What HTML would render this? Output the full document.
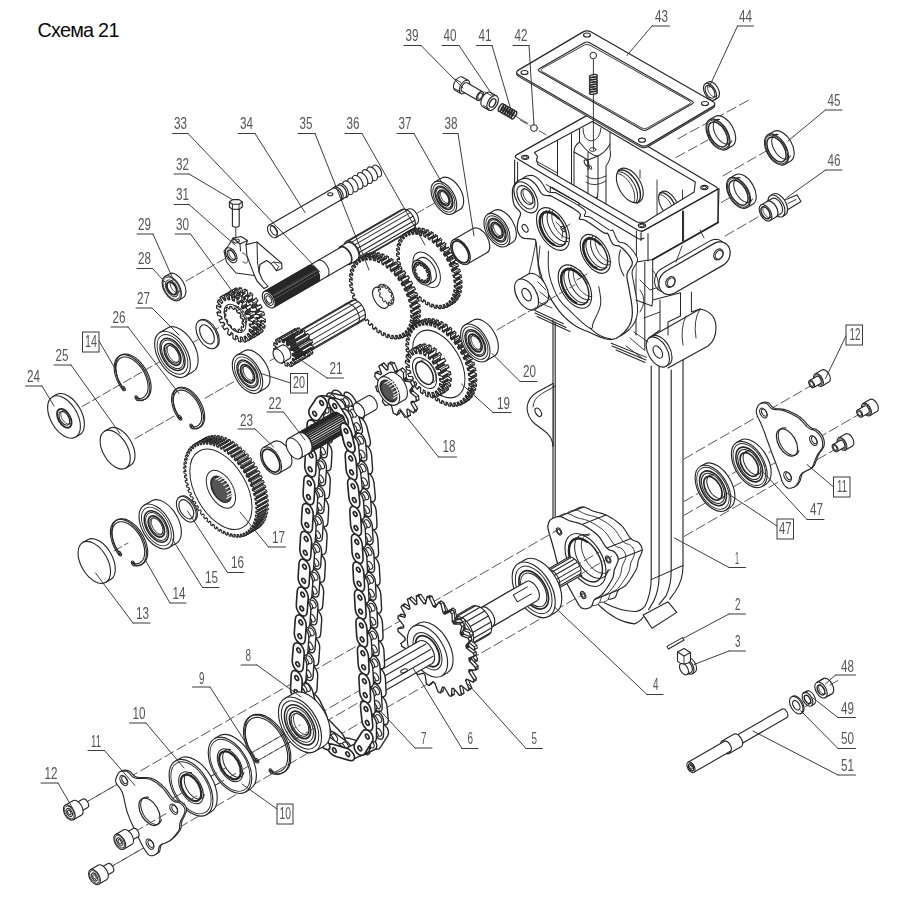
<!DOCTYPE html>
<html><head><meta charset="utf-8"><title>Схема 21</title>
<style>
html,body{margin:0;padding:0;background:#fff;}
body{width:904px;height:904px;overflow:hidden;position:relative;font-family:"Liberation Sans",sans-serif;}
h1{position:absolute;left:37.4px;top:18.6px;margin:0;font-weight:normal;font-size:19.8px;line-height:22px;color:#0a0a0a;letter-spacing:-0.72px;white-space:nowrap;}
svg{position:absolute;left:0;top:0;will-change:transform;}
.lb{font-family:"Liberation Sans",sans-serif;font-size:16.5px;fill:#555;}
</style></head><body>
<h1>Схема 21</h1>
<svg width="904" height="904" viewBox="0 0 904 904" fill="none" stroke-linecap="round">
<path d="M553 320 L553 520 M555.2 322 L555.2 516" fill="none" stroke="#262626" stroke-width="1.12" stroke-linejoin="round" />
<path d="M651.2 366 L651.2 579.6 Q651 594 645 606.2 Q640 612 634.3 611.5 Q620 611 604.2 602.7" fill="none" stroke="#262626" stroke-width="1.12" stroke-linejoin="round" />
<path d="M659.1 362 L659.1 576 Q659 590 653.8 600.9 L648.5 609.7" fill="none" stroke="#262626" stroke-width="1.12" stroke-linejoin="round" />
<path d="M671.2 370 L671.2 570.8 Q671.2 585 666.2 595.6 L659.1 604.4" fill="none" stroke="#262626" stroke-width="1.12" stroke-linejoin="round" />
<path d="M683 358 L683 565.5 Q683.2 580 675 592 L669.7 599.1" fill="none" stroke="#262626" stroke-width="1.12" stroke-linejoin="round" />
<line x1="651.2" y1="579.6" x2="683.0" y2="565.5" stroke="#262626" stroke-width="1.01" />
<path d="M644.8 262 L644.8 350 M636 262 L636 335" fill="none" stroke="#262626" stroke-width="1.01" stroke-linejoin="round" />
<path d="M598 604.4 Q616 622 634.3 623.9 Q640 622 643.2 617" fill="none" stroke="#262626" stroke-width="1.12" stroke-linejoin="round" />
<path d="M643.2 615.0 L668.0 601.8 L676.8 612.4 L652.0 628.3 Z" fill="#fff" stroke="#262626" stroke-width="1.12" stroke-linejoin="round" />
<line x1="643.2" y1="615.0" x2="648.0" y2="622.0" stroke="#262626" stroke-width="0.90" />
<path d="M553 383.5 L537 392.3 Q527.5 398 527 408.5 Q528 418 534.5 423.5 L544.5 431 Q552 436 553 446" fill="#fff" stroke="#262626" stroke-width="1.12" stroke-linejoin="round" />
<path d="M555.2 386 L542 393.5 Q533 399 533 407" fill="none" stroke="#262626" stroke-width="0.90" stroke-linejoin="round" />
<ellipse cx="538.3" cy="412.3" rx="4.60" ry="2.65" transform="rotate(60 538.3 412.3)" fill="none" stroke="#262626" stroke-width="1.12" />
<line x1="553.0" y1="383.5" x2="553.0" y2="446.0" stroke="#262626" stroke-width="1.12" />
<path d="M572.2 515.0 L572.5 514.0 L572.8 512.9 L573.2 511.9 L573.8 510.9 L574.8 510.0 L576.1 509.2 L577.7 508.3 L579.6 507.6 L581.6 507.1 L583.5 507.0 L585.4 507.4 L587.3 508.2 L589.3 509.2 L591.3 510.3 L593.5 511.2 L595.8 511.9 L598.2 512.5 L600.7 513.1 L603.3 513.9 L606.0 515.0 L608.9 516.5 L612.1 518.4 L615.2 520.4 L618.3 522.7 L621.0 525.0 L623.4 527.7 L625.5 530.7 L627.4 533.8 L629.2 536.6 L631.0 538.8 L632.7 540.1 L634.4 540.8 L635.9 541.2 L637.3 541.7 L638.5 542.5 L639.6 543.7 L640.6 545.1 L641.5 546.6 L642.0 548.3 L642.2 550.0 L642.0 551.8 L641.2 553.8 L640.3 555.9 L639.3 558.0 L638.5 560.0 L638.0 561.9 L637.8 563.8 L637.5 565.6 L637.0 567.7 L636.0 570.0 L634.4 572.8 L632.4 576.1 L630.2 579.5 L628.0 582.6 L626.0 585.0 L624.3 586.6 L622.6 587.6 L621.1 588.3 L619.7 589.0 L618.5 590.0 L617.6 591.4 L617.0 593.1 L616.4 594.8 L615.8 596.4 L614.8 597.5 L613.3 598.3 L611.5 598.9 L609.6 599.3 L607.7 599.2 L606.0 598.8 L604.6 597.7 L603.3 596.1 L602.1 594.2 L601.0 592.1 L599.8 590.0 L598.6 588.0 L597.4 586.0 L596.3 583.9 L595.0 581.5 L593.5 578.8 L591.7 575.5 L589.6 572.0 L587.4 568.1 L585.3 564.1 L583.5 560.0 L582.0 555.7 L580.7 551.0 L579.5 546.3 L578.4 541.7 L577.2 537.5 L576.1 533.5 L574.9 529.5 L573.8 525.9 L572.9 522.6 L572.2 520.0 L571.9 518.2 L571.8 517.1 L571.8 516.4 L572.0 515.8 Z" fill="#fff" stroke="#262626" stroke-width="1.12" stroke-linejoin="round" />
<path d="M564.6 518.0 L564.8 517.0 L565.1 515.9 L565.5 514.9 L566.1 513.9 L567.1 513.0 L568.4 512.2 L570.1 511.3 L571.9 510.6 L573.9 510.1 L575.8 510.0 L577.7 510.4 L579.6 511.2 L581.6 512.3 L583.6 513.4 L585.8 514.3 L588.1 515.0 L590.5 515.5 L593.0 516.1 L595.6 516.9 L598.3 518.0 L601.2 519.6 L604.4 521.4 L607.6 523.5 L610.6 525.7 L613.3 528.0 L615.7 530.7 L617.8 533.7 L619.7 536.8 L621.6 539.6 L623.3 541.8 L625.0 543.1 L626.7 543.8 L628.2 544.2 L629.6 544.7 L630.8 545.5 L631.9 546.8 L633.0 548.1 L633.8 549.7 L634.4 551.3 L634.6 553.0 L634.3 554.9 L633.6 556.9 L632.6 558.9 L631.6 561.0 L630.8 563.0 L630.4 565.0 L630.1 566.8 L629.8 568.7 L629.3 570.7 L628.3 573.0 L626.8 575.9 L624.7 579.2 L622.5 582.5 L620.3 585.6 L618.3 588.0 L616.6 589.6 L615.0 590.6 L613.4 591.3 L612.0 592.0 L610.8 593.0 L609.9 594.5 L609.3 596.2 L608.8 597.9 L608.1 599.4 L607.1 600.5 L605.6 601.4 L603.8 602.0 L601.9 602.3 L600.0 602.3 L598.3 601.8 L596.9 600.7 L595.6 599.1 L594.5 597.2 L593.3 595.1 L592.1 593.0 L590.9 591.1 L589.8 589.1 L588.6 587.0 L587.3 584.6 L585.8 581.8 L584.0 578.6 L581.9 575.0 L579.7 571.2 L577.6 567.1 L575.8 563.0 L574.3 558.7 L573.0 554.1 L571.8 549.4 L570.7 544.8 L569.6 540.5 L568.4 536.5 L567.2 532.6 L566.1 528.9 L565.2 525.7 L564.6 523.0 L564.2 521.2 L564.1 520.1 L564.2 519.4 L564.3 518.8 Z" fill="#fff" stroke="#262626" stroke-width="0.90" stroke-linejoin="round" />
<path d="M555.9 521.5 L556.2 520.4 L556.4 519.4 L556.9 518.3 L557.5 517.3 L558.4 516.5 L559.8 515.6 L561.4 514.8 L563.3 514.0 L565.2 513.6 L567.2 513.5 L569.1 513.9 L571.0 514.7 L572.9 515.7 L575.0 516.8 L577.2 517.7 L579.5 518.4 L581.9 518.9 L584.4 519.5 L587.0 520.3 L589.7 521.5 L592.6 523.0 L595.7 524.8 L598.9 526.9 L602.0 529.1 L604.7 531.5 L607.0 534.1 L609.2 537.2 L611.1 540.2 L612.9 543.0 L614.7 545.2 L616.4 546.5 L618.0 547.3 L619.6 547.7 L621.0 548.1 L622.2 549.0 L623.3 550.2 L624.3 551.6 L625.1 553.1 L625.7 554.7 L625.9 556.5 L625.6 558.3 L624.9 560.3 L624.0 562.3 L623.0 564.4 L622.2 566.5 L621.7 568.4 L621.4 570.2 L621.2 572.1 L620.6 574.1 L619.7 576.5 L618.1 579.3 L616.1 582.6 L613.9 585.9 L611.6 589.0 L609.7 591.5 L608.0 593.1 L606.3 594.1 L604.8 594.8 L603.4 595.5 L602.2 596.5 L601.3 597.9 L600.6 599.6 L600.1 601.3 L599.4 602.8 L598.4 604.0 L597.0 604.8 L595.2 605.4 L593.2 605.7 L591.3 605.7 L589.7 605.2 L588.3 604.1 L587.0 602.6 L585.8 600.6 L584.6 598.5 L583.4 596.5 L582.2 594.5 L581.1 592.5 L579.9 590.4 L578.7 588.0 L577.2 585.2 L575.4 582.0 L573.3 578.4 L571.1 574.6 L569.0 570.6 L567.2 566.5 L565.7 562.1 L564.3 557.5 L563.2 552.8 L562.0 548.2 L560.9 544.0 L559.8 539.9 L558.6 536.0 L557.5 532.3 L556.6 529.1 L555.9 526.5 L555.6 524.7 L555.4 523.6 L555.5 522.9 L555.7 522.3 Z" fill="#fff" stroke="#262626" stroke-width="0.90" stroke-linejoin="round" />
<line x1="559.5" y1="516.5" x2="583.5" y2="507.0" stroke="#262626" stroke-width="1.01" />
<line x1="618.2" y1="559.5" x2="642.2" y2="550.0" stroke="#262626" stroke-width="1.01" />
<line x1="594.5" y1="599.5" x2="618.5" y2="590.0" stroke="#262626" stroke-width="1.01" />
<line x1="607.0" y1="548.0" x2="631.0" y2="538.5" stroke="#262626" stroke-width="1.01" />
<line x1="582.0" y1="524.5" x2="606.0" y2="515.0" stroke="#262626" stroke-width="1.01" />
<path d="M548.2 524.5 L548.5 523.5 L548.8 522.4 L549.2 521.4 L549.8 520.4 L550.8 519.5 L552.1 518.7 L553.7 517.8 L555.6 517.1 L557.6 516.6 L559.5 516.5 L561.4 516.9 L563.3 517.7 L565.3 518.7 L567.3 519.8 L569.5 520.8 L571.8 521.4 L574.2 522.0 L576.7 522.6 L579.3 523.4 L582.0 524.5 L584.9 526.0 L588.1 527.9 L591.2 529.9 L594.3 532.2 L597.0 534.5 L599.4 537.2 L601.5 540.2 L603.4 543.3 L605.2 546.1 L607.0 548.2 L608.7 549.6 L610.4 550.3 L611.9 550.7 L613.3 551.2 L614.5 552.0 L615.6 553.2 L616.6 554.6 L617.5 556.1 L618.0 557.8 L618.2 559.5 L618.0 561.3 L617.2 563.3 L616.3 565.4 L615.3 567.5 L614.5 569.5 L614.0 571.4 L613.8 573.3 L613.5 575.1 L613.0 577.2 L612.0 579.5 L610.4 582.3 L608.4 585.6 L606.2 589.0 L604.0 592.1 L602.0 594.5 L600.3 596.1 L598.6 597.1 L597.1 597.8 L595.7 598.5 L594.5 599.5 L593.6 600.9 L593.0 602.6 L592.4 604.3 L591.8 605.9 L590.8 607.0 L589.3 607.8 L587.5 608.4 L585.6 608.8 L583.7 608.7 L582.0 608.2 L580.6 607.2 L579.3 605.6 L578.1 603.7 L577.0 601.6 L575.8 599.5 L574.6 597.5 L573.4 595.5 L572.3 593.4 L571.0 591.0 L569.5 588.2 L567.7 585.0 L565.6 581.5 L563.4 577.6 L561.3 573.6 L559.5 569.5 L558.0 565.2 L556.7 560.5 L555.5 555.8 L554.4 551.2 L553.2 547.0 L552.1 543.0 L550.9 539.0 L549.8 535.4 L548.9 532.1 L548.2 529.5 L547.9 527.7 L547.8 526.6 L547.8 525.9 L548.0 525.3 Z" fill="#fff" stroke="#262626" stroke-width="1.23" stroke-linejoin="round" />
<ellipse cx="585.5" cy="560.0" rx="29.00" ry="16.73" transform="rotate(60 585.5 560.0)" fill="none" stroke="#262626" stroke-width="1.12" />
<ellipse cx="585.5" cy="560.0" rx="24.00" ry="13.85" transform="rotate(60 585.5 560.0)" fill="none" stroke="#262626" stroke-width="1.46" />
<path d="M608.2 569.6 L607.4 572.5 L606.1 575.0 L604.3 576.8 L602.0 577.9 L599.4 578.4 L596.6 578.1 L593.6 577.2 L590.5 575.5 L587.5 573.2 L584.6 570.4 L581.9 567.1 L579.5 563.4 L577.5 559.6 L576.0 555.6 L575.0 551.6 L574.6 547.9 L574.7 544.4 L575.3 541.3 L576.5 538.7 L578.2 536.7 L580.3 535.3 L582.8 534.7 L585.6 534.7 L588.5 535.5" fill="none" stroke="#262626" stroke-width="1.01" stroke-linejoin="round" />
<path d="M610.3 569.1 L609.1 570.8 L607.6 572.1 L605.8 573.0 L603.7 573.3 L601.5 573.2 L599.1 572.5 L596.7 571.4 L594.3 569.8 L591.9 567.8 L589.7 565.4 L587.6 562.8 L585.8 559.9 L584.2 556.9 L582.9 553.7 L582.0 550.6 L581.5 547.6 L581.3 544.7 L581.5 542.0 L582.1 539.6 L583.1 537.6 L584.4 536.0 L586.1 534.9 L588.0 534.2 L590.1 534.1" fill="none" stroke="#262626" stroke-width="0.90" stroke-linejoin="round" />
<path d="M581.2 576.0 L579.3 574.1 L577.4 572.0 L575.7 569.8 L574.2 567.3 L572.8 564.8 L571.6 562.2 L570.6 559.6 L569.8 556.9 L569.3 554.4 L569.0 551.9 L569.0 549.5 L569.2 547.3 L569.7 545.3 L570.4 543.5 L571.4 541.9 L572.5 540.7 L573.9 539.7 L575.4 539.0 L577.1 538.7 L578.9 538.7 L580.9 539.0 L582.9 539.6 L584.9 540.6 L586.9 541.8" fill="none" stroke="#262626" stroke-width="2.24" stroke-linejoin="round" />
<ellipse cx="559.0" cy="531.5" rx="3.80" ry="2.19" transform="rotate(60 559.0 531.5)" fill="none" stroke="#262626" stroke-width="1.12" />
<ellipse cx="559.0" cy="531.5" rx="2.30" ry="1.33" transform="rotate(60 559.0 531.5)" fill="none" stroke="#262626" stroke-width="0.90" />
<ellipse cx="608.2" cy="559.5" rx="3.80" ry="2.19" transform="rotate(60 608.2 559.5)" fill="none" stroke="#262626" stroke-width="1.12" />
<ellipse cx="608.2" cy="559.5" rx="2.30" ry="1.33" transform="rotate(60 608.2 559.5)" fill="none" stroke="#262626" stroke-width="0.90" />
<ellipse cx="583.2" cy="595.0" rx="3.80" ry="2.19" transform="rotate(60 583.2 595.0)" fill="none" stroke="#262626" stroke-width="1.12" />
<ellipse cx="583.2" cy="595.0" rx="2.30" ry="1.33" transform="rotate(60 583.2 595.0)" fill="none" stroke="#262626" stroke-width="0.90" />
<path d="M641.0 232.0 L719.0 188.5 L718.0 222.5 L652.7 259.5 L636.0 262.0 L636.0 239.5 Z" fill="#fff" stroke="#262626" stroke-width="1.12" stroke-linejoin="round" />
<path d="M652.7 259.5 L718 222.5" fill="none" stroke="#262626" stroke-width="1.68" stroke-linejoin="round" />
<path d="M682.5 211 L682.5 241 M683.6 211 L683.6 240.5 M648 233.6 L648 261" fill="none" stroke="#262626" stroke-width="1.01" stroke-linejoin="round" />
<path d="M513.5 156.5 L641.0 232.0 L636.0 262.0 L632.0 330.0 L590.0 335.0 L540.0 300.0 L514.0 205.0 Z" fill="#fff" stroke="#fff" stroke-width="0.11" stroke-linejoin="round" />
<path d="M552 187.5 L638.0 238.5 Q641.0 240.0 644.0 238.0" fill="none" stroke="#262626" stroke-width="1.12" stroke-linejoin="round" />
<line x1="641.0" y1="233.0" x2="641.0" y2="240.5" stroke="#262626" stroke-width="1.12" />
<line x1="718.0" y1="189.5" x2="718.0" y2="222.5" stroke="#262626" stroke-width="1.12" />
<line x1="636.4" y1="231.0" x2="636.4" y2="262.0" stroke="#262626" stroke-width="1.01" />
<line x1="514.6" y1="160.0" x2="514.6" y2="185.0" stroke="#262626" stroke-width="1.12" />
<line x1="517.6" y1="162.0" x2="517.6" y2="183.0" stroke="#262626" stroke-width="1.01" />
<path d="M517.0 154.6 Q513.5 156.5 516.9 158.5 L637.6 230.0 Q641.0 232.0 644.5 230.1 L715.5 190.4 Q719.0 188.5 715.6 186.5 L594.9 115.0 Q591.5 113.0 588.0 114.9 Z" fill="#fff" stroke="#262626" stroke-width="1.23" stroke-linejoin="round" />
<path d="M534.4 152.4 L592.3 121.4 L695.3 182.0 L694.2 192.0 L651.0 218.5 L645.5 222.3 L637.0 222.1 L537.9 164.4 L536.5 160.0 L537.5 156.5 Z" fill="#fff" stroke="#262626" stroke-width="1.12" stroke-linejoin="round" />
<clipPath id="cpOpen"><path d="M534.4 152.4 L592.3 121.4 L695.3 182 L694.2 192 L651 218.5 L645.5 222.3 L637 222.1 L537.9 164.4 L536.5 160 L537.5 156.5 Z"/></clipPath>
<g clip-path="url(#cpOpen)">
<path d="M557.5 140 L557.5 215 M571.5 134 L571.5 215" fill="none" stroke="#262626" stroke-width="1.01" stroke-linejoin="round" />
<path d="M534.4 152.4 L534.4 160 L557.5 173" fill="none" stroke="#262626" stroke-width="0.90" stroke-linejoin="round" />
<ellipse cx="629.8" cy="185.5" rx="19.00" ry="10.96" transform="rotate(60 629.8 185.5)" fill="none" stroke="#262626" stroke-width="1.12" />
<path d="M618.4 170.3 L619.7 170.0 L621.1 169.9 L622.7 170.0 L624.3 170.4 L625.9 171.1 L627.6 172.0 L629.2 173.2 L630.8 174.6 L632.4 176.1 L633.9 177.9 L635.3 179.7 L636.5 181.7 L637.6 183.8 L638.5 185.9 L639.3 188.1 L639.9 190.2 L640.2 192.3 L640.4 194.3 L640.4 196.2 L640.2 197.9 L639.7 199.5 L639.1 200.9 L638.3 202.1 L637.3 203.1" fill="none" stroke="#262626" stroke-width="1.46" stroke-linejoin="round" />
<path d="M618.0 171.7 L619.2 171.7 L620.6 171.9 L621.9 172.3 L623.4 172.9 L624.8 173.7 L626.2 174.6 L627.6 175.7 L629.0 177.0 L630.3 178.4 L631.5 179.9 L632.7 181.6 L633.7 183.3 L634.7 185.0 L635.5 186.9 L636.2 188.7 L636.8 190.5 L637.2 192.3 L637.5 194.1 L637.6 195.8 L637.5 197.4 L637.3 199.0 L637.0 200.3 L636.5 201.6 L635.8 202.7" fill="none" stroke="#262626" stroke-width="1.01" stroke-linejoin="round" />
<path d="M617.6 173.7 L618.8 173.9 L620.0 174.3 L621.2 174.9 L622.4 175.5 L623.6 176.3 L624.8 177.2 L625.9 178.3 L627.0 179.4 L628.1 180.7 L629.1 182.0 L630.1 183.4 L631.0 184.8 L631.8 186.3 L632.5 187.8 L633.2 189.4 L633.7 190.9 L634.1 192.5 L634.4 194.0 L634.6 195.5 L634.7 196.9 L634.7 198.3 L634.6 199.6 L634.3 200.8 L634.0 201.9" fill="none" stroke="#262626" stroke-width="0.90" stroke-linejoin="round" />
<ellipse cx="668.5" cy="204.0" rx="14.00" ry="8.08" transform="rotate(60 668.5 204.0)" fill="none" stroke="#262626" stroke-width="1.12" />
<path d="M659.6 193.1 L660.6 192.8 L661.7 192.7 L662.8 192.8 L664.0 193.2 L665.2 193.7 L666.4 194.3 L667.6 195.2 L668.8 196.2 L670.0 197.3 L671.1 198.6 L672.1 200.0 L673.0 201.5 L673.8 203.0 L674.5 204.6 L675.1 206.1 L675.5 207.7 L675.8 209.2 L675.9 210.7 L675.9 212.1 L675.7 213.4 L675.4 214.6 L674.9 215.6 L674.3 216.5 L673.6 217.2" fill="none" stroke="#262626" stroke-width="1.34" stroke-linejoin="round" />
<path d="M658.7 194.7 L659.7 194.7 L660.6 194.8 L661.6 195.1 L662.7 195.5 L663.7 196.1 L664.7 196.8 L665.8 197.6 L666.8 198.5 L667.7 199.6 L668.6 200.7 L669.5 201.9 L670.2 203.1 L670.9 204.4 L671.5 205.7 L672.1 207.1 L672.5 208.4 L672.8 209.7 L673.0 211.0 L673.0 212.3 L673.0 213.5 L672.9 214.6 L672.6 215.6 L672.2 216.5 L671.8 217.3" fill="none" stroke="#262626" stroke-width="0.90" stroke-linejoin="round" />
<path d="M682.5 190 L682.5 224 M657 180 L657 220 M640 170 L640 178" fill="none" stroke="#262626" stroke-width="0.90" stroke-linejoin="round" />
<path d="M579.5 118 L579.5 142 Q574 146 574 152 L574 222 M610 120 L610 150 Q612 158 606 166 L606 230 M588 152 L588 196 Q589 200 586 206 L586 224 M598 156 L598 190 Q598 198 594 204 L594 232" fill="none" stroke="#262626" stroke-width="1.01" stroke-linejoin="round" />
<path d="M579.5 142 Q590 156 598 156 Q606 152 610 144 M574 152 L588 160 L598 156 M588 160 L588 170" fill="none" stroke="#262626" stroke-width="1.01" stroke-linejoin="round" />
<path d="M583 128 Q583 140 591 141 Q600 140 601 128" fill="none" stroke="#262626" stroke-width="0.90" stroke-linejoin="round" />
<ellipse cx="592.7" cy="149.5" rx="3.20" ry="1.85" transform="rotate(0 592.7 149.5)" fill="none" stroke="#262626" stroke-width="0.90" />
<ellipse cx="586.5" cy="163.0" rx="3.50" ry="1.75" transform="rotate(60 586.5 163.0)" fill="none" stroke="#262626" stroke-width="1.01" />
<ellipse cx="590.5" cy="167.5" rx="1.80" ry="1.04" transform="rotate(60 590.5 167.5)" fill="none" stroke="#262626" stroke-width="0.90" />
<path d="M586 176 Q594 182 606 176 M586 182 Q594 188 606 181 M586 196 Q592 200 598 197" fill="none" stroke="#262626" stroke-width="0.90" stroke-linejoin="round" />
</g>
<ellipse cx="525.2" cy="157.3" rx="3.60" ry="2.08" transform="rotate(0 525.2 157.3)" fill="none" stroke="#262626" stroke-width="1.12" />
<ellipse cx="525.2" cy="157.3" rx="2.20" ry="1.27" transform="rotate(0 525.2 157.3)" fill="none" stroke="#262626" stroke-width="0.90" />
<ellipse cx="642.0" cy="225.5" rx="3.60" ry="2.08" transform="rotate(0 642.0 225.5)" fill="none" stroke="#262626" stroke-width="1.12" />
<ellipse cx="642.0" cy="225.5" rx="2.20" ry="1.27" transform="rotate(0 642.0 225.5)" fill="none" stroke="#262626" stroke-width="0.90" />
<ellipse cx="704.4" cy="187.5" rx="3.60" ry="2.08" transform="rotate(0 704.4 187.5)" fill="none" stroke="#262626" stroke-width="1.12" />
<ellipse cx="704.4" cy="187.5" rx="2.20" ry="1.27" transform="rotate(0 704.4 187.5)" fill="none" stroke="#262626" stroke-width="0.90" />
<path d="M549.9 195.8 L550.4 187 L579 203 L578.6 221" fill="#fff" stroke="#262626" stroke-width="1.12" stroke-linejoin="round" />
<path d="M546 184.5 L578.6 203" fill="none" stroke="#262626" stroke-width="0.90" stroke-linejoin="round" />
<path d="M517.6 189.7 L517.7 187.4 L518.0 185.4 L518.6 183.6 L519.5 181.9 L520.7 180.3 L522.2 178.8 L523.9 177.5 L525.7 176.5 L527.5 175.8 L529.4 175.4 L531.4 175.3 L533.4 175.7 L535.4 176.7 L537.4 178.2 L539.4 180.0 L541.2 181.9 L542.8 184.2 L544.3 186.8 L545.8 189.3 L547.4 191.2 L549.3 192.2 L551.5 192.5 L553.5 192.6 L555.1 192.8 L555.4 192.7 L555.0 192.3 L555.1 192.3 L557.2 193.5 L562.7 196.5 L570.6 200.9 L578.4 205.4 L583.8 209.0 L585.7 211.5 L585.4 213.4 L584.5 214.8 L584.5 216.0 L585.4 216.5 L586.5 216.4 L588.1 216.5 L590.7 217.5 L594.8 220.1 L600.2 223.8 L605.4 227.4 L609.3 229.9 L611.2 230.6 L611.9 230.3 L612.2 229.9 L612.9 230.5 L614.0 232.6 L615.2 235.7 L616.6 238.8 L618.2 241.2 L620.1 242.3 L622.3 242.7 L624.6 243.2 L627.0 244.7 L629.9 247.5 L633.2 251.2 L636.0 255.2 L637.6 258.9 L637.2 262.1 L635.4 265.1 L633.4 268.0 L632.2 271.2 L632.1 274.4 L632.6 277.5 L633.4 281.1 L634.2 285.4 L635.2 291.1 L636.4 297.7 L637.3 304.4 L637.6 310.2 L637.1 314.9 L636.1 319.0 L634.5 322.6 L632.2 326.0 L629.1 329.5 L625.4 332.8 L621.1 335.5 L616.4 336.7 L611.0 336.0 L604.9 333.9 L598.8 331.2 L593.4 328.8 L588.9 327.0 L584.9 325.2 L581.2 323.2 L577.5 320.8 L573.7 317.8 L570.1 314.4 L566.5 310.7 L563.2 306.6 L560.1 302.2 L557.1 297.6 L554.3 292.6 L551.8 287.2 L549.4 281.3 L547.2 275.0 L545.3 268.6 L543.8 262.4 L542.8 256.0 L542.2 249.4 L541.8 243.5 L541.2 239.2 L540.6 237.0 L540.2 236.3 L539.4 236.3 L538.1 236.1 L535.8 235.8 L532.7 235.6 L529.7 235.4 L527.2 234.6 L525.5 233.1 L524.2 231.2 L523.2 229.0 L522.6 226.8 L522.4 224.5 L522.6 222.1 L523.0 219.7 L523.4 217.5 L524.1 215.5 L525.0 213.6 L525.7 211.7 L525.7 209.8 L524.6 208.0 L522.9 206.2 L520.9 204.3 L519.5 202.0 L518.6 199.1 L518.0 195.8 L517.7 192.6 Z" fill="#fff" stroke="#262626" stroke-width="1.01" stroke-linejoin="round" />
<path d="M512.4 192.7 L512.5 190.4 L512.8 188.4 L513.4 186.6 L514.3 184.9 L515.5 183.3 L517.0 181.8 L518.7 180.5 L520.5 179.5 L522.3 178.8 L524.3 178.4 L526.2 178.3 L528.2 178.7 L530.2 179.7 L532.2 181.2 L534.2 183.0 L536.0 184.9 L537.6 187.2 L539.1 189.8 L540.6 192.3 L542.2 194.2 L544.2 195.2 L546.3 195.5 L548.3 195.6 L549.9 195.8 L550.2 195.7 L549.8 195.3 L549.9 195.3 L552.0 196.5 L557.5 199.5 L565.4 203.9 L573.2 208.4 L578.6 212.0 L580.5 214.5 L580.2 216.4 L579.3 217.8 L579.3 219.0 L580.2 219.5 L581.3 219.4 L582.9 219.5 L585.5 220.5 L589.6 223.1 L595.0 226.8 L600.2 230.4 L604.1 232.9 L606.0 233.6 L606.7 233.3 L607.0 232.9 L607.7 233.5 L608.8 235.6 L610.0 238.7 L611.4 241.8 L613.0 244.2 L614.9 245.3 L617.1 245.7 L619.4 246.2 L621.8 247.7 L624.7 250.5 L628.0 254.2 L630.8 258.2 L632.4 261.9 L632.0 265.1 L630.2 268.1 L628.2 271.0 L627.0 274.2 L626.9 277.4 L627.4 280.5 L628.2 284.1 L629.0 288.4 L630.0 294.1 L631.2 300.7 L632.1 307.4 L632.4 313.2 L631.9 317.9 L630.9 322.0 L629.3 325.6 L627.0 329.0 L624.0 332.5 L620.2 335.8 L615.9 338.5 L611.2 339.7 L605.8 339.0 L599.7 336.9 L593.6 334.2 L588.2 331.8 L583.7 330.0 L579.7 328.2 L576.0 326.2 L572.3 323.8 L568.5 320.8 L564.9 317.4 L561.3 313.7 L558.0 309.6 L554.9 305.2 L551.9 300.6 L549.1 295.6 L546.6 290.2 L544.2 284.3 L542.0 278.0 L540.1 271.6 L538.6 265.4 L537.6 259.0 L537.0 252.4 L536.6 246.5 L536.0 242.2 L535.4 240.0 L535.0 239.3 L534.2 239.3 L532.9 239.1 L530.6 238.8 L527.5 238.6 L524.5 238.4 L522.0 237.6 L520.3 236.1 L519.0 234.2 L518.0 232.0 L517.4 229.8 L517.2 227.5 L517.4 225.1 L517.8 222.7 L518.2 220.5 L518.9 218.5 L519.8 216.6 L520.5 214.7 L520.5 212.8 L519.4 211.0 L517.7 209.2 L515.7 207.3 L514.3 205.0 L513.4 202.1 L512.8 198.8 L512.5 195.6 Z" fill="#fff" stroke="#262626" stroke-width="1.23" stroke-linejoin="round" />
<path d="M548.4 251.2 L548.4 253.7 L548.3 257.2 L548.2 261.3 L548.3 265.7 L548.6 270.1 L549.2 274.2 L550.1 278.1 L551.3 282.2 L552.8 286.2 L554.4 290.1 L556.1 293.9 L558.0 297.3 L560.0 300.4 L562.2 303.2 L564.6 305.8 L567.1 308.2 L569.7 310.7 L572.3 313.2 L575.2 316.0 L578.5 319.1 L581.8 322.1 L585.0 324.8 L587.8 326.9 L590.0 328.2 L591.4 328.5 L592.1 328.1 L592.4 327.1 L592.6 325.7 L592.9 323.9 L593.5 322.0 L594.6 319.7 L595.9 317.0 L597.4 313.9 L598.8 310.6 L599.9 307.4 L600.6 304.3 L600.8 301.1 L600.6 297.7 L600.1 294.3 L599.6 291.2 L599.1 288.5 L598.8 286.6" fill="none" stroke="#262626" stroke-width="1.01" stroke-linejoin="round" />
<path d="M611 339 Q600 338 590 328.2 M620.5 250 Q616 262 624 276" fill="none" stroke="#262626" stroke-width="1.01" stroke-linejoin="round" />
<ellipse cx="553.0" cy="229.0" rx="23.30" ry="13.44" transform="rotate(60 553.0 229.0)" fill="#fff" stroke="#262626" stroke-width="1.12" />
<ellipse cx="553.0" cy="229.0" rx="19.20" ry="11.08" transform="rotate(60 553.0 229.0)" fill="none" stroke="#262626" stroke-width="1.46" />
<path d="M554.1 244.8 L552.1 243.7 L550.2 242.2 L548.2 240.4 L546.4 238.4 L544.8 236.1 L543.3 233.7 L542.1 231.1 L541.1 228.5 L540.4 226.0 L540.0 223.5 L539.9 221.1 L540.1 218.9 L540.5 216.9 L541.3 215.3 L542.4 213.9 L543.7 212.9 L545.2 212.3 L546.9 212.0 L548.8 212.2 L550.7 212.7 L552.7 213.7 L554.7 214.9 L556.7 216.5 L558.6 218.4" fill="none" stroke="#262626" stroke-width="2.46" stroke-linejoin="round" />
<path d="M565.6 243.9 L564.3 244.5 L562.8 244.8 L561.2 244.8 L559.5 244.5 L557.8 243.9 L556.0 243.0 L554.2 241.8 L552.5 240.4 L550.8 238.8 L549.2 237.0 L547.7 235.0 L546.4 232.8 L545.2 230.6 L544.2 228.3 L543.5 226.1 L542.9 223.8 L542.5 221.6 L542.4 219.5 L542.5 217.5 L542.9 215.7 L543.5 214.1 L544.2 212.7 L545.2 211.5 L546.4 210.7" fill="none" stroke="#262626" stroke-width="1.01" stroke-linejoin="round" />
<path d="M567.8 241.4 L566.5 241.6 L565.1 241.6 L563.7 241.4 L562.2 240.9 L560.6 240.2 L559.1 239.3 L557.6 238.2 L556.1 236.9 L554.7 235.5 L553.3 233.8 L552.0 232.1 L550.9 230.3 L549.9 228.3 L549.0 226.4 L548.3 224.4 L547.7 222.4 L547.3 220.5 L547.1 218.6 L547.1 216.8 L547.3 215.2 L547.6 213.6 L548.2 212.3 L548.9 211.1 L549.7 210.1" fill="none" stroke="#262626" stroke-width="1.01" stroke-linejoin="round" />
<path d="M569.2 238.5 L568.0 238.3 L566.8 238.1 L565.6 237.6 L564.4 237.0 L563.1 236.3 L561.9 235.4 L560.7 234.3 L559.5 233.2 L558.4 232.0 L557.3 230.6 L556.3 229.2 L555.4 227.7 L554.5 226.1 L553.8 224.6 L553.2 223.0 L552.6 221.4 L552.2 219.8 L552.0 218.2 L551.8 216.7 L551.8 215.2 L551.9 213.9 L552.1 212.6 L552.5 211.4 L552.9 210.3" fill="none" stroke="#262626" stroke-width="0.90" stroke-linejoin="round" />
<ellipse cx="595.3" cy="253.9" rx="21.30" ry="12.29" transform="rotate(60 595.3 253.9)" fill="#fff" stroke="#262626" stroke-width="1.12" />
<ellipse cx="595.3" cy="253.9" rx="17.50" ry="10.10" transform="rotate(60 595.3 253.9)" fill="none" stroke="#262626" stroke-width="1.46" />
<path d="M596.3 268.2 L594.5 267.2 L592.7 265.9 L591.0 264.3 L589.3 262.4 L587.8 260.3 L586.5 258.1 L585.4 255.8 L584.5 253.5 L583.8 251.1 L583.5 248.9 L583.4 246.7 L583.5 244.7 L584.0 242.9 L584.7 241.4 L585.7 240.2 L586.8 239.3 L588.2 238.7 L589.8 238.5 L591.5 238.6 L593.2 239.1 L595.0 240.0 L596.9 241.1 L598.6 242.6 L600.3 244.3" fill="none" stroke="#262626" stroke-width="2.46" stroke-linejoin="round" />
<path d="M607.0 267.4 L605.8 267.9 L604.5 268.1 L603.0 268.1 L601.5 267.8 L599.9 267.3 L598.3 266.5 L596.7 265.4 L595.1 264.2 L593.6 262.7 L592.1 261.0 L590.8 259.2 L589.6 257.2 L588.5 255.2 L587.6 253.2 L586.9 251.1 L586.4 249.0 L586.0 247.0 L585.9 245.1 L586.0 243.2 L586.3 241.6 L586.9 240.1 L587.6 238.9 L588.5 237.8 L589.5 237.0" fill="none" stroke="#262626" stroke-width="1.01" stroke-linejoin="round" />
<path d="M609.4 264.8 L608.2 265.0 L607.0 265.1 L605.6 264.8 L604.3 264.4 L602.9 263.8 L601.5 263.0 L600.1 262.0 L598.7 260.8 L597.4 259.4 L596.2 258.0 L595.0 256.4 L594.0 254.7 L593.1 252.9 L592.3 251.2 L591.6 249.4 L591.1 247.5 L590.8 245.8 L590.6 244.1 L590.6 242.4 L590.7 240.9 L591.0 239.5 L591.5 238.3 L592.1 237.2 L592.9 236.3" fill="none" stroke="#262626" stroke-width="1.01" stroke-linejoin="round" />
<path d="M611.0 262.0 L610.0 261.9 L608.9 261.6 L607.8 261.2 L606.6 260.6 L605.5 260.0 L604.4 259.1 L603.3 258.2 L602.2 257.2 L601.2 256.0 L600.2 254.8 L599.3 253.5 L598.4 252.1 L597.7 250.7 L597.0 249.3 L596.4 247.8 L596.0 246.4 L595.6 244.9 L595.3 243.5 L595.2 242.1 L595.2 240.8 L595.3 239.5 L595.5 238.4 L595.8 237.3 L596.2 236.3" fill="none" stroke="#262626" stroke-width="0.90" stroke-linejoin="round" />
<ellipse cx="574.9" cy="286.6" rx="23.70" ry="13.67" transform="rotate(60 574.9 286.6)" fill="#fff" stroke="#262626" stroke-width="1.12" />
<ellipse cx="574.9" cy="286.6" rx="19.80" ry="11.42" transform="rotate(60 574.9 286.6)" fill="none" stroke="#262626" stroke-width="1.46" />
<path d="M576.1 302.9 L574.0 301.7 L572.0 300.2 L570.0 298.4 L568.1 296.3 L566.4 293.9 L564.9 291.4 L563.6 288.8 L562.6 286.1 L561.9 283.5 L561.4 280.9 L561.3 278.4 L561.5 276.2 L562.0 274.1 L562.9 272.4 L564.0 271.0 L565.3 270.0 L566.9 269.3 L568.6 269.1 L570.5 269.2 L572.5 269.8 L574.6 270.8 L576.7 272.1 L578.7 273.7 L580.6 275.7" fill="none" stroke="#262626" stroke-width="2.46" stroke-linejoin="round" />
<path d="M587.8 302.0 L586.4 302.6 L584.9 302.9 L583.3 302.9 L581.5 302.6 L579.7 302.0 L577.9 301.1 L576.1 299.9 L574.3 298.4 L572.5 296.7 L570.9 294.9 L569.4 292.8 L568.0 290.6 L566.8 288.3 L565.8 286.0 L565.0 283.6 L564.4 281.3 L564.0 279.0 L563.9 276.8 L564.0 274.8 L564.4 272.9 L565.0 271.2 L565.8 269.8 L566.8 268.6 L568.0 267.8" fill="none" stroke="#262626" stroke-width="1.01" stroke-linejoin="round" />
<path d="M589.9 299.5 L588.6 299.7 L587.2 299.7 L585.7 299.5 L584.1 299.0 L582.6 298.3 L581.0 297.4 L579.4 296.2 L577.9 294.9 L576.4 293.4 L575.0 291.7 L573.7 289.9 L572.5 288.0 L571.4 286.0 L570.5 284.0 L569.8 282.0 L569.2 279.9 L568.8 277.9 L568.6 276.0 L568.6 274.2 L568.8 272.4 L569.1 270.9 L569.7 269.5 L570.4 268.2 L571.3 267.2" fill="none" stroke="#262626" stroke-width="1.01" stroke-linejoin="round" />
<path d="M591.2 296.6 L590.0 296.4 L588.8 296.1 L587.5 295.7 L586.3 295.1 L585.0 294.3 L583.7 293.4 L582.5 292.3 L581.3 291.1 L580.1 289.8 L579.0 288.5 L577.9 287.0 L577.0 285.4 L576.1 283.8 L575.4 282.2 L574.7 280.6 L574.2 278.9 L573.8 277.3 L573.5 275.7 L573.3 274.1 L573.3 272.6 L573.4 271.2 L573.6 269.9 L574.0 268.6 L574.5 267.6" fill="none" stroke="#262626" stroke-width="0.90" stroke-linejoin="round" />
<path d="M556 222 L563 229 L570 224 M563 229 L562 238 M577 280 L587 274 M580 270 L588 284" fill="none" stroke="#262626" stroke-width="0.90" stroke-linejoin="round" />
<ellipse cx="563.0" cy="229.0" rx="3.00" ry="1.73" transform="rotate(60 563.0 229.0)" fill="none" stroke="#262626" stroke-width="0.90" />
<ellipse cx="525.9" cy="197.3" rx="17.00" ry="9.81" transform="rotate(60 525.9 197.3)" fill="none" stroke="#262626" stroke-width="1.12" />
<ellipse cx="525.9" cy="197.3" rx="12.80" ry="7.39" transform="rotate(60 525.9 197.3)" fill="none" stroke="#262626" stroke-width="1.12" />
<ellipse cx="527.0" cy="196.7" rx="8.50" ry="4.90" transform="rotate(60 527.0 196.7)" fill="none" stroke="#262626" stroke-width="1.12" />
<path d="M533.2 203.0 L532.7 203.2 L532.0 203.3 L531.3 203.3 L530.6 203.2 L529.8 202.9 L529.0 202.5 L528.2 202.0 L527.4 201.4 L526.7 200.7 L526.0 199.9 L525.3 199.0 L524.8 198.1 L524.2 197.1 L523.8 196.1 L523.4 195.0 L523.2 194.0 L523.0 193.1 L523.0 192.1 L523.0 191.3 L523.2 190.5 L523.4 189.7 L523.8 189.1 L524.2 188.6 L524.8 188.2" fill="none" stroke="#262626" stroke-width="0.90" stroke-linejoin="round" />
<ellipse cx="525.1" cy="228.3" rx="4.20" ry="2.42" transform="rotate(60 525.1 228.3)" fill="none" stroke="#262626" stroke-width="1.12" />
<path d="M535.0 310.5L563.4 323.8M535.0 313.0L566.0 327.5M537.0 316.5L570.0 331.5M611.2 343.3L646.6 357.4M612.0 346.0L646.0 360.0M616.0 350.0L645.0 362.5" fill="none" stroke="#262626" stroke-width="1.01" stroke-linejoin="round" />
<path d="M536 242 L532 262 L528 278 M540 246 L538 266 L541 280" fill="none" stroke="#262626" stroke-width="0.90" stroke-linejoin="round" />
<path d="M518.1 279.9 L528.5 273.9 A17.00 9.81 60 0 1 545.5 303.3 L535.1 309.3 Z" fill="#fff" stroke="#262626" stroke-width="1.12" stroke-linejoin="round" />
<ellipse cx="526.6" cy="294.6" rx="17.00" ry="9.81" transform="rotate(60 526.6 294.6)" fill="#fff" stroke="#262626" stroke-width="1.12" />
<ellipse cx="526.6" cy="294.6" rx="6.80" ry="3.92" transform="rotate(60 526.6 294.6)" fill="none" stroke="#262626" stroke-width="1.12" />
<path d="M538.0 282.0L546.0 290.0M540.0 292.0L550.0 300.0M538.0 302.0L552.0 308.0" fill="none" stroke="#262626" stroke-width="0.90" stroke-linejoin="round" />
<path d="M649 338 L700 309 Q716 312 716 328 Q716 340 708 346 L668 368" fill="#fff" stroke="#262626" stroke-width="1.12" stroke-linejoin="round" />
<path d="M700 309 Q693 320 696 338 M686 316 Q680 328 683 345" fill="none" stroke="#262626" stroke-width="0.90" stroke-linejoin="round" />
<path d="M649.5 337.7 L652.1 336.2 A16.50 9.52 60 0 1 668.6 364.8 L666.0 366.3 Z" fill="#fff" stroke="#262626" stroke-width="1.12" stroke-linejoin="round" />
<ellipse cx="657.8" cy="352.0" rx="16.50" ry="9.52" transform="rotate(60 657.8 352.0)" fill="#fff" stroke="#262626" stroke-width="1.12" />
<ellipse cx="657.8" cy="352.0" rx="6.80" ry="3.92" transform="rotate(60 657.8 352.0)" fill="none" stroke="#262626" stroke-width="1.12" />
<path d="M630.0 338.0L644.0 350.0M634.0 332.0L648.0 342.0M626.0 346.0L642.0 358.0" fill="none" stroke="#262626" stroke-width="0.90" stroke-linejoin="round" />
<path d="M652.7 259.5 L652.7 300 L680.5 292.8 L680.5 316 L668 322 L668 335 M691.4 292 L691.4 312 L700 309 M660 300 L660 330 L649 338 M636 300 L652 306 L652.7 300" fill="none" stroke="#262626" stroke-width="1.01" stroke-linejoin="round" />
<path d="M640 280 L650 290 L662 286 M640 290 Q648 300 640 312 M644 318 L660 312" fill="none" stroke="#262626" stroke-width="0.90" stroke-linejoin="round" />
<path d="M654.6 280.3 L654.9 278.1 L655.5 275.9 L656.5 273.9 L657.8 272.0 L659.3 270.4 L661.1 269.0 L709.1 241.4 L711.0 240.4 L713.0 239.7 L715.0 239.3 L717.0 239.4 L718.9 239.8 L720.7 240.6 L722.3 241.8 L723.6 243.2 L724.7 244.9 L725.4 246.9 L725.8 248.9 L725.8 251.1 L725.5 253.3 L724.9 255.4 L723.9 257.5 L722.6 259.4 L721.1 261.0 L719.3 262.4 L671.3 290.0 L669.4 291.0 L667.4 291.7 L665.4 292.1 L663.4 292.0 L661.5 291.6 L659.7 290.8 L658.1 289.6 L656.8 288.2 L655.7 286.4 L655.0 284.5 L654.6 282.4 Z" fill="#fff" stroke="#262626" stroke-width="1.01" stroke-linejoin="round" />
<path d="M658.9 282.8 L659.2 280.6 L659.8 278.4 L660.8 276.4 L662.1 274.5 L663.6 272.9 L665.4 271.5 L713.4 243.9 L715.3 242.9 L717.3 242.2 L719.3 241.8 L721.3 241.9 L723.2 242.3 L725.0 243.1 L726.6 244.3 L727.9 245.7 L729.0 247.4 L729.7 249.4 L730.1 251.4 L730.1 253.6 L729.8 255.8 L729.2 257.9 L728.2 260.0 L726.9 261.9 L725.4 263.5 L723.6 264.9 L675.6 292.5 L673.7 293.5 L671.7 294.2 L669.7 294.6 L667.7 294.5 L665.8 294.1 L664.0 293.3 L662.4 292.1 L661.1 290.7 L660.0 288.9 L659.3 287.0 L658.9 284.9 Z" fill="#fff" stroke="#262626" stroke-width="1.23" stroke-linejoin="round" />
<ellipse cx="670.5" cy="282.0" rx="5.80" ry="4.35" transform="rotate(-60 670.5 282.0)" fill="none" stroke="#262626" stroke-width="1.12" />
<ellipse cx="671.1" cy="282.3" rx="4.60" ry="3.45" transform="rotate(-60 671.1 282.3)" fill="none" stroke="#262626" stroke-width="1.01" />
<ellipse cx="718.5" cy="254.4" rx="5.80" ry="4.35" transform="rotate(-60 718.5 254.4)" fill="none" stroke="#262626" stroke-width="1.12" />
<ellipse cx="719.1" cy="254.7" rx="4.60" ry="3.45" transform="rotate(-60 719.1 254.7)" fill="none" stroke="#262626" stroke-width="1.01" />
<path d="M652 270 Q660 276 658 290 M676 262 L682 246 M700 230 L704 238" fill="none" stroke="#262626" stroke-width="0.90" stroke-linejoin="round" />
<line x1="82.0" y1="406.6" x2="165.0" y2="358.7" stroke="#444" stroke-width="0.90" stroke-dasharray="9 3"/>
<line x1="190.0" y1="344.2" x2="225.0" y2="324.0" stroke="#444" stroke-width="0.90" stroke-dasharray="9 3"/>
<line x1="416.0" y1="213.8" x2="435.0" y2="202.8" stroke="#444" stroke-width="0.90" stroke-dasharray="9 3"/>
<path d="M52.4 396.9 L56.4 394.6 A23.20 13.39 60 0 1 79.6 434.8 L75.6 437.1 Z" fill="#fff" stroke="#262626" stroke-width="1.12" stroke-linejoin="round" />
<ellipse cx="64.0" cy="417.0" rx="23.20" ry="13.39" transform="rotate(60 64.0 417.0)" fill="#fff" stroke="#262626" stroke-width="1.12" />
<ellipse cx="64.3" cy="418.3" rx="10.30" ry="5.94" transform="rotate(60 64.3 418.3)" fill="none" stroke="#262626" stroke-width="1.79" />
<ellipse cx="64.3" cy="418.3" rx="7.60" ry="4.39" transform="rotate(60 64.3 418.3)" fill="none" stroke="#262626" stroke-width="1.12" />
<path d="M70.6 423.3 L70.1 423.7 L69.5 424.0 L68.9 424.1 L68.2 424.1 L67.4 424.0 L66.7 423.7 L65.9 423.2 L65.1 422.6 L64.4 422.0 L63.7 421.2 L63.0 420.3 L62.4 419.4 L61.9 418.4 L61.5 417.4 L61.2 416.4 L60.9 415.4 L60.8 414.5 L60.8 413.6 L61.0 412.7 L61.2 412.0 L61.5 411.4 L62.0 410.9 L62.5 410.6 L63.1 410.3" fill="none" stroke="#262626" stroke-width="0.90" stroke-linejoin="round" />
<path d="M122.6 389.7 L120.6 387.0 L118.9 384.0 L117.4 381.0 L116.1 377.9 L115.2 374.8 L114.5 371.7 L114.2 368.7 L114.2 366.0 L114.6 363.4 L115.2 361.1 L116.2 359.1 L117.5 357.4 L119.0 356.2 L120.7 355.3 L122.7 354.8 L124.9 354.8 L127.1 355.1 L129.5 355.9 L131.9 357.1 L134.3 358.7 L136.7 360.6 L139.0 362.8 L141.1 365.3 L143.1 368.1 L144.9 371.0 L146.4 374.0 L147.7 377.1 L148.7 380.3 L149.4 383.3 L149.8 386.3 L149.8 389.1 L149.5 391.7 L148.9 394.0 L148.0 396.1 L146.7 397.8 L145.3 399.1 L143.5 400.1 L141.6 400.6 L139.5 400.7 L137.2 400.4" fill="none" stroke="#262626" stroke-width="1.12" stroke-linejoin="round" />
<path d="M123.9 389.0 L121.9 386.2 L120.2 383.3 L118.7 380.2 L117.4 377.1 L116.5 374.0 L115.8 370.9 L115.5 368.0 L115.5 365.2 L115.9 362.7 L116.5 360.3 L117.5 358.4 L118.8 356.7 L120.3 355.4 L122.0 354.5 L124.0 354.1 L126.2 354.0 L128.4 354.4 L130.8 355.2 L133.2 356.4 L135.6 357.9 L138.0 359.9 L140.3 362.1 L142.4 364.6 L144.4 367.3 L146.2 370.2 L147.7 373.3 L149.0 376.4 L150.0 379.5 L150.7 382.6 L151.1 385.5 L151.1 388.3 L150.8 391.0 L150.2 393.3 L149.3 395.3 L148.0 397.0 L146.6 398.4 L144.8 399.3 L142.9 399.9 L140.8 400.0 L138.5 399.7" fill="none" stroke="#262626" stroke-width="1.12" stroke-linejoin="round" />
<path d="M123.5 388.6 L121.7 386.1 L120.1 383.4 L118.7 380.7 L117.6 377.9 L116.8 375.0 L116.2 372.3 L115.9 369.6 L115.9 367.1 L116.2 364.8 L116.8 362.7 L117.7 360.9 L118.8 359.4 L120.2 358.2 L121.8 357.4 L123.6 357.0 L125.5 357.0 L127.6 357.3 L129.7 358.0 L131.9 359.1 L134.1 360.5 L136.2 362.2 L138.3 364.3 L140.3 366.5 L142.1 369.0 L143.7 371.6 L145.1 374.4 L146.2 377.2 L147.1 380.0 L147.7 382.8 L148.1 385.5 L148.1 388.0 L147.8 390.4 L147.3 392.5 L146.4 394.3 L145.3 395.9 L144.0 397.1 L142.4 398.0 L140.7 398.4 L138.8 398.5 L136.7 398.3" fill="none" stroke="#262626" stroke-width="1.12" stroke-linejoin="round" />
<ellipse cx="123.6" cy="388.5" rx="2.40" ry="1.38" transform="rotate(60 123.6 388.5)" fill="#fff" stroke="#262626" stroke-width="1.12" />
<ellipse cx="123.6" cy="388.5" rx="0.90" ry="0.52" transform="rotate(60 123.6 388.5)" fill="none" stroke="#262626" stroke-width="1.12" />
<ellipse cx="136.7" cy="398.0" rx="2.40" ry="1.38" transform="rotate(60 136.7 398.0)" fill="#fff" stroke="#262626" stroke-width="1.12" />
<ellipse cx="136.7" cy="398.0" rx="0.90" ry="0.52" transform="rotate(60 136.7 398.0)" fill="none" stroke="#262626" stroke-width="1.12" />
<path d="M159.8 332.4 L167.6 327.9 A25.30 14.60 60 0 1 192.9 371.8 L185.2 376.3 Z" fill="#fff" stroke="#262626" stroke-width="1.12" stroke-linejoin="round" />
<ellipse cx="172.5" cy="354.4" rx="25.30" ry="14.60" transform="rotate(60 172.5 354.4)" fill="#fff" stroke="#262626" stroke-width="1.12" />
<ellipse cx="172.5" cy="354.4" rx="21.76" ry="12.55" transform="rotate(60 172.5 354.4)" fill="none" stroke="#262626" stroke-width="0.90" />
<ellipse cx="172.5" cy="354.4" rx="17.71" ry="10.22" transform="rotate(60 172.5 354.4)" fill="none" stroke="#262626" stroke-width="1.46" />
<ellipse cx="172.5" cy="354.4" rx="15.69" ry="9.05" transform="rotate(60 172.5 354.4)" fill="none" stroke="#262626" stroke-width="0.90" />
<ellipse cx="172.5" cy="354.4" rx="11.89" ry="6.86" transform="rotate(60 172.5 354.4)" fill="none" stroke="#262626" stroke-width="1.68" />
<ellipse cx="172.5" cy="354.4" rx="9.61" ry="5.55" transform="rotate(60 172.5 354.4)" fill="none" stroke="#262626" stroke-width="1.01" />
<path d="M179.6 361.2 L178.9 361.7 L178.2 362.0 L177.4 362.2 L176.5 362.2 L175.6 362.0 L174.6 361.6 L173.6 361.1 L172.6 360.3 L171.7 359.5 L170.8 358.5 L169.9 357.4 L169.2 356.2 L168.5 355.0 L168.0 353.7 L167.6 352.4 L167.3 351.2 L167.2 350.0 L167.2 348.9 L167.4 347.8 L167.7 346.9 L168.1 346.1 L168.7 345.5 L169.3 345.0 L170.1 344.8" fill="none" stroke="#262626" stroke-width="0.90" stroke-linejoin="round" />
<ellipse cx="208.2" cy="333.7" rx="15.70" ry="9.06" transform="rotate(60 208.2 333.7)" fill="#fff" stroke="#262626" stroke-width="1.12" />
<ellipse cx="207.0" cy="334.4" rx="15.70" ry="9.06" transform="rotate(60 207.0 334.4)" fill="#fff" stroke="#262626" stroke-width="1.12" />
<ellipse cx="207.0" cy="334.4" rx="10.50" ry="6.06" transform="rotate(60 207.0 334.4)" fill="none" stroke="#262626" stroke-width="1.12" />
<line x1="186.0" y1="281.0" x2="226.0" y2="258.0" stroke="#444" stroke-width="0.90" stroke-dasharray="9 3"/>
<path d="M165.0 276.4 L169.7 273.7 A13.70 7.90 60 0 1 183.4 297.4 L178.7 300.2 Z" fill="#fff" stroke="#262626" stroke-width="1.12" stroke-linejoin="round" />
<ellipse cx="171.8" cy="288.3" rx="13.70" ry="7.90" transform="rotate(60 171.8 288.3)" fill="#fff" stroke="#262626" stroke-width="1.12" />
<ellipse cx="171.8" cy="288.3" rx="12.33" ry="7.11" transform="rotate(60 171.8 288.3)" fill="none" stroke="#262626" stroke-width="0.78" />
<ellipse cx="171.8" cy="288.3" rx="9.20" ry="5.31" transform="rotate(60 171.8 288.3)" fill="none" stroke="#262626" stroke-width="0.90" />
<ellipse cx="171.8" cy="288.3" rx="7.00" ry="4.04" transform="rotate(60 171.8 288.3)" fill="none" stroke="#262626" stroke-width="1.90" />
<path d="M179.9 290.6 L179.6 291.4 L179.2 292.0 L178.6 292.4 L178.0 292.7 L177.2 292.8 L176.4 292.6 L175.6 292.3 L174.7 291.8 L173.9 291.2 L173.0 290.3 L172.3 289.4 L171.6 288.4 L171.1 287.3 L170.7 286.2 L170.4 285.1 L170.2 284.0 L170.2 283.0 L170.4 282.1 L170.6 281.4 L171.1 280.8 L171.6 280.3 L172.3 280.1 L173.0 280.0 L173.9 280.1" fill="none" stroke="#262626" stroke-width="0.90" stroke-linejoin="round" />
<path d="M403.1 212.1 L408.3 209.1 A8.50 4.90 60 0 1 416.8 223.9 L411.6 226.9 Z" fill="#fff" stroke="#262626" stroke-width="1.12" stroke-linejoin="round" />
<ellipse cx="407.4" cy="219.5" rx="8.50" ry="4.90" transform="rotate(60 407.4 219.5)" fill="#fff" stroke="#262626" stroke-width="1.12" />
<path d="M346.2 241.5 L401.6 209.5 A11.50 6.64 60 0 1 413.1 229.5 L357.7 261.5 Z" fill="#fff" stroke="#262626" stroke-width="1.12" stroke-linejoin="round" />
<ellipse cx="351.9" cy="251.5" rx="11.50" ry="6.64" transform="rotate(60 351.9 251.5)" fill="#fff" stroke="#262626" stroke-width="1.12" />
<path d="M348.7 241.0L404.1 209.0M351.8 242.1L407.3 210.1M355.0 244.6L410.4 212.6M357.7 248.2L413.1 216.2M359.5 252.3L414.9 220.3M360.1 256.3L415.5 224.3M359.4 259.6L414.8 227.6" fill="none" stroke="#262626" stroke-width="1.01" stroke-linejoin="round" />
<path d="M340.0 246.8 L346.9 242.8 A10.00 5.77 60 0 1 356.9 260.2 L350.0 264.2 Z" fill="#fff" stroke="#262626" stroke-width="1.12" stroke-linejoin="round" />
<ellipse cx="345.0" cy="255.5" rx="10.00" ry="5.77" transform="rotate(60 345.0 255.5)" fill="#fff" stroke="#262626" stroke-width="1.12" />
<path d="M308.4 266.0 L340.4 247.5 A9.20 5.31 60 0 1 349.6 263.5 L317.6 282.0 Z" fill="#fff" stroke="#262626" stroke-width="1.12" stroke-linejoin="round" />
<ellipse cx="313.0" cy="274.0" rx="9.20" ry="5.31" transform="rotate(60 313.0 274.0)" fill="#fff" stroke="#262626" stroke-width="1.12" />
<path d="M317.9 260.5 L318.5 260.3 L319.2 260.1 L320.0 260.1 L320.8 260.3 L321.6 260.6 L322.5 261.0 L323.3 261.5 L324.2 262.2 L325.0 263.0 L325.7 263.9 L326.4 264.8 L327.1 265.8 L327.7 266.9 L328.1 268.0 L328.5 269.1 L328.8 270.2 L328.9 271.2 L329.0 272.3 L328.9 273.2 L328.8 274.1 L328.5 274.8 L328.1 275.5 L327.7 276.1 L327.1 276.5" fill="none" stroke="#262626" stroke-width="1.01" stroke-linejoin="round" />
<path d="M264.2 291.4 L308.3 265.9 A9.30 5.37 60 0 1 317.6 282.1 L273.4 307.6 Z" fill="#fff" stroke="#262626" stroke-width="1.12" stroke-linejoin="round" />
<ellipse cx="268.8" cy="299.5" rx="9.30" ry="5.37" transform="rotate(60 268.8 299.5)" fill="#fff" stroke="#262626" stroke-width="1.12" />
<path d="M265.5 291.0L309.6 265.5M266.5 291.1L310.6 265.6M267.5 291.3L311.7 265.8M268.6 291.8L312.7 266.3M269.6 292.5L313.8 267.0M270.7 293.3L314.9 267.8M271.7 294.4L315.9 268.9M272.6 295.5L316.8 270.0M273.4 296.8L317.6 271.3M274.1 298.2L318.3 272.7M274.7 299.6L318.9 274.1M275.1 300.9L319.3 275.4M275.3 302.3L319.5 276.8M275.4 303.6L319.5 278.1M275.2 304.7L319.4 279.2M274.9 305.8L319.1 280.3M274.5 306.6L318.6 281.1" fill="none" stroke="#262626" stroke-width="1.40" stroke-linejoin="round" />
<ellipse cx="268.8" cy="299.5" rx="6.50" ry="3.75" transform="rotate(60 268.8 299.5)" fill="none" stroke="#262626" stroke-width="1.01" />
<ellipse cx="268.8" cy="299.5" rx="4.00" ry="2.31" transform="rotate(60 268.8 299.5)" fill="none" stroke="#262626" stroke-width="1.01" />
<ellipse cx="377.0" cy="171.0" rx="6.50" ry="3.75" transform="rotate(60 377.0 171.0)" fill="#fff" stroke="#262626" stroke-width="1.12" />
<ellipse cx="372.2" cy="173.8" rx="7.60" ry="4.39" transform="rotate(60 372.2 173.8)" fill="#fff" stroke="#262626" stroke-width="1.12" />
<ellipse cx="367.3" cy="176.6" rx="7.60" ry="4.39" transform="rotate(60 367.3 176.6)" fill="#fff" stroke="#262626" stroke-width="1.12" />
<ellipse cx="362.5" cy="179.4" rx="7.60" ry="4.39" transform="rotate(60 362.5 179.4)" fill="#fff" stroke="#262626" stroke-width="1.12" />
<ellipse cx="357.6" cy="182.2" rx="7.60" ry="4.39" transform="rotate(60 357.6 182.2)" fill="#fff" stroke="#262626" stroke-width="1.12" />
<ellipse cx="352.8" cy="185.0" rx="7.60" ry="4.39" transform="rotate(60 352.8 185.0)" fill="#fff" stroke="#262626" stroke-width="1.12" />
<ellipse cx="347.9" cy="187.8" rx="7.60" ry="4.39" transform="rotate(60 347.9 187.8)" fill="#fff" stroke="#262626" stroke-width="1.12" />
<ellipse cx="343.1" cy="190.6" rx="7.60" ry="4.39" transform="rotate(60 343.1 190.6)" fill="#fff" stroke="#262626" stroke-width="1.12" />
<ellipse cx="338.2" cy="193.4" rx="7.60" ry="4.39" transform="rotate(60 338.2 193.4)" fill="#fff" stroke="#262626" stroke-width="1.12" />
<path d="M334.7 187.3 L338.2 185.3 A7.00 4.04 60 0 1 345.2 197.5 L341.7 199.5 Z" fill="#fff" stroke="#262626" stroke-width="1.12" stroke-linejoin="round" />
<ellipse cx="338.2" cy="193.4" rx="7.00" ry="4.04" transform="rotate(60 338.2 193.4)" fill="#fff" stroke="#262626" stroke-width="1.12" />
<path d="M268.9 225.3 L333.0 188.3 A7.00 4.04 60 0 1 340.0 200.5 L275.9 237.5 Z" fill="#fff" stroke="#262626" stroke-width="1.12" stroke-linejoin="round" />
<ellipse cx="272.4" cy="231.4" rx="7.00" ry="4.04" transform="rotate(60 272.4 231.4)" fill="#fff" stroke="#262626" stroke-width="1.12" />
<ellipse cx="273.9" cy="230.5" rx="5.00" ry="2.88" transform="rotate(60 273.9 230.5)" fill="none" stroke="#262626" stroke-width="0.90" />
<ellipse cx="330.3" cy="194.2" rx="2.60" ry="1.50" transform="rotate(0 330.3 194.2)" fill="none" stroke="#262626" stroke-width="1.01" />
<line x1="235.8" y1="226.0" x2="235.8" y2="239.0" stroke="#262626" stroke-width="0.90" />
<path d="M232.4 209 L232.4 225.6 A3.4 1.6 0 0 0 239.2 225.6 L239.2 209 Z" fill="#fff" stroke="#262626" stroke-width="1.12" stroke-linejoin="round" />
<path d="M229.4 202 L229.4 207 L232.5 209.3 L239 209.3 L242.3 207 L242.3 202 Z" fill="#fff" stroke="#262626" stroke-width="1.12" stroke-linejoin="round" />
<path d="M229.4 202 L232.5 199.6 L239 199.6 L242.3 202 L239 204.3 L232.5 204.3 Z" fill="#fff" stroke="#262626" stroke-width="1.12" stroke-linejoin="round" />
<line x1="232.5" y1="204.3" x2="232.5" y2="209.3" stroke="#262626" stroke-width="0.90" />
<line x1="239.0" y1="204.3" x2="239.0" y2="209.3" stroke="#262626" stroke-width="0.90" />
<path d="M246 244.6 L257 242 L281.6 263.2 L282 268.5 L276.5 270.8 L271 263.5 L266.5 260.5 L260 264.5 L259 272 L262.5 280 L268 286.5 L264 288.6 L257 281 L254.5 275.5 L236 273 L226.5 262 L224 251 L228.5 245.5 L233 238 L241 236.5 L247.5 240.5 Z" fill="#fff" stroke="#262626" stroke-width="1.12" stroke-linejoin="round" />
<path d="M246.0 244.6 L247.0 256.0 L254.5 275.5" fill="none" stroke="#262626" stroke-width="1.01" stroke-linejoin="round" />
<path d="M257.0 242.0 L257.5 262.0 L259.0 272.0" fill="none" stroke="#262626" stroke-width="1.01" stroke-linejoin="round" />
<path d="M233.0 238.0 L240.0 244.0 L247.5 240.5" fill="none" stroke="#262626" stroke-width="1.01" stroke-linejoin="round" />
<line x1="240.0" y1="244.0" x2="240.5" y2="251.0" stroke="#262626" stroke-width="1.01" />
<path d="M271.0 263.5 L273.5 262.0 L281.6 263.2" fill="none" stroke="#262626" stroke-width="0.90" stroke-linejoin="round" />
<path d="M276.5 270.8 L278.5 266.5 L273.5 262.0" fill="none" stroke="#262626" stroke-width="0.90" stroke-linejoin="round" />
<ellipse cx="236.0" cy="241.0" rx="3.30" ry="1.90" transform="rotate(0 236.0 241.0)" fill="none" stroke="#262626" stroke-width="1.01" />
<ellipse cx="231.2" cy="255.2" rx="8.20" ry="4.73" transform="rotate(60 231.2 255.2)" fill="#fff" stroke="#262626" stroke-width="1.12" />
<ellipse cx="231.2" cy="255.2" rx="5.60" ry="3.23" transform="rotate(60 231.2 255.2)" fill="none" stroke="#262626" stroke-width="1.34" />
<path d="M236.4 258.3 L236.1 258.8 L235.7 259.1 L235.2 259.3 L234.7 259.4 L234.1 259.4 L233.5 259.2 L232.9 258.9 L232.2 258.5 L231.6 258.0 L231.0 257.4 L230.5 256.7 L230.0 255.9 L229.6 255.1 L229.3 254.3 L229.0 253.5 L228.9 252.7 L228.8 251.9 L228.9 251.3 L229.1 250.6 L229.3 250.1 L229.7 249.7 L230.1 249.4 L230.6 249.2 L231.1 249.2" fill="none" stroke="#262626" stroke-width="0.90" stroke-linejoin="round" />
<path d="M242.4 253.0 L242.9 253.1 L243.5 253.3 L244.2 253.6 L244.8 254.1 L245.4 254.6 L245.9 255.2 L246.5 255.9 L246.9 256.7 L247.3 257.5 L247.6 258.3 L247.8 259.1 L247.9 259.8 L247.9 260.6 L247.8 261.2 L247.6 261.8 L247.3 262.3 L246.9 262.6 L246.5 262.9 L246.0 263.0 L245.4 263.0 L244.8 262.9 L244.2 262.6 L243.6 262.2 L243.0 261.8" fill="none" stroke="#262626" stroke-width="0.90" stroke-linejoin="round" />
<path d="M257.4 329.2 L259.6 334.2 L257.9 334.8 L255.2 330.0 L253.7 330.1 L254.8 335.1 L252.8 334.9 L251.1 329.8 L249.4 329.2 L249.3 333.7 L247.1 332.6 L246.6 327.8 L244.9 326.6 L243.6 330.2 L241.4 328.3 L242.1 324.2 L240.5 322.5 L238.2 324.8 L236.3 322.3 L238.2 319.4 L236.9 317.3 L233.7 318.0 L232.3 315.3 L235.1 313.8 L234.2 311.5 L230.4 310.7 L229.6 307.9 L233.2 307.9 L232.8 305.7 L228.9 303.4 L228.7 300.8 L232.6 302.4 L232.8 300.5 L229.1 296.9 L229.6 294.7 L233.5 297.8 L234.2 296.3 L231.1 291.8 L232.3 290.3 L235.7 294.5 L236.9 293.6 L234.6 288.6 L236.3 288.0 L239.1 292.8 L240.5 292.7 L239.4 287.7 L241.4 287.9 L243.2 293.0 L244.9 293.6 L244.9 289.1 L247.1 290.2 L247.7 295.0 L249.4 296.2 L250.7 292.6 L252.8 294.5 L252.1 298.6 L253.7 300.3 L256.1 298.0 L257.9 300.5 L256.1 303.4 L257.4 305.5 L260.6 304.8 L262.0 307.5 L259.2 309.0 L260.0 311.3 L263.8 312.1 L264.6 314.9 L261.1 314.9 L261.4 317.1 L265.4 319.4 L265.5 322.0 L261.6 320.4 L261.4 322.3 L265.2 325.9 L264.6 328.1 L260.7 325.0 L260.0 326.5 L263.2 331.0 L262.0 332.5 L258.5 328.3 Z" fill="#fff" stroke="#262626" stroke-width="1.01" stroke-linejoin="round" />
<path d="M250.4 332.7L248.9 332.9L253.7 330.1L255.2 330.0ZM246.3 332.5L244.6 332.0L249.4 329.2L251.1 329.8ZM241.8 330.6L240.1 329.4L244.9 326.6L246.6 327.8ZM237.4 327.0L235.8 325.3L240.5 322.5L242.1 324.2ZM233.4 322.1L232.1 320.1L236.9 317.3L238.2 319.4ZM230.3 316.5L229.5 314.3L234.2 311.5L235.1 313.8ZM228.4 310.7L228.0 308.5L232.8 305.7L233.2 307.9ZM227.9 305.2L228.0 303.3L232.8 300.5L232.6 302.4ZM228.8 300.5L229.4 299.1L234.2 296.3L233.5 297.8ZM231.0 297.2L232.1 296.4L236.9 293.6L235.7 294.5ZM234.3 295.6L235.8 295.4L240.5 292.7L239.1 292.8ZM238.4 295.8L240.1 296.3L244.9 293.6L243.2 293.0ZM242.9 297.7L244.6 298.9L249.4 296.2L247.7 295.0ZM247.4 301.3L248.9 303.0L253.7 300.3L252.1 298.6ZM251.3 306.2L252.6 308.2L257.4 305.5L256.1 303.4ZM254.4 311.8L255.3 314.0L260.0 311.3L259.2 309.0ZM256.3 317.6L256.7 319.8L261.4 317.1L261.1 314.9ZM256.8 323.1L256.7 325.0L261.4 322.3L261.6 320.4ZM256.0 327.8L255.3 329.2L260.0 326.5L260.7 325.0ZM253.8 331.1L252.6 331.9L257.4 329.2L258.5 328.3Z" fill="#3c3c3c" stroke="#262626" stroke-width="0.60" stroke-linejoin="round" />
<path d="M252.6 331.9L257.4 329.2M254.9 336.9L259.6 334.2M253.2 337.6L257.9 334.8M250.4 332.7L255.2 330.0M248.9 332.9L253.7 330.1M250.1 337.9L254.8 335.1M248.0 337.6L252.8 334.9M246.3 332.5L251.1 329.8M244.6 332.0L249.4 329.2M244.6 336.5L249.3 333.7M242.4 335.4L247.1 332.6M241.8 330.6L246.6 327.8M240.1 329.4L244.9 326.6M238.8 332.9L243.6 330.2M236.7 331.1L241.4 328.3M237.4 327.0L242.1 324.2M235.8 325.3L240.5 322.5M233.4 327.5L238.2 324.8M231.6 325.1L236.3 322.3M233.4 322.1L238.2 319.4M232.1 320.1L236.9 317.3M228.9 320.8L233.7 318.0M227.5 318.0L232.3 315.3M230.3 316.5L235.1 313.8M229.5 314.3L234.2 311.5M225.7 313.4L230.4 310.7M224.9 310.6L229.6 307.9M228.4 310.7L233.2 307.9M228.0 308.5L232.8 305.7M224.1 306.1L228.9 303.4M224.0 303.5L228.7 300.8M227.9 305.2L232.6 302.4M228.0 303.3L232.8 300.5M224.3 299.6L229.1 296.9M224.9 297.5L229.6 294.7M228.8 300.5L233.5 297.8M229.4 299.1L234.2 296.3M226.3 294.5L231.1 291.8M227.5 293.1L232.3 290.3M231.0 297.2L235.7 294.5M232.1 296.4L236.9 293.6M229.9 291.4L234.6 288.6M231.6 290.7L236.3 288.0M234.3 295.6L239.1 292.8M235.8 295.4L240.5 292.7M234.6 290.4L239.4 287.7M236.7 290.7L241.4 287.9M238.4 295.8L243.2 293.0M240.1 296.3L244.9 293.6M240.2 291.8L244.9 289.1M242.4 292.9L247.1 290.2M242.9 297.7L247.7 295.0M244.6 298.9L249.4 296.2M245.9 295.4L250.7 292.6M248.0 297.2L252.8 294.5M247.4 301.3L252.1 298.6M248.9 303.0L253.7 300.3M251.3 300.8L256.1 298.0M253.2 303.2L257.9 300.5M251.3 306.2L256.1 303.4M252.6 308.2L257.4 305.5M255.8 307.5L260.6 304.8M257.2 310.3L262.0 307.5M254.4 311.8L259.2 309.0M255.3 314.0L260.0 311.3M259.0 314.9L263.8 312.1M259.8 317.7L264.6 314.9M256.3 317.6L261.1 314.9M256.7 319.8L261.4 317.1M260.6 322.2L265.4 319.4M260.7 324.8L265.5 322.0M256.8 323.1L261.6 320.4M256.7 325.0L261.4 322.3M260.4 328.7L265.2 325.9M259.8 330.8L264.6 328.1M256.0 327.8L260.7 325.0M255.3 329.2L260.0 326.5M258.4 333.8L263.2 331.0M257.2 335.2L262.0 332.5M253.8 331.1L258.5 328.3" fill="none" stroke="#262626" stroke-width="0.91" stroke-linejoin="round" />
<path d="M252.6 331.9 L254.9 336.9 L253.2 337.6 L250.4 332.7 L248.9 332.9 L250.1 337.9 L248.0 337.6 L246.3 332.5 L244.6 332.0 L244.6 336.5 L242.4 335.4 L241.8 330.6 L240.1 329.4 L238.8 332.9 L236.7 331.1 L237.4 327.0 L235.8 325.3 L233.4 327.5 L231.6 325.1 L233.4 322.1 L232.1 320.1 L228.9 320.8 L227.5 318.0 L230.3 316.5 L229.5 314.3 L225.7 313.4 L224.9 310.6 L228.4 310.7 L228.0 308.5 L224.1 306.1 L224.0 303.5 L227.9 305.2 L228.0 303.3 L224.3 299.6 L224.9 297.5 L228.8 300.5 L229.4 299.1 L226.3 294.5 L227.5 293.1 L231.0 297.2 L232.1 296.4 L229.9 291.4 L231.6 290.7 L234.3 295.6 L235.8 295.4 L234.6 290.4 L236.7 290.7 L238.4 295.8 L240.1 296.3 L240.2 291.8 L242.4 292.9 L242.9 297.7 L244.6 298.9 L245.9 295.4 L248.0 297.2 L247.4 301.3 L248.9 303.0 L251.3 300.8 L253.2 303.2 L251.3 306.2 L252.6 308.2 L255.8 307.5 L257.2 310.3 L254.4 311.8 L255.3 314.0 L259.0 314.9 L259.8 317.7 L256.3 317.6 L256.7 319.8 L260.6 322.2 L260.7 324.8 L256.8 323.1 L256.7 325.0 L260.4 328.7 L259.8 330.8 L256.0 327.8 L255.3 329.2 L258.4 333.8 L257.2 335.2 L253.8 331.1 Z" fill="#fff" stroke="#262626" stroke-width="1.16" stroke-linejoin="round" />
<ellipse cx="240.2" cy="315.4" rx="17.00" ry="9.81" transform="rotate(60 240.2 315.4)" fill="#fff" stroke="#262626" stroke-width="1.01" />
<path d="M248.9 333.9 L250.8 339.0 L249.0 339.3 L246.5 334.4 L245.0 334.3 L245.7 339.2 L243.6 338.6 L242.2 333.6 L240.5 332.8 L240.0 337.0 L237.8 335.6 L237.7 331.0 L236.0 329.6 L234.3 332.8 L232.3 330.7 L233.4 327.0 L231.9 325.1 L229.2 326.9 L227.5 324.3 L229.7 321.8 L228.5 319.7 L225.1 319.9 L223.8 317.1 L227.0 316.1 L226.2 313.8 L222.4 312.5 L221.8 309.7 L225.5 310.3 L225.3 308.2 L221.4 305.3 L221.5 302.9 L225.4 305.0 L225.8 303.2 L222.2 299.2 L223.0 297.3 L226.8 300.8 L227.6 299.5 L224.7 294.7 L226.1 293.6 L229.4 298.0 L230.6 297.4 L228.7 292.3 L230.6 292.0 L233.0 296.9 L234.6 297.0 L233.8 292.1 L235.9 292.7 L237.3 297.7 L239.0 298.5 L239.5 294.3 L241.7 295.7 L241.8 300.3 L243.5 301.7 L245.2 298.5 L247.2 300.6 L246.1 304.3 L247.7 306.2 L250.3 304.4 L252.1 307.0 L249.9 309.5 L251.0 311.6 L254.5 311.4 L255.7 314.2 L252.6 315.2 L253.3 317.5 L257.2 318.8 L257.7 321.6 L254.0 321.0 L254.2 323.1 L258.1 326.0 L258.0 328.4 L254.1 326.3 L253.8 328.1 L257.3 332.1 L256.6 334.0 L252.8 330.5 L251.9 331.8 L254.8 336.6 L253.4 337.7 L250.2 333.3 Z" fill="#fff" stroke="#262626" stroke-width="1.01" stroke-linejoin="round" />
<path d="M241.8 337.1L240.2 337.0L245.0 334.3L246.5 334.4ZM237.5 336.3L235.8 335.6L240.5 332.8L242.2 333.6ZM232.9 333.8L231.3 332.4L236.0 329.6L237.7 331.0ZM228.6 329.7L227.1 327.9L231.9 325.1L233.4 327.0ZM224.9 324.6L223.7 322.4L228.5 319.7L229.7 321.8ZM222.2 318.8L221.5 316.6L226.2 313.8L227.0 316.1ZM220.7 313.0L220.5 310.9L225.3 308.2L225.5 310.3ZM220.7 307.7L221.0 306.0L225.8 303.2L225.4 305.0ZM222.0 303.5L222.8 302.3L227.6 299.5L226.8 300.8ZM224.6 300.7L225.9 300.1L230.6 297.4L229.4 298.0ZM228.2 299.7L229.8 299.8L234.6 297.0L233.0 296.9ZM232.5 300.5L234.2 301.2L239.0 298.5L237.3 297.7ZM237.1 303.0L238.7 304.4L243.5 301.7L241.8 300.3ZM241.4 307.1L242.9 308.9L247.7 306.2L246.1 304.3ZM245.1 312.2L246.3 314.4L251.0 311.6L249.9 309.5ZM247.8 318.0L248.5 320.2L253.3 317.5L252.6 315.2ZM249.3 323.8L249.5 325.9L254.2 323.1L254.0 321.0ZM249.3 329.1L249.0 330.8L253.8 328.1L254.1 326.3ZM248.0 333.3L247.2 334.5L251.9 331.8L252.8 330.5ZM245.4 336.1L244.1 336.7L248.9 333.9L250.2 333.3Z" fill="#3c3c3c" stroke="#262626" stroke-width="0.60" stroke-linejoin="round" />
<path d="M244.1 336.7L248.9 333.9M246.0 341.8L250.8 339.0M244.2 342.1L249.0 339.3M241.8 337.1L246.5 334.4M240.2 337.0L245.0 334.3M240.9 341.9L245.7 339.2M238.8 341.4L243.6 338.6M237.5 336.3L242.2 333.6M235.8 335.6L240.5 332.8M235.3 339.8L240.0 337.0M233.1 338.4L237.8 335.6M232.9 333.8L237.7 331.0M231.3 332.4L236.0 329.6M229.6 335.5L234.3 332.8M227.5 333.5L232.3 330.7M228.6 329.7L233.4 327.0M227.1 327.9L231.9 325.1M224.4 329.6L229.2 326.9M222.7 327.1L227.5 324.3M224.9 324.6L229.7 321.8M223.7 322.4L228.5 319.7M220.3 322.6L225.1 319.9M219.1 319.8L223.8 317.1M222.2 318.8L227.0 316.1M221.5 316.6L226.2 313.8M217.6 315.2L222.4 312.5M217.0 312.4L221.8 309.7M220.7 313.0L225.5 310.3M220.5 310.9L225.3 308.2M216.6 308.1L221.4 305.3M216.7 305.6L221.5 302.9M220.7 307.7L225.4 305.0M221.0 306.0L225.8 303.2M217.4 302.0L222.2 299.2M218.2 300.1L223.0 297.3M222.0 303.5L226.8 300.8M222.8 302.3L227.6 299.5M220.0 297.5L224.7 294.7M221.3 296.3L226.1 293.6M224.6 300.7L229.4 298.0M225.9 300.1L230.6 297.4M224.0 295.0L228.7 292.3M225.8 294.7L230.6 292.0M228.2 299.7L233.0 296.9M229.8 299.8L234.6 297.0M229.1 294.9L233.8 292.1M231.2 295.4L235.9 292.7M232.5 300.5L237.3 297.7M234.2 301.2L239.0 298.5M234.7 297.0L239.5 294.3M236.9 298.4L241.7 295.7M237.1 303.0L241.8 300.3M238.7 304.4L243.5 301.7M240.4 301.3L245.2 298.5M242.5 303.3L247.2 300.6M241.4 307.1L246.1 304.3M242.9 308.9L247.7 306.2M245.6 307.2L250.3 304.4M247.3 309.7L252.1 307.0M245.1 312.2L249.9 309.5M246.3 314.4L251.0 311.6M249.7 314.2L254.5 311.4M250.9 317.0L255.7 314.2M247.8 318.0L252.6 315.2M248.5 320.2L253.3 317.5M252.4 321.6L257.2 318.8M253.0 324.4L257.7 321.6M249.3 323.8L254.0 321.0M249.5 325.9L254.2 323.1M253.4 328.7L258.1 326.0M253.3 331.2L258.0 328.4M249.3 329.1L254.1 326.3M249.0 330.8L253.8 328.1M252.6 334.8L257.3 332.1M251.8 336.7L256.6 334.0M248.0 333.3L252.8 330.5M247.2 334.5L251.9 331.8M250.0 339.3L254.8 336.6M248.7 340.5L253.4 337.7M245.4 336.1L250.2 333.3" fill="none" stroke="#262626" stroke-width="0.91" stroke-linejoin="round" />
<path d="M244.1 336.7 L246.0 341.8 L244.2 342.1 L241.8 337.1 L240.2 337.0 L240.9 341.9 L238.8 341.4 L237.5 336.3 L235.8 335.6 L235.3 339.8 L233.1 338.4 L232.9 333.8 L231.3 332.4 L229.6 335.5 L227.5 333.5 L228.6 329.7 L227.1 327.9 L224.4 329.6 L222.7 327.1 L224.9 324.6 L223.7 322.4 L220.3 322.6 L219.1 319.8 L222.2 318.8 L221.5 316.6 L217.6 315.2 L217.0 312.4 L220.7 313.0 L220.5 310.9 L216.6 308.1 L216.7 305.6 L220.7 307.7 L221.0 306.0 L217.4 302.0 L218.2 300.1 L222.0 303.5 L222.8 302.3 L220.0 297.5 L221.3 296.3 L224.6 300.7 L225.9 300.1 L224.0 295.0 L225.8 294.7 L228.2 299.7 L229.8 299.8 L229.1 294.9 L231.2 295.4 L232.5 300.5 L234.2 301.2 L234.7 297.0 L236.9 298.4 L237.1 303.0 L238.7 304.4 L240.4 301.3 L242.5 303.3 L241.4 307.1 L242.9 308.9 L245.6 307.2 L247.3 309.7 L245.1 312.2 L246.3 314.4 L249.7 314.2 L250.9 317.0 L247.8 318.0 L248.5 320.2 L252.4 321.6 L253.0 324.4 L249.3 323.8 L249.5 325.9 L253.4 328.7 L253.3 331.2 L249.3 329.1 L249.0 330.8 L252.6 334.8 L251.8 336.7 L248.0 333.3 L247.2 334.5 L250.0 339.3 L248.7 340.5 L245.4 336.1 Z" fill="#fff" stroke="#262626" stroke-width="1.16" stroke-linejoin="round" />
<ellipse cx="235.0" cy="318.4" rx="15.50" ry="8.94" transform="rotate(60 235.0 318.4)" fill="none" stroke="#262626" stroke-width="1.01" />
<path d="M241.0 330.9 L239.5 329.1 L238.2 329.4 L238.4 331.5 L236.6 331.3 L235.7 329.1 L234.1 328.3 L233.5 329.8 L231.6 328.4 L231.5 326.3 L230.0 324.7 L228.7 325.2 L227.2 322.9 L228.0 321.6 L227.0 319.6 L225.4 318.9 L224.7 316.4 L226.1 316.2 L226.0 314.3 L224.4 312.6 L224.7 310.6 L226.4 311.5 L227.0 310.2 L226.0 308.0 L227.2 307.0 L228.7 308.8 L230.0 308.5 L229.7 306.4 L231.6 306.6 L232.5 308.8 L234.1 309.6 L234.7 308.1 L236.6 309.5 L236.7 311.6 L238.1 313.2 L239.5 312.7 L241.0 315.0 L240.2 316.3 L241.1 318.3 L242.8 319.0 L243.5 321.5 L242.1 321.7 L242.2 323.6 L243.8 325.3 L243.5 327.3 L241.8 326.4 L241.1 327.7 L242.2 329.9 Z" fill="#fff" stroke="#262626" stroke-width="0.90" stroke-linejoin="round" />
<path d="M240.9 331.0L241.0 330.9M239.4 329.1L239.5 329.1M238.1 329.5L238.2 329.4M238.3 331.6L238.4 331.5M236.5 331.3L236.6 331.3M235.6 329.1L235.7 329.1M234.0 328.4L234.1 328.3M233.4 329.9L233.5 329.8M231.5 328.4L231.6 328.4M231.4 326.4L231.5 326.3M229.9 324.8L230.0 324.7M228.6 325.3L228.7 325.2M227.1 323.0L227.2 322.9M227.9 321.7L228.0 321.6M227.0 319.6L227.0 319.6M225.3 319.0L225.4 318.9M224.6 316.5L224.7 316.4M226.0 316.3L226.1 316.2M225.9 314.3L226.0 314.3M224.3 312.7L224.4 312.6M224.6 310.6L224.7 310.6M226.3 311.6L226.4 311.5M227.0 310.2L227.0 310.2M225.9 308.1L226.0 308.0M227.1 307.0L227.2 307.0M228.6 308.9L228.7 308.8M229.9 308.5L230.0 308.5M229.7 306.4L229.7 306.4M231.5 306.7L231.6 306.6M232.4 308.9L232.5 308.8M234.0 309.6L234.1 309.6M234.6 308.1L234.7 308.1M236.5 309.6L236.6 309.5M236.6 311.6L236.7 311.6M238.1 313.2L238.1 313.2M239.4 312.7L239.5 312.7M240.9 315.0L241.0 315.0M240.1 316.3L240.2 316.3M241.0 318.4L241.1 318.3M242.7 319.0L242.8 319.0M243.4 321.5L243.5 321.5M242.0 321.7L242.1 321.7M242.1 323.7L242.2 323.6M243.7 325.3L243.8 325.3M243.4 327.4L243.5 327.3M241.7 326.4L241.8 326.4M241.0 327.8L241.1 327.7M242.1 329.9L242.2 329.9" fill="none" stroke="#262626" stroke-width="0.81" stroke-linejoin="round" />
<path d="M240.9 331.0 L239.4 329.1 L238.1 329.5 L238.3 331.6 L236.5 331.3 L235.6 329.1 L234.0 328.4 L233.4 329.9 L231.5 328.4 L231.4 326.4 L229.9 324.8 L228.6 325.3 L227.1 323.0 L227.9 321.7 L227.0 319.6 L225.3 319.0 L224.6 316.5 L226.0 316.3 L225.9 314.3 L224.3 312.7 L224.6 310.6 L226.3 311.6 L227.0 310.2 L225.9 308.1 L227.1 307.0 L228.6 308.9 L229.9 308.5 L229.7 306.4 L231.5 306.7 L232.4 308.9 L234.0 309.6 L234.6 308.1 L236.5 309.6 L236.6 311.6 L238.1 313.2 L239.4 312.7 L240.9 315.0 L240.1 316.3 L241.0 318.4 L242.7 319.0 L243.4 321.5 L242.0 321.7 L242.1 323.7 L243.7 325.3 L243.4 327.4 L241.7 326.4 L241.0 327.8 L242.1 329.9 Z" fill="#fff" stroke="#262626" stroke-width="1.03" stroke-linejoin="round" />
<path d="M233.8 306.0 L234.6 305.9 L235.5 305.9 L236.4 306.1 L237.3 306.4 L238.2 306.9 L239.2 307.5 L240.1 308.2 L241.0 309.0 L241.9 309.9 L242.7 310.9 L243.5 311.9 L244.2 313.1 L244.8 314.3 L245.4 315.5 L245.8 316.7 L246.2 317.9 L246.4 319.1 L246.6 320.3 L246.6 321.4 L246.5 322.4 L246.3 323.4 L246.0 324.2 L245.6 325.0 L245.1 325.6" fill="none" stroke="#262626" stroke-width="0.90" stroke-linejoin="round" />
<path d="M234.3 309.1L238.6 306.6M237.0 310.9L241.3 308.4M239.5 313.6L243.8 311.1M241.4 316.9L245.7 314.4M242.5 320.4L246.8 317.9M242.7 323.7L247.1 321.2" fill="none" stroke="#262626" stroke-width="0.90" stroke-linejoin="round" />
<path d="M434.8 182.0 L441.7 178.0 A18.20 10.50 60 0 1 459.9 209.6 L453.0 213.6 Z" fill="#fff" stroke="#262626" stroke-width="1.12" stroke-linejoin="round" />
<ellipse cx="443.9" cy="197.8" rx="18.20" ry="10.50" transform="rotate(60 443.9 197.8)" fill="#fff" stroke="#262626" stroke-width="1.12" />
<ellipse cx="443.9" cy="197.8" rx="15.65" ry="9.03" transform="rotate(60 443.9 197.8)" fill="none" stroke="#262626" stroke-width="0.90" />
<ellipse cx="443.9" cy="197.8" rx="12.74" ry="7.35" transform="rotate(60 443.9 197.8)" fill="none" stroke="#262626" stroke-width="1.46" />
<ellipse cx="443.9" cy="197.8" rx="11.28" ry="6.51" transform="rotate(60 443.9 197.8)" fill="none" stroke="#262626" stroke-width="0.90" />
<ellipse cx="443.9" cy="197.8" rx="8.55" ry="4.94" transform="rotate(60 443.9 197.8)" fill="none" stroke="#262626" stroke-width="1.68" />
<ellipse cx="443.9" cy="197.8" rx="6.92" ry="3.99" transform="rotate(60 443.9 197.8)" fill="none" stroke="#262626" stroke-width="1.01" />
<path d="M449.4 202.5 L449.0 202.8 L448.4 203.1 L447.8 203.2 L447.2 203.2 L446.5 203.0 L445.8 202.8 L445.1 202.4 L444.4 201.9 L443.7 201.2 L443.1 200.5 L442.5 199.7 L441.9 198.9 L441.5 198.0 L441.1 197.1 L440.8 196.2 L440.6 195.3 L440.5 194.4 L440.5 193.6 L440.6 192.8 L440.9 192.2 L441.2 191.6 L441.6 191.2 L442.0 190.9 L442.6 190.7" fill="none" stroke="#262626" stroke-width="0.90" stroke-linejoin="round" />
<line x1="135.0" y1="438.7" x2="175.0" y2="415.6" stroke="#444" stroke-width="0.90" stroke-dasharray="9 3"/>
<line x1="205.0" y1="398.3" x2="235.0" y2="381.0" stroke="#444" stroke-width="0.90" stroke-dasharray="9 3"/>
<line x1="270.0" y1="360.8" x2="290.0" y2="349.2" stroke="#444" stroke-width="0.90" stroke-dasharray="9 3"/>
<line x1="352.0" y1="313.4" x2="372.0" y2="301.9" stroke="#444" stroke-width="0.90" stroke-dasharray="9 3"/>
<path d="M104.5 431.2 L109.3 428.4 A21.30 12.29 60 0 1 130.6 465.3 L125.9 468.0 Z" fill="#fff" stroke="#262626" stroke-width="1.12" stroke-linejoin="round" />
<ellipse cx="115.2" cy="449.6" rx="21.30" ry="12.29" transform="rotate(60 115.2 449.6)" fill="#fff" stroke="#262626" stroke-width="1.12" />
<path d="M179.1 419.1 L177.3 416.7 L175.8 414.0 L174.4 411.3 L173.3 408.5 L172.5 405.8 L171.9 403.0 L171.6 400.4 L171.6 397.9 L171.9 395.6 L172.5 393.6 L173.4 391.8 L174.5 390.3 L175.9 389.2 L177.5 388.4 L179.2 388.0 L181.1 387.9 L183.2 388.2 L185.3 389.0 L187.4 390.0 L189.6 391.4 L191.7 393.1 L193.7 395.1 L195.6 397.4 L197.4 399.8 L199.0 402.4 L200.4 405.1 L201.5 407.9 L202.4 410.7 L203.0 413.4 L203.4 416.1 L203.4 418.6 L203.1 420.9 L202.6 423.0 L201.8 424.8 L200.7 426.3 L199.3 427.5 L197.8 428.4 L196.1 428.9 L194.2 429.0 L192.2 428.7" fill="none" stroke="#262626" stroke-width="1.12" stroke-linejoin="round" />
<path d="M180.4 418.4 L178.6 415.9 L177.1 413.3 L175.7 410.6 L174.6 407.8 L173.8 405.0 L173.2 402.3 L172.9 399.7 L172.9 397.2 L173.2 394.9 L173.8 392.8 L174.7 391.0 L175.8 389.6 L177.2 388.4 L178.8 387.6 L180.5 387.2 L182.4 387.2 L184.5 387.5 L186.6 388.2 L188.7 389.3 L190.9 390.7 L193.0 392.4 L195.0 394.4 L196.9 396.6 L198.7 399.1 L200.3 401.7 L201.7 404.4 L202.8 407.1 L203.7 409.9 L204.3 412.7 L204.6 415.3 L204.7 417.8 L204.4 420.1 L203.9 422.2 L203.1 424.1 L202.0 425.6 L200.6 426.8 L199.1 427.6 L197.4 428.1 L195.5 428.2 L193.5 427.9" fill="none" stroke="#262626" stroke-width="1.12" stroke-linejoin="round" />
<path d="M180.0 418.0 L178.4 415.8 L177.0 413.4 L175.8 411.0 L174.8 408.5 L174.1 406.0 L173.6 403.6 L173.3 401.3 L173.3 399.0 L173.6 397.0 L174.1 395.2 L174.9 393.6 L175.9 392.2 L177.1 391.2 L178.5 390.5 L180.1 390.1 L181.8 390.1 L183.6 390.4 L185.5 391.0 L187.4 392.0 L189.4 393.2 L191.2 394.8 L193.1 396.5 L194.8 398.5 L196.4 400.7 L197.8 403.0 L199.0 405.5 L200.0 407.9 L200.8 410.4 L201.4 412.9 L201.7 415.2 L201.7 417.5 L201.5 419.6 L201.0 421.4 L200.2 423.1 L199.3 424.4 L198.1 425.5 L196.7 426.2 L195.1 426.7 L193.5 426.8 L191.7 426.5" fill="none" stroke="#262626" stroke-width="1.12" stroke-linejoin="round" />
<ellipse cx="180.1" cy="417.9" rx="2.40" ry="1.38" transform="rotate(60 180.1 417.9)" fill="#fff" stroke="#262626" stroke-width="1.12" />
<ellipse cx="180.1" cy="417.9" rx="0.90" ry="0.52" transform="rotate(60 180.1 417.9)" fill="none" stroke="#262626" stroke-width="1.12" />
<ellipse cx="191.6" cy="426.3" rx="2.40" ry="1.38" transform="rotate(60 191.6 426.3)" fill="#fff" stroke="#262626" stroke-width="1.12" />
<ellipse cx="191.6" cy="426.3" rx="0.90" ry="0.52" transform="rotate(60 191.6 426.3)" fill="none" stroke="#262626" stroke-width="1.12" />
<path d="M236.8 355.2 L244.5 350.7 A21.50 12.41 60 0 1 266.0 387.9 L258.2 392.4 Z" fill="#fff" stroke="#262626" stroke-width="1.12" stroke-linejoin="round" />
<ellipse cx="247.5" cy="373.8" rx="21.50" ry="12.41" transform="rotate(60 247.5 373.8)" fill="#fff" stroke="#262626" stroke-width="1.12" />
<ellipse cx="247.5" cy="373.8" rx="18.49" ry="10.67" transform="rotate(60 247.5 373.8)" fill="none" stroke="#262626" stroke-width="0.90" />
<ellipse cx="247.5" cy="373.8" rx="15.05" ry="8.68" transform="rotate(60 247.5 373.8)" fill="none" stroke="#262626" stroke-width="1.46" />
<ellipse cx="247.5" cy="373.8" rx="13.33" ry="7.69" transform="rotate(60 247.5 373.8)" fill="none" stroke="#262626" stroke-width="0.90" />
<ellipse cx="247.5" cy="373.8" rx="10.10" ry="5.83" transform="rotate(60 247.5 373.8)" fill="none" stroke="#262626" stroke-width="1.68" />
<ellipse cx="247.5" cy="373.8" rx="8.17" ry="4.71" transform="rotate(60 247.5 373.8)" fill="none" stroke="#262626" stroke-width="1.01" />
<path d="M253.7 379.4 L253.2 379.9 L252.6 380.2 L251.9 380.3 L251.1 380.3 L250.3 380.1 L249.5 379.8 L248.7 379.3 L247.8 378.7 L247.0 378.0 L246.3 377.2 L245.6 376.2 L244.9 375.2 L244.4 374.2 L243.9 373.1 L243.6 372.0 L243.3 371.0 L243.2 369.9 L243.2 369.0 L243.4 368.1 L243.6 367.3 L244.0 366.7 L244.5 366.1 L245.0 365.7 L245.7 365.5" fill="none" stroke="#262626" stroke-width="0.90" stroke-linejoin="round" />
<path d="M451.4 300.6 L452.8 303.9 L451.5 304.5 L449.5 301.5 L448.3 301.9 L449.3 305.2 L447.9 305.5 L446.1 302.3 L444.8 302.4 L445.5 305.7 L443.9 305.6 L442.5 302.3 L441.0 302.1 L441.3 305.3 L439.7 304.9 L438.6 301.5 L437.0 301.0 L437.0 304.0 L435.3 303.3 L434.5 300.0 L432.9 299.2 L432.5 301.9 L430.8 300.9 L430.4 297.7 L428.8 296.7 L428.0 299.0 L426.3 297.7 L426.3 294.7 L424.8 293.4 L423.6 295.4 L422.0 293.9 L422.3 291.1 L420.9 289.6 L419.4 291.2 L417.8 289.4 L418.6 287.0 L417.2 285.3 L415.4 286.4 L414.0 284.5 L415.1 282.4 L413.9 280.5 L411.9 281.2 L410.6 279.1 L412.1 277.4 L411.0 275.5 L408.7 275.6 L407.7 273.5 L409.4 272.3 L408.6 270.3 L406.1 269.9 L405.3 267.7 L407.3 267.0 L406.6 264.9 L404.1 264.1 L403.5 261.9 L405.7 261.6 L405.3 259.7 L402.7 258.3 L402.3 256.2 L404.7 256.5 L404.5 254.5 L401.9 252.8 L401.8 250.7 L404.3 251.5 L404.3 249.7 L401.8 247.5 L402.0 245.6 L404.6 246.9 L404.8 245.2 L402.4 242.7 L402.8 241.0 L405.4 242.7 L405.9 241.3 L403.7 238.4 L404.3 236.9 L406.8 239.1 L407.5 237.8 L405.5 234.8 L406.4 233.6 L408.8 236.0 L409.7 235.1 L408.0 231.8 L409.1 230.9 L411.3 233.7 L412.4 233.0 L411.0 229.7 L412.2 229.1 L414.3 232.1 L415.5 231.7 L414.4 228.4 L415.9 228.1 L417.6 231.3 L419.0 231.2 L418.3 227.9 L419.8 228.0 L421.3 231.3 L422.8 231.5 L422.5 228.3 L424.1 228.7 L425.2 232.1 L426.8 232.6 L426.8 229.6 L428.5 230.3 L429.3 233.6 L430.9 234.4 L431.3 231.7 L433.0 232.7 L433.4 235.9 L435.0 236.9 L435.8 234.6 L437.5 235.9 L437.5 238.9 L439.0 240.2 L440.2 238.2 L441.8 239.7 L441.5 242.5 L442.9 244.0 L444.4 242.4 L446.0 244.2 L445.2 246.6 L446.6 248.3 L448.4 247.2 L449.8 249.1 L448.7 251.2 L449.9 253.1 L451.9 252.4 L453.2 254.5 L451.7 256.2 L452.8 258.1 L455.1 258.0 L456.1 260.1 L454.4 261.3 L455.2 263.3 L457.7 263.7 L458.5 265.9 L456.5 266.6 L457.2 268.7 L459.7 269.5 L460.3 271.7 L458.1 272.0 L458.5 273.9 L461.1 275.3 L461.5 277.4 L459.1 277.1 L459.3 279.1 L461.9 280.8 L462.0 282.9 L459.5 282.1 L459.4 283.9 L462.0 286.1 L461.8 288.0 L459.2 286.7 L459.0 288.4 L461.4 290.9 L461.0 292.6 L458.4 290.9 L457.9 292.3 L460.1 295.2 L459.5 296.7 L457.0 294.5 L456.3 295.8 L458.3 298.8 L457.4 300.0 L455.0 297.6 L454.1 298.5 L455.8 301.8 L454.7 302.7 L452.5 299.9 Z" fill="#fff" stroke="#262626" stroke-width="1.01" stroke-linejoin="round" />
<path d="M444.3 304.5L443.1 304.9L448.3 301.9L449.5 301.5ZM441.0 305.3L439.6 305.4L444.8 302.4L446.1 302.3ZM437.3 305.3L435.8 305.1L441.0 302.1L442.5 302.3ZM433.4 304.5L431.8 304.0L437.0 301.0L438.6 301.5ZM429.3 303.0L427.7 302.2L432.9 299.2L434.5 300.0ZM425.2 300.7L423.6 299.7L428.8 296.7L430.4 297.7ZM421.1 297.7L419.6 296.4L424.8 293.4L426.3 294.7ZM417.1 294.1L415.7 292.6L420.9 289.6L422.3 291.1ZM413.4 290.0L412.0 288.3L417.2 285.3L418.6 287.0ZM409.9 285.4L408.7 283.5L413.9 280.5L415.1 282.4ZM406.9 280.4L405.8 278.5L411.0 275.5L412.1 277.4ZM404.2 275.3L403.4 273.3L408.6 270.3L409.4 272.3ZM402.1 270.0L401.4 267.9L406.6 264.9L407.3 267.0ZM400.5 264.6L400.1 262.7L405.3 259.7L405.7 261.6ZM399.5 259.5L399.3 257.5L404.5 254.5L404.7 256.5ZM399.1 254.5L399.2 252.7L404.3 249.7L404.3 251.5ZM399.4 249.9L399.6 248.2L404.8 245.2L404.6 246.9ZM400.2 245.7L400.7 244.3L405.9 241.3L405.4 242.7ZM401.6 242.1L402.3 240.8L407.5 237.8L406.8 239.1ZM403.6 239.0L404.5 238.1L409.7 235.1L408.8 236.0ZM406.1 236.7L407.2 236.0L412.4 233.0L411.3 233.7ZM409.1 235.1L410.3 234.7L415.5 231.7L414.3 232.1ZM412.4 234.3L413.8 234.2L419.0 231.2L417.6 231.3ZM416.1 234.3L417.6 234.5L422.8 231.5L421.3 231.3ZM420.0 235.1L421.6 235.6L426.8 232.6L425.2 232.1ZM424.1 236.6L425.7 237.4L430.9 234.4L429.3 233.6ZM428.2 238.9L429.8 239.9L435.0 236.9L433.4 235.9ZM432.3 241.9L433.8 243.2L439.0 240.2L437.5 238.9ZM436.3 245.5L437.7 247.0L442.9 244.0L441.5 242.5ZM440.0 249.6L441.4 251.3L446.6 248.3L445.2 246.6ZM443.5 254.2L444.7 256.1L449.9 253.1L448.7 251.2ZM446.5 259.2L447.6 261.1L452.8 258.1L451.7 256.2ZM449.2 264.3L450.0 266.3L455.2 263.3L454.4 261.3ZM451.3 269.6L452.0 271.7L457.2 268.7L456.5 266.6ZM452.9 275.0L453.3 276.9L458.5 273.9L458.1 272.0ZM453.9 280.1L454.1 282.1L459.3 279.1L459.1 277.1ZM454.3 285.1L454.2 286.9L459.4 283.9L459.5 282.1ZM454.0 289.7L453.8 291.4L459.0 288.4L459.2 286.7ZM453.2 293.9L452.7 295.3L457.9 292.3L458.4 290.9ZM451.8 297.5L451.1 298.8L456.3 295.8L457.0 294.5ZM449.8 300.6L448.9 301.5L454.1 298.5L455.0 297.6ZM447.3 302.9L446.2 303.6L451.4 300.6L452.5 299.9Z" fill="#3c3c3c" stroke="#262626" stroke-width="0.60" stroke-linejoin="round" />
<path d="M446.2 303.6L451.4 300.6M447.6 306.9L452.8 303.9M446.3 307.5L451.5 304.5M444.3 304.5L449.5 301.5M443.1 304.9L448.3 301.9M444.2 308.2L449.3 305.2M442.7 308.5L447.9 305.5M441.0 305.3L446.1 302.3M439.6 305.4L444.8 302.4M440.3 308.7L445.5 305.7M438.8 308.6L443.9 305.6M437.3 305.3L442.5 302.3M435.8 305.1L441.0 302.1M436.1 308.3L441.3 305.3M434.5 307.9L439.7 304.9M433.4 304.5L438.6 301.5M431.8 304.0L437.0 301.0M431.8 307.0L437.0 304.0M430.1 306.3L435.3 303.3M429.3 303.0L434.5 300.0M427.7 302.2L432.9 299.2M427.3 304.9L432.5 301.9M425.6 303.9L430.8 300.9M425.2 300.7L430.4 297.7M423.6 299.7L428.8 296.7M422.8 302.0L428.0 299.0M421.1 300.7L426.3 297.7M421.1 297.7L426.3 294.7M419.6 296.4L424.8 293.4M418.4 298.4L423.6 295.4M416.8 296.9L422.0 293.9M417.1 294.1L422.3 291.1M415.7 292.6L420.9 289.6M414.2 294.2L419.4 291.2M412.6 292.4L417.8 289.4M413.4 290.0L418.6 287.0M412.0 288.3L417.2 285.3M410.2 289.4L415.4 286.4M408.8 287.5L414.0 284.5M409.9 285.4L415.1 282.4M408.7 283.5L413.9 280.5M406.7 284.2L411.9 281.2M405.4 282.1L410.6 279.1M406.9 280.4L412.1 277.4M405.8 278.5L411.0 275.5M403.5 278.6L408.7 275.6M402.5 276.5L407.7 273.5M404.2 275.3L409.4 272.3M403.4 273.3L408.6 270.3M400.9 272.9L406.1 269.9M400.1 270.7L405.3 267.7M402.1 270.0L407.3 267.0M401.4 267.9L406.6 264.9M398.9 267.1L404.1 264.1M398.3 264.9L403.5 261.9M400.5 264.6L405.7 261.6M400.1 262.7L405.3 259.7M397.5 261.3L402.7 258.3M397.1 259.2L402.3 256.2M399.5 259.5L404.7 256.5M399.3 257.5L404.5 254.5M396.7 255.8L401.9 252.8M396.6 253.7L401.8 250.7M399.1 254.5L404.3 251.5M399.2 252.7L404.3 249.7M396.6 250.5L401.8 247.5M396.8 248.6L402.0 245.6M399.4 249.9L404.6 246.9M399.6 248.2L404.8 245.2M397.2 245.7L402.4 242.7M397.6 244.0L402.8 241.0M400.2 245.7L405.4 242.7M400.7 244.3L405.9 241.3M398.5 241.4L403.7 238.4M399.1 239.9L404.3 236.9M401.6 242.1L406.8 239.1M402.3 240.8L407.5 237.8M400.3 237.8L405.5 234.8M401.2 236.6L406.4 233.6M403.6 239.0L408.8 236.0M404.5 238.1L409.7 235.1M402.8 234.8L408.0 231.8M403.9 233.9L409.1 230.9M406.1 236.7L411.3 233.7M407.2 236.0L412.4 233.0M405.8 232.7L411.0 229.7M407.1 232.1L412.2 229.1M409.1 235.1L414.3 232.1M410.3 234.7L415.5 231.7M409.2 231.4L414.4 228.4M410.7 231.1L415.9 228.1M412.4 234.3L417.6 231.3M413.8 234.2L419.0 231.2M413.1 230.9L418.3 227.9M414.6 231.0L419.8 228.0M416.1 234.3L421.3 231.3M417.6 234.5L422.8 231.5M417.3 231.3L422.5 228.3M418.9 231.7L424.1 228.7M420.0 235.1L425.2 232.1M421.6 235.6L426.8 232.6M421.6 232.6L426.8 229.6M423.3 233.3L428.5 230.3M424.1 236.6L429.3 233.6M425.7 237.4L430.9 234.4M426.1 234.7L431.3 231.7M427.8 235.7L433.0 232.7M428.2 238.9L433.4 235.9M429.8 239.9L435.0 236.9M430.6 237.6L435.8 234.6M432.3 238.9L437.5 235.9M432.3 241.9L437.5 238.9M433.8 243.2L439.0 240.2M435.0 241.2L440.2 238.2M436.6 242.7L441.8 239.7M436.3 245.5L441.5 242.5M437.7 247.0L442.9 244.0M439.2 245.4L444.4 242.4M440.8 247.2L446.0 244.2M440.0 249.6L445.2 246.6M441.4 251.3L446.6 248.3M443.2 250.2L448.4 247.2M444.6 252.1L449.8 249.1M443.5 254.2L448.7 251.2M444.7 256.1L449.9 253.1M446.7 255.4L451.9 252.4M448.0 257.5L453.2 254.5M446.5 259.2L451.7 256.2M447.6 261.1L452.8 258.1M449.9 261.0L455.1 258.0M450.9 263.1L456.1 260.1M449.2 264.3L454.4 261.3M450.0 266.3L455.2 263.3M452.5 266.7L457.7 263.7M453.3 268.9L458.5 265.9M451.3 269.6L456.5 266.6M452.0 271.7L457.2 268.7M454.5 272.5L459.7 269.5M455.1 274.7L460.3 271.7M452.9 275.0L458.1 272.0M453.3 276.9L458.5 273.9M455.9 278.3L461.1 275.3M456.3 280.4L461.5 277.4M453.9 280.1L459.1 277.1M454.1 282.1L459.3 279.1M456.7 283.8L461.9 280.8M456.8 285.9L462.0 282.9M454.3 285.1L459.5 282.1M454.2 286.9L459.4 283.9M456.8 289.1L462.0 286.1M456.6 291.0L461.8 288.0M454.0 289.7L459.2 286.7M453.8 291.4L459.0 288.4M456.2 293.9L461.4 290.9M455.8 295.6L461.0 292.6M453.2 293.9L458.4 290.9M452.7 295.3L457.9 292.3M454.9 298.2L460.1 295.2M454.3 299.7L459.5 296.7M451.8 297.5L457.0 294.5M451.1 298.8L456.3 295.8M453.1 301.8L458.3 298.8M452.2 303.0L457.4 300.0M449.8 300.6L455.0 297.6M448.9 301.5L454.1 298.5M450.6 304.8L455.8 301.8M449.5 305.7L454.7 302.7M447.3 302.9L452.5 299.9" fill="none" stroke="#262626" stroke-width="0.91" stroke-linejoin="round" />
<path d="M446.2 303.6 L447.6 306.9 L446.3 307.5 L444.3 304.5 L443.1 304.9 L444.2 308.2 L442.7 308.5 L441.0 305.3 L439.6 305.4 L440.3 308.7 L438.8 308.6 L437.3 305.3 L435.8 305.1 L436.1 308.3 L434.5 307.9 L433.4 304.5 L431.8 304.0 L431.8 307.0 L430.1 306.3 L429.3 303.0 L427.7 302.2 L427.3 304.9 L425.6 303.9 L425.2 300.7 L423.6 299.7 L422.8 302.0 L421.1 300.7 L421.1 297.7 L419.6 296.4 L418.4 298.4 L416.8 296.9 L417.1 294.1 L415.7 292.6 L414.2 294.2 L412.6 292.4 L413.4 290.0 L412.0 288.3 L410.2 289.4 L408.8 287.5 L409.9 285.4 L408.7 283.5 L406.7 284.2 L405.4 282.1 L406.9 280.4 L405.8 278.5 L403.5 278.6 L402.5 276.5 L404.2 275.3 L403.4 273.3 L400.9 272.9 L400.1 270.7 L402.1 270.0 L401.4 267.9 L398.9 267.1 L398.3 264.9 L400.5 264.6 L400.1 262.7 L397.5 261.3 L397.1 259.2 L399.5 259.5 L399.3 257.5 L396.7 255.8 L396.6 253.7 L399.1 254.5 L399.2 252.7 L396.6 250.5 L396.8 248.6 L399.4 249.9 L399.6 248.2 L397.2 245.7 L397.6 244.0 L400.2 245.7 L400.7 244.3 L398.5 241.4 L399.1 239.9 L401.6 242.1 L402.3 240.8 L400.3 237.8 L401.2 236.6 L403.6 239.0 L404.5 238.1 L402.8 234.8 L403.9 233.9 L406.1 236.7 L407.2 236.0 L405.8 232.7 L407.1 232.1 L409.1 235.1 L410.3 234.7 L409.2 231.4 L410.7 231.1 L412.4 234.3 L413.8 234.2 L413.1 230.9 L414.6 231.0 L416.1 234.3 L417.6 234.5 L417.3 231.3 L418.9 231.7 L420.0 235.1 L421.6 235.6 L421.6 232.6 L423.3 233.3 L424.1 236.6 L425.7 237.4 L426.1 234.7 L427.8 235.7 L428.2 238.9 L429.8 239.9 L430.6 237.6 L432.3 238.9 L432.3 241.9 L433.8 243.2 L435.0 241.2 L436.6 242.7 L436.3 245.5 L437.7 247.0 L439.2 245.4 L440.8 247.2 L440.0 249.6 L441.4 251.3 L443.2 250.2 L444.6 252.1 L443.5 254.2 L444.7 256.1 L446.7 255.4 L448.0 257.5 L446.5 259.2 L447.6 261.1 L449.9 261.0 L450.9 263.1 L449.2 264.3 L450.0 266.3 L452.5 266.7 L453.3 268.9 L451.3 269.6 L452.0 271.7 L454.5 272.5 L455.1 274.7 L452.9 275.0 L453.3 276.9 L455.9 278.3 L456.3 280.4 L453.9 280.1 L454.1 282.1 L456.7 283.8 L456.8 285.9 L454.3 285.1 L454.2 286.9 L456.8 289.1 L456.6 291.0 L454.0 289.7 L453.8 291.4 L456.2 293.9 L455.8 295.6 L453.2 293.9 L452.7 295.3 L454.9 298.2 L454.3 299.7 L451.8 297.5 L451.1 298.8 L453.1 301.8 L452.2 303.0 L449.8 300.6 L448.9 301.5 L450.6 304.8 L449.5 305.7 L447.3 302.9 Z" fill="#fff" stroke="#262626" stroke-width="1.16" stroke-linejoin="round" />
<ellipse cx="426.7" cy="269.8" rx="19.40" ry="11.19" transform="rotate(60 426.7 269.8)" fill="none" stroke="#262626" stroke-width="1.01" />
<path d="M414.9 261.0 L420.1 258.0 A13.50 7.79 60 0 1 433.6 281.4 L428.4 284.4 Z" fill="#fff" stroke="#262626" stroke-width="1.12" stroke-linejoin="round" />
<ellipse cx="421.7" cy="272.7" rx="13.50" ry="7.79" transform="rotate(60 421.7 272.7)" fill="#fff" stroke="#262626" stroke-width="1.12" />
<ellipse cx="421.7" cy="272.7" rx="11.30" ry="6.52" transform="rotate(60 421.7 272.7)" fill="none" stroke="#262626" stroke-width="1.46" />
<path d="M426.9 281.6 L425.7 280.0 L424.7 280.2 L425.0 282.1 L423.7 281.9 L422.9 280.0 L421.8 279.4 L421.3 280.8 L419.9 279.7 L419.9 278.0 L418.9 276.8 L417.8 277.3 L416.6 275.6 L417.4 274.6 L416.7 273.1 L415.3 272.6 L414.8 270.8 L416.0 270.7 L415.9 269.3 L414.5 267.9 L414.8 266.4 L416.2 267.3 L416.7 266.3 L415.7 264.5 L416.6 263.7 L417.9 265.3 L418.9 265.1 L418.5 263.2 L419.9 263.4 L420.6 265.3 L421.8 265.9 L422.2 264.5 L423.7 265.6 L423.7 267.3 L424.7 268.5 L425.8 268.0 L426.9 269.7 L426.2 270.7 L426.9 272.2 L428.3 272.7 L428.8 274.5 L427.5 274.6 L427.7 276.0 L429.1 277.4 L428.8 278.9 L427.3 278.0 L426.9 279.0 L427.9 280.8 Z" fill="#fff" stroke="#262626" stroke-width="0.90" stroke-linejoin="round" />
<path d="M426.8 281.6L426.9 281.6M425.6 280.0L425.7 280.0M424.6 280.3L424.7 280.2M424.9 282.1L425.0 282.1M423.6 281.9L423.7 281.9M422.9 280.0L422.9 280.0M421.7 279.5L421.8 279.4M421.2 280.8L421.3 280.8M419.8 279.7L419.9 279.7M419.8 278.0L419.9 278.0M418.8 276.9L418.9 276.8M417.7 277.4L417.8 277.3M416.6 275.7L416.6 275.6M417.3 274.6L417.4 274.6M416.6 273.2L416.7 273.1M415.2 272.7L415.3 272.6M414.7 270.8L414.8 270.8M415.9 270.7L416.0 270.7M415.8 269.3L415.9 269.3M414.4 268.0L414.5 267.9M414.7 266.5L414.8 266.4M416.1 267.3L416.2 267.3M416.6 266.4L416.7 266.3M415.6 264.5L415.7 264.5M416.6 263.8L416.6 263.7M417.8 265.4L417.9 265.3M418.8 265.1L418.9 265.1M418.5 263.3L418.5 263.2M419.8 263.5L419.9 263.4M420.5 265.4L420.6 265.3M421.7 265.9L421.8 265.9M422.2 264.6L422.2 264.5M423.6 265.7L423.7 265.6M423.6 267.4L423.7 267.3M424.6 268.5L424.7 268.5M425.7 268.0L425.8 268.0M426.8 269.7L426.9 269.7M426.1 270.8L426.2 270.7M426.8 272.2L426.9 272.2M428.2 272.7L428.3 272.7M428.7 274.6L428.8 274.5M427.5 274.7L427.5 274.6M427.6 276.1L427.7 276.0M429.0 277.4L429.1 277.4M428.7 278.9L428.8 278.9M427.3 278.1L427.3 278.0M426.8 279.0L426.9 279.0M427.8 280.9L427.9 280.8" fill="none" stroke="#262626" stroke-width="0.81" stroke-linejoin="round" />
<path d="M426.8 281.6 L425.6 280.0 L424.6 280.3 L424.9 282.1 L423.6 281.9 L422.9 280.0 L421.7 279.5 L421.2 280.8 L419.8 279.7 L419.8 278.0 L418.8 276.9 L417.7 277.4 L416.6 275.7 L417.3 274.6 L416.6 273.2 L415.2 272.7 L414.7 270.8 L415.9 270.7 L415.8 269.3 L414.4 268.0 L414.7 266.5 L416.1 267.3 L416.6 266.4 L415.6 264.5 L416.6 263.8 L417.8 265.4 L418.8 265.1 L418.5 263.3 L419.8 263.5 L420.5 265.4 L421.7 265.9 L422.2 264.6 L423.6 265.7 L423.6 267.4 L424.6 268.5 L425.7 268.0 L426.8 269.7 L426.1 270.8 L426.8 272.2 L428.2 272.7 L428.7 274.6 L427.5 274.7 L427.6 276.1 L429.0 277.4 L428.7 278.9 L427.3 278.1 L426.8 279.0 L427.8 280.9 Z" fill="#fff" stroke="#262626" stroke-width="1.03" stroke-linejoin="round" />
<path d="M420.6 263.8 L421.1 263.6 L421.7 263.4 L422.3 263.4 L423.0 263.5 L423.7 263.8 L424.4 264.1 L425.2 264.5 L425.9 265.0 L426.6 265.7 L427.3 266.4 L427.9 267.2 L428.5 268.0 L429.0 268.9 L429.5 269.8 L429.8 270.7 L430.2 271.6 L430.4 272.6 L430.5 273.5 L430.6 274.3 L430.5 275.2 L430.4 275.9 L430.2 276.6 L429.9 277.2 L429.5 277.7" fill="none" stroke="#262626" stroke-width="0.90" stroke-linejoin="round" />
<path d="M422.2 266.5L425.7 264.5M424.1 268.2L427.6 266.2M425.7 270.4L429.2 268.4M426.8 272.9L430.3 270.9M427.3 275.4L430.8 273.4" fill="none" stroke="#262626" stroke-width="0.90" stroke-linejoin="round" />
<path d="M409.2 329.6 L410.7 333.1 L409.4 333.8 L407.3 330.6 L406.0 331.0 L407.2 334.5 L405.7 334.8 L403.9 331.4 L402.5 331.6 L403.3 335.0 L401.7 335.0 L400.2 331.5 L398.7 331.4 L399.1 334.7 L397.5 334.4 L396.2 330.9 L394.7 330.4 L394.7 333.6 L393.0 332.9 L392.1 329.4 L390.5 328.7 L390.2 331.6 L388.4 330.7 L387.9 327.3 L386.3 326.3 L385.6 328.9 L383.9 327.7 L383.8 324.4 L382.2 323.2 L381.1 325.5 L379.4 324.0 L379.7 321.0 L378.2 319.5 L376.7 321.4 L375.1 319.7 L375.8 317.0 L374.4 315.3 L372.6 316.7 L371.1 314.8 L372.2 312.5 L370.9 310.7 L368.8 311.6 L367.5 309.5 L368.8 307.6 L367.7 305.7 L365.4 306.1 L364.2 303.9 L365.9 302.4 L364.9 300.4 L362.5 300.4 L361.5 298.1 L363.5 297.1 L362.7 295.1 L360.1 294.5 L359.3 292.2 L361.5 291.7 L360.9 289.7 L358.2 288.6 L357.7 286.4 L360.1 286.3 L359.8 284.3 L357.0 282.8 L356.7 280.7 L359.3 281.1 L359.2 279.2 L356.5 277.2 L356.4 275.2 L359.1 276.2 L359.2 274.4 L356.5 272.0 L356.7 270.1 L359.5 271.6 L359.8 269.9 L357.3 267.2 L357.7 265.5 L360.4 267.4 L360.9 266.0 L358.6 263.0 L359.3 261.5 L362.0 263.8 L362.7 262.6 L360.6 259.3 L361.5 258.1 L364.0 260.8 L364.9 259.8 L363.1 256.4 L364.2 255.5 L366.6 258.5 L367.7 257.8 L366.2 254.3 L367.5 253.6 L369.6 256.8 L370.8 256.4 L369.7 252.9 L371.1 252.6 L373.0 256.0 L374.4 255.8 L373.6 252.4 L375.1 252.4 L376.7 255.9 L378.2 256.0 L377.7 252.7 L379.4 253.0 L380.6 256.5 L382.2 257.0 L382.1 253.8 L383.9 254.5 L384.7 258.0 L386.3 258.7 L386.7 255.8 L388.4 256.7 L388.9 260.1 L390.5 261.1 L391.2 258.5 L393.0 259.7 L393.1 263.0 L394.7 264.2 L395.8 261.9 L397.4 263.4 L397.2 266.4 L398.7 267.9 L400.1 266.0 L401.7 267.7 L401.1 270.4 L402.5 272.1 L404.2 270.7 L405.7 272.6 L404.7 274.9 L406.0 276.7 L408.0 275.8 L409.4 277.9 L408.0 279.8 L409.2 281.7 L411.4 281.3 L412.6 283.5 L410.9 285.0 L411.9 287.0 L414.4 287.0 L415.4 289.3 L413.4 290.3 L414.2 292.3 L416.8 292.9 L417.6 295.2 L415.3 295.7 L415.9 297.7 L418.6 298.8 L419.2 301.0 L416.7 301.1 L417.1 303.1 L419.8 304.6 L420.1 306.7 L417.5 306.3 L417.7 308.2 L420.4 310.2 L420.5 312.2 L417.8 311.2 L417.7 313.0 L420.3 315.4 L420.1 317.3 L417.4 315.8 L417.1 317.5 L419.6 320.2 L419.2 321.9 L416.4 320.0 L415.9 321.4 L418.2 324.4 L417.6 325.9 L414.9 323.6 L414.2 324.8 L416.3 328.1 L415.4 329.3 L412.8 326.6 L411.9 327.6 L413.7 331.0 L412.6 331.9 L410.3 328.9 Z" fill="#fff" stroke="#262626" stroke-width="1.01" stroke-linejoin="round" />
<path d="M400.3 334.6L399.1 335.0L406.0 331.0L407.3 330.6ZM396.9 335.4L395.6 335.6L402.5 331.6L403.9 331.4ZM393.2 335.5L391.8 335.4L398.7 331.4L400.2 331.5ZM389.3 334.9L387.7 334.4L394.7 330.4L396.2 330.9ZM385.2 333.4L383.6 332.7L390.5 328.7L392.1 329.4ZM381.0 331.3L379.4 330.3L386.3 326.3L387.9 327.3ZM376.8 328.4L375.3 327.2L382.2 323.2L383.8 324.4ZM372.8 325.0L371.3 323.5L378.2 319.5L379.7 321.0ZM368.9 321.0L367.4 319.3L374.4 315.3L375.8 317.0ZM365.2 316.5L363.9 314.7L370.9 310.7L372.2 312.5ZM361.9 311.6L360.8 309.7L367.7 305.7L368.8 307.6ZM359.0 306.4L358.0 304.4L364.9 300.4L365.9 302.4ZM356.6 301.1L355.8 299.1L362.7 295.1L363.5 297.1ZM354.6 295.7L354.0 293.7L360.9 289.7L361.5 291.7ZM353.2 290.3L352.8 288.3L359.8 284.3L360.1 286.3ZM352.4 285.1L352.2 283.2L359.2 279.2L359.3 281.1ZM352.2 280.2L352.2 278.4L359.2 274.4L359.1 276.2ZM352.5 275.6L352.8 273.9L359.8 269.9L359.5 271.6ZM353.5 271.4L354.0 270.0L360.9 266.0L360.4 267.4ZM355.0 267.8L355.7 266.6L362.7 262.6L362.0 263.8ZM357.1 264.8L358.0 263.8L364.9 259.8L364.0 260.8ZM359.7 262.5L360.8 261.8L367.7 257.8L366.6 258.5ZM362.7 260.8L363.9 260.4L370.8 256.4L369.6 256.8ZM366.1 260.0L367.4 259.8L374.4 255.8L373.0 256.0ZM369.8 259.9L371.2 260.0L378.2 256.0L376.7 255.9ZM373.7 260.5L375.3 261.0L382.2 257.0L380.6 256.5ZM377.8 262.0L379.4 262.7L386.3 258.7L384.7 258.0ZM382.0 264.1L383.6 265.1L390.5 261.1L388.9 260.1ZM386.2 267.0L387.7 268.2L394.7 264.2L393.1 263.0ZM390.2 270.4L391.7 271.9L398.7 267.9L397.2 266.4ZM394.1 274.4L395.6 276.1L402.5 272.1L401.1 270.4ZM397.8 278.9L399.1 280.7L406.0 276.7L404.7 274.9ZM401.1 283.8L402.2 285.7L409.2 281.7L408.0 279.8ZM404.0 289.0L405.0 291.0L411.9 287.0L410.9 285.0ZM406.4 294.3L407.2 296.3L414.2 292.3L413.4 290.3ZM408.4 299.7L409.0 301.7L415.9 297.7L415.3 295.7ZM409.8 305.1L410.2 307.1L417.1 303.1L416.7 301.1ZM410.6 310.3L410.8 312.2L417.7 308.2L417.5 306.3ZM410.8 315.2L410.8 317.0L417.7 313.0L417.8 311.2ZM410.5 319.8L410.2 321.5L417.1 317.5L417.4 315.8ZM409.5 324.0L409.0 325.4L415.9 321.4L416.4 320.0ZM408.0 327.6L407.3 328.8L414.2 324.8L414.9 323.6ZM405.9 330.6L405.0 331.6L411.9 327.6L412.8 326.6ZM403.3 332.9L402.2 333.6L409.2 329.6L410.3 328.9Z" fill="#3c3c3c" stroke="#262626" stroke-width="0.60" stroke-linejoin="round" />
<path d="M402.2 333.6L409.2 329.6M403.8 337.1L410.7 333.1M402.5 337.8L409.4 333.8M400.3 334.6L407.3 330.6M399.1 335.0L406.0 331.0M400.3 338.5L407.2 334.5M398.8 338.8L405.7 334.8M396.9 335.4L403.9 331.4M395.6 335.6L402.5 331.6M396.4 339.0L403.3 335.0M394.8 339.0L401.7 335.0M393.2 335.5L400.2 331.5M391.8 335.4L398.7 331.4M392.2 338.7L399.1 334.7M390.5 338.4L397.5 334.4M389.3 334.9L396.2 330.9M387.7 334.4L394.7 330.4M387.8 337.6L394.7 333.6M386.1 336.9L393.0 332.9M385.2 333.4L392.1 329.4M383.6 332.7L390.5 328.7M383.2 335.6L390.2 331.6M381.5 334.7L388.4 330.7M381.0 331.3L387.9 327.3M379.4 330.3L386.3 326.3M378.7 332.9L385.6 328.9M377.0 331.7L383.9 327.7M376.8 328.4L383.8 324.4M375.3 327.2L382.2 323.2M374.2 329.5L381.1 325.5M372.5 328.0L379.4 324.0M372.8 325.0L379.7 321.0M371.3 323.5L378.2 319.5M369.8 325.4L376.7 321.4M368.2 323.7L375.1 319.7M368.9 321.0L375.8 317.0M367.4 319.3L374.4 315.3M365.7 320.7L372.6 316.7M364.2 318.8L371.1 314.8M365.2 316.5L372.2 312.5M363.9 314.7L370.9 310.7M361.9 315.6L368.8 311.6M360.5 313.5L367.5 309.5M361.9 311.6L368.8 307.6M360.8 309.7L367.7 305.7M358.5 310.1L365.4 306.1M357.3 307.9L364.2 303.9M359.0 306.4L365.9 302.4M358.0 304.4L364.9 300.4M355.5 304.4L362.5 300.4M354.6 302.1L361.5 298.1M356.6 301.1L363.5 297.1M355.8 299.1L362.7 295.1M353.1 298.5L360.1 294.5M352.4 296.2L359.3 292.2M354.6 295.7L361.5 291.7M354.0 293.7L360.9 289.7M351.3 292.6L358.2 288.6M350.8 290.4L357.7 286.4M353.2 290.3L360.1 286.3M352.8 288.3L359.8 284.3M350.1 286.8L357.0 282.8M349.8 284.7L356.7 280.7M352.4 285.1L359.3 281.1M352.2 283.2L359.2 279.2M349.5 281.2L356.5 277.2M349.5 279.2L356.4 275.2M352.2 280.2L359.1 276.2M352.2 278.4L359.2 274.4M349.6 276.0L356.5 272.0M349.8 274.1L356.7 270.1M352.5 275.6L359.5 271.6M352.8 273.9L359.8 269.9M350.3 271.2L357.3 267.2M350.8 269.5L357.7 265.5M353.5 271.4L360.4 267.4M354.0 270.0L360.9 266.0M351.7 267.0L358.6 263.0M352.4 265.5L359.3 261.5M355.0 267.8L362.0 263.8M355.7 266.6L362.7 262.6M353.7 263.3L360.6 259.3M354.6 262.1L361.5 258.1M357.1 264.8L364.0 260.8M358.0 263.8L364.9 259.8M356.2 260.4L363.1 256.4M357.3 259.5L364.2 255.5M359.7 262.5L366.6 258.5M360.8 261.8L367.7 257.8M359.2 258.3L366.2 254.3M360.5 257.6L367.5 253.6M362.7 260.8L369.6 256.8M363.9 260.4L370.8 256.4M362.7 256.9L369.7 252.9M364.2 256.6L371.1 252.6M366.1 260.0L373.0 256.0M367.4 259.8L374.4 255.8M366.6 256.4L373.6 252.4M368.2 256.4L375.1 252.4M369.8 259.9L376.7 255.9M371.2 260.0L378.2 256.0M370.8 256.7L377.7 252.7M372.5 257.0L379.4 253.0M373.7 260.5L380.6 256.5M375.3 261.0L382.2 257.0M375.2 257.8L382.1 253.8M376.9 258.5L383.9 254.5M377.8 262.0L384.7 258.0M379.4 262.7L386.3 258.7M379.8 259.8L386.7 255.8M381.5 260.7L388.4 256.7M382.0 264.1L388.9 260.1M383.6 265.1L390.5 261.1M384.3 262.5L391.2 258.5M386.0 263.7L393.0 259.7M386.2 267.0L393.1 263.0M387.7 268.2L394.7 264.2M388.8 265.9L395.8 261.9M390.5 267.4L397.4 263.4M390.2 270.4L397.2 266.4M391.7 271.9L398.7 267.9M393.2 270.0L400.1 266.0M394.8 271.7L401.7 267.7M394.1 274.4L401.1 270.4M395.6 276.1L402.5 272.1M397.3 274.7L404.2 270.7M398.8 276.6L405.7 272.6M397.8 278.9L404.7 274.9M399.1 280.7L406.0 276.7M401.1 279.8L408.0 275.8M402.5 281.9L409.4 277.9M401.1 283.8L408.0 279.8M402.2 285.7L409.2 281.7M404.5 285.3L411.4 281.3M405.7 287.5L412.6 283.5M404.0 289.0L410.9 285.0M405.0 291.0L411.9 287.0M407.5 291.0L414.4 287.0M408.4 293.3L415.4 289.3M406.4 294.3L413.4 290.3M407.2 296.3L414.2 292.3M409.9 296.9L416.8 292.9M410.6 299.2L417.6 295.2M408.4 299.7L415.3 295.7M409.0 301.7L415.9 297.7M411.7 302.8L418.6 298.8M412.2 305.0L419.2 301.0M409.8 305.1L416.7 301.1M410.2 307.1L417.1 303.1M412.9 308.6L419.8 304.6M413.2 310.7L420.1 306.7M410.6 310.3L417.5 306.3M410.8 312.2L417.7 308.2M413.5 314.2L420.4 310.2M413.5 316.2L420.5 312.2M410.8 315.2L417.8 311.2M410.8 317.0L417.7 313.0M413.4 319.4L420.3 315.4M413.2 321.3L420.1 317.3M410.5 319.8L417.4 315.8M410.2 321.5L417.1 317.5M412.7 324.2L419.6 320.2M412.2 325.9L419.2 321.9M409.5 324.0L416.4 320.0M409.0 325.4L415.9 321.4M411.3 328.4L418.2 324.4M410.6 329.9L417.6 325.9M408.0 327.6L414.9 323.6M407.3 328.8L414.2 324.8M409.3 332.1L416.3 328.1M408.4 333.3L415.4 329.3M405.9 330.6L412.8 326.6M405.0 331.6L411.9 327.6M406.8 335.0L413.7 331.0M405.7 335.9L412.6 331.9M403.3 332.9L410.3 328.9" fill="none" stroke="#262626" stroke-width="0.91" stroke-linejoin="round" />
<path d="M402.2 333.6 L403.8 337.1 L402.5 337.8 L400.3 334.6 L399.1 335.0 L400.3 338.5 L398.8 338.8 L396.9 335.4 L395.6 335.6 L396.4 339.0 L394.8 339.0 L393.2 335.5 L391.8 335.4 L392.2 338.7 L390.5 338.4 L389.3 334.9 L387.7 334.4 L387.8 337.6 L386.1 336.9 L385.2 333.4 L383.6 332.7 L383.2 335.6 L381.5 334.7 L381.0 331.3 L379.4 330.3 L378.7 332.9 L377.0 331.7 L376.8 328.4 L375.3 327.2 L374.2 329.5 L372.5 328.0 L372.8 325.0 L371.3 323.5 L369.8 325.4 L368.2 323.7 L368.9 321.0 L367.4 319.3 L365.7 320.7 L364.2 318.8 L365.2 316.5 L363.9 314.7 L361.9 315.6 L360.5 313.5 L361.9 311.6 L360.8 309.7 L358.5 310.1 L357.3 307.9 L359.0 306.4 L358.0 304.4 L355.5 304.4 L354.6 302.1 L356.6 301.1 L355.8 299.1 L353.1 298.5 L352.4 296.2 L354.6 295.7 L354.0 293.7 L351.3 292.6 L350.8 290.4 L353.2 290.3 L352.8 288.3 L350.1 286.8 L349.8 284.7 L352.4 285.1 L352.2 283.2 L349.5 281.2 L349.5 279.2 L352.2 280.2 L352.2 278.4 L349.6 276.0 L349.8 274.1 L352.5 275.6 L352.8 273.9 L350.3 271.2 L350.8 269.5 L353.5 271.4 L354.0 270.0 L351.7 267.0 L352.4 265.5 L355.0 267.8 L355.7 266.6 L353.7 263.3 L354.6 262.1 L357.1 264.8 L358.0 263.8 L356.2 260.4 L357.3 259.5 L359.7 262.5 L360.8 261.8 L359.2 258.3 L360.5 257.6 L362.7 260.8 L363.9 260.4 L362.7 256.9 L364.2 256.6 L366.1 260.0 L367.4 259.8 L366.6 256.4 L368.2 256.4 L369.8 259.9 L371.2 260.0 L370.8 256.7 L372.5 257.0 L373.7 260.5 L375.3 261.0 L375.2 257.8 L376.9 258.5 L377.8 262.0 L379.4 262.7 L379.8 259.8 L381.5 260.7 L382.0 264.1 L383.6 265.1 L384.3 262.5 L386.0 263.7 L386.2 267.0 L387.7 268.2 L388.8 265.9 L390.5 267.4 L390.2 270.4 L391.7 271.9 L393.2 270.0 L394.8 271.7 L394.1 274.4 L395.6 276.1 L397.3 274.7 L398.8 276.6 L397.8 278.9 L399.1 280.7 L401.1 279.8 L402.5 281.9 L401.1 283.8 L402.2 285.7 L404.5 285.3 L405.7 287.5 L404.0 289.0 L405.0 291.0 L407.5 291.0 L408.4 293.3 L406.4 294.3 L407.2 296.3 L409.9 296.9 L410.6 299.2 L408.4 299.7 L409.0 301.7 L411.7 302.8 L412.2 305.0 L409.8 305.1 L410.2 307.1 L412.9 308.6 L413.2 310.7 L410.6 310.3 L410.8 312.2 L413.5 314.2 L413.5 316.2 L410.8 315.2 L410.8 317.0 L413.4 319.4 L413.2 321.3 L410.5 319.8 L410.2 321.5 L412.7 324.2 L412.2 325.9 L409.5 324.0 L409.0 325.4 L411.3 328.4 L410.6 329.9 L408.0 327.6 L407.3 328.8 L409.3 332.1 L408.4 333.3 L405.9 330.6 L405.0 331.6 L406.8 335.0 L405.7 335.9 L403.3 332.9 Z" fill="#fff" stroke="#262626" stroke-width="1.16" stroke-linejoin="round" />
<ellipse cx="380.7" cy="297.7" rx="11.60" ry="6.69" transform="rotate(60 380.7 297.7)" fill="none" stroke="#262626" stroke-width="1.12" />
<path d="M377.8 287.8 L378.3 286.5 L378.9 285.5 L379.8 284.8 L380.9 284.3 L382.1 284.2 L383.4 284.4 L384.8 284.9 L386.2 285.6 L387.6 286.7 L388.9 287.9 L390.1 289.4 L391.2 291.0 L392.2 292.8 L392.9 294.6 L393.5 296.4 L393.8 298.1 L393.9 299.8 L393.7 301.3 L393.4 302.6 L392.7 303.7 L391.9 304.6 L390.9 305.1 L389.8 305.4 L388.5 305.3" fill="none" stroke="#262626" stroke-width="1.01" stroke-linejoin="round" />
<path d="M390.9 303.6 L389.5 301.8 L388.4 302.1 L388.6 304.0 L386.9 303.6 L386.2 301.5 L384.9 300.7 L384.1 301.9 L382.5 300.3 L382.8 298.6 L381.8 297.1 L380.3 297.0 L379.4 294.8 L380.6 294.3 L380.2 292.5 L378.6 291.3 L378.7 289.3 L380.3 290.1 L380.7 288.9 L379.6 286.9 L380.7 285.9 L382.1 287.7 L383.2 287.4 L383.0 285.5 L384.7 285.9 L385.3 288.0 L386.7 288.8 L387.4 287.6 L389.1 289.2 L388.7 290.9 L389.8 292.4 L391.3 292.5 L392.2 294.7 L391.0 295.2 L391.4 297.0 L393.0 298.2 L392.9 300.2 L391.3 299.4 L390.8 300.6 L391.9 302.6 Z" fill="#fff" stroke="#262626" stroke-width="0.78" stroke-linejoin="round" />
<path d="M390.8 303.6L390.9 303.6M389.4 301.9L389.5 301.8M388.3 302.1L388.4 302.1M388.5 304.1L388.6 304.0M386.8 303.7L386.9 303.6M386.2 301.6L386.2 301.5M384.8 300.7L384.9 300.7M384.0 301.9L384.1 301.9M382.4 300.3L382.5 300.3M382.8 298.7L382.8 298.6M381.7 297.1L381.8 297.1M380.2 297.1L380.3 297.0M379.3 294.9L379.4 294.8M380.5 294.3L380.6 294.3M380.1 292.6L380.2 292.5M378.5 291.3L378.6 291.3M378.6 289.4L378.7 289.3M380.2 290.1L380.3 290.1M380.7 288.9L380.7 288.9M379.5 286.9L379.6 286.9M380.6 286.0L380.7 285.9M382.0 287.7L382.1 287.7M383.1 287.5L383.2 287.4M382.9 285.5L383.0 285.5M384.6 285.9L384.7 285.9M385.2 288.0L385.3 288.0M386.6 288.9L386.7 288.8M387.4 287.7L387.4 287.6M389.0 289.3L389.1 289.2M388.6 290.9L388.7 290.9M389.7 292.5L389.8 292.4M391.2 292.5L391.3 292.5M392.1 294.7L392.2 294.7M390.9 295.3L391.0 295.2M391.3 297.0L391.4 297.0M392.9 298.3L393.0 298.2M392.8 300.2L392.9 300.2M391.2 299.5L391.3 299.4M390.7 300.7L390.8 300.6M391.9 302.7L391.9 302.6" fill="none" stroke="#262626" stroke-width="0.71" stroke-linejoin="round" />
<path d="M390.8 303.6 L389.4 301.9 L388.3 302.1 L388.5 304.1 L386.8 303.7 L386.2 301.6 L384.8 300.7 L384.0 301.9 L382.4 300.3 L382.8 298.7 L381.7 297.1 L380.2 297.1 L379.3 294.9 L380.5 294.3 L380.1 292.6 L378.5 291.3 L378.6 289.4 L380.2 290.1 L380.7 288.9 L379.5 286.9 L380.6 286.0 L382.0 287.7 L383.1 287.5 L382.9 285.5 L384.6 285.9 L385.2 288.0 L386.6 288.9 L387.4 287.7 L389.0 289.3 L388.6 290.9 L389.7 292.5 L391.2 292.5 L392.1 294.7 L390.9 295.3 L391.3 297.0 L392.9 298.3 L392.8 300.2 L391.2 299.5 L390.7 300.7 L391.9 302.7 Z" fill="#fff" stroke="#262626" stroke-width="0.90" stroke-linejoin="round" />
<path d="M297.9 331.5 L351.6 300.5 A11.50 6.64 60 0 1 363.1 320.5 L309.4 351.5 Z" fill="#fff" stroke="#262626" stroke-width="1.12" stroke-linejoin="round" />
<ellipse cx="303.6" cy="341.5" rx="11.50" ry="6.64" transform="rotate(60 303.6 341.5)" fill="#fff" stroke="#262626" stroke-width="1.12" />
<path d="M300.6 331.0L354.3 300.0M304.3 332.6L358.0 301.6M307.9 336.0L361.6 305.0M310.5 340.6L364.2 309.6M311.7 345.4L365.4 314.4M311.2 349.3L364.9 318.3" fill="none" stroke="#262626" stroke-width="1.01" stroke-linejoin="round" />
<path d="M345.5 304.0 L346.3 303.7 L347.2 303.5 L348.1 303.5 L349.1 303.7 L350.2 304.1 L351.2 304.6 L352.3 305.3 L353.3 306.1 L354.4 307.1 L355.3 308.2 L356.2 309.4 L357.0 310.7 L357.7 312.0 L358.3 313.4 L358.8 314.7 L359.1 316.1 L359.3 317.4 L359.4 318.7 L359.3 319.9 L359.1 321.0 L358.8 321.9 L358.3 322.8 L357.7 323.4 L357.0 324.0" fill="none" stroke="#262626" stroke-width="1.01" stroke-linejoin="round" />
<path d="M308.5 352.0 L310.0 355.7 L308.4 356.1 L306.5 352.5 L305.2 352.4 L305.4 355.8 L303.4 355.0 L302.8 351.4 L301.3 350.4 L300.2 352.8 L298.3 350.9 L299.0 348.2 L297.7 346.5 L295.5 347.3 L294.1 344.8 L296.1 343.5 L295.3 341.6 L292.5 340.6 L292.0 338.1 L294.7 338.5 L294.6 336.7 L291.9 334.2 L292.3 332.2 L295.1 334.3 L295.8 333.1 L293.7 329.6 L295.0 328.6 L297.3 331.9 L298.5 331.5 L297.6 327.9 L299.5 328.0 L300.8 331.8 L302.3 332.3 L302.7 329.3 L304.7 330.7 L304.7 334.0 L306.1 335.4 L307.8 333.7 L309.5 335.9 L308.1 338.1 L309.1 339.9 L311.7 340.0 L312.7 342.6 L310.3 343.0 L310.7 344.9 L313.6 346.7 L313.7 349.1 L310.8 347.8 L310.5 349.3 L313.0 352.4 L312.1 354.0 L309.5 351.2 Z" fill="#fff" stroke="#262626" stroke-width="1.01" stroke-linejoin="round" />
<path d="M288.4 363.0L287.0 362.9L305.2 352.4L306.5 352.5ZM284.6 361.9L283.1 360.9L301.3 350.4L302.8 351.4ZM280.8 358.7L279.6 357.0L297.7 346.5L299.0 348.2ZM277.9 354.0L277.1 352.1L295.3 341.6L296.1 343.5ZM276.5 349.0L276.4 347.2L294.6 336.7L294.7 338.5ZM277.0 344.8L277.6 343.6L295.8 333.1L295.1 334.3ZM279.2 342.4L280.4 342.0L298.5 331.5L297.3 331.9ZM282.6 342.3L284.1 342.8L302.3 332.3L300.8 331.8ZM286.5 344.5L287.9 345.9L306.1 335.4L304.7 334.0ZM289.9 348.6L291.0 350.4L309.1 339.9L308.1 338.1ZM292.2 353.5L292.6 355.4L310.7 344.9L310.3 343.0ZM292.6 358.3L292.3 359.8L310.5 349.3L310.8 347.8ZM291.3 361.7L290.3 362.5L308.5 352.0L309.5 351.2Z" fill="#3c3c3c" stroke="#262626" stroke-width="0.60" stroke-linejoin="round" />
<path d="M290.3 362.5L308.5 352.0M291.9 366.2L310.0 355.7M290.2 366.6L308.4 356.1M288.4 363.0L306.5 352.5M287.0 362.9L305.2 352.4M287.2 366.3L305.4 355.8M285.2 365.5L303.4 355.0M284.6 361.9L302.8 351.4M283.1 360.9L301.3 350.4M282.0 363.3L300.2 352.8M280.1 361.4L298.3 350.9M280.8 358.7L299.0 348.2M279.6 357.0L297.7 346.5M277.3 357.8L295.5 347.3M275.9 355.3L294.1 344.8M277.9 354.0L296.1 343.5M277.1 352.1L295.3 341.6M274.3 351.1L292.5 340.6M273.8 348.6L292.0 338.1M276.5 349.0L294.7 338.5M276.4 347.2L294.6 336.7M273.7 344.7L291.9 334.2M274.1 342.7L292.3 332.2M277.0 344.8L295.1 334.3M277.6 343.6L295.8 333.1M275.5 340.1L293.7 329.6M276.8 339.1L295.0 328.6M279.2 342.4L297.3 331.9M280.4 342.0L298.5 331.5M279.4 338.4L297.6 327.9M281.3 338.5L299.5 328.0M282.6 342.3L300.8 331.8M284.1 342.8L302.3 332.3M284.5 339.8L302.7 329.3M286.5 341.2L304.7 330.7M286.5 344.5L304.7 334.0M287.9 345.9L306.1 335.4M289.6 344.2L307.8 333.7M291.3 346.4L309.5 335.9M289.9 348.6L308.1 338.1M291.0 350.4L309.1 339.9M293.6 350.5L311.7 340.0M294.6 353.1L312.7 342.6M292.2 353.5L310.3 343.0M292.6 355.4L310.7 344.9M295.4 357.2L313.6 346.7M295.5 359.6L313.7 349.1M292.6 358.3L310.8 347.8M292.3 359.8L310.5 349.3M294.8 362.9L313.0 352.4M293.9 364.5L312.1 354.0M291.3 361.7L309.5 351.2" fill="none" stroke="#262626" stroke-width="0.91" stroke-linejoin="round" />
<path d="M290.3 362.5 L291.9 366.2 L290.2 366.6 L288.4 363.0 L287.0 362.9 L287.2 366.3 L285.2 365.5 L284.6 361.9 L283.1 360.9 L282.0 363.3 L280.1 361.4 L280.8 358.7 L279.6 357.0 L277.3 357.8 L275.9 355.3 L277.9 354.0 L277.1 352.1 L274.3 351.1 L273.8 348.6 L276.5 349.0 L276.4 347.2 L273.7 344.7 L274.1 342.7 L277.0 344.8 L277.6 343.6 L275.5 340.1 L276.8 339.1 L279.2 342.4 L280.4 342.0 L279.4 338.4 L281.3 338.5 L282.6 342.3 L284.1 342.8 L284.5 339.8 L286.5 341.2 L286.5 344.5 L287.9 345.9 L289.6 344.2 L291.3 346.4 L289.9 348.6 L291.0 350.4 L293.6 350.5 L294.6 353.1 L292.2 353.5 L292.6 355.4 L295.4 357.2 L295.5 359.6 L292.6 358.3 L292.3 359.8 L294.8 362.9 L293.9 364.5 L291.3 361.7 Z" fill="#fff" stroke="#262626" stroke-width="1.16" stroke-linejoin="round" />
<path d="M274.6 349.2 L281.5 345.2 A7.80 4.50 60 0 1 289.3 358.8 L282.4 362.8 Z" fill="#fff" stroke="#262626" stroke-width="1.12" stroke-linejoin="round" />
<ellipse cx="278.5" cy="356.0" rx="7.80" ry="4.50" transform="rotate(60 278.5 356.0)" fill="#fff" stroke="#262626" stroke-width="1.12" />
<path d="M453.4 239.8 L473.3 228.3 A14.00 8.08 60 0 1 487.3 252.5 L467.4 264.0 Z" fill="#fff" stroke="#262626" stroke-width="1.12" stroke-linejoin="round" />
<ellipse cx="460.4" cy="251.9" rx="14.00" ry="8.08" transform="rotate(60 460.4 251.9)" fill="#fff" stroke="#262626" stroke-width="1.12" />
<ellipse cx="460.4" cy="251.9" rx="12.00" ry="6.92" transform="rotate(60 460.4 251.9)" fill="none" stroke="#262626" stroke-width="1.79" />
<path d="M487.8 214.3 L494.7 210.3 A18.40 10.62 60 0 1 513.1 242.1 L506.2 246.1 Z" fill="#fff" stroke="#262626" stroke-width="1.12" stroke-linejoin="round" />
<ellipse cx="497.0" cy="230.2" rx="18.40" ry="10.62" transform="rotate(60 497.0 230.2)" fill="#fff" stroke="#262626" stroke-width="1.12" />
<ellipse cx="497.0" cy="230.2" rx="15.82" ry="9.13" transform="rotate(60 497.0 230.2)" fill="none" stroke="#262626" stroke-width="0.90" />
<ellipse cx="497.0" cy="230.2" rx="12.88" ry="7.43" transform="rotate(60 497.0 230.2)" fill="none" stroke="#262626" stroke-width="1.46" />
<ellipse cx="497.0" cy="230.2" rx="11.41" ry="6.58" transform="rotate(60 497.0 230.2)" fill="none" stroke="#262626" stroke-width="0.90" />
<ellipse cx="497.0" cy="230.2" rx="8.65" ry="4.99" transform="rotate(60 497.0 230.2)" fill="none" stroke="#262626" stroke-width="1.68" />
<ellipse cx="497.0" cy="230.2" rx="6.99" ry="4.03" transform="rotate(60 497.0 230.2)" fill="none" stroke="#262626" stroke-width="1.01" />
<path d="M502.5 234.9 L502.1 235.3 L501.6 235.5 L501.0 235.7 L500.3 235.7 L499.6 235.5 L498.9 235.2 L498.2 234.8 L497.5 234.3 L496.8 233.7 L496.2 233.0 L495.5 232.2 L495.0 231.3 L494.5 230.4 L494.2 229.5 L493.9 228.6 L493.7 227.7 L493.6 226.8 L493.6 226.0 L493.7 225.2 L493.9 224.5 L494.2 224.0 L494.6 223.5 L495.1 223.2 L495.7 223.0" fill="none" stroke="#262626" stroke-width="0.90" stroke-linejoin="round" />
<line x1="114.0" y1="551.0" x2="128.0" y2="542.9" stroke="#444" stroke-width="0.90" stroke-dasharray="9 3"/>
<line x1="456.0" y1="353.6" x2="470.0" y2="345.5" stroke="#444" stroke-width="0.90" stroke-dasharray="9 3"/>
<path d="M82.8 542.5 L88.0 539.5 A23.00 13.27 60 0 1 111.0 579.3 L105.8 582.3 Z" fill="#fff" stroke="#262626" stroke-width="1.12" stroke-linejoin="round" />
<ellipse cx="94.3" cy="562.4" rx="23.00" ry="13.27" transform="rotate(60 94.3 562.4)" fill="#fff" stroke="#262626" stroke-width="1.12" />
<path d="M118.9 554.8 L116.9 552.0 L115.1 549.1 L113.6 546.0 L112.3 542.8 L111.4 539.7 L110.7 536.6 L110.4 533.6 L110.4 530.8 L110.8 528.2 L111.4 525.9 L112.4 523.9 L113.7 522.2 L115.2 520.9 L117.0 520.0 L119.0 519.5 L121.2 519.5 L123.5 519.8 L125.9 520.6 L128.3 521.8 L130.7 523.4 L133.1 525.4 L135.5 527.6 L137.6 530.2 L139.6 532.9 L141.4 535.9 L143.0 539.0 L144.3 542.1 L145.3 545.3 L146.0 548.4 L146.4 551.4 L146.4 554.2 L146.1 556.8 L145.5 559.2 L144.6 561.3 L143.3 563.0 L141.8 564.4 L140.1 565.3 L138.1 565.9 L136.0 566.0 L133.7 565.7" fill="none" stroke="#262626" stroke-width="1.12" stroke-linejoin="round" />
<path d="M120.2 554.1 L118.2 551.3 L116.4 548.3 L114.9 545.2 L113.6 542.1 L112.7 538.9 L112.0 535.8 L111.7 532.9 L111.7 530.1 L112.1 527.5 L112.7 525.1 L113.7 523.1 L115.0 521.4 L116.5 520.1 L118.3 519.2 L120.3 518.8 L122.5 518.7 L124.8 519.1 L127.2 519.9 L129.6 521.1 L132.0 522.7 L134.4 524.6 L136.8 526.9 L138.9 529.4 L140.9 532.2 L142.7 535.1 L144.3 538.2 L145.6 541.4 L146.6 544.5 L147.3 547.6 L147.7 550.6 L147.7 553.5 L147.4 556.1 L146.8 558.5 L145.9 560.5 L144.6 562.3 L143.1 563.6 L141.4 564.6 L139.4 565.1 L137.3 565.2 L135.0 564.9" fill="none" stroke="#262626" stroke-width="1.12" stroke-linejoin="round" />
<path d="M119.8 553.7 L118.0 551.2 L116.4 548.5 L115.0 545.7 L113.8 542.8 L113.0 540.0 L112.4 537.2 L112.1 534.5 L112.1 531.9 L112.4 529.6 L113.0 527.5 L113.9 525.6 L115.1 524.1 L116.5 522.9 L118.1 522.1 L119.9 521.7 L121.9 521.7 L123.9 522.0 L126.1 522.7 L128.3 523.8 L130.5 525.2 L132.7 527.0 L134.8 529.1 L136.8 531.4 L138.6 533.9 L140.2 536.5 L141.6 539.3 L142.8 542.2 L143.7 545.0 L144.3 547.8 L144.7 550.6 L144.7 553.1 L144.4 555.5 L143.9 557.7 L143.0 559.5 L141.9 561.1 L140.6 562.3 L139.0 563.2 L137.2 563.7 L135.2 563.8 L133.2 563.5" fill="none" stroke="#262626" stroke-width="1.12" stroke-linejoin="round" />
<ellipse cx="119.8" cy="553.6" rx="2.40" ry="1.38" transform="rotate(60 119.8 553.6)" fill="#fff" stroke="#262626" stroke-width="1.12" />
<ellipse cx="119.8" cy="553.6" rx="0.90" ry="0.52" transform="rotate(60 119.8 553.6)" fill="none" stroke="#262626" stroke-width="1.12" />
<ellipse cx="133.1" cy="563.3" rx="2.40" ry="1.38" transform="rotate(60 133.1 563.3)" fill="#fff" stroke="#262626" stroke-width="1.12" />
<ellipse cx="133.1" cy="563.3" rx="0.90" ry="0.52" transform="rotate(60 133.1 563.3)" fill="none" stroke="#262626" stroke-width="1.12" />
<path d="M144.1 505.2 L151.9 500.7 A24.60 14.19 60 0 1 176.5 543.3 L168.7 547.8 Z" fill="#fff" stroke="#262626" stroke-width="1.12" stroke-linejoin="round" />
<ellipse cx="156.4" cy="526.5" rx="24.60" ry="14.19" transform="rotate(60 156.4 526.5)" fill="#fff" stroke="#262626" stroke-width="1.12" />
<ellipse cx="156.4" cy="526.5" rx="21.16" ry="12.21" transform="rotate(60 156.4 526.5)" fill="none" stroke="#262626" stroke-width="0.90" />
<ellipse cx="156.4" cy="526.5" rx="17.22" ry="9.94" transform="rotate(60 156.4 526.5)" fill="none" stroke="#262626" stroke-width="1.46" />
<ellipse cx="156.4" cy="526.5" rx="15.25" ry="8.80" transform="rotate(60 156.4 526.5)" fill="none" stroke="#262626" stroke-width="0.90" />
<ellipse cx="156.4" cy="526.5" rx="11.56" ry="6.67" transform="rotate(60 156.4 526.5)" fill="none" stroke="#262626" stroke-width="1.68" />
<ellipse cx="156.4" cy="526.5" rx="9.35" ry="5.39" transform="rotate(60 156.4 526.5)" fill="none" stroke="#262626" stroke-width="1.01" />
<path d="M163.3 533.1 L162.7 533.7 L162.0 534.0 L161.2 534.2 L160.3 534.1 L159.4 533.9 L158.5 533.6 L157.5 533.0 L156.6 532.3 L155.6 531.5 L154.8 530.5 L154.0 529.5 L153.2 528.3 L152.6 527.1 L152.1 525.9 L151.7 524.7 L151.4 523.4 L151.3 522.3 L151.3 521.2 L151.5 520.2 L151.8 519.3 L152.2 518.5 L152.7 517.9 L153.4 517.5 L154.1 517.2" fill="none" stroke="#262626" stroke-width="0.90" stroke-linejoin="round" />
<ellipse cx="187.5" cy="508.6" rx="14.00" ry="8.08" transform="rotate(60 187.5 508.6)" fill="#fff" stroke="#262626" stroke-width="1.12" />
<ellipse cx="186.3" cy="509.3" rx="14.00" ry="8.08" transform="rotate(60 186.3 509.3)" fill="#fff" stroke="#262626" stroke-width="1.12" />
<ellipse cx="186.3" cy="509.3" rx="10.50" ry="6.06" transform="rotate(60 186.3 509.3)" fill="none" stroke="#262626" stroke-width="1.12" />
<path d="M263.5 447.6 L273.9 441.6 A15.00 8.65 60 0 1 288.9 467.6 L278.5 473.6 Z" fill="#fff" stroke="#262626" stroke-width="1.12" stroke-linejoin="round" />
<ellipse cx="271.0" cy="460.6" rx="15.00" ry="8.65" transform="rotate(60 271.0 460.6)" fill="#fff" stroke="#262626" stroke-width="1.12" />
<ellipse cx="271.0" cy="460.6" rx="12.60" ry="7.27" transform="rotate(60 271.0 460.6)" fill="none" stroke="#262626" stroke-width="1.68" />
<path d="M256.0 526.2 L257.2 528.9 L256.2 529.5 L254.4 527.0 L253.4 527.4 L254.4 530.2 L253.3 530.5 L251.7 527.9 L250.6 528.2 L251.3 531.0 L250.1 531.1 L248.7 528.4 L247.5 528.5 L248.1 531.2 L246.8 531.2 L245.5 528.4 L244.3 528.3 L244.6 531.0 L243.3 530.8 L242.2 528.0 L240.9 527.7 L241.1 530.3 L239.7 529.9 L238.8 527.1 L237.5 526.6 L237.4 529.1 L236.0 528.5 L235.3 525.8 L234.0 525.1 L233.7 527.4 L232.2 526.7 L231.8 524.0 L230.4 523.2 L229.9 525.3 L228.5 524.4 L228.2 521.8 L226.9 520.8 L226.2 522.8 L224.8 521.7 L224.7 519.2 L223.4 518.1 L222.5 519.8 L221.1 518.6 L221.3 516.2 L220.0 515.0 L218.9 516.5 L217.5 515.1 L217.9 512.9 L216.7 511.6 L215.4 512.8 L214.1 511.4 L214.7 509.3 L213.6 507.9 L212.1 508.9 L210.9 507.3 L211.7 505.4 L210.6 503.9 L209.0 504.6 L207.8 503.0 L208.9 501.3 L207.8 499.7 L206.1 500.2 L205.1 498.4 L206.3 497.1 L205.3 495.4 L203.5 495.6 L202.5 493.8 L203.9 492.6 L203.1 490.9 L201.1 490.8 L200.3 489.0 L201.8 488.1 L201.1 486.4 L199.1 486.0 L198.4 484.1 L200.1 483.5 L199.5 481.8 L197.4 481.1 L196.8 479.3 L198.6 479.0 L198.2 477.2 L196.0 476.3 L195.6 474.5 L197.5 474.4 L197.2 472.7 L195.0 471.5 L194.8 469.8 L196.8 470.0 L196.6 468.4 L194.4 466.9 L194.3 465.2 L196.4 465.7 L196.3 464.1 L194.2 462.4 L194.2 460.8 L196.3 461.6 L196.4 460.1 L194.3 458.2 L194.5 456.6 L196.6 457.7 L196.8 456.3 L194.8 454.2 L195.1 452.7 L197.3 454.1 L197.6 452.7 L195.7 450.5 L196.2 449.2 L198.3 450.7 L198.8 449.5 L197.0 447.1 L197.6 445.9 L199.7 447.7 L200.3 446.7 L198.6 444.1 L199.3 443.1 L201.4 445.1 L202.1 444.2 L200.5 441.5 L201.4 440.7 L203.3 442.8 L204.2 442.1 L202.8 439.4 L203.7 438.7 L205.6 441.0 L206.5 440.4 L205.4 437.7 L206.4 437.1 L208.1 439.6 L209.2 439.2 L208.2 436.4 L209.3 436.1 L210.9 438.7 L212.0 438.4 L211.2 435.7 L212.5 435.5 L213.9 438.2 L215.1 438.1 L214.5 435.4 L215.8 435.4 L217.1 438.2 L218.3 438.3 L217.9 435.6 L219.3 435.8 L220.4 438.6 L221.7 438.9 L221.5 436.3 L222.9 436.7 L223.8 439.5 L225.1 440.0 L225.2 437.5 L226.6 438.1 L227.3 440.8 L228.6 441.5 L228.9 439.2 L230.3 439.9 L230.8 442.6 L232.2 443.4 L232.7 441.3 L234.1 442.2 L234.4 444.8 L235.7 445.8 L236.4 443.8 L237.8 444.9 L237.9 447.4 L239.2 448.5 L240.1 446.8 L241.5 448.0 L241.3 450.4 L242.6 451.6 L243.7 450.1 L245.0 451.5 L244.7 453.7 L245.9 455.0 L247.2 453.8 L248.5 455.2 L247.9 457.3 L249.0 458.7 L250.5 457.7 L251.7 459.3 L250.9 461.2 L252.0 462.7 L253.6 462.0 L254.7 463.6 L253.7 465.3 L254.7 466.9 L256.5 466.4 L257.5 468.2 L256.3 469.5 L257.2 471.2 L259.1 471.0 L260.0 472.8 L258.7 474.0 L259.5 475.7 L261.5 475.8 L262.3 477.6 L260.7 478.5 L261.4 480.2 L263.5 480.6 L264.2 482.5 L262.5 483.1 L263.1 484.8 L265.2 485.5 L265.8 487.3 L263.9 487.6 L264.4 489.4 L266.5 490.3 L267.0 492.1 L265.0 492.2 L265.4 493.9 L267.5 495.1 L267.8 496.8 L265.8 496.6 L266.0 498.2 L268.2 499.7 L268.3 501.4 L266.2 500.9 L266.3 502.5 L268.4 504.2 L268.4 505.8 L266.3 505.0 L266.2 506.5 L268.3 508.4 L268.1 510.0 L265.9 508.9 L265.7 510.3 L267.7 512.4 L267.4 513.9 L265.3 512.5 L264.9 513.9 L266.8 516.1 L266.4 517.5 L264.3 515.9 L263.8 517.1 L265.6 519.5 L265.0 520.7 L262.9 518.9 L262.3 519.9 L264.0 522.5 L263.3 523.5 L261.2 521.5 L260.5 522.4 L262.0 525.1 L261.2 525.9 L259.2 523.8 L258.4 524.5 L259.8 527.2 L258.8 527.9 L257.0 525.6 Z" fill="#fff" stroke="#262626" stroke-width="0.90" stroke-linejoin="round" />
<path d="M244.0 533.0L243.0 533.4L253.4 527.4L254.4 527.0ZM241.3 533.9L240.2 534.2L250.6 528.2L251.7 527.9ZM238.3 534.4L237.1 534.5L247.5 528.5L248.7 528.4ZM235.1 534.4L233.9 534.3L244.3 528.3L245.5 528.4ZM231.8 534.0L230.5 533.7L240.9 527.7L242.2 528.0ZM228.4 533.1L227.1 532.6L237.5 526.6L238.8 527.1ZM224.9 531.8L223.6 531.1L234.0 525.1L235.3 525.8ZM221.4 530.0L220.0 529.2L230.4 523.2L231.8 524.0ZM217.8 527.8L216.5 526.8L226.9 520.8L228.2 521.8ZM214.3 525.2L213.0 524.1L223.4 518.1L224.7 519.2ZM210.9 522.2L209.6 521.0L220.0 515.0L221.3 516.2ZM207.5 518.9L206.3 517.6L216.7 511.6L217.9 512.9ZM204.3 515.3L203.2 513.9L213.6 507.9L214.7 509.3ZM201.3 511.4L200.2 509.9L210.6 503.9L211.7 505.4ZM198.5 507.3L197.5 505.7L207.8 499.7L208.9 501.3ZM195.9 503.1L194.9 501.4L205.3 495.4L206.3 497.1ZM193.5 498.6L192.7 496.9L203.1 490.9L203.9 492.6ZM191.5 494.1L190.8 492.4L201.1 486.4L201.8 488.1ZM189.7 489.5L189.1 487.8L199.5 481.8L200.1 483.5ZM188.3 485.0L187.8 483.2L198.2 477.2L198.6 479.0ZM187.1 480.4L186.8 478.7L197.2 472.7L197.5 474.4ZM186.4 476.0L186.2 474.4L196.6 468.4L196.8 470.0ZM186.0 471.7L185.9 470.1L196.3 464.1L196.4 465.7ZM185.9 467.6L186.0 466.1L196.4 460.1L196.3 461.6ZM186.2 463.7L186.5 462.3L196.8 456.3L196.6 457.7ZM186.9 460.1L187.3 458.7L197.6 452.7L197.3 454.1ZM187.9 456.7L188.4 455.5L198.8 449.5L198.3 450.7ZM189.3 453.7L189.9 452.7L200.3 446.7L199.7 447.7ZM191.0 451.1L191.7 450.2L202.1 444.2L201.4 445.1ZM192.9 448.8L193.8 448.1L204.2 442.1L203.3 442.8ZM195.2 447.0L196.2 446.4L206.5 440.4L205.6 441.0ZM197.8 445.6L198.8 445.2L209.2 439.2L208.1 439.6ZM200.5 444.7L201.6 444.4L212.0 438.4L210.9 438.7ZM203.5 444.2L204.7 444.1L215.1 438.1L213.9 438.2ZM206.7 444.2L207.9 444.3L218.3 438.3L217.1 438.2ZM210.0 444.6L211.3 444.9L221.7 438.9L220.4 438.6ZM213.4 445.5L214.7 446.0L225.1 440.0L223.8 439.5ZM216.9 446.8L218.2 447.5L228.6 441.5L227.3 440.8ZM220.4 448.6L221.8 449.4L232.2 443.4L230.8 442.6ZM224.0 450.8L225.3 451.8L235.7 445.8L234.4 444.8ZM227.5 453.4L228.8 454.5L239.2 448.5L237.9 447.4ZM230.9 456.4L232.2 457.6L242.6 451.6L241.3 450.4ZM234.3 459.7L235.5 461.0L245.9 455.0L244.7 453.7ZM237.5 463.3L238.6 464.7L249.0 458.7L247.9 457.3ZM240.5 467.2L241.6 468.7L252.0 462.7L250.9 461.2ZM243.3 471.3L244.3 472.9L254.7 466.9L253.7 465.3ZM245.9 475.5L246.9 477.2L257.2 471.2L256.3 469.5ZM248.3 480.0L249.1 481.7L259.5 475.7L258.7 474.0ZM250.3 484.5L251.0 486.2L261.4 480.2L260.7 478.5ZM252.1 489.1L252.7 490.8L263.1 484.8L262.5 483.1ZM253.5 493.6L254.0 495.4L264.4 489.4L263.9 487.6ZM254.7 498.2L255.0 499.9L265.4 493.9L265.0 492.2ZM255.4 502.6L255.6 504.2L266.0 498.2L265.8 496.6ZM255.8 506.9L255.9 508.5L266.3 502.5L266.2 500.9ZM255.9 511.0L255.8 512.5L266.2 506.5L266.3 505.0ZM255.6 514.9L255.3 516.3L265.7 510.3L265.9 508.9ZM254.9 518.5L254.5 519.9L264.9 513.9L265.3 512.5ZM253.9 521.9L253.4 523.1L263.8 517.1L264.3 515.9ZM252.5 524.9L251.9 525.9L262.3 519.9L262.9 518.9ZM250.8 527.5L250.1 528.4L260.5 522.4L261.2 521.5ZM248.9 529.8L248.0 530.5L258.4 524.5L259.2 523.8ZM246.6 531.6L245.7 532.2L256.0 526.2L257.0 525.6Z" fill="#3c3c3c" stroke="#262626" stroke-width="0.54" stroke-linejoin="round" />
<path d="M245.7 532.2L256.0 526.2M246.8 534.9L257.2 528.9M245.8 535.5L256.2 529.5M244.0 533.0L254.4 527.0M243.0 533.4L253.4 527.4M244.0 536.2L254.4 530.2M242.9 536.5L253.3 530.5M241.3 533.9L251.7 527.9M240.2 534.2L250.6 528.2M241.0 537.0L251.3 531.0M239.7 537.1L250.1 531.1M238.3 534.4L248.7 528.4M237.1 534.5L247.5 528.5M237.7 537.2L248.1 531.2M236.4 537.2L246.8 531.2M235.1 534.4L245.5 528.4M233.9 534.3L244.3 528.3M234.3 537.0L244.6 531.0M232.9 536.8L243.3 530.8M231.8 534.0L242.2 528.0M230.5 533.7L240.9 527.7M230.7 536.3L241.1 530.3M229.3 535.9L239.7 529.9M228.4 533.1L238.8 527.1M227.1 532.6L237.5 526.6M227.0 535.1L237.4 529.1M225.6 534.5L236.0 528.5M224.9 531.8L235.3 525.8M223.6 531.1L234.0 525.1M223.3 533.4L233.7 527.4M221.9 532.7L232.2 526.7M221.4 530.0L231.8 524.0M220.0 529.2L230.4 523.2M219.5 531.3L229.9 525.3M218.1 530.4L228.5 524.4M217.8 527.8L228.2 521.8M216.5 526.8L226.9 520.8M215.8 528.8L226.2 522.8M214.4 527.7L224.8 521.7M214.3 525.2L224.7 519.2M213.0 524.1L223.4 518.1M212.1 525.8L222.5 519.8M210.7 524.6L221.1 518.6M210.9 522.2L221.3 516.2M209.6 521.0L220.0 515.0M208.5 522.5L218.9 516.5M207.1 521.1L217.5 515.1M207.5 518.9L217.9 512.9M206.3 517.6L216.7 511.6M205.0 518.8L215.4 512.8M203.7 517.4L214.1 511.4M204.3 515.3L214.7 509.3M203.2 513.9L213.6 507.9M201.7 514.9L212.1 508.9M200.5 513.3L210.9 507.3M201.3 511.4L211.7 505.4M200.2 509.9L210.6 503.9M198.6 510.6L209.0 504.6M197.5 509.0L207.8 503.0M198.5 507.3L208.9 501.3M197.5 505.7L207.8 499.7M195.7 506.2L206.1 500.2M194.7 504.4L205.1 498.4M195.9 503.1L206.3 497.1M194.9 501.4L205.3 495.4M193.1 501.6L203.5 495.6M192.1 499.8L202.5 493.8M193.5 498.6L203.9 492.6M192.7 496.9L203.1 490.9M190.7 496.8L201.1 490.8M189.9 495.0L200.3 489.0M191.5 494.1L201.8 488.1M190.8 492.4L201.1 486.4M188.7 492.0L199.1 486.0M188.0 490.1L198.4 484.1M189.7 489.5L200.1 483.5M189.1 487.8L199.5 481.8M187.0 487.1L197.4 481.1M186.4 485.3L196.8 479.3M188.3 485.0L198.6 479.0M187.8 483.2L198.2 477.2M185.6 482.3L196.0 476.3M185.2 480.5L195.6 474.5M187.1 480.4L197.5 474.4M186.8 478.7L197.2 472.7M184.7 477.5L195.0 471.5M184.4 475.8L194.8 469.8M186.4 476.0L196.8 470.0M186.2 474.4L196.6 468.4M184.0 472.9L194.4 466.9M183.9 471.2L194.3 465.2M186.0 471.7L196.4 465.7M185.9 470.1L196.3 464.1M183.8 468.4L194.2 462.4M183.8 466.8L194.2 460.8M185.9 467.6L196.3 461.6M186.0 466.1L196.4 460.1M183.9 464.2L194.3 458.2M184.1 462.6L194.5 456.6M186.2 463.7L196.6 457.7M186.5 462.3L196.8 456.3M184.5 460.2L194.8 454.2M184.7 458.7L195.1 452.7M186.9 460.1L197.3 454.1M187.3 458.7L197.6 452.7M185.3 456.5L195.7 450.5M185.8 455.2L196.2 449.2M187.9 456.7L198.3 450.7M188.4 455.5L198.8 449.5M186.6 453.1L197.0 447.1M187.2 451.9L197.6 445.9M189.3 453.7L199.7 447.7M189.9 452.7L200.3 446.7M188.2 450.1L198.6 444.1M188.9 449.1L199.3 443.1M191.0 451.1L201.4 445.1M191.7 450.2L202.1 444.2M190.2 447.5L200.5 441.5M191.0 446.7L201.4 440.7M192.9 448.8L203.3 442.8M193.8 448.1L204.2 442.1M192.4 445.4L202.8 439.4M193.4 444.7L203.7 438.7M195.2 447.0L205.6 441.0M196.2 446.4L206.5 440.4M195.0 443.7L205.4 437.7M196.0 443.1L206.4 437.1M197.8 445.6L208.1 439.6M198.8 445.2L209.2 439.2M197.8 442.4L208.2 436.4M198.9 442.1L209.3 436.1M200.5 444.7L210.9 438.7M201.6 444.4L212.0 438.4M200.8 441.7L211.2 435.7M202.1 441.5L212.5 435.5M203.5 444.2L213.9 438.2M204.7 444.1L215.1 438.1M204.1 441.4L214.5 435.4M205.4 441.4L215.8 435.4M206.7 444.2L217.1 438.2M207.9 444.3L218.3 438.3M207.5 441.6L217.9 435.6M208.9 441.8L219.3 435.8M210.0 444.6L220.4 438.6M211.3 444.9L221.7 438.9M211.1 442.3L221.5 436.3M212.5 442.7L222.9 436.7M213.4 445.5L223.8 439.5M214.7 446.0L225.1 440.0M214.8 443.5L225.2 437.5M216.2 444.1L226.6 438.1M216.9 446.8L227.3 440.8M218.2 447.5L228.6 441.5M218.5 445.2L228.9 439.2M219.9 445.9L230.3 439.9M220.4 448.6L230.8 442.6M221.8 449.4L232.2 443.4M222.3 447.3L232.7 441.3M223.7 448.2L234.1 442.2M224.0 450.8L234.4 444.8M225.3 451.8L235.7 445.8M226.0 449.8L236.4 443.8M227.4 450.9L237.8 444.9M227.5 453.4L237.9 447.4M228.8 454.5L239.2 448.5M229.7 452.8L240.1 446.8M231.1 454.0L241.5 448.0M230.9 456.4L241.3 450.4M232.2 457.6L242.6 451.6M233.3 456.1L243.7 450.1M234.7 457.5L245.0 451.5M234.3 459.7L244.7 453.7M235.5 461.0L245.9 455.0M236.8 459.8L247.2 453.8M238.1 461.2L248.5 455.2M237.5 463.3L247.9 457.3M238.6 464.7L249.0 458.7M240.1 463.7L250.5 457.7M241.3 465.3L251.7 459.3M240.5 467.2L250.9 461.2M241.6 468.7L252.0 462.7M243.2 468.0L253.6 462.0M244.3 469.6L254.7 463.6M243.3 471.3L253.7 465.3M244.3 472.9L254.7 466.9M246.1 472.4L256.5 466.4M247.1 474.2L257.5 468.2M245.9 475.5L256.3 469.5M246.9 477.2L257.2 471.2M248.7 477.0L259.1 471.0M249.7 478.8L260.0 472.8M248.3 480.0L258.7 474.0M249.1 481.7L259.5 475.7M251.1 481.8L261.5 475.8M251.9 483.6L262.3 477.6M250.3 484.5L260.7 478.5M251.0 486.2L261.4 480.2M253.1 486.6L263.5 480.6M253.8 488.5L264.2 482.5M252.1 489.1L262.5 483.1M252.7 490.8L263.1 484.8M254.8 491.5L265.2 485.5M255.4 493.3L265.8 487.3M253.5 493.6L263.9 487.6M254.0 495.4L264.4 489.4M256.2 496.3L266.5 490.3M256.6 498.1L267.0 492.1M254.7 498.2L265.0 492.2M255.0 499.9L265.4 493.9M257.1 501.1L267.5 495.1M257.4 502.8L267.8 496.8M255.4 502.6L265.8 496.6M255.6 504.2L266.0 498.2M257.8 505.7L268.2 499.7M257.9 507.4L268.3 501.4M255.8 506.9L266.2 500.9M255.9 508.5L266.3 502.5M258.0 510.2L268.4 504.2M258.0 511.8L268.4 505.8M255.9 511.0L266.3 505.0M255.8 512.5L266.2 506.5M257.9 514.4L268.3 508.4M257.7 516.0L268.1 510.0M255.6 514.9L265.9 508.9M255.3 516.3L265.7 510.3M257.3 518.4L267.7 512.4M257.1 519.9L267.4 513.9M254.9 518.5L265.3 512.5M254.5 519.9L264.9 513.9M256.5 522.1L266.8 516.1M256.0 523.5L266.4 517.5M253.9 521.9L264.3 515.9M253.4 523.1L263.8 517.1M255.2 525.5L265.6 519.5M254.6 526.7L265.0 520.7M252.5 524.9L262.9 518.9M251.9 525.9L262.3 519.9M253.6 528.5L264.0 522.5M252.9 529.5L263.3 523.5M250.8 527.5L261.2 521.5M250.1 528.4L260.5 522.4M251.6 531.1L262.0 525.1M250.8 531.9L261.2 525.9M248.9 529.8L259.2 523.8M248.0 530.5L258.4 524.5M249.4 533.2L259.8 527.2M248.4 533.9L258.8 527.9M246.6 531.6L257.0 525.6" fill="none" stroke="#262626" stroke-width="0.81" stroke-linejoin="round" />
<path d="M245.7 532.2 L246.8 534.9 L245.8 535.5 L244.0 533.0 L243.0 533.4 L244.0 536.2 L242.9 536.5 L241.3 533.9 L240.2 534.2 L241.0 537.0 L239.7 537.1 L238.3 534.4 L237.1 534.5 L237.7 537.2 L236.4 537.2 L235.1 534.4 L233.9 534.3 L234.3 537.0 L232.9 536.8 L231.8 534.0 L230.5 533.7 L230.7 536.3 L229.3 535.9 L228.4 533.1 L227.1 532.6 L227.0 535.1 L225.6 534.5 L224.9 531.8 L223.6 531.1 L223.3 533.4 L221.9 532.7 L221.4 530.0 L220.0 529.2 L219.5 531.3 L218.1 530.4 L217.8 527.8 L216.5 526.8 L215.8 528.8 L214.4 527.7 L214.3 525.2 L213.0 524.1 L212.1 525.8 L210.7 524.6 L210.9 522.2 L209.6 521.0 L208.5 522.5 L207.1 521.1 L207.5 518.9 L206.3 517.6 L205.0 518.8 L203.7 517.4 L204.3 515.3 L203.2 513.9 L201.7 514.9 L200.5 513.3 L201.3 511.4 L200.2 509.9 L198.6 510.6 L197.5 509.0 L198.5 507.3 L197.5 505.7 L195.7 506.2 L194.7 504.4 L195.9 503.1 L194.9 501.4 L193.1 501.6 L192.1 499.8 L193.5 498.6 L192.7 496.9 L190.7 496.8 L189.9 495.0 L191.5 494.1 L190.8 492.4 L188.7 492.0 L188.0 490.1 L189.7 489.5 L189.1 487.8 L187.0 487.1 L186.4 485.3 L188.3 485.0 L187.8 483.2 L185.6 482.3 L185.2 480.5 L187.1 480.4 L186.8 478.7 L184.7 477.5 L184.4 475.8 L186.4 476.0 L186.2 474.4 L184.0 472.9 L183.9 471.2 L186.0 471.7 L185.9 470.1 L183.8 468.4 L183.8 466.8 L185.9 467.6 L186.0 466.1 L183.9 464.2 L184.1 462.6 L186.2 463.7 L186.5 462.3 L184.5 460.2 L184.7 458.7 L186.9 460.1 L187.3 458.7 L185.3 456.5 L185.8 455.2 L187.9 456.7 L188.4 455.5 L186.6 453.1 L187.2 451.9 L189.3 453.7 L189.9 452.7 L188.2 450.1 L188.9 449.1 L191.0 451.1 L191.7 450.2 L190.2 447.5 L191.0 446.7 L192.9 448.8 L193.8 448.1 L192.4 445.4 L193.4 444.7 L195.2 447.0 L196.2 446.4 L195.0 443.7 L196.0 443.1 L197.8 445.6 L198.8 445.2 L197.8 442.4 L198.9 442.1 L200.5 444.7 L201.6 444.4 L200.8 441.7 L202.1 441.5 L203.5 444.2 L204.7 444.1 L204.1 441.4 L205.4 441.4 L206.7 444.2 L207.9 444.3 L207.5 441.6 L208.9 441.8 L210.0 444.6 L211.3 444.9 L211.1 442.3 L212.5 442.7 L213.4 445.5 L214.7 446.0 L214.8 443.5 L216.2 444.1 L216.9 446.8 L218.2 447.5 L218.5 445.2 L219.9 445.9 L220.4 448.6 L221.8 449.4 L222.3 447.3 L223.7 448.2 L224.0 450.8 L225.3 451.8 L226.0 449.8 L227.4 450.9 L227.5 453.4 L228.8 454.5 L229.7 452.8 L231.1 454.0 L230.9 456.4 L232.2 457.6 L233.3 456.1 L234.7 457.5 L234.3 459.7 L235.5 461.0 L236.8 459.8 L238.1 461.2 L237.5 463.3 L238.6 464.7 L240.1 463.7 L241.3 465.3 L240.5 467.2 L241.6 468.7 L243.2 468.0 L244.3 469.6 L243.3 471.3 L244.3 472.9 L246.1 472.4 L247.1 474.2 L245.9 475.5 L246.9 477.2 L248.7 477.0 L249.7 478.8 L248.3 480.0 L249.1 481.7 L251.1 481.8 L251.9 483.6 L250.3 484.5 L251.0 486.2 L253.1 486.6 L253.8 488.5 L252.1 489.1 L252.7 490.8 L254.8 491.5 L255.4 493.3 L253.5 493.6 L254.0 495.4 L256.2 496.3 L256.6 498.1 L254.7 498.2 L255.0 499.9 L257.1 501.1 L257.4 502.8 L255.4 502.6 L255.6 504.2 L257.8 505.7 L257.9 507.4 L255.8 506.9 L255.9 508.5 L258.0 510.2 L258.0 511.8 L255.9 511.0 L255.8 512.5 L257.9 514.4 L257.7 516.0 L255.6 514.9 L255.3 516.3 L257.3 518.4 L257.1 519.9 L254.9 518.5 L254.5 519.9 L256.5 522.1 L256.0 523.5 L253.9 521.9 L253.4 523.1 L255.2 525.5 L254.6 526.7 L252.5 524.9 L251.9 525.9 L253.6 528.5 L252.9 529.5 L250.8 527.5 L250.1 528.4 L251.6 531.1 L250.8 531.9 L248.9 529.8 L248.0 530.5 L249.4 533.2 L248.4 533.9 L246.6 531.6 Z" fill="#fff" stroke="#262626" stroke-width="1.03" stroke-linejoin="round" />
<ellipse cx="220.9" cy="489.3" rx="44.00" ry="25.39" transform="rotate(60 220.9 489.3)" fill="none" stroke="#262626" stroke-width="1.01" />
<ellipse cx="220.9" cy="489.3" rx="20.70" ry="11.94" transform="rotate(60 220.9 489.3)" fill="none" stroke="#262626" stroke-width="1.01" />
<ellipse cx="220.9" cy="489.3" rx="14.30" ry="8.25" transform="rotate(60 220.9 489.3)" fill="none" stroke="#262626" stroke-width="1.34" />
<ellipse cx="220.9" cy="489.3" rx="13.20" ry="7.62" transform="rotate(60 220.9 489.3)" fill="#555" stroke="#262626" stroke-width="0.90" />
<path d="M215.9 479.6L222.0 476.1M218.6 480.5L224.7 477.0M221.4 482.5L227.4 479.0M223.8 485.4L229.9 481.9M225.8 488.8L231.9 485.3M227.0 492.3L233.1 488.8M227.4 495.7L233.4 492.2M226.8 498.5L232.9 495.0" fill="none" stroke="#eee" stroke-width="1.12" stroke-linejoin="round" />
<path d="M465.4 398.1 L466.9 401.5 L465.6 402.1 L463.5 399.0 L462.3 399.4 L463.4 402.8 L462.0 403.2 L460.2 399.9 L458.8 400.0 L459.6 403.4 L458.1 403.4 L456.5 400.0 L455.1 399.9 L455.6 403.2 L453.9 402.9 L452.7 399.5 L451.2 399.1 L451.3 402.2 L449.6 401.6 L448.7 398.2 L447.1 397.5 L446.8 400.5 L445.1 399.6 L444.5 396.2 L443.0 395.3 L442.3 398.0 L440.6 396.8 L440.4 393.6 L438.9 392.5 L437.9 394.8 L436.2 393.4 L436.4 390.4 L434.9 389.0 L433.5 390.9 L431.9 389.3 L432.4 386.6 L431.0 385.0 L429.4 386.6 L427.9 384.8 L428.7 382.4 L427.4 380.6 L425.5 381.7 L424.1 379.8 L425.3 377.7 L424.1 375.8 L422.0 376.5 L420.8 374.4 L422.3 372.7 L421.2 370.8 L418.9 371.0 L417.8 368.8 L419.6 367.6 L418.7 365.5 L416.2 365.2 L415.3 363.1 L417.4 362.2 L416.7 360.2 L414.1 359.5 L413.4 357.3 L415.7 356.9 L415.2 354.9 L412.5 353.7 L412.1 351.5 L414.5 351.7 L414.2 349.7 L411.5 348.1 L411.3 346.0 L413.9 346.6 L413.8 344.7 L411.1 342.7 L411.1 340.7 L413.8 341.8 L413.9 340.0 L411.4 337.6 L411.6 335.8 L414.3 337.3 L414.6 335.7 L412.2 333.0 L412.7 331.4 L415.3 333.3 L415.8 331.9 L413.6 328.9 L414.3 327.5 L416.9 329.8 L417.6 328.6 L415.6 325.5 L416.5 324.3 L419.0 326.9 L419.9 326.0 L418.1 322.6 L419.2 321.7 L421.5 324.6 L422.6 323.9 L421.1 320.5 L422.4 319.9 L424.5 323.0 L425.7 322.6 L424.6 319.2 L426.0 318.8 L427.8 322.1 L429.2 322.0 L428.3 318.6 L429.9 318.6 L431.4 322.0 L432.9 322.1 L432.4 318.8 L434.0 319.1 L435.3 322.5 L436.8 322.9 L436.7 319.8 L438.4 320.4 L439.3 323.8 L440.9 324.5 L441.2 321.5 L442.9 322.4 L443.4 325.8 L445.0 326.7 L445.6 324.0 L447.3 325.2 L447.6 328.4 L449.1 329.5 L450.1 327.2 L451.8 328.6 L451.6 331.6 L453.1 333.0 L454.4 331.1 L456.0 332.7 L455.5 335.4 L457.0 337.0 L458.6 335.4 L460.1 337.2 L459.2 339.6 L460.6 341.4 L462.5 340.3 L463.8 342.2 L462.7 344.3 L463.9 346.2 L466.0 345.5 L467.2 347.6 L465.7 349.3 L466.8 351.2 L469.1 351.0 L470.2 353.2 L468.4 354.4 L469.3 356.5 L471.8 356.8 L472.6 358.9 L470.6 359.8 L471.3 361.8 L473.9 362.5 L474.6 364.7 L472.3 365.1 L472.8 367.1 L475.5 368.3 L475.9 370.5 L473.5 370.3 L473.8 372.3 L476.5 373.9 L476.7 376.0 L474.1 375.4 L474.2 377.3 L476.9 379.3 L476.8 381.3 L474.2 380.2 L474.1 382.0 L476.6 384.4 L476.4 386.2 L473.7 384.7 L473.4 386.3 L475.8 389.0 L475.3 390.6 L472.7 388.7 L472.1 390.1 L474.4 393.1 L473.7 394.5 L471.1 392.2 L470.4 393.4 L472.4 396.5 L471.5 397.7 L469.0 395.1 L468.1 396.0 L469.9 399.4 L468.8 400.3 L466.5 397.4 Z" fill="#fff" stroke="#262626" stroke-width="1.01" stroke-linejoin="round" />
<path d="M458.3 402.0L457.1 402.4L462.3 399.4L463.5 399.0ZM455.0 402.9L453.6 403.0L458.8 400.0L460.2 399.9ZM451.4 403.0L449.9 402.9L455.1 399.9L456.5 400.0ZM447.5 402.5L446.0 402.1L451.2 399.1L452.7 399.5ZM443.5 401.2L441.9 400.5L447.1 397.5L448.7 398.2ZM439.3 399.2L437.8 398.3L443.0 395.3L444.5 396.2ZM435.2 396.6L433.7 395.5L438.9 392.5L440.4 393.6ZM431.2 393.4L429.7 392.0L434.9 389.0L436.4 390.4ZM427.2 389.6L425.8 388.0L431.0 385.0L432.4 386.6ZM423.5 385.4L422.2 383.6L427.4 380.6L428.7 382.4ZM420.1 380.7L418.9 378.8L424.1 375.8L425.3 377.7ZM417.1 375.7L416.0 373.8L421.2 370.8L422.3 372.7ZM414.4 370.6L413.5 368.5L418.7 365.5L419.6 367.6ZM412.2 365.2L411.5 363.2L416.7 360.2L417.4 362.2ZM410.5 359.9L410.0 357.9L415.2 354.9L415.7 356.9ZM409.3 354.7L409.0 352.7L414.2 349.7L414.5 351.7ZM408.7 349.6L408.6 347.7L413.8 344.7L413.9 346.6ZM408.6 344.8L408.7 343.0L413.9 340.0L413.8 341.8ZM409.1 340.3L409.4 338.7L414.6 335.7L414.3 337.3ZM410.1 336.3L410.7 334.9L415.8 331.9L415.3 333.3ZM411.7 332.8L412.4 331.6L417.6 328.6L416.9 329.8ZM413.8 329.9L414.7 329.0L419.9 326.0L419.0 326.9ZM416.3 327.6L417.4 326.9L422.6 323.9L421.5 324.6ZM419.3 326.0L420.5 325.6L425.7 322.6L424.5 323.0ZM422.6 325.1L424.0 325.0L429.2 322.0L427.8 322.1ZM426.2 325.0L427.7 325.1L432.9 322.1L431.4 322.0ZM430.1 325.5L431.6 325.9L436.8 322.9L435.3 322.5ZM434.1 326.8L435.7 327.5L440.9 324.5L439.3 323.8ZM438.3 328.8L439.8 329.7L445.0 326.7L443.4 325.8ZM442.4 331.4L443.9 332.5L449.1 329.5L447.6 328.4ZM446.4 334.6L447.9 336.0L453.1 333.0L451.6 331.6ZM450.4 338.4L451.8 340.0L457.0 337.0L455.5 335.4ZM454.1 342.6L455.4 344.4L460.6 341.4L459.2 339.6ZM457.5 347.3L458.7 349.2L463.9 346.2L462.7 344.3ZM460.5 352.3L461.6 354.2L466.8 351.2L465.7 349.3ZM463.2 357.4L464.1 359.5L469.3 356.5L468.4 354.4ZM465.4 362.8L466.1 364.8L471.3 361.8L470.6 359.8ZM467.1 368.1L467.6 370.1L472.8 367.1L472.3 365.1ZM468.3 373.3L468.6 375.3L473.8 372.3L473.5 370.3ZM468.9 378.4L469.0 380.3L474.2 377.3L474.1 375.4ZM469.0 383.2L468.9 385.0L474.1 382.0L474.2 380.2ZM468.5 387.7L468.2 389.3L473.4 386.3L473.7 384.7ZM467.5 391.7L466.9 393.1L472.1 390.1L472.7 388.7ZM465.9 395.2L465.2 396.4L470.4 393.4L471.1 392.2ZM463.8 398.1L462.9 399.0L468.1 396.0L469.0 395.1ZM461.3 400.4L460.2 401.1L465.4 398.1L466.5 397.4Z" fill="#3c3c3c" stroke="#262626" stroke-width="0.60" stroke-linejoin="round" />
<path d="M460.2 401.1L465.4 398.1M461.7 404.5L466.9 401.5M460.4 405.1L465.6 402.1M458.3 402.0L463.5 399.0M457.1 402.4L462.3 399.4M458.2 405.8L463.4 402.8M456.8 406.2L462.0 403.2M455.0 402.9L460.2 399.9M453.6 403.0L458.8 400.0M454.4 406.4L459.6 403.4M452.9 406.4L458.1 403.4M451.4 403.0L456.5 400.0M449.9 402.9L455.1 399.9M450.4 406.2L455.6 403.2M448.8 405.9L453.9 402.9M447.5 402.5L452.7 399.5M446.0 402.1L451.2 399.1M446.1 405.2L451.3 402.2M444.4 404.6L449.6 401.6M443.5 401.2L448.7 398.2M441.9 400.5L447.1 397.5M441.6 403.5L446.8 400.5M439.9 402.6L445.1 399.6M439.3 399.2L444.5 396.2M437.8 398.3L443.0 395.3M437.1 401.0L442.3 398.0M435.4 399.8L440.6 396.8M435.2 396.6L440.4 393.6M433.7 395.5L438.9 392.5M432.7 397.8L437.9 394.8M431.0 396.4L436.2 393.4M431.2 393.4L436.4 390.4M429.7 392.0L434.9 389.0M428.4 393.9L433.5 390.9M426.8 392.3L431.9 389.3M427.2 389.6L432.4 386.6M425.8 388.0L431.0 385.0M424.2 389.6L429.4 386.6M422.7 387.8L427.9 384.8M423.5 385.4L428.7 382.4M422.2 383.6L427.4 380.6M420.3 384.7L425.5 381.7M418.9 382.8L424.1 379.8M420.1 380.7L425.3 377.7M418.9 378.8L424.1 375.8M416.8 379.5L422.0 376.5M415.6 377.4L420.8 374.4M417.1 375.7L422.3 372.7M416.0 373.8L421.2 370.8M413.7 374.0L418.9 371.0M412.6 371.8L417.8 368.8M414.4 370.6L419.6 367.6M413.5 368.5L418.7 365.5M411.0 368.2L416.2 365.2M410.2 366.1L415.3 363.1M412.2 365.2L417.4 362.2M411.5 363.2L416.7 360.2M408.9 362.5L414.1 359.5M408.2 360.3L413.4 357.3M410.5 359.9L415.7 356.9M410.0 357.9L415.2 354.9M407.3 356.7L412.5 353.7M406.9 354.5L412.1 351.5M409.3 354.7L414.5 351.7M409.0 352.7L414.2 349.7M406.3 351.1L411.5 348.1M406.1 349.0L411.3 346.0M408.7 349.6L413.9 346.6M408.6 347.7L413.8 344.7M405.9 345.7L411.1 342.7M405.9 343.7L411.1 340.7M408.6 344.8L413.8 341.8M408.7 343.0L413.9 340.0M406.2 340.6L411.4 337.6M406.4 338.8L411.6 335.8M409.1 340.3L414.3 337.3M409.4 338.7L414.6 335.7M407.0 336.0L412.2 333.0M407.5 334.4L412.7 331.4M410.1 336.3L415.3 333.3M410.7 334.9L415.8 331.9M408.4 331.9L413.6 328.9M409.1 330.5L414.3 327.5M411.7 332.8L416.9 329.8M412.4 331.6L417.6 328.6M410.4 328.5L415.6 325.5M411.3 327.3L416.5 324.3M413.8 329.9L419.0 326.9M414.7 329.0L419.9 326.0M412.9 325.6L418.1 322.6M414.0 324.7L419.2 321.7M416.3 327.6L421.5 324.6M417.4 326.9L422.6 323.9M415.9 323.5L421.1 320.5M417.2 322.9L422.4 319.9M419.3 326.0L424.5 323.0M420.5 325.6L425.7 322.6M419.4 322.2L424.6 319.2M420.8 321.8L426.0 318.8M422.6 325.1L427.8 322.1M424.0 325.0L429.2 322.0M423.2 321.6L428.3 318.6M424.7 321.6L429.9 318.6M426.2 325.0L431.4 322.0M427.7 325.1L432.9 322.1M427.2 321.8L432.4 318.8M428.8 322.1L434.0 319.1M430.1 325.5L435.3 322.5M431.6 325.9L436.8 322.9M431.5 322.8L436.7 319.8M433.2 323.4L438.4 320.4M434.1 326.8L439.3 323.8M435.7 327.5L440.9 324.5M436.0 324.5L441.2 321.5M437.7 325.4L442.9 322.4M438.3 328.8L443.4 325.8M439.8 329.7L445.0 326.7M440.5 327.0L445.6 324.0M442.2 328.2L447.3 325.2M442.4 331.4L447.6 328.4M443.9 332.5L449.1 329.5M444.9 330.2L450.1 327.2M446.6 331.6L451.8 328.6M446.4 334.6L451.6 331.6M447.9 336.0L453.1 333.0M449.2 334.1L454.4 331.1M450.8 335.7L456.0 332.7M450.4 338.4L455.5 335.4M451.8 340.0L457.0 337.0M453.4 338.4L458.6 335.4M454.9 340.2L460.1 337.2M454.1 342.6L459.2 339.6M455.4 344.4L460.6 341.4M457.3 343.3L462.5 340.3M458.7 345.2L463.8 342.2M457.5 347.3L462.7 344.3M458.7 349.2L463.9 346.2M460.8 348.5L466.0 345.5M462.0 350.6L467.2 347.6M460.5 352.3L465.7 349.3M461.6 354.2L466.8 351.2M463.9 354.0L469.1 351.0M465.0 356.2L470.2 353.2M463.2 357.4L468.4 354.4M464.1 359.5L469.3 356.5M466.6 359.8L471.8 356.8M467.4 361.9L472.6 358.9M465.4 362.8L470.6 359.8M466.1 364.8L471.3 361.8M468.7 365.5L473.9 362.5M469.4 367.7L474.6 364.7M467.1 368.1L472.3 365.1M467.6 370.1L472.8 367.1M470.3 371.3L475.5 368.3M470.7 373.5L475.9 370.5M468.3 373.3L473.5 370.3M468.6 375.3L473.8 372.3M471.3 376.9L476.5 373.9M471.5 379.0L476.7 376.0M468.9 378.4L474.1 375.4M469.0 380.3L474.2 377.3M471.7 382.3L476.9 379.3M471.7 384.3L476.8 381.3M469.0 383.2L474.2 380.2M468.9 385.0L474.1 382.0M471.4 387.4L476.6 384.4M471.2 389.2L476.4 386.2M468.5 387.7L473.7 384.7M468.2 389.3L473.4 386.3M470.6 392.0L475.8 389.0M470.1 393.6L475.3 390.6M467.5 391.7L472.7 388.7M466.9 393.1L472.1 390.1M469.2 396.1L474.4 393.1M468.5 397.5L473.7 394.5M465.9 395.2L471.1 392.2M465.2 396.4L470.4 393.4M467.2 399.5L472.4 396.5M466.3 400.7L471.5 397.7M463.8 398.1L469.0 395.1M462.9 399.0L468.1 396.0M464.7 402.4L469.9 399.4M463.6 403.3L468.8 400.3M461.3 400.4L466.5 397.4" fill="none" stroke="#262626" stroke-width="0.91" stroke-linejoin="round" />
<path d="M460.2 401.1 L461.7 404.5 L460.4 405.1 L458.3 402.0 L457.1 402.4 L458.2 405.8 L456.8 406.2 L455.0 402.9 L453.6 403.0 L454.4 406.4 L452.9 406.4 L451.4 403.0 L449.9 402.9 L450.4 406.2 L448.8 405.9 L447.5 402.5 L446.0 402.1 L446.1 405.2 L444.4 404.6 L443.5 401.2 L441.9 400.5 L441.6 403.5 L439.9 402.6 L439.3 399.2 L437.8 398.3 L437.1 401.0 L435.4 399.8 L435.2 396.6 L433.7 395.5 L432.7 397.8 L431.0 396.4 L431.2 393.4 L429.7 392.0 L428.4 393.9 L426.8 392.3 L427.2 389.6 L425.8 388.0 L424.2 389.6 L422.7 387.8 L423.5 385.4 L422.2 383.6 L420.3 384.7 L418.9 382.8 L420.1 380.7 L418.9 378.8 L416.8 379.5 L415.6 377.4 L417.1 375.7 L416.0 373.8 L413.7 374.0 L412.6 371.8 L414.4 370.6 L413.5 368.5 L411.0 368.2 L410.2 366.1 L412.2 365.2 L411.5 363.2 L408.9 362.5 L408.2 360.3 L410.5 359.9 L410.0 357.9 L407.3 356.7 L406.9 354.5 L409.3 354.7 L409.0 352.7 L406.3 351.1 L406.1 349.0 L408.7 349.6 L408.6 347.7 L405.9 345.7 L405.9 343.7 L408.6 344.8 L408.7 343.0 L406.2 340.6 L406.4 338.8 L409.1 340.3 L409.4 338.7 L407.0 336.0 L407.5 334.4 L410.1 336.3 L410.7 334.9 L408.4 331.9 L409.1 330.5 L411.7 332.8 L412.4 331.6 L410.4 328.5 L411.3 327.3 L413.8 329.9 L414.7 329.0 L412.9 325.6 L414.0 324.7 L416.3 327.6 L417.4 326.9 L415.9 323.5 L417.2 322.9 L419.3 326.0 L420.5 325.6 L419.4 322.2 L420.8 321.8 L422.6 325.1 L424.0 325.0 L423.2 321.6 L424.7 321.6 L426.2 325.0 L427.7 325.1 L427.2 321.8 L428.8 322.1 L430.1 325.5 L431.6 325.9 L431.5 322.8 L433.2 323.4 L434.1 326.8 L435.7 327.5 L436.0 324.5 L437.7 325.4 L438.3 328.8 L439.8 329.7 L440.5 327.0 L442.2 328.2 L442.4 331.4 L443.9 332.5 L444.9 330.2 L446.6 331.6 L446.4 334.6 L447.9 336.0 L449.2 334.1 L450.8 335.7 L450.4 338.4 L451.8 340.0 L453.4 338.4 L454.9 340.2 L454.1 342.6 L455.4 344.4 L457.3 343.3 L458.7 345.2 L457.5 347.3 L458.7 349.2 L460.8 348.5 L462.0 350.6 L460.5 352.3 L461.6 354.2 L463.9 354.0 L465.0 356.2 L463.2 357.4 L464.1 359.5 L466.6 359.8 L467.4 361.9 L465.4 362.8 L466.1 364.8 L468.7 365.5 L469.4 367.7 L467.1 368.1 L467.6 370.1 L470.3 371.3 L470.7 373.5 L468.3 373.3 L468.6 375.3 L471.3 376.9 L471.5 379.0 L468.9 378.4 L469.0 380.3 L471.7 382.3 L471.7 384.3 L469.0 383.2 L468.9 385.0 L471.4 387.4 L471.2 389.2 L468.5 387.7 L468.2 389.3 L470.6 392.0 L470.1 393.6 L467.5 391.7 L466.9 393.1 L469.2 396.1 L468.5 397.5 L465.9 395.2 L465.2 396.4 L467.2 399.5 L466.3 400.7 L463.8 398.1 L462.9 399.0 L464.7 402.4 L463.6 403.3 L461.3 400.4 Z" fill="#fff" stroke="#262626" stroke-width="1.16" stroke-linejoin="round" />
<ellipse cx="438.8" cy="364.0" rx="37.00" ry="21.35" transform="rotate(60 438.8 364.0)" fill="none" stroke="#262626" stroke-width="1.01" />
<path d="M443.0 387.1 L445.3 392.1 L443.7 392.8 L441.0 387.9 L439.6 388.1 L440.9 393.1 L439.0 393.0 L437.1 387.9 L435.5 387.5 L435.7 392.2 L433.7 391.3 L432.9 386.4 L431.2 385.4 L430.3 389.3 L428.2 387.7 L428.6 383.4 L427.0 381.9 L425.0 384.7 L423.2 382.6 L424.6 379.1 L423.2 377.3 L420.3 378.8 L418.8 376.3 L421.2 374.1 L420.1 372.0 L416.6 372.0 L415.5 369.4 L418.7 368.5 L418.1 366.4 L414.2 365.0 L413.6 362.4 L417.3 363.0 L417.1 361.0 L413.2 358.3 L413.3 355.9 L417.2 357.9 L417.4 356.2 L413.8 352.4 L414.4 350.5 L418.2 353.7 L419.0 352.4 L415.9 347.8 L417.0 346.5 L420.4 350.7 L421.5 349.9 L419.3 344.9 L420.9 344.2 L423.6 349.1 L425.0 348.9 L423.7 343.9 L425.6 344.0 L427.5 349.1 L429.1 349.5 L428.9 344.8 L430.9 345.7 L431.7 350.6 L433.4 351.6 L434.3 347.7 L436.3 349.3 L436.0 353.6 L437.6 355.1 L439.6 352.3 L441.4 354.4 L440.0 357.9 L441.4 359.7 L444.2 358.2 L445.8 360.7 L443.4 362.9 L444.5 365.0 L448.0 365.0 L449.0 367.6 L445.9 368.5 L446.5 370.6 L450.4 372.0 L450.9 374.6 L447.2 374.0 L447.5 376.0 L451.4 378.7 L451.3 381.1 L447.4 379.1 L447.1 380.8 L450.8 384.6 L450.2 386.5 L446.3 383.3 L445.6 384.6 L448.7 389.2 L447.6 390.5 L444.1 386.3 Z" fill="#fff" stroke="#262626" stroke-width="1.01" stroke-linejoin="round" />
<path d="M433.2 392.4L431.8 392.6L439.6 388.1L441.0 387.9ZM429.3 392.4L427.7 392.0L435.5 387.5L437.1 387.9ZM425.1 390.9L423.4 389.9L431.2 385.4L432.9 386.4ZM420.8 387.9L419.2 386.4L427.0 381.9L428.6 383.4ZM416.8 383.6L415.4 381.8L423.2 377.3L424.6 379.1ZM413.4 378.6L412.3 376.5L420.1 372.0L421.2 374.1ZM410.9 373.0L410.3 370.9L418.1 366.4L418.7 368.5ZM409.5 367.5L409.3 365.5L417.1 361.0L417.3 363.0ZM409.4 362.4L409.6 360.7L417.4 356.2L417.2 357.9ZM410.4 358.2L411.2 356.9L419.0 352.4L418.2 353.7ZM412.6 355.2L413.8 354.4L421.5 349.9L420.4 350.7ZM415.8 353.6L417.2 353.4L425.0 348.9L423.6 349.1ZM419.7 353.6L421.3 354.0L429.1 349.5L427.5 349.1ZM423.9 355.1L425.6 356.1L433.4 351.6L431.7 350.6ZM428.2 358.1L429.8 359.6L437.6 355.1L436.0 353.6ZM432.2 362.4L433.6 364.2L441.4 359.7L440.0 357.9ZM435.6 367.4L436.7 369.5L444.5 365.0L443.4 362.9ZM438.1 373.0L438.7 375.1L446.5 370.6L445.9 368.5ZM439.5 378.5L439.7 380.5L447.5 376.0L447.2 374.0ZM439.6 383.6L439.4 385.3L447.1 380.8L447.4 379.1ZM438.6 387.8L437.8 389.1L445.6 384.6L446.3 383.3ZM436.4 390.8L435.2 391.6L443.0 387.1L444.1 386.3Z" fill="#3c3c3c" stroke="#262626" stroke-width="0.60" stroke-linejoin="round" />
<path d="M435.2 391.6L443.0 387.1M437.5 396.6L445.3 392.1M435.9 397.3L443.7 392.8M433.2 392.4L441.0 387.9M431.8 392.6L439.6 388.1M433.1 397.6L440.9 393.1M431.2 397.5L439.0 393.0M429.3 392.4L437.1 387.9M427.7 392.0L435.5 387.5M427.9 396.7L435.7 392.2M425.9 395.8L433.7 391.3M425.1 390.9L432.9 386.4M423.4 389.9L431.2 385.4M422.5 393.8L430.3 389.3M420.4 392.2L428.2 387.7M420.8 387.9L428.6 383.4M419.2 386.4L427.0 381.9M417.2 389.2L425.0 384.7M415.4 387.1L423.2 382.6M416.8 383.6L424.6 379.1M415.4 381.8L423.2 377.3M412.5 383.3L420.3 378.8M411.0 380.8L418.8 376.3M413.4 378.6L421.2 374.1M412.3 376.5L420.1 372.0M408.8 376.5L416.6 372.0M407.8 373.9L415.5 369.4M410.9 373.0L418.7 368.5M410.3 370.9L418.1 366.4M406.4 369.5L414.2 365.0M405.9 366.9L413.6 362.4M409.5 367.5L417.3 363.0M409.3 365.5L417.1 361.0M405.4 362.8L413.2 358.3M405.5 360.4L413.3 355.9M409.4 362.4L417.2 357.9M409.6 360.7L417.4 356.2M406.0 356.9L413.8 352.4M406.6 355.0L414.4 350.5M410.4 358.2L418.2 353.7M411.2 356.9L419.0 352.4M408.1 352.3L415.9 347.8M409.2 351.0L417.0 346.5M412.6 355.2L420.4 350.7M413.8 354.4L421.5 349.9M411.5 349.4L419.3 344.9M413.1 348.7L420.9 344.2M415.8 353.6L423.6 349.1M417.2 353.4L425.0 348.9M415.9 348.4L423.7 343.9M417.8 348.5L425.6 344.0M419.7 353.6L427.5 349.1M421.3 354.0L429.1 349.5M421.1 349.3L428.9 344.8M423.1 350.2L430.9 345.7M423.9 355.1L431.7 350.6M425.6 356.1L433.4 351.6M426.5 352.2L434.3 347.7M428.6 353.8L436.3 349.3M428.2 358.1L436.0 353.6M429.8 359.6L437.6 355.1M431.8 356.8L439.6 352.3M433.6 358.9L441.4 354.4M432.2 362.4L440.0 357.9M433.6 364.2L441.4 359.7M436.5 362.7L444.2 358.2M438.0 365.2L445.8 360.7M435.6 367.4L443.4 362.9M436.7 369.5L444.5 365.0M440.2 369.5L448.0 365.0M441.2 372.1L449.0 367.6M438.1 373.0L445.9 368.5M438.7 375.1L446.5 370.6M442.6 376.5L450.4 372.0M443.1 379.1L450.9 374.6M439.5 378.5L447.2 374.0M439.7 380.5L447.5 376.0M443.6 383.2L451.4 378.7M443.5 385.6L451.3 381.1M439.6 383.6L447.4 379.1M439.4 385.3L447.1 380.8M443.0 389.1L450.8 384.6M442.4 391.0L450.2 386.5M438.6 387.8L446.3 383.3M437.8 389.1L445.6 384.6M440.9 393.7L448.7 389.2M439.8 395.0L447.6 390.5M436.4 390.8L444.1 386.3" fill="none" stroke="#262626" stroke-width="0.91" stroke-linejoin="round" />
<path d="M435.2 391.6 L437.5 396.6 L435.9 397.3 L433.2 392.4 L431.8 392.6 L433.1 397.6 L431.2 397.5 L429.3 392.4 L427.7 392.0 L427.9 396.7 L425.9 395.8 L425.1 390.9 L423.4 389.9 L422.5 393.8 L420.4 392.2 L420.8 387.9 L419.2 386.4 L417.2 389.2 L415.4 387.1 L416.8 383.6 L415.4 381.8 L412.5 383.3 L411.0 380.8 L413.4 378.6 L412.3 376.5 L408.8 376.5 L407.8 373.9 L410.9 373.0 L410.3 370.9 L406.4 369.5 L405.9 366.9 L409.5 367.5 L409.3 365.5 L405.4 362.8 L405.5 360.4 L409.4 362.4 L409.6 360.7 L406.0 356.9 L406.6 355.0 L410.4 358.2 L411.2 356.9 L408.1 352.3 L409.2 351.0 L412.6 355.2 L413.8 354.4 L411.5 349.4 L413.1 348.7 L415.8 353.6 L417.2 353.4 L415.9 348.4 L417.8 348.5 L419.7 353.6 L421.3 354.0 L421.1 349.3 L423.1 350.2 L423.9 355.1 L425.6 356.1 L426.5 352.2 L428.6 353.8 L428.2 358.1 L429.8 359.6 L431.8 356.8 L433.6 358.9 L432.2 362.4 L433.6 364.2 L436.5 362.7 L438.0 365.2 L435.6 367.4 L436.7 369.5 L440.2 369.5 L441.2 372.1 L438.1 373.0 L438.7 375.1 L442.6 376.5 L443.1 379.1 L439.5 378.5 L439.7 380.5 L443.6 383.2 L443.5 385.6 L439.6 383.6 L439.4 385.3 L443.0 389.1 L442.4 391.0 L438.6 387.8 L437.8 389.1 L440.9 393.7 L439.8 395.0 L436.4 390.8 Z" fill="#fff" stroke="#262626" stroke-width="1.16" stroke-linejoin="round" />
<ellipse cx="424.5" cy="373.0" rx="17.00" ry="9.81" transform="rotate(60 424.5 373.0)" fill="none" stroke="#262626" stroke-width="1.01" />
<ellipse cx="424.5" cy="373.0" rx="12.50" ry="7.21" transform="rotate(60 424.5 373.0)" fill="none" stroke="#262626" stroke-width="1.46" />
<path d="M419.5 362.4 L420.2 361.4 L421.0 360.6 L422.0 360.1 L423.1 359.9 L424.3 359.9 L425.6 360.2 L426.9 360.8 L428.3 361.6 L429.6 362.6 L430.9 363.8 L432.1 365.2 L433.2 366.8 L434.1 368.4 L435.0 370.1 L435.6 371.9 L436.0 373.6 L436.3 375.3 L436.3 376.8 L436.2 378.3 L435.8 379.6 L435.2 380.7 L434.5 381.6 L433.6 382.2 L432.6 382.6" fill="none" stroke="#262626" stroke-width="0.90" stroke-linejoin="round" />
<path d="M464.9 325.0 L473.6 320.0 A20.80 12.00 60 0 1 494.4 356.0 L485.7 361.0 Z" fill="#fff" stroke="#262626" stroke-width="1.12" stroke-linejoin="round" />
<ellipse cx="475.3" cy="343.0" rx="20.80" ry="12.00" transform="rotate(60 475.3 343.0)" fill="#fff" stroke="#262626" stroke-width="1.12" />
<ellipse cx="475.3" cy="343.0" rx="17.89" ry="10.32" transform="rotate(60 475.3 343.0)" fill="none" stroke="#262626" stroke-width="0.90" />
<ellipse cx="475.3" cy="343.0" rx="14.56" ry="8.40" transform="rotate(60 475.3 343.0)" fill="none" stroke="#262626" stroke-width="1.46" />
<ellipse cx="475.3" cy="343.0" rx="12.90" ry="7.44" transform="rotate(60 475.3 343.0)" fill="none" stroke="#262626" stroke-width="0.90" />
<ellipse cx="475.3" cy="343.0" rx="9.78" ry="5.64" transform="rotate(60 475.3 343.0)" fill="none" stroke="#262626" stroke-width="1.68" />
<ellipse cx="475.3" cy="343.0" rx="7.90" ry="4.56" transform="rotate(60 475.3 343.0)" fill="none" stroke="#262626" stroke-width="1.01" />
<path d="M481.4 348.4 L480.9 348.9 L480.3 349.2 L479.6 349.3 L478.9 349.3 L478.1 349.1 L477.3 348.8 L476.5 348.4 L475.7 347.8 L474.9 347.1 L474.1 346.2 L473.5 345.3 L472.9 344.4 L472.3 343.4 L471.9 342.3 L471.6 341.3 L471.3 340.2 L471.2 339.3 L471.2 338.3 L471.4 337.5 L471.6 336.7 L472.0 336.1 L472.4 335.6 L473.0 335.2 L473.6 335.0" fill="none" stroke="#262626" stroke-width="0.90" stroke-linejoin="round" />
<path d="M409.3 408.3 L410.5 415.3 L407.5 415.7 L403.1 409.1 L401.5 408.7 L399.5 413.6 L395.9 411.5 L394.1 404.3 L392.5 402.8 L388.0 404.0 L385.0 400.0 L386.4 394.5 L385.4 392.5 L379.7 389.6 L378.3 385.0 L382.4 382.9 L382.2 380.9 L377.3 374.9 L377.9 371.2 L383.4 373.2 L384.1 371.9 L381.5 364.7 L383.9 363.0 L389.1 368.5 L390.5 368.3 L390.9 362.0 L394.4 362.9 L397.6 370.2 L399.2 371.1 L402.6 367.9 L406.0 371.1 L406.3 377.8 L407.6 379.6 L412.9 380.4 L415.2 384.9 L412.3 388.9 L413.0 391.0 L418.5 395.6 L418.9 399.9 L413.9 400.0 L413.6 401.7 L417.6 408.6 L416.1 411.4 L410.4 407.5 Z" fill="#fff" stroke="#262626" stroke-width="1.12" stroke-linejoin="round" />
<path d="M400.5 410.6L398.9 410.2L401.5 408.7L403.1 409.1ZM391.5 405.8L389.9 404.3L392.5 402.8L394.1 404.3ZM383.8 396.0L382.8 394.0L385.4 392.5L386.4 394.5ZM379.8 384.4L379.6 382.4L382.2 380.9L382.4 382.9ZM380.8 374.7L381.5 373.4L384.1 371.9L383.4 373.2ZM386.5 370.0L387.9 369.8L390.5 368.3L389.1 368.5ZM395.0 371.7L396.6 372.6L399.2 371.1L397.6 370.2ZM403.7 379.3L405.0 381.1L407.6 379.6L406.3 377.8ZM409.8 390.4L410.4 392.5L413.0 391.0L412.3 388.9ZM411.3 401.5L411.0 403.2L413.6 401.7L413.9 400.0ZM407.8 409.0L406.8 409.8L409.3 408.3L410.4 407.5Z" fill="#3c3c3c" stroke="#262626" stroke-width="0.67" stroke-linejoin="round" />
<path d="M406.8 409.8L409.3 408.3M407.9 416.8L410.5 415.3M404.9 417.2L407.5 415.7M400.5 410.6L403.1 409.1M398.9 410.2L401.5 408.7M396.9 415.1L399.5 413.6M393.3 413.0L395.9 411.5M391.5 405.8L394.1 404.3M389.9 404.3L392.5 402.8M385.4 405.5L388.0 404.0M382.4 401.5L385.0 400.0M383.8 396.0L386.4 394.5M382.8 394.0L385.4 392.5M377.1 391.1L379.7 389.6M375.7 386.5L378.3 385.0M379.8 384.4L382.4 382.9M379.6 382.4L382.2 380.9M374.7 376.4L377.3 374.9M375.3 372.7L377.9 371.2M380.8 374.7L383.4 373.2M381.5 373.4L384.1 371.9M378.9 366.2L381.5 364.7M381.3 364.5L383.9 363.0M386.5 370.0L389.1 368.5M387.9 369.8L390.5 368.3M388.3 363.5L390.9 362.0M391.8 364.4L394.4 362.9M395.0 371.7L397.6 370.2M396.6 372.6L399.2 371.1M400.0 369.4L402.6 367.9M403.4 372.6L406.0 371.1M403.7 379.3L406.3 377.8M405.0 381.1L407.6 379.6M410.3 381.9L412.9 380.4M412.6 386.4L415.2 384.9M409.8 390.4L412.3 388.9M410.4 392.5L413.0 391.0M415.9 397.1L418.5 395.6M416.3 401.4L418.9 399.9M411.3 401.5L413.9 400.0M411.0 403.2L413.6 401.7M415.0 410.1L417.6 408.6M413.5 412.9L416.1 411.4M407.8 409.0L410.4 407.5" fill="none" stroke="#262626" stroke-width="1.01" stroke-linejoin="round" />
<path d="M406.8 409.8 L407.9 416.8 L404.9 417.2 L400.5 410.6 L398.9 410.2 L396.9 415.1 L393.3 413.0 L391.5 405.8 L389.9 404.3 L385.4 405.5 L382.4 401.5 L383.8 396.0 L382.8 394.0 L377.1 391.1 L375.7 386.5 L379.8 384.4 L379.6 382.4 L374.7 376.4 L375.3 372.7 L380.8 374.7 L381.5 373.4 L378.9 366.2 L381.3 364.5 L386.5 370.0 L387.9 369.8 L388.3 363.5 L391.8 364.4 L395.0 371.7 L396.6 372.6 L400.0 369.4 L403.4 372.6 L403.7 379.3 L405.0 381.1 L410.3 381.9 L412.6 386.4 L409.8 390.4 L410.4 392.5 L415.9 397.1 L416.3 401.4 L411.3 401.5 L411.0 403.2 L415.0 410.1 L413.5 412.9 L407.8 409.0 Z" fill="#fff" stroke="#262626" stroke-width="1.29" stroke-linejoin="round" />
<path d="M380.8 377.4 L388.5 372.9 A15.70 9.06 60 0 1 404.2 400.1 L396.5 404.6 Z" fill="#fff" stroke="#262626" stroke-width="1.12" stroke-linejoin="round" />
<ellipse cx="388.6" cy="391.0" rx="15.70" ry="9.06" transform="rotate(60 388.6 391.0)" fill="#fff" stroke="#262626" stroke-width="1.12" />
<ellipse cx="388.6" cy="391.0" rx="11.80" ry="6.81" transform="rotate(60 388.6 391.0)" fill="none" stroke="#262626" stroke-width="1.46" />
<ellipse cx="388.6" cy="391.0" rx="10.60" ry="6.12" transform="rotate(60 388.6 391.0)" fill="#555" stroke="#262626" stroke-width="0.90" />
<path d="M384.9 383.2L390.1 380.2M387.4 384.2L392.5 381.2M389.8 386.3L395.0 383.3M391.9 389.1L397.1 386.1M393.3 392.4L398.5 389.4M393.9 395.5L399.1 392.5M393.5 398.2L398.7 395.2" fill="none" stroke="#eee" stroke-width="1.12" stroke-linejoin="round" />
<line x1="80.0" y1="805.8" x2="560.0" y2="528.6" stroke="#444" stroke-width="0.90" stroke-dasharray="10 4"/>
<line x1="106.0" y1="869.7" x2="585.0" y2="593.1" stroke="#444" stroke-width="0.90" stroke-dasharray="10 4"/>
<line x1="130.0" y1="834.5" x2="612.0" y2="556.2" stroke="#444" stroke-width="0.90" stroke-dasharray="10 4"/>
<line x1="160.0" y1="805.7" x2="600.0" y2="551.6" stroke="#444" stroke-width="0.90" stroke-dasharray="10 4"/>
<path d="M481.5 607.4 L568.1 557.4 A11.00 6.35 60 0 1 579.1 576.4 L492.5 626.4 Z" fill="#fff" stroke="#262626" stroke-width="1.12" stroke-linejoin="round" />
<ellipse cx="487.0" cy="616.9" rx="11.00" ry="6.35" transform="rotate(60 487.0 616.9)" fill="#fff" stroke="#262626" stroke-width="1.12" />
<path d="M541.2 574.8L570.6 557.8M544.3 576.5L573.8 559.5M547.3 579.5L576.7 562.5M549.5 583.4L578.9 566.4M550.7 587.4L580.1 570.4M550.6 591.0L580.0 574.0" fill="none" stroke="#262626" stroke-width="1.01" stroke-linejoin="round" />
<path d="M546.5 569.8 L547.3 569.5 L548.1 569.3 L549.0 569.3 L550.0 569.5 L551.0 569.9 L552.0 570.4 L553.0 571.0 L554.0 571.8 L555.0 572.8 L555.9 573.8 L556.7 575.0 L557.5 576.2 L558.2 577.4 L558.7 578.7 L559.2 580.1 L559.5 581.4 L559.7 582.6 L559.8 583.8 L559.7 585.0 L559.5 586.0 L559.2 586.9 L558.7 587.7 L558.2 588.4 L557.5 588.9" fill="none" stroke="#262626" stroke-width="1.01" stroke-linejoin="round" />
<path d="M518.5 563.5 L525.4 559.5 A30.50 17.60 60 0 1 555.9 612.3 L549.0 616.3 Z" fill="#fff" stroke="#262626" stroke-width="1.12" stroke-linejoin="round" />
<ellipse cx="533.7" cy="589.9" rx="30.50" ry="17.60" transform="rotate(60 533.7 589.9)" fill="#fff" stroke="#262626" stroke-width="1.12" />
<ellipse cx="533.7" cy="589.9" rx="26.00" ry="15.00" transform="rotate(60 533.7 589.9)" fill="none" stroke="#262626" stroke-width="1.01" />
<ellipse cx="533.7" cy="589.9" rx="21.00" ry="12.12" transform="rotate(60 533.7 589.9)" fill="none" stroke="#262626" stroke-width="1.68" />
<ellipse cx="533.7" cy="589.9" rx="18.50" ry="10.67" transform="rotate(60 533.7 589.9)" fill="none" stroke="#262626" stroke-width="1.01" />
<path d="M481.5 607.4 L526.5 581.4 A11.00 6.35 60 0 1 537.5 600.4 L492.5 626.4 Z" fill="#fff" stroke="#262626" stroke-width="1.12" stroke-linejoin="round" />
<ellipse cx="487.0" cy="616.9" rx="11.00" ry="6.35" transform="rotate(60 487.0 616.9)" fill="#fff" stroke="#262626" stroke-width="1.12" />
<path d="M513.4 594.9 L527.3 586.9" fill="none" stroke="#262626" stroke-width="1.01" stroke-linejoin="round" />
<path d="M513.4 594.9 L517.4 601.9 L531.3 593.9" fill="none" stroke="#262626" stroke-width="1.01" stroke-linejoin="round" />
<path d="M453.8 617.0 L471.9 606.5 A16.50 9.52 60 0 1 488.4 635.1 L470.2 645.6 Z" fill="#fff" stroke="#262626" stroke-width="1.12" stroke-linejoin="round" />
<ellipse cx="462.0" cy="631.3" rx="16.50" ry="9.52" transform="rotate(60 462.0 631.3)" fill="#fff" stroke="#262626" stroke-width="1.12" />
<path d="M457.3 616.3L475.5 605.8M461.9 617.8L480.0 607.3M466.4 621.4L484.6 610.9M470.2 626.6L488.4 616.1M472.8 632.5L491.0 622.0M473.7 638.2L491.8 627.7M472.7 642.9L490.9 632.4" fill="none" stroke="#262626" stroke-width="1.12" stroke-linejoin="round" />
<ellipse cx="462.0" cy="631.3" rx="13.00" ry="7.50" transform="rotate(60 462.0 631.3)" fill="none" stroke="#262626" stroke-width="1.01" />
<path d="M466.1 667.1 L467.1 674.2 L465.3 674.7 L460.2 668.6 L458.5 668.5 L457.3 674.3 L455.1 673.7 L451.4 666.4 L449.6 665.4 L446.3 669.0 L444.1 667.3 L442.4 659.9 L440.7 658.2 L435.8 659.0 L433.9 656.5 L434.5 650.2 L433.1 648.0 L427.4 645.9 L426.1 643.0 L428.8 638.7 L428.0 636.3 L422.4 631.6 L421.9 628.8 L426.3 627.2 L426.3 625.0 L421.5 618.4 L421.9 616.1 L427.4 617.3 L428.0 615.7 L424.9 608.3 L426.1 606.7 L431.9 610.7 L433.1 609.9 L432.1 602.7 L433.9 602.2 L439.0 608.4 L440.7 608.4 L441.9 602.6 L444.1 603.3 L447.8 610.6 L449.6 611.5 L452.9 608.0 L455.1 609.6 L456.8 617.0 L458.5 618.7 L463.4 618.0 L465.3 620.4 L464.7 626.7 L466.1 629.0 L471.8 631.1 L473.1 633.9 L470.4 638.3 L471.1 640.6 L476.8 645.3 L477.3 648.1 L472.9 649.8 L472.9 651.9 L477.7 658.5 L477.3 660.9 L471.8 659.6 L471.2 661.2 L474.3 668.7 L473.1 670.2 L467.3 666.2 Z" fill="#fff" stroke="#262626" stroke-width="1.01" stroke-linejoin="round" />
<path d="M457.6 670.1L455.9 670.0L458.5 668.5L460.2 668.6ZM448.8 667.9L447.0 666.9L449.6 665.4L451.4 666.4ZM439.8 661.4L438.1 659.7L440.7 658.2L442.4 659.9ZM431.9 651.7L430.5 649.5L433.1 648.0L434.5 650.2ZM426.2 640.2L425.5 637.8L428.0 636.3L428.8 638.7ZM423.7 628.7L423.7 626.5L426.3 625.0L426.3 627.2ZM424.8 618.8L425.4 617.2L428.0 615.7L427.4 617.3ZM429.3 612.2L430.5 611.4L433.1 609.9L431.9 610.7ZM436.4 609.9L438.1 609.9L440.7 608.4L439.0 608.4ZM445.2 612.1L447.0 613.0L449.6 611.5L447.8 610.6ZM454.2 618.5L455.9 620.2L458.5 618.7L456.8 617.0ZM462.1 628.2L463.5 630.5L466.1 629.0L464.7 626.7ZM467.8 639.8L468.5 642.1L471.1 640.6L470.4 638.3ZM470.3 651.3L470.3 653.4L472.9 651.9L472.9 649.8ZM469.2 661.1L468.6 662.7L471.2 661.2L471.8 659.6ZM464.7 667.7L463.5 668.6L466.1 667.1L467.3 666.2Z" fill="#3c3c3c" stroke="#262626" stroke-width="0.60" stroke-linejoin="round" />
<path d="M463.5 668.6L466.1 667.1M464.5 675.7L467.1 674.2M462.7 676.2L465.3 674.7M457.6 670.1L460.2 668.6M455.9 670.0L458.5 668.5M454.7 675.8L457.3 674.3M452.5 675.2L455.1 673.7M448.8 667.9L451.4 666.4M447.0 666.9L449.6 665.4M443.7 670.5L446.3 669.0M441.5 668.8L444.1 667.3M439.8 661.4L442.4 659.9M438.1 659.7L440.7 658.2M433.2 660.5L435.8 659.0M431.3 658.0L433.9 656.5M431.9 651.7L434.5 650.2M430.5 649.5L433.1 648.0M424.8 647.4L427.4 645.9M423.5 644.5L426.1 643.0M426.2 640.2L428.8 638.7M425.5 637.8L428.0 636.3M419.8 633.1L422.4 631.6M419.3 630.3L421.9 628.8M423.7 628.7L426.3 627.2M423.7 626.5L426.3 625.0M418.9 619.9L421.5 618.4M419.3 617.6L421.9 616.1M424.8 618.8L427.4 617.3M425.4 617.2L428.0 615.7M422.3 609.8L424.9 608.3M423.5 608.2L426.1 606.7M429.3 612.2L431.9 610.7M430.5 611.4L433.1 609.9M429.5 604.2L432.1 602.7M431.3 603.7L433.9 602.2M436.4 609.9L439.0 608.4M438.1 609.9L440.7 608.4M439.3 604.1L441.9 602.6M441.5 604.8L444.1 603.3M445.2 612.1L447.8 610.6M447.0 613.0L449.6 611.5M450.3 609.5L452.9 608.0M452.5 611.1L455.1 609.6M454.2 618.5L456.8 617.0M455.9 620.2L458.5 618.7M460.8 619.5L463.4 618.0M462.7 621.9L465.3 620.4M462.1 628.2L464.7 626.7M463.5 630.5L466.1 629.0M469.2 632.6L471.8 631.1M470.5 635.4L473.1 633.9M467.8 639.8L470.4 638.3M468.5 642.1L471.1 640.6M474.2 646.8L476.8 645.3M474.7 649.6L477.3 648.1M470.3 651.3L472.9 649.8M470.3 653.4L472.9 651.9M475.1 660.0L477.7 658.5M474.7 662.4L477.3 660.9M469.2 661.1L471.8 659.6M468.6 662.7L471.2 661.2M471.7 670.2L474.3 668.7M470.5 671.7L473.1 670.2M464.7 667.7L467.3 666.2" fill="none" stroke="#262626" stroke-width="0.91" stroke-linejoin="round" />
<path d="M463.5 668.6 L464.5 675.7 L462.7 676.2 L457.6 670.1 L455.9 670.0 L454.7 675.8 L452.5 675.2 L448.8 667.9 L447.0 666.9 L443.7 670.5 L441.5 668.8 L439.8 661.4 L438.1 659.7 L433.2 660.5 L431.3 658.0 L431.9 651.7 L430.5 649.5 L424.8 647.4 L423.5 644.5 L426.2 640.2 L425.5 637.8 L419.8 633.1 L419.3 630.3 L423.7 628.7 L423.7 626.5 L418.9 619.9 L419.3 617.6 L424.8 618.8 L425.4 617.2 L422.3 609.8 L423.5 608.2 L429.3 612.2 L430.5 611.4 L429.5 604.2 L431.3 603.7 L436.4 609.9 L438.1 609.9 L439.3 604.1 L441.5 604.8 L445.2 612.1 L447.0 613.0 L450.3 609.5 L452.5 611.1 L454.2 618.5 L455.9 620.2 L460.8 619.5 L462.7 621.9 L462.1 628.2 L463.5 630.5 L469.2 632.6 L470.5 635.4 L467.8 639.8 L468.5 642.1 L474.2 646.8 L474.7 649.6 L470.3 651.3 L470.3 653.4 L475.1 660.0 L474.7 662.4 L469.2 661.1 L468.6 662.7 L471.7 670.2 L470.5 671.7 L464.7 667.7 Z" fill="#fff" stroke="#262626" stroke-width="1.16" stroke-linejoin="round" />
<path d="M462.3 684.8 L464.0 693.4 L462.2 694.0 L456.2 686.8 L454.5 687.0 L454.1 694.6 L452.0 694.3 L447.1 686.0 L445.2 685.4 L442.9 691.4 L440.6 690.2 L437.4 681.5 L435.4 680.1 L431.3 684.0 L429.0 682.1 L427.8 673.6 L426.0 671.7 L420.4 673.1 L418.4 670.6 L419.2 663.2 L417.7 660.9 L411.2 659.7 L409.6 656.8 L412.4 651.2 L411.3 648.7 L404.5 644.9 L403.5 641.9 L407.9 638.5 L407.4 636.0 L400.8 630.1 L400.5 627.2 L406.2 626.4 L406.3 624.1 L400.5 616.6 L400.9 614.1 L407.5 615.9 L408.1 614.1 L403.7 605.5 L404.7 603.7 L411.5 607.9 L412.6 606.7 L410.0 597.9 L411.6 596.9 L418.0 603.2 L419.6 602.7 L418.9 594.5 L420.9 594.3 L426.4 602.2 L428.2 602.4 L429.6 595.5 L431.9 596.2 L435.9 604.9 L437.9 605.9 L441.1 600.9 L443.4 602.4 L445.7 611.2 L447.6 612.8 L452.5 610.1 L454.6 612.4 L454.9 620.4 L456.6 622.5 L462.6 622.4 L464.4 625.2 L462.7 631.7 L464.0 634.2 L470.7 636.7 L472.0 639.7 L468.4 644.2 L469.2 646.8 L476.0 651.7 L476.6 654.6 L471.5 656.7 L471.8 659.2 L478.0 666.0 L478.0 668.7 L471.7 668.2 L471.4 670.3 L476.5 678.4 L475.8 680.6 L469.0 677.5 L468.2 679.1 L471.7 687.8 L470.4 689.3 L463.7 683.9 Z" fill="#fff" stroke="#262626" stroke-width="1.12" stroke-linejoin="round" />
<path d="M453.6 688.3L451.9 688.5L454.5 687.0L456.2 686.8ZM444.5 687.5L442.6 686.9L445.2 685.4L447.1 686.0ZM434.8 683.0L432.8 681.6L435.4 680.1L437.4 681.5ZM425.2 675.1L423.4 673.2L426.0 671.7L427.8 673.6ZM416.6 664.7L415.1 662.4L417.7 660.9L419.2 663.2ZM409.8 652.7L408.7 650.2L411.3 648.7L412.4 651.2ZM405.3 640.0L404.8 637.5L407.4 636.0L407.9 638.5ZM403.6 627.9L403.7 625.6L406.3 624.1L406.2 626.4ZM404.9 617.4L405.5 615.6L408.1 614.1L407.5 615.9ZM408.9 609.4L410.0 608.2L412.6 606.7L411.5 607.9ZM415.4 604.7L417.0 604.2L419.6 602.7L418.0 603.2ZM423.8 603.7L425.6 603.9L428.2 602.4L426.4 602.2ZM433.3 606.4L435.3 607.4L437.9 605.9L435.9 604.9ZM443.1 612.7L445.0 614.3L447.6 612.8L445.7 611.2ZM452.3 621.9L454.0 624.0L456.6 622.5L454.9 620.4ZM460.1 633.2L461.4 635.7L464.0 634.2L462.7 631.7ZM465.8 645.7L466.6 648.3L469.2 646.8L468.4 644.2ZM468.9 658.2L469.2 660.7L471.8 659.2L471.5 656.7ZM469.1 669.7L468.8 671.8L471.4 670.3L471.7 668.2ZM466.4 679.0L465.6 680.6L468.2 679.1L469.0 677.5ZM461.1 685.4L459.8 686.3L462.3 684.8L463.7 683.9Z" fill="#3c3c3c" stroke="#262626" stroke-width="0.67" stroke-linejoin="round" />
<path d="M459.8 686.3L462.3 684.8M461.4 694.9L464.0 693.4M459.6 695.5L462.2 694.0M453.6 688.3L456.2 686.8M451.9 688.5L454.5 687.0M451.5 696.1L454.1 694.6M449.4 695.8L452.0 694.3M444.5 687.5L447.1 686.0M442.6 686.9L445.2 685.4M440.3 692.9L442.9 691.4M438.0 691.7L440.6 690.2M434.8 683.0L437.4 681.5M432.8 681.6L435.4 680.1M428.7 685.5L431.3 684.0M426.4 683.6L429.0 682.1M425.2 675.1L427.8 673.6M423.4 673.2L426.0 671.7M417.8 674.6L420.4 673.1M415.8 672.1L418.4 670.6M416.6 664.7L419.2 663.2M415.1 662.4L417.7 660.9M408.6 661.2L411.2 659.7M407.0 658.3L409.6 656.8M409.8 652.7L412.4 651.2M408.7 650.2L411.3 648.7M401.9 646.4L404.5 644.9M400.9 643.4L403.5 641.9M405.3 640.0L407.9 638.5M404.8 637.5L407.4 636.0M398.2 631.6L400.8 630.1M397.9 628.7L400.5 627.2M403.6 627.9L406.2 626.4M403.7 625.6L406.3 624.1M397.9 618.1L400.5 616.6M398.3 615.6L400.9 614.1M404.9 617.4L407.5 615.9M405.5 615.6L408.1 614.1M401.1 607.0L403.7 605.5M402.1 605.2L404.7 603.7M408.9 609.4L411.5 607.9M410.0 608.2L412.6 606.7M407.4 599.4L410.0 597.9M409.0 598.4L411.6 596.9M415.4 604.7L418.0 603.2M417.0 604.2L419.6 602.7M416.3 596.0L418.9 594.5M418.3 595.8L420.9 594.3M423.8 603.7L426.4 602.2M425.6 603.9L428.2 602.4M427.0 597.0L429.6 595.5M429.3 597.7L431.9 596.2M433.3 606.4L435.9 604.9M435.3 607.4L437.9 605.9M438.5 602.4L441.1 600.9M440.8 603.9L443.4 602.4M443.1 612.7L445.7 611.2M445.0 614.3L447.6 612.8M449.9 611.6L452.5 610.1M452.0 613.9L454.6 612.4M452.3 621.9L454.9 620.4M454.0 624.0L456.6 622.5M460.0 623.9L462.6 622.4M461.9 626.7L464.4 625.2M460.1 633.2L462.7 631.7M461.4 635.7L464.0 634.2M468.1 638.2L470.7 636.7M469.4 641.2L472.0 639.7M465.8 645.7L468.4 644.2M466.6 648.3L469.2 646.8M473.4 653.2L476.0 651.7M474.1 656.1L476.6 654.6M468.9 658.2L471.5 656.7M469.2 660.7L471.8 659.2M475.4 667.5L478.0 666.0M475.4 670.2L478.0 668.7M469.1 669.7L471.7 668.2M468.8 671.8L471.4 670.3M473.9 679.9L476.5 678.4M473.2 682.1L475.8 680.6M466.4 679.0L469.0 677.5M465.6 680.6L468.2 679.1M469.1 689.3L471.7 687.8M467.8 690.8L470.4 689.3M461.1 685.4L463.7 683.9" fill="none" stroke="#262626" stroke-width="1.01" stroke-linejoin="round" />
<path d="M459.8 686.3 L461.4 694.9 L459.6 695.5 L453.6 688.3 L451.9 688.5 L451.5 696.1 L449.4 695.8 L444.5 687.5 L442.6 686.9 L440.3 692.9 L438.0 691.7 L434.8 683.0 L432.8 681.6 L428.7 685.5 L426.4 683.6 L425.2 675.1 L423.4 673.2 L417.8 674.6 L415.8 672.1 L416.6 664.7 L415.1 662.4 L408.6 661.2 L407.0 658.3 L409.8 652.7 L408.7 650.2 L401.9 646.4 L400.9 643.4 L405.3 640.0 L404.8 637.5 L398.2 631.6 L397.9 628.7 L403.6 627.9 L403.7 625.6 L397.9 618.1 L398.3 615.6 L404.9 617.4 L405.5 615.6 L401.1 607.0 L402.1 605.2 L408.9 609.4 L410.0 608.2 L407.4 599.4 L409.0 598.4 L415.4 604.7 L417.0 604.2 L416.3 596.0 L418.3 595.8 L423.8 603.7 L425.6 603.9 L427.0 597.0 L429.3 597.7 L433.3 606.4 L435.3 607.4 L438.5 602.4 L440.8 603.9 L443.1 612.7 L445.0 614.3 L449.9 611.6 L452.0 613.9 L452.3 621.9 L454.0 624.0 L460.0 623.9 L461.9 626.7 L460.1 633.2 L461.4 635.7 L468.1 638.2 L469.4 641.2 L465.8 645.7 L466.6 648.3 L473.4 653.2 L474.1 656.1 L468.9 658.2 L469.2 660.7 L475.4 667.5 L475.4 670.2 L469.1 669.7 L468.8 671.8 L473.9 679.9 L473.2 682.1 L466.4 679.0 L465.6 680.6 L469.1 689.3 L467.8 690.8 L461.1 685.4 Z" fill="#fff" stroke="#262626" stroke-width="1.29" stroke-linejoin="round" />
<path d="M413.2 626.6 L419.3 623.1 A28.50 16.44 60 0 1 447.8 672.4 L441.8 675.9 Z" fill="#fff" stroke="#262626" stroke-width="1.12" stroke-linejoin="round" />
<ellipse cx="427.5" cy="651.2" rx="28.50" ry="16.44" transform="rotate(60 427.5 651.2)" fill="#fff" stroke="#262626" stroke-width="1.12" />
<ellipse cx="427.5" cy="651.2" rx="20.50" ry="11.83" transform="rotate(60 427.5 651.2)" fill="none" stroke="#262626" stroke-width="1.01" />
<ellipse cx="427.5" cy="651.2" rx="17.00" ry="9.81" transform="rotate(60 427.5 651.2)" fill="none" stroke="#262626" stroke-width="1.79" />
<path d="M365.5 672.0 L419.2 641.0 A13.00 7.50 60 0 1 432.2 663.5 L378.5 694.5 Z" fill="#fff" stroke="#262626" stroke-width="1.12" stroke-linejoin="round" />
<ellipse cx="372.0" cy="683.3" rx="13.00" ry="7.50" transform="rotate(60 372.0 683.3)" fill="#fff" stroke="#262626" stroke-width="1.12" />
<path d="M373.9 674.0L425.8 644.0M378.5 679.5L430.5 649.5M381.0 686.3L433.0 656.3" fill="none" stroke="#262626" stroke-width="1.01" stroke-linejoin="round" />
<ellipse cx="404.0" cy="670.9" rx="3.50" ry="1.75" transform="rotate(-20 404.0 670.9)" fill="none" stroke="#262626" stroke-width="1.01" />
<line x1="497.0" y1="329.9" x2="575.0" y2="284.8" stroke="#444" stroke-width="0.90" stroke-dasharray="9 3"/>
<path d="M317.0 689.4 L316.4 691.8 L315.1 693.3 L313.3 693.6 L311.2 692.8 L309.1 691.0 L307.4 688.4 L306.3 685.5 L306.0 682.6 L306.7 668.7 L307.3 666.3 L308.6 664.8 L310.4 664.5 L312.5 665.2 L314.6 667.1 L316.3 669.7 L317.4 672.6 L317.7 675.5 Z" fill="#fff" stroke="#262626" stroke-width="1.40" stroke-linejoin="round" />
<path d="M318.7 661.7 L318.1 664.0 L316.7 665.4 L314.8 665.7 L312.7 664.9 L310.6 663.0 L309.0 660.4 L308.0 657.5 L307.7 654.6 L308.8 640.7 L309.4 638.4 L310.7 637.0 L312.6 636.7 L314.7 637.5 L316.8 639.4 L318.4 642.0 L319.5 644.9 L319.7 647.8 Z" fill="#fff" stroke="#262626" stroke-width="1.40" stroke-linejoin="round" />
<path d="M320.7 633.9 L320.1 636.2 L318.8 637.6 L316.9 637.9 L314.8 637.1 L312.7 635.2 L311.0 632.6 L310.0 629.6 L309.8 626.8 L310.8 612.9 L311.4 610.6 L312.7 609.2 L314.6 608.8 L316.8 609.7 L318.8 611.6 L320.5 614.2 L321.5 617.1 L321.7 620.0 Z" fill="#fff" stroke="#262626" stroke-width="1.40" stroke-linejoin="round" />
<path d="M322.7 606.0 L322.1 608.3 L320.8 609.8 L318.9 610.1 L316.8 609.3 L314.7 607.4 L313.1 604.8 L312.0 601.8 L311.8 599.0 L312.7 585.1 L313.3 582.8 L314.7 581.3 L316.5 581.0 L318.7 581.8 L320.7 583.7 L322.4 586.3 L323.4 589.3 L323.7 592.1 Z" fill="#fff" stroke="#262626" stroke-width="1.40" stroke-linejoin="round" />
<path d="M324.6 578.2 L324.0 580.5 L322.7 581.9 L320.8 582.3 L318.7 581.5 L316.6 579.6 L314.9 577.0 L313.9 574.0 L313.6 571.2 L314.5 557.3 L315.1 554.9 L316.4 553.5 L318.2 553.1 L320.4 554.0 L322.4 555.8 L324.1 558.4 L325.2 561.4 L325.4 564.2 Z" fill="#fff" stroke="#262626" stroke-width="1.40" stroke-linejoin="round" />
<path d="M326.3 550.3 L325.7 552.6 L324.4 554.1 L322.5 554.4 L320.4 553.6 L318.3 551.8 L316.6 549.2 L315.6 546.2 L315.3 543.4 L316.1 529.4 L316.7 527.1 L318.0 525.6 L319.9 525.3 L322.0 526.1 L324.1 527.9 L325.8 530.5 L326.8 533.5 L327.1 536.4 Z" fill="#fff" stroke="#262626" stroke-width="1.40" stroke-linejoin="round" />
<path d="M327.9 522.4 L327.3 524.8 L326.0 526.2 L324.1 526.6 L322.0 525.8 L320.0 523.9 L318.3 521.3 L317.2 518.4 L316.9 515.5 L317.8 501.6 L318.3 499.2 L319.6 497.8 L321.5 497.4 L323.6 498.2 L325.7 500.1 L327.4 502.7 L328.4 505.6 L328.7 508.5 Z" fill="#fff" stroke="#262626" stroke-width="1.40" stroke-linejoin="round" />
<path d="M329.5 494.6 L328.9 496.9 L327.6 498.4 L325.8 498.7 L323.6 497.9 L321.6 496.1 L319.9 493.5 L318.8 490.5 L318.6 487.6 L319.4 473.7 L319.9 471.4 L321.3 469.9 L323.1 469.6 L325.2 470.4 L327.3 472.2 L329.0 474.8 L330.1 477.8 L330.3 480.7 Z" fill="#fff" stroke="#262626" stroke-width="1.40" stroke-linejoin="round" />
<path d="M331.2 466.7 L330.6 469.1 L329.3 470.5 L327.4 470.9 L325.3 470.1 L323.2 468.2 L321.5 465.6 L320.5 462.6 L320.2 459.8 L321.1 445.9 L321.6 443.5 L323.0 442.1 L324.8 441.7 L326.9 442.6 L329.0 444.4 L330.7 447.0 L331.7 450.0 L332.0 452.8 Z" fill="#fff" stroke="#262626" stroke-width="1.40" stroke-linejoin="round" />
<path d="M332.7 438.9 L332.1 441.2 L330.8 442.7 L328.9 443.0 L326.8 442.2 L324.8 440.4 L323.1 437.8 L322.0 434.8 L321.7 431.9 L322.6 418.0 L323.1 415.7 L324.5 414.2 L326.3 413.9 L328.4 414.7 L330.5 416.5 L332.2 419.1 L333.3 422.1 L333.5 425.0 Z" fill="#fff" stroke="#262626" stroke-width="1.40" stroke-linejoin="round" />
<path d="M335.0 412.9 L333.5 414.3 L331.4 414.6 L329.1 413.9 L327.0 412.3 L325.4 409.9 L324.4 407.2 L324.3 404.6 L325.1 402.5 L332.2 391.8 L333.7 390.5 L335.8 390.1 L338.0 390.8 L340.2 392.5 L341.8 394.8 L342.8 397.5 L342.8 400.1 L342.1 402.3 Z" fill="#fff" stroke="#262626" stroke-width="1.40" stroke-linejoin="round" />
<path d="M346.4 401.7 L344.8 398.6 L344.0 395.7 L344.2 393.4 L345.3 392.2 L347.2 392.2 L349.5 393.3 L352.0 395.5 L354.1 398.4 L361.5 410.0 L363.1 413.1 L363.8 416.0 L363.7 418.2 L362.6 419.5 L360.7 419.5 L358.4 418.3 L355.9 416.2 L353.7 413.3 Z" fill="#fff" stroke="#262626" stroke-width="1.40" stroke-linejoin="round" />
<path d="M356.2 423.5 L355.9 420.6 L356.4 418.4 L357.7 417.1 L359.5 417.1 L361.7 418.3 L363.8 420.5 L365.6 423.4 L366.8 426.5 L370.1 440.0 L370.5 442.9 L370.0 445.2 L368.7 446.4 L366.8 446.4 L364.7 445.3 L362.5 443.1 L360.8 440.2 L359.6 437.0 Z" fill="#fff" stroke="#262626" stroke-width="1.40" stroke-linejoin="round" />
<path d="M360.7 449.6 L360.9 447.1 L362.0 445.3 L363.6 444.6 L365.7 445.1 L367.8 446.7 L369.7 449.2 L371.0 452.2 L371.6 455.2 L372.6 469.1 L372.3 471.7 L371.3 473.5 L369.6 474.2 L367.6 473.6 L365.4 472.0 L363.6 469.5 L362.2 466.6 L361.6 463.6 Z" fill="#fff" stroke="#262626" stroke-width="1.40" stroke-linejoin="round" />
<path d="M363.1 477.6 L363.3 475.0 L364.2 473.1 L365.8 472.4 L367.9 472.8 L370.0 474.4 L371.9 476.8 L373.3 479.8 L374.0 482.8 L375.3 496.7 L375.1 499.4 L374.1 501.2 L372.5 501.9 L370.5 501.5 L368.3 499.9 L366.4 497.5 L365.0 494.5 L364.4 491.5 Z" fill="#fff" stroke="#262626" stroke-width="1.40" stroke-linejoin="round" />
<path d="M365.3 505.2 L365.5 502.6 L366.6 500.9 L368.2 500.2 L370.3 500.8 L372.4 502.4 L374.3 504.9 L375.6 507.8 L376.2 510.8 L377.0 524.8 L376.8 527.3 L375.7 529.1 L374.0 529.8 L372.0 529.2 L369.8 527.6 L368.0 525.1 L366.7 522.1 L366.1 519.1 Z" fill="#fff" stroke="#262626" stroke-width="1.40" stroke-linejoin="round" />
<path d="M366.9 533.0 L367.1 530.5 L368.2 528.7 L369.9 528.1 L371.9 528.6 L374.0 530.3 L375.9 532.8 L377.2 535.7 L377.8 538.7 L378.6 552.7 L378.3 555.2 L377.2 557.0 L375.6 557.6 L373.5 557.1 L371.4 555.4 L369.5 552.9 L368.2 550.0 L367.6 547.0 Z" fill="#fff" stroke="#262626" stroke-width="1.40" stroke-linejoin="round" />
<path d="M368.4 560.9 L368.6 558.3 L369.7 556.6 L371.4 555.9 L373.5 556.5 L375.6 558.1 L377.4 560.6 L378.8 563.6 L379.3 566.6 L380.1 580.5 L379.8 583.1 L378.8 584.8 L377.1 585.5 L375.0 584.9 L372.9 583.3 L371.0 580.8 L369.7 577.8 L369.1 574.8 Z" fill="#fff" stroke="#262626" stroke-width="1.40" stroke-linejoin="round" />
<path d="M369.9 588.8 L370.2 586.2 L371.2 584.5 L372.9 583.8 L375.0 584.3 L377.1 586.0 L379.0 588.5 L380.3 591.4 L380.8 594.4 L381.6 608.4 L381.3 610.9 L380.3 612.7 L378.6 613.3 L376.5 612.8 L374.4 611.1 L372.5 608.6 L371.2 605.7 L370.7 602.7 Z" fill="#fff" stroke="#262626" stroke-width="1.40" stroke-linejoin="round" />
<path d="M371.4 616.6 L371.7 614.0 L372.7 612.3 L374.4 611.7 L376.5 612.2 L378.6 613.8 L380.5 616.3 L381.8 619.3 L382.4 622.3 L383.1 636.2 L382.8 638.8 L381.8 640.5 L380.1 641.2 L378.0 640.6 L375.9 639.0 L374.0 636.5 L372.7 633.5 L372.2 630.5 Z" fill="#fff" stroke="#262626" stroke-width="1.40" stroke-linejoin="round" />
<path d="M372.9 644.5 L373.2 641.9 L374.2 640.2 L375.9 639.5 L378.0 640.1 L380.1 641.7 L382.0 644.2 L383.3 647.2 L383.9 650.2 L384.6 664.1 L384.3 666.7 L383.3 668.4 L381.6 669.0 L379.5 668.5 L377.4 666.9 L375.5 664.4 L374.2 661.4 L373.7 658.4 Z" fill="#fff" stroke="#262626" stroke-width="1.40" stroke-linejoin="round" />
<path d="M374.4 672.3 L374.7 669.8 L375.7 668.0 L377.4 667.4 L379.5 667.9 L381.6 669.6 L383.5 672.1 L384.8 675.0 L385.4 678.0 L386.1 691.9 L385.9 694.5 L384.8 696.2 L383.1 696.9 L381.1 696.4 L378.9 694.7 L377.1 692.2 L375.8 689.3 L375.2 686.3 Z" fill="#fff" stroke="#262626" stroke-width="1.40" stroke-linejoin="round" />
<path d="M376.0 700.5 L376.1 697.8 L377.1 696.0 L378.7 695.2 L380.7 695.6 L382.9 697.2 L384.8 699.6 L386.2 702.6 L386.9 705.6 L388.3 719.5 L388.1 722.1 L387.2 724.0 L385.6 724.7 L383.5 724.3 L381.4 722.8 L379.5 720.3 L378.0 717.4 L377.4 714.3 Z" fill="#fff" stroke="#262626" stroke-width="1.40" stroke-linejoin="round" />
<path d="M377.8 725.5 L379.3 724.1 L381.3 723.7 L383.6 724.3 L385.7 726.0 L387.4 728.3 L388.4 731.0 L388.5 733.6 L387.7 735.8 L380.3 747.5 L378.8 748.9 L376.8 749.3 L374.5 748.7 L372.4 747.0 L370.7 744.7 L369.7 742.0 L369.6 739.4 L370.4 737.2 Z" fill="#fff" stroke="#262626" stroke-width="1.40" stroke-linejoin="round" />
<path d="M361.7 742.1 L364.4 743.3 L366.9 745.3 L368.8 747.7 L369.9 750.2 L370.0 752.4 L369.0 754.0 L367.1 754.7 L364.7 754.4 L351.4 750.5 L348.7 749.3 L346.2 747.3 L344.2 744.9 L343.2 742.4 L343.1 740.2 L344.1 738.6 L345.9 737.9 L348.4 738.2 Z" fill="#fff" stroke="#262626" stroke-width="1.40" stroke-linejoin="round" />
<path d="M341.1 732.5 L343.3 735.4 L344.8 738.3 L345.4 741.0 L345.0 742.8 L343.6 743.7 L341.4 743.4 L338.9 742.0 L336.3 739.7 L326.8 729.5 L324.5 726.6 L323.0 723.7 L322.4 721.1 L322.9 719.2 L324.3 718.4 L326.4 718.7 L329.0 720.1 L331.6 722.4 Z" fill="#fff" stroke="#262626" stroke-width="1.40" stroke-linejoin="round" />
<path d="M326.1 714.1 L327.1 717.2 L327.3 719.9 L326.6 721.8 L325.1 722.5 L323.1 721.9 L320.8 720.2 L318.5 717.7 L316.8 714.6 L311.0 701.9 L309.9 698.8 L309.7 696.1 L310.4 694.3 L311.9 693.5 L314.0 694.1 L316.3 695.8 L318.5 698.4 L320.3 701.4 Z" fill="#fff" stroke="#262626" stroke-width="1.40" stroke-linejoin="round" />
<path d="M313.0 676.9 L312.4 679.0 L311.2 680.3 L309.5 680.6 L307.6 679.8 L305.7 678.1 L304.2 675.7 L303.2 673.1 L303.0 670.5 L304.0 656.5 L304.6 654.4 L305.8 653.2 L307.5 652.9 L309.4 653.6 L311.3 655.3 L312.8 657.7 L313.8 660.4 L314.0 663.0 Z" fill="#fff" stroke="#262626" stroke-width="1.40" stroke-linejoin="round" />
<path d="M315.0 649.1 L314.4 651.2 L313.2 652.5 L311.5 652.7 L309.6 652.0 L307.7 650.3 L306.2 647.9 L305.3 645.2 L305.1 642.6 L306.1 628.7 L306.6 626.6 L307.9 625.3 L309.6 625.0 L311.5 625.8 L313.4 627.5 L314.9 629.9 L315.8 632.6 L316.0 635.2 Z" fill="#fff" stroke="#262626" stroke-width="1.40" stroke-linejoin="round" />
<path d="M317.0 621.2 L316.5 623.3 L315.3 624.6 L313.6 624.9 L311.6 624.2 L309.8 622.5 L308.2 620.1 L307.3 617.4 L307.1 614.8 L308.1 600.9 L308.6 598.8 L309.8 597.5 L311.6 597.2 L313.5 598.0 L315.4 599.7 L316.9 602.0 L317.8 604.7 L318.0 607.3 Z" fill="#fff" stroke="#262626" stroke-width="1.40" stroke-linejoin="round" />
<path d="M319.0 593.4 L318.4 595.5 L317.2 596.8 L315.5 597.1 L313.6 596.4 L311.7 594.7 L310.2 592.3 L309.3 589.6 L309.0 587.0 L309.9 573.1 L310.5 571.0 L311.7 569.7 L313.4 569.4 L315.3 570.1 L317.2 571.8 L318.7 574.2 L319.6 576.9 L319.9 579.5 Z" fill="#fff" stroke="#262626" stroke-width="1.40" stroke-linejoin="round" />
<path d="M320.7 565.5 L320.2 567.6 L319.0 568.9 L317.3 569.3 L315.4 568.5 L313.5 566.8 L312.0 564.5 L311.0 561.8 L310.8 559.2 L311.6 545.3 L312.1 543.1 L313.3 541.8 L315.0 541.5 L317.0 542.2 L318.8 543.9 L320.4 546.3 L321.3 549.0 L321.6 551.6 Z" fill="#fff" stroke="#262626" stroke-width="1.40" stroke-linejoin="round" />
<path d="M322.4 537.6 L321.9 539.8 L320.7 541.1 L319.0 541.4 L317.0 540.7 L315.2 539.0 L313.6 536.6 L312.7 533.9 L312.4 531.3 L313.2 517.4 L313.8 515.3 L315.0 514.0 L316.6 513.7 L318.6 514.4 L320.5 516.1 L322.0 518.4 L322.9 521.1 L323.2 523.7 Z" fill="#fff" stroke="#262626" stroke-width="1.40" stroke-linejoin="round" />
<path d="M324.0 509.8 L323.5 511.9 L322.3 513.2 L320.6 513.6 L318.7 512.8 L316.8 511.2 L315.3 508.8 L314.3 506.1 L314.1 503.5 L314.9 489.6 L315.4 487.4 L316.6 486.1 L318.3 485.8 L320.2 486.5 L322.1 488.2 L323.6 490.6 L324.6 493.3 L324.8 495.9 Z" fill="#fff" stroke="#262626" stroke-width="1.40" stroke-linejoin="round" />
<path d="M325.6 482.0 L325.1 484.1 L323.9 485.4 L322.2 485.7 L320.3 485.0 L318.4 483.3 L316.9 480.9 L315.9 478.2 L315.7 475.6 L316.5 461.7 L317.0 459.6 L318.2 458.3 L319.9 458.0 L321.9 458.7 L323.7 460.4 L325.3 462.7 L326.2 465.4 L326.5 468.0 Z" fill="#fff" stroke="#262626" stroke-width="1.40" stroke-linejoin="round" />
<path d="M327.3 454.1 L326.8 456.2 L325.6 457.5 L324.0 457.9 L322.0 457.2 L320.2 455.5 L318.6 453.1 L317.6 450.4 L317.4 447.8 L318.0 433.9 L318.5 431.8 L319.7 430.4 L321.4 430.1 L323.3 430.8 L325.2 432.5 L326.7 434.8 L327.7 437.5 L328.0 440.1 Z" fill="#fff" stroke="#262626" stroke-width="1.40" stroke-linejoin="round" />
<path d="M328.8 426.6 L328.1 428.6 L326.7 429.7 L324.9 429.8 L323.0 428.9 L321.2 427.1 L319.7 424.7 L319.0 422.1 L318.9 419.6 L320.9 405.8 L321.6 403.8 L323.0 402.7 L324.8 402.5 L326.7 403.5 L328.5 405.2 L330.0 407.7 L330.8 410.3 L330.8 412.8 Z" fill="#fff" stroke="#262626" stroke-width="1.40" stroke-linejoin="round" />
<path d="M334.6 404.3 L332.1 403.4 L329.8 401.7 L328.0 399.5 L326.9 397.3 L326.7 395.2 L327.5 393.7 L329.1 392.9 L331.3 393.0 L344.4 396.0 L346.9 396.9 L349.2 398.6 L351.0 400.8 L352.1 403.0 L352.3 405.1 L351.5 406.6 L349.9 407.4 L347.7 407.3 Z" fill="#fff" stroke="#262626" stroke-width="1.40" stroke-linejoin="round" />
<path d="M348.7 412.2 L348.2 409.5 L348.6 407.3 L349.6 406.1 L351.3 406.0 L353.2 406.9 L355.2 408.8 L356.9 411.4 L358.1 414.3 L362.0 427.7 L362.5 430.4 L362.1 432.5 L361.1 433.7 L359.4 433.9 L357.5 432.9 L355.5 431.0 L353.8 428.4 L352.6 425.6 Z" fill="#fff" stroke="#262626" stroke-width="1.40" stroke-linejoin="round" />
<path d="M355.7 437.8 L355.8 435.4 L356.7 433.7 L358.2 433.0 L360.0 433.4 L362.0 434.8 L363.7 437.1 L365.0 439.7 L365.6 442.5 L366.9 456.4 L366.8 458.8 L365.9 460.5 L364.4 461.1 L362.6 460.8 L360.7 459.3 L358.9 457.1 L357.6 454.4 L357.0 451.7 Z" fill="#fff" stroke="#262626" stroke-width="1.40" stroke-linejoin="round" />
<path d="M357.9 465.6 L358.0 463.2 L358.9 461.5 L360.3 460.8 L362.2 461.2 L364.1 462.6 L365.9 464.8 L367.2 467.5 L367.8 470.2 L369.3 484.1 L369.2 486.5 L368.4 488.2 L366.9 488.9 L365.1 488.6 L363.1 487.2 L361.4 485.0 L360.1 482.3 L359.4 479.5 Z" fill="#fff" stroke="#262626" stroke-width="1.40" stroke-linejoin="round" />
<path d="M360.6 493.2 L360.9 490.8 L361.8 489.2 L363.3 488.6 L365.2 489.1 L367.1 490.5 L368.8 492.8 L370.0 495.5 L370.6 498.2 L371.5 512.2 L371.3 514.5 L370.3 516.1 L368.8 516.7 L367.0 516.3 L365.0 514.8 L363.3 512.5 L362.1 509.8 L361.6 507.1 Z" fill="#fff" stroke="#262626" stroke-width="1.40" stroke-linejoin="round" />
<path d="M362.4 521.0 L362.6 518.6 L363.6 517.1 L365.1 516.5 L367.0 516.9 L368.9 518.4 L370.6 520.7 L371.8 523.4 L372.3 526.1 L373.1 540.1 L372.9 542.4 L371.9 544.0 L370.4 544.6 L368.5 544.1 L366.6 542.6 L364.9 540.3 L363.7 537.6 L363.2 534.9 Z" fill="#fff" stroke="#262626" stroke-width="1.40" stroke-linejoin="round" />
<path d="M363.9 548.8 L364.2 546.5 L365.1 544.9 L366.7 544.3 L368.5 544.8 L370.5 546.3 L372.2 548.6 L373.3 551.3 L373.9 554.0 L374.6 567.9 L374.4 570.3 L373.4 571.8 L371.9 572.4 L370.0 571.9 L368.1 570.4 L366.4 568.2 L365.2 565.5 L364.7 562.7 Z" fill="#fff" stroke="#262626" stroke-width="1.40" stroke-linejoin="round" />
<path d="M365.4 576.7 L365.7 574.4 L366.6 572.8 L368.2 572.2 L370.0 572.7 L372.0 574.2 L373.7 576.4 L374.9 579.1 L375.4 581.9 L376.1 595.8 L375.9 598.1 L374.9 599.7 L373.4 600.3 L371.5 599.8 L369.6 598.3 L367.9 596.0 L366.7 593.3 L366.2 590.6 Z" fill="#fff" stroke="#262626" stroke-width="1.40" stroke-linejoin="round" />
<path d="M367.0 604.5 L367.2 602.2 L368.2 600.6 L369.7 600.0 L371.6 600.5 L373.5 602.0 L375.2 604.3 L376.4 607.0 L376.9 609.7 L377.7 623.6 L377.4 626.0 L376.5 627.6 L374.9 628.1 L373.0 627.7 L371.1 626.2 L369.4 623.9 L368.2 621.2 L367.7 618.5 Z" fill="#fff" stroke="#262626" stroke-width="1.40" stroke-linejoin="round" />
<path d="M368.5 632.4 L368.7 630.1 L369.7 628.5 L371.2 627.9 L373.1 628.4 L375.0 629.9 L376.7 632.2 L377.9 634.9 L378.4 637.6 L379.2 651.5 L378.9 653.8 L378.0 655.4 L376.4 656.0 L374.5 655.5 L372.6 654.0 L370.9 651.7 L369.7 649.0 L369.2 646.3 Z" fill="#fff" stroke="#262626" stroke-width="1.40" stroke-linejoin="round" />
<path d="M370.0 660.3 L370.2 657.9 L371.2 656.3 L372.7 655.8 L374.6 656.2 L376.5 657.7 L378.2 660.0 L379.4 662.7 L379.9 665.4 L380.7 679.4 L380.4 681.7 L379.5 683.3 L377.9 683.9 L376.1 683.4 L374.1 681.9 L372.4 679.6 L371.2 676.9 L370.7 674.2 Z" fill="#fff" stroke="#262626" stroke-width="1.40" stroke-linejoin="round" />
<path d="M371.5 688.1 L371.7 685.8 L372.7 684.2 L374.2 683.6 L376.1 684.1 L378.0 685.6 L379.7 687.9 L380.9 690.6 L381.4 693.3 L382.2 707.2 L382.0 709.5 L381.0 711.1 L379.5 711.7 L377.6 711.2 L375.7 709.7 L374.0 707.5 L372.8 704.8 L372.3 702.1 Z" fill="#fff" stroke="#262626" stroke-width="1.40" stroke-linejoin="round" />
<path d="M373.6 715.6 L374.0 713.4 L375.1 711.9 L376.7 711.5 L378.6 712.1 L380.5 713.7 L382.1 716.0 L383.2 718.7 L383.6 721.4 L383.5 735.1 L383.2 737.4 L382.1 738.8 L380.4 739.3 L378.5 738.6 L376.6 737.0 L375.0 734.7 L374.0 732.0 L373.6 729.4 Z" fill="#fff" stroke="#262626" stroke-width="1.40" stroke-linejoin="round" />
<path d="M367.5 738.4 L369.5 738.0 L371.7 738.6 L373.8 739.9 L375.5 741.8 L376.6 744.1 L376.8 746.4 L376.2 748.3 L374.8 749.5 L362.6 755.4 L360.6 755.7 L358.4 755.2 L356.3 753.9 L354.6 751.9 L353.5 749.7 L353.3 747.4 L354.0 745.5 L355.4 744.3 Z" fill="#fff" stroke="#262626" stroke-width="1.40" stroke-linejoin="round" />
<path d="M346.5 741.4 L348.8 743.6 L350.7 746.0 L351.8 748.5 L352.0 750.6 L351.2 751.9 L349.6 752.4 L347.4 751.9 L344.9 750.4 L333.7 742.2 L331.4 740.1 L329.5 737.6 L328.4 735.2 L328.2 733.1 L329.0 731.7 L330.6 731.3 L332.8 731.8 L335.3 733.2 Z" fill="#fff" stroke="#262626" stroke-width="1.40" stroke-linejoin="round" />
<path d="M328.3 725.8 L329.9 728.6 L330.7 731.3 L330.6 733.4 L329.7 734.6 L328.0 734.7 L325.9 733.7 L323.6 731.8 L321.6 729.3 L313.9 717.7 L312.3 714.9 L311.5 712.2 L311.6 710.1 L312.5 708.9 L314.2 708.8 L316.3 709.7 L318.5 711.6 L320.6 714.2 Z" fill="#fff" stroke="#262626" stroke-width="1.40" stroke-linejoin="round" />
<path d="M316.2 704.5 L316.6 707.2 L316.2 709.2 L315.0 710.4 L313.4 710.5 L311.4 709.5 L309.5 707.5 L307.8 704.9 L306.7 702.0 L303.1 688.6 L302.7 685.9 L303.1 683.8 L304.3 682.7 L305.9 682.6 L307.9 683.6 L309.8 685.6 L311.5 688.2 L312.6 691.0 Z" fill="#fff" stroke="#262626" stroke-width="1.40" stroke-linejoin="round" />
<ellipse cx="307.3" cy="687.6" rx="4.30" ry="2.48" transform="rotate(60 307.3 687.6)" fill="#fff" stroke="#262626" stroke-width="1.12" />
<ellipse cx="303.8" cy="689.0" rx="4.30" ry="2.48" transform="rotate(60 303.8 689.0)" fill="#fff" stroke="#262626" stroke-width="1.12" />
<ellipse cx="300.2" cy="690.4" rx="4.30" ry="2.48" transform="rotate(60 300.2 690.4)" fill="#fff" stroke="#262626" stroke-width="1.12" />
<ellipse cx="308.0" cy="673.7" rx="4.30" ry="2.48" transform="rotate(60 308.0 673.7)" fill="#fff" stroke="#262626" stroke-width="1.12" />
<ellipse cx="304.4" cy="675.1" rx="4.30" ry="2.48" transform="rotate(60 304.4 675.1)" fill="#fff" stroke="#262626" stroke-width="1.12" />
<ellipse cx="300.9" cy="676.5" rx="4.30" ry="2.48" transform="rotate(60 300.9 676.5)" fill="#fff" stroke="#262626" stroke-width="1.12" />
<ellipse cx="309.0" cy="659.8" rx="4.30" ry="2.48" transform="rotate(60 309.0 659.8)" fill="#fff" stroke="#262626" stroke-width="1.12" />
<ellipse cx="305.4" cy="661.2" rx="4.30" ry="2.48" transform="rotate(60 305.4 661.2)" fill="#fff" stroke="#262626" stroke-width="1.12" />
<ellipse cx="301.9" cy="662.6" rx="4.30" ry="2.48" transform="rotate(60 301.9 662.6)" fill="#fff" stroke="#262626" stroke-width="1.12" />
<ellipse cx="310.0" cy="645.9" rx="4.30" ry="2.48" transform="rotate(60 310.0 645.9)" fill="#fff" stroke="#262626" stroke-width="1.12" />
<ellipse cx="306.5" cy="647.3" rx="4.30" ry="2.48" transform="rotate(60 306.5 647.3)" fill="#fff" stroke="#262626" stroke-width="1.12" />
<ellipse cx="302.9" cy="648.7" rx="4.30" ry="2.48" transform="rotate(60 302.9 648.7)" fill="#fff" stroke="#262626" stroke-width="1.12" />
<ellipse cx="311.1" cy="631.9" rx="4.30" ry="2.48" transform="rotate(60 311.1 631.9)" fill="#fff" stroke="#262626" stroke-width="1.12" />
<ellipse cx="307.5" cy="633.3" rx="4.30" ry="2.48" transform="rotate(60 307.5 633.3)" fill="#fff" stroke="#262626" stroke-width="1.12" />
<ellipse cx="304.0" cy="634.7" rx="4.30" ry="2.48" transform="rotate(60 304.0 634.7)" fill="#fff" stroke="#262626" stroke-width="1.12" />
<ellipse cx="312.1" cy="618.0" rx="4.30" ry="2.48" transform="rotate(60 312.1 618.0)" fill="#fff" stroke="#262626" stroke-width="1.12" />
<ellipse cx="308.5" cy="619.4" rx="4.30" ry="2.48" transform="rotate(60 308.5 619.4)" fill="#fff" stroke="#262626" stroke-width="1.12" />
<ellipse cx="305.0" cy="620.8" rx="4.30" ry="2.48" transform="rotate(60 305.0 620.8)" fill="#fff" stroke="#262626" stroke-width="1.12" />
<ellipse cx="313.0" cy="604.1" rx="4.30" ry="2.48" transform="rotate(60 313.0 604.1)" fill="#fff" stroke="#262626" stroke-width="1.12" />
<ellipse cx="309.5" cy="605.5" rx="4.30" ry="2.48" transform="rotate(60 309.5 605.5)" fill="#fff" stroke="#262626" stroke-width="1.12" />
<ellipse cx="305.9" cy="606.9" rx="4.30" ry="2.48" transform="rotate(60 305.9 606.9)" fill="#fff" stroke="#262626" stroke-width="1.12" />
<ellipse cx="314.0" cy="590.2" rx="4.30" ry="2.48" transform="rotate(60 314.0 590.2)" fill="#fff" stroke="#262626" stroke-width="1.12" />
<ellipse cx="310.4" cy="591.6" rx="4.30" ry="2.48" transform="rotate(60 310.4 591.6)" fill="#fff" stroke="#262626" stroke-width="1.12" />
<ellipse cx="306.9" cy="593.0" rx="4.30" ry="2.48" transform="rotate(60 306.9 593.0)" fill="#fff" stroke="#262626" stroke-width="1.12" />
<ellipse cx="314.9" cy="576.3" rx="4.30" ry="2.48" transform="rotate(60 314.9 576.3)" fill="#fff" stroke="#262626" stroke-width="1.12" />
<ellipse cx="311.3" cy="577.7" rx="4.30" ry="2.48" transform="rotate(60 311.3 577.7)" fill="#fff" stroke="#262626" stroke-width="1.12" />
<ellipse cx="307.8" cy="579.1" rx="4.30" ry="2.48" transform="rotate(60 307.8 579.1)" fill="#fff" stroke="#262626" stroke-width="1.12" />
<ellipse cx="315.8" cy="562.3" rx="4.30" ry="2.48" transform="rotate(60 315.8 562.3)" fill="#fff" stroke="#262626" stroke-width="1.12" />
<ellipse cx="312.2" cy="563.7" rx="4.30" ry="2.48" transform="rotate(60 312.2 563.7)" fill="#fff" stroke="#262626" stroke-width="1.12" />
<ellipse cx="308.7" cy="565.1" rx="4.30" ry="2.48" transform="rotate(60 308.7 565.1)" fill="#fff" stroke="#262626" stroke-width="1.12" />
<ellipse cx="316.6" cy="548.4" rx="4.30" ry="2.48" transform="rotate(60 316.6 548.4)" fill="#fff" stroke="#262626" stroke-width="1.12" />
<ellipse cx="313.0" cy="549.8" rx="4.30" ry="2.48" transform="rotate(60 313.0 549.8)" fill="#fff" stroke="#262626" stroke-width="1.12" />
<ellipse cx="309.5" cy="551.2" rx="4.30" ry="2.48" transform="rotate(60 309.5 551.2)" fill="#fff" stroke="#262626" stroke-width="1.12" />
<ellipse cx="317.4" cy="534.5" rx="4.30" ry="2.48" transform="rotate(60 317.4 534.5)" fill="#fff" stroke="#262626" stroke-width="1.12" />
<ellipse cx="313.9" cy="535.9" rx="4.30" ry="2.48" transform="rotate(60 313.9 535.9)" fill="#fff" stroke="#262626" stroke-width="1.12" />
<ellipse cx="310.3" cy="537.3" rx="4.30" ry="2.48" transform="rotate(60 310.3 537.3)" fill="#fff" stroke="#262626" stroke-width="1.12" />
<ellipse cx="318.2" cy="520.6" rx="4.30" ry="2.48" transform="rotate(60 318.2 520.6)" fill="#fff" stroke="#262626" stroke-width="1.12" />
<ellipse cx="314.7" cy="522.0" rx="4.30" ry="2.48" transform="rotate(60 314.7 522.0)" fill="#fff" stroke="#262626" stroke-width="1.12" />
<ellipse cx="311.1" cy="523.4" rx="4.30" ry="2.48" transform="rotate(60 311.1 523.4)" fill="#fff" stroke="#262626" stroke-width="1.12" />
<ellipse cx="319.0" cy="506.6" rx="4.30" ry="2.48" transform="rotate(60 319.0 506.6)" fill="#fff" stroke="#262626" stroke-width="1.12" />
<ellipse cx="315.5" cy="508.0" rx="4.30" ry="2.48" transform="rotate(60 315.5 508.0)" fill="#fff" stroke="#262626" stroke-width="1.12" />
<ellipse cx="311.9" cy="509.4" rx="4.30" ry="2.48" transform="rotate(60 311.9 509.4)" fill="#fff" stroke="#262626" stroke-width="1.12" />
<ellipse cx="319.8" cy="492.7" rx="4.30" ry="2.48" transform="rotate(60 319.8 492.7)" fill="#fff" stroke="#262626" stroke-width="1.12" />
<ellipse cx="316.3" cy="494.1" rx="4.30" ry="2.48" transform="rotate(60 316.3 494.1)" fill="#fff" stroke="#262626" stroke-width="1.12" />
<ellipse cx="312.7" cy="495.5" rx="4.30" ry="2.48" transform="rotate(60 312.7 495.5)" fill="#fff" stroke="#262626" stroke-width="1.12" />
<ellipse cx="320.6" cy="478.8" rx="4.30" ry="2.48" transform="rotate(60 320.6 478.8)" fill="#fff" stroke="#262626" stroke-width="1.12" />
<ellipse cx="317.1" cy="480.2" rx="4.30" ry="2.48" transform="rotate(60 317.1 480.2)" fill="#fff" stroke="#262626" stroke-width="1.12" />
<ellipse cx="313.5" cy="481.6" rx="4.30" ry="2.48" transform="rotate(60 313.5 481.6)" fill="#fff" stroke="#262626" stroke-width="1.12" />
<ellipse cx="321.5" cy="464.9" rx="4.30" ry="2.48" transform="rotate(60 321.5 464.9)" fill="#fff" stroke="#262626" stroke-width="1.12" />
<ellipse cx="317.9" cy="466.3" rx="4.30" ry="2.48" transform="rotate(60 317.9 466.3)" fill="#fff" stroke="#262626" stroke-width="1.12" />
<ellipse cx="314.4" cy="467.7" rx="4.30" ry="2.48" transform="rotate(60 314.4 467.7)" fill="#fff" stroke="#262626" stroke-width="1.12" />
<ellipse cx="322.3" cy="450.9" rx="4.30" ry="2.48" transform="rotate(60 322.3 450.9)" fill="#fff" stroke="#262626" stroke-width="1.12" />
<ellipse cx="318.8" cy="452.3" rx="4.30" ry="2.48" transform="rotate(60 318.8 452.3)" fill="#fff" stroke="#262626" stroke-width="1.12" />
<ellipse cx="315.2" cy="453.7" rx="4.30" ry="2.48" transform="rotate(60 315.2 453.7)" fill="#fff" stroke="#262626" stroke-width="1.12" />
<ellipse cx="323.0" cy="437.0" rx="4.30" ry="2.48" transform="rotate(60 323.0 437.0)" fill="#fff" stroke="#262626" stroke-width="1.12" />
<ellipse cx="319.5" cy="438.4" rx="4.30" ry="2.48" transform="rotate(60 319.5 438.4)" fill="#fff" stroke="#262626" stroke-width="1.12" />
<ellipse cx="315.9" cy="439.8" rx="4.30" ry="2.48" transform="rotate(60 315.9 439.8)" fill="#fff" stroke="#262626" stroke-width="1.12" />
<ellipse cx="323.8" cy="423.1" rx="4.30" ry="2.48" transform="rotate(60 323.8 423.1)" fill="#fff" stroke="#262626" stroke-width="1.12" />
<ellipse cx="320.3" cy="424.5" rx="4.30" ry="2.48" transform="rotate(60 320.3 424.5)" fill="#fff" stroke="#262626" stroke-width="1.12" />
<ellipse cx="316.7" cy="425.9" rx="4.30" ry="2.48" transform="rotate(60 316.7 425.9)" fill="#fff" stroke="#262626" stroke-width="1.12" />
<ellipse cx="325.9" cy="409.3" rx="4.30" ry="2.48" transform="rotate(60 325.9 409.3)" fill="#fff" stroke="#262626" stroke-width="1.12" />
<ellipse cx="322.3" cy="410.7" rx="4.30" ry="2.48" transform="rotate(60 322.3 410.7)" fill="#fff" stroke="#262626" stroke-width="1.12" />
<ellipse cx="318.8" cy="412.1" rx="4.30" ry="2.48" transform="rotate(60 318.8 412.1)" fill="#fff" stroke="#262626" stroke-width="1.12" />
<ellipse cx="332.9" cy="398.6" rx="4.30" ry="2.48" transform="rotate(60 332.9 398.6)" fill="#fff" stroke="#262626" stroke-width="1.12" />
<ellipse cx="329.4" cy="400.0" rx="4.30" ry="2.48" transform="rotate(60 329.4 400.0)" fill="#fff" stroke="#262626" stroke-width="1.12" />
<ellipse cx="325.8" cy="401.4" rx="4.30" ry="2.48" transform="rotate(60 325.8 401.4)" fill="#fff" stroke="#262626" stroke-width="1.12" />
<ellipse cx="346.1" cy="401.7" rx="4.30" ry="2.48" transform="rotate(60 346.1 401.7)" fill="#fff" stroke="#262626" stroke-width="1.12" />
<ellipse cx="342.5" cy="403.1" rx="4.30" ry="2.48" transform="rotate(60 342.5 403.1)" fill="#fff" stroke="#262626" stroke-width="1.12" />
<ellipse cx="339.0" cy="404.5" rx="4.30" ry="2.48" transform="rotate(60 339.0 404.5)" fill="#fff" stroke="#262626" stroke-width="1.12" />
<ellipse cx="353.4" cy="413.2" rx="4.30" ry="2.48" transform="rotate(60 353.4 413.2)" fill="#fff" stroke="#262626" stroke-width="1.12" />
<ellipse cx="349.8" cy="414.6" rx="4.30" ry="2.48" transform="rotate(60 349.8 414.6)" fill="#fff" stroke="#262626" stroke-width="1.12" />
<ellipse cx="346.3" cy="416.0" rx="4.30" ry="2.48" transform="rotate(60 346.3 416.0)" fill="#fff" stroke="#262626" stroke-width="1.12" />
<ellipse cx="357.3" cy="426.6" rx="4.30" ry="2.48" transform="rotate(60 357.3 426.6)" fill="#fff" stroke="#262626" stroke-width="1.12" />
<ellipse cx="353.8" cy="428.0" rx="4.30" ry="2.48" transform="rotate(60 353.8 428.0)" fill="#fff" stroke="#262626" stroke-width="1.12" />
<ellipse cx="350.2" cy="429.4" rx="4.30" ry="2.48" transform="rotate(60 350.2 429.4)" fill="#fff" stroke="#262626" stroke-width="1.12" />
<ellipse cx="360.7" cy="440.1" rx="4.30" ry="2.48" transform="rotate(60 360.7 440.1)" fill="#fff" stroke="#262626" stroke-width="1.12" />
<ellipse cx="357.1" cy="441.5" rx="4.30" ry="2.48" transform="rotate(60 357.1 441.5)" fill="#fff" stroke="#262626" stroke-width="1.12" />
<ellipse cx="353.6" cy="442.9" rx="4.30" ry="2.48" transform="rotate(60 353.6 442.9)" fill="#fff" stroke="#262626" stroke-width="1.12" />
<ellipse cx="362.0" cy="454.0" rx="4.30" ry="2.48" transform="rotate(60 362.0 454.0)" fill="#fff" stroke="#262626" stroke-width="1.12" />
<ellipse cx="358.4" cy="455.4" rx="4.30" ry="2.48" transform="rotate(60 358.4 455.4)" fill="#fff" stroke="#262626" stroke-width="1.12" />
<ellipse cx="354.9" cy="456.8" rx="4.30" ry="2.48" transform="rotate(60 354.9 456.8)" fill="#fff" stroke="#262626" stroke-width="1.12" />
<ellipse cx="362.9" cy="467.9" rx="4.30" ry="2.48" transform="rotate(60 362.9 467.9)" fill="#fff" stroke="#262626" stroke-width="1.12" />
<ellipse cx="359.3" cy="469.3" rx="4.30" ry="2.48" transform="rotate(60 359.3 469.3)" fill="#fff" stroke="#262626" stroke-width="1.12" />
<ellipse cx="355.8" cy="470.7" rx="4.30" ry="2.48" transform="rotate(60 355.8 470.7)" fill="#fff" stroke="#262626" stroke-width="1.12" />
<ellipse cx="364.4" cy="481.8" rx="4.30" ry="2.48" transform="rotate(60 364.4 481.8)" fill="#fff" stroke="#262626" stroke-width="1.12" />
<ellipse cx="360.8" cy="483.2" rx="4.30" ry="2.48" transform="rotate(60 360.8 483.2)" fill="#fff" stroke="#262626" stroke-width="1.12" />
<ellipse cx="357.3" cy="484.6" rx="4.30" ry="2.48" transform="rotate(60 357.3 484.6)" fill="#fff" stroke="#262626" stroke-width="1.12" />
<ellipse cx="365.6" cy="495.7" rx="4.30" ry="2.48" transform="rotate(60 365.6 495.7)" fill="#fff" stroke="#262626" stroke-width="1.12" />
<ellipse cx="362.1" cy="497.1" rx="4.30" ry="2.48" transform="rotate(60 362.1 497.1)" fill="#fff" stroke="#262626" stroke-width="1.12" />
<ellipse cx="358.5" cy="498.5" rx="4.30" ry="2.48" transform="rotate(60 358.5 498.5)" fill="#fff" stroke="#262626" stroke-width="1.12" />
<ellipse cx="366.5" cy="509.6" rx="4.30" ry="2.48" transform="rotate(60 366.5 509.6)" fill="#fff" stroke="#262626" stroke-width="1.12" />
<ellipse cx="363.0" cy="511.0" rx="4.30" ry="2.48" transform="rotate(60 363.0 511.0)" fill="#fff" stroke="#262626" stroke-width="1.12" />
<ellipse cx="359.4" cy="512.4" rx="4.30" ry="2.48" transform="rotate(60 359.4 512.4)" fill="#fff" stroke="#262626" stroke-width="1.12" />
<ellipse cx="367.3" cy="523.6" rx="4.30" ry="2.48" transform="rotate(60 367.3 523.6)" fill="#fff" stroke="#262626" stroke-width="1.12" />
<ellipse cx="363.8" cy="525.0" rx="4.30" ry="2.48" transform="rotate(60 363.8 525.0)" fill="#fff" stroke="#262626" stroke-width="1.12" />
<ellipse cx="360.2" cy="526.4" rx="4.30" ry="2.48" transform="rotate(60 360.2 526.4)" fill="#fff" stroke="#262626" stroke-width="1.12" />
<ellipse cx="368.1" cy="537.5" rx="4.30" ry="2.48" transform="rotate(60 368.1 537.5)" fill="#fff" stroke="#262626" stroke-width="1.12" />
<ellipse cx="364.6" cy="538.9" rx="4.30" ry="2.48" transform="rotate(60 364.6 538.9)" fill="#fff" stroke="#262626" stroke-width="1.12" />
<ellipse cx="361.0" cy="540.3" rx="4.30" ry="2.48" transform="rotate(60 361.0 540.3)" fill="#fff" stroke="#262626" stroke-width="1.12" />
<ellipse cx="368.9" cy="551.4" rx="4.30" ry="2.48" transform="rotate(60 368.9 551.4)" fill="#fff" stroke="#262626" stroke-width="1.12" />
<ellipse cx="365.3" cy="552.8" rx="4.30" ry="2.48" transform="rotate(60 365.3 552.8)" fill="#fff" stroke="#262626" stroke-width="1.12" />
<ellipse cx="361.8" cy="554.2" rx="4.30" ry="2.48" transform="rotate(60 361.8 554.2)" fill="#fff" stroke="#262626" stroke-width="1.12" />
<ellipse cx="369.6" cy="565.3" rx="4.30" ry="2.48" transform="rotate(60 369.6 565.3)" fill="#fff" stroke="#262626" stroke-width="1.12" />
<ellipse cx="366.1" cy="566.7" rx="4.30" ry="2.48" transform="rotate(60 366.1 566.7)" fill="#fff" stroke="#262626" stroke-width="1.12" />
<ellipse cx="362.5" cy="568.1" rx="4.30" ry="2.48" transform="rotate(60 362.5 568.1)" fill="#fff" stroke="#262626" stroke-width="1.12" />
<ellipse cx="370.4" cy="579.3" rx="4.30" ry="2.48" transform="rotate(60 370.4 579.3)" fill="#fff" stroke="#262626" stroke-width="1.12" />
<ellipse cx="366.9" cy="580.7" rx="4.30" ry="2.48" transform="rotate(60 366.9 580.7)" fill="#fff" stroke="#262626" stroke-width="1.12" />
<ellipse cx="363.3" cy="582.1" rx="4.30" ry="2.48" transform="rotate(60 363.3 582.1)" fill="#fff" stroke="#262626" stroke-width="1.12" />
<ellipse cx="371.2" cy="593.2" rx="4.30" ry="2.48" transform="rotate(60 371.2 593.2)" fill="#fff" stroke="#262626" stroke-width="1.12" />
<ellipse cx="367.6" cy="594.6" rx="4.30" ry="2.48" transform="rotate(60 367.6 594.6)" fill="#fff" stroke="#262626" stroke-width="1.12" />
<ellipse cx="364.1" cy="596.0" rx="4.30" ry="2.48" transform="rotate(60 364.1 596.0)" fill="#fff" stroke="#262626" stroke-width="1.12" />
<ellipse cx="371.9" cy="607.1" rx="4.30" ry="2.48" transform="rotate(60 371.9 607.1)" fill="#fff" stroke="#262626" stroke-width="1.12" />
<ellipse cx="368.4" cy="608.5" rx="4.30" ry="2.48" transform="rotate(60 368.4 608.5)" fill="#fff" stroke="#262626" stroke-width="1.12" />
<ellipse cx="364.8" cy="609.9" rx="4.30" ry="2.48" transform="rotate(60 364.8 609.9)" fill="#fff" stroke="#262626" stroke-width="1.12" />
<ellipse cx="372.7" cy="621.1" rx="4.30" ry="2.48" transform="rotate(60 372.7 621.1)" fill="#fff" stroke="#262626" stroke-width="1.12" />
<ellipse cx="369.1" cy="622.5" rx="4.30" ry="2.48" transform="rotate(60 369.1 622.5)" fill="#fff" stroke="#262626" stroke-width="1.12" />
<ellipse cx="365.6" cy="623.9" rx="4.30" ry="2.48" transform="rotate(60 365.6 623.9)" fill="#fff" stroke="#262626" stroke-width="1.12" />
<ellipse cx="373.4" cy="635.0" rx="4.30" ry="2.48" transform="rotate(60 373.4 635.0)" fill="#fff" stroke="#262626" stroke-width="1.12" />
<ellipse cx="369.9" cy="636.4" rx="4.30" ry="2.48" transform="rotate(60 369.9 636.4)" fill="#fff" stroke="#262626" stroke-width="1.12" />
<ellipse cx="366.3" cy="637.8" rx="4.30" ry="2.48" transform="rotate(60 366.3 637.8)" fill="#fff" stroke="#262626" stroke-width="1.12" />
<ellipse cx="374.2" cy="648.9" rx="4.30" ry="2.48" transform="rotate(60 374.2 648.9)" fill="#fff" stroke="#262626" stroke-width="1.12" />
<ellipse cx="370.6" cy="650.3" rx="4.30" ry="2.48" transform="rotate(60 370.6 650.3)" fill="#fff" stroke="#262626" stroke-width="1.12" />
<ellipse cx="367.1" cy="651.7" rx="4.30" ry="2.48" transform="rotate(60 367.1 651.7)" fill="#fff" stroke="#262626" stroke-width="1.12" />
<ellipse cx="374.9" cy="662.8" rx="4.30" ry="2.48" transform="rotate(60 374.9 662.8)" fill="#fff" stroke="#262626" stroke-width="1.12" />
<ellipse cx="371.4" cy="664.2" rx="4.30" ry="2.48" transform="rotate(60 371.4 664.2)" fill="#fff" stroke="#262626" stroke-width="1.12" />
<ellipse cx="367.8" cy="665.6" rx="4.30" ry="2.48" transform="rotate(60 367.8 665.6)" fill="#fff" stroke="#262626" stroke-width="1.12" />
<ellipse cx="375.7" cy="676.8" rx="4.30" ry="2.48" transform="rotate(60 375.7 676.8)" fill="#fff" stroke="#262626" stroke-width="1.12" />
<ellipse cx="372.1" cy="678.2" rx="4.30" ry="2.48" transform="rotate(60 372.1 678.2)" fill="#fff" stroke="#262626" stroke-width="1.12" />
<ellipse cx="368.6" cy="679.6" rx="4.30" ry="2.48" transform="rotate(60 368.6 679.6)" fill="#fff" stroke="#262626" stroke-width="1.12" />
<ellipse cx="376.5" cy="690.7" rx="4.30" ry="2.48" transform="rotate(60 376.5 690.7)" fill="#fff" stroke="#262626" stroke-width="1.12" />
<ellipse cx="372.9" cy="692.1" rx="4.30" ry="2.48" transform="rotate(60 372.9 692.1)" fill="#fff" stroke="#262626" stroke-width="1.12" />
<ellipse cx="369.4" cy="693.5" rx="4.30" ry="2.48" transform="rotate(60 369.4 693.5)" fill="#fff" stroke="#262626" stroke-width="1.12" />
<ellipse cx="377.3" cy="704.6" rx="4.30" ry="2.48" transform="rotate(60 377.3 704.6)" fill="#fff" stroke="#262626" stroke-width="1.12" />
<ellipse cx="373.7" cy="706.0" rx="4.30" ry="2.48" transform="rotate(60 373.7 706.0)" fill="#fff" stroke="#262626" stroke-width="1.12" />
<ellipse cx="370.2" cy="707.4" rx="4.30" ry="2.48" transform="rotate(60 370.2 707.4)" fill="#fff" stroke="#262626" stroke-width="1.12" />
<ellipse cx="378.6" cy="718.5" rx="4.30" ry="2.48" transform="rotate(60 378.6 718.5)" fill="#fff" stroke="#262626" stroke-width="1.12" />
<ellipse cx="375.1" cy="719.9" rx="4.30" ry="2.48" transform="rotate(60 375.1 719.9)" fill="#fff" stroke="#262626" stroke-width="1.12" />
<ellipse cx="371.5" cy="721.3" rx="4.30" ry="2.48" transform="rotate(60 371.5 721.3)" fill="#fff" stroke="#262626" stroke-width="1.12" />
<ellipse cx="378.6" cy="732.2" rx="4.30" ry="2.48" transform="rotate(60 378.6 732.2)" fill="#fff" stroke="#262626" stroke-width="1.12" />
<ellipse cx="375.0" cy="733.6" rx="4.30" ry="2.48" transform="rotate(60 375.0 733.6)" fill="#fff" stroke="#262626" stroke-width="1.12" />
<ellipse cx="371.5" cy="735.0" rx="4.30" ry="2.48" transform="rotate(60 371.5 735.0)" fill="#fff" stroke="#262626" stroke-width="1.12" />
<ellipse cx="371.1" cy="744.0" rx="4.30" ry="2.48" transform="rotate(60 371.1 744.0)" fill="#fff" stroke="#262626" stroke-width="1.12" />
<ellipse cx="367.6" cy="745.4" rx="4.30" ry="2.48" transform="rotate(60 367.6 745.4)" fill="#fff" stroke="#262626" stroke-width="1.12" />
<ellipse cx="364.0" cy="746.8" rx="4.30" ry="2.48" transform="rotate(60 364.0 746.8)" fill="#fff" stroke="#262626" stroke-width="1.12" />
<ellipse cx="359.0" cy="749.8" rx="4.30" ry="2.48" transform="rotate(60 359.0 749.8)" fill="#fff" stroke="#262626" stroke-width="1.12" />
<ellipse cx="355.4" cy="751.2" rx="4.30" ry="2.48" transform="rotate(60 355.4 751.2)" fill="#fff" stroke="#262626" stroke-width="1.12" />
<ellipse cx="351.9" cy="752.6" rx="4.30" ry="2.48" transform="rotate(60 351.9 752.6)" fill="#fff" stroke="#262626" stroke-width="1.12" />
<ellipse cx="345.7" cy="745.9" rx="4.30" ry="2.48" transform="rotate(60 345.7 745.9)" fill="#fff" stroke="#262626" stroke-width="1.12" />
<ellipse cx="342.2" cy="747.3" rx="4.30" ry="2.48" transform="rotate(60 342.2 747.3)" fill="#fff" stroke="#262626" stroke-width="1.12" />
<ellipse cx="338.6" cy="748.7" rx="4.30" ry="2.48" transform="rotate(60 338.6 748.7)" fill="#fff" stroke="#262626" stroke-width="1.12" />
<ellipse cx="334.5" cy="737.7" rx="4.30" ry="2.48" transform="rotate(60 334.5 737.7)" fill="#fff" stroke="#262626" stroke-width="1.12" />
<ellipse cx="330.9" cy="739.1" rx="4.30" ry="2.48" transform="rotate(60 330.9 739.1)" fill="#fff" stroke="#262626" stroke-width="1.12" />
<ellipse cx="327.4" cy="740.5" rx="4.30" ry="2.48" transform="rotate(60 327.4 740.5)" fill="#fff" stroke="#262626" stroke-width="1.12" />
<ellipse cx="325.0" cy="727.5" rx="4.30" ry="2.48" transform="rotate(60 325.0 727.5)" fill="#fff" stroke="#262626" stroke-width="1.12" />
<ellipse cx="321.4" cy="728.9" rx="4.30" ry="2.48" transform="rotate(60 321.4 728.9)" fill="#fff" stroke="#262626" stroke-width="1.12" />
<ellipse cx="317.9" cy="730.3" rx="4.30" ry="2.48" transform="rotate(60 317.9 730.3)" fill="#fff" stroke="#262626" stroke-width="1.12" />
<ellipse cx="317.2" cy="715.9" rx="4.30" ry="2.48" transform="rotate(60 317.2 715.9)" fill="#fff" stroke="#262626" stroke-width="1.12" />
<ellipse cx="313.7" cy="717.3" rx="4.30" ry="2.48" transform="rotate(60 313.7 717.3)" fill="#fff" stroke="#262626" stroke-width="1.12" />
<ellipse cx="310.1" cy="718.7" rx="4.30" ry="2.48" transform="rotate(60 310.1 718.7)" fill="#fff" stroke="#262626" stroke-width="1.12" />
<ellipse cx="311.4" cy="703.3" rx="4.30" ry="2.48" transform="rotate(60 311.4 703.3)" fill="#fff" stroke="#262626" stroke-width="1.12" />
<ellipse cx="307.9" cy="704.7" rx="4.30" ry="2.48" transform="rotate(60 307.9 704.7)" fill="#fff" stroke="#262626" stroke-width="1.12" />
<ellipse cx="304.3" cy="706.1" rx="4.30" ry="2.48" transform="rotate(60 304.3 706.1)" fill="#fff" stroke="#262626" stroke-width="1.12" />
<path d="M305.9 679.7 L305.3 681.8 L304.1 683.1 L302.4 683.4 L300.5 682.6 L298.6 680.9 L297.1 678.5 L296.1 675.9 L295.9 673.3 L296.9 659.3 L297.5 657.2 L298.7 656.0 L300.4 655.7 L302.3 656.4 L304.2 658.1 L305.7 660.5 L306.7 663.2 L306.9 665.8 Z" fill="#fff" stroke="#262626" stroke-width="1.40" stroke-linejoin="round" />
<path d="M307.9 651.9 L307.3 654.0 L306.1 655.3 L304.4 655.5 L302.5 654.8 L300.6 653.1 L299.1 650.7 L298.2 648.0 L298.0 645.4 L299.0 631.5 L299.5 629.4 L300.8 628.1 L302.5 627.8 L304.4 628.6 L306.3 630.3 L307.8 632.7 L308.7 635.4 L308.9 638.0 Z" fill="#fff" stroke="#262626" stroke-width="1.40" stroke-linejoin="round" />
<path d="M309.9 624.0 L309.4 626.1 L308.2 627.4 L306.5 627.7 L304.5 627.0 L302.7 625.3 L301.1 622.9 L300.2 620.2 L300.0 617.6 L301.0 603.7 L301.5 601.6 L302.7 600.3 L304.5 600.0 L306.4 600.8 L308.3 602.5 L309.8 604.8 L310.7 607.5 L310.9 610.1 Z" fill="#fff" stroke="#262626" stroke-width="1.40" stroke-linejoin="round" />
<path d="M311.9 596.2 L311.3 598.3 L310.1 599.6 L308.4 599.9 L306.5 599.2 L304.6 597.5 L303.1 595.1 L302.2 592.4 L301.9 589.8 L302.8 575.9 L303.4 573.8 L304.6 572.5 L306.3 572.2 L308.2 572.9 L310.1 574.6 L311.6 577.0 L312.5 579.7 L312.8 582.3 Z" fill="#fff" stroke="#262626" stroke-width="1.40" stroke-linejoin="round" />
<path d="M313.6 568.3 L313.1 570.4 L311.9 571.7 L310.2 572.1 L308.3 571.3 L306.4 569.6 L304.9 567.3 L303.9 564.6 L303.7 562.0 L304.5 548.1 L305.0 545.9 L306.2 544.6 L307.9 544.3 L309.9 545.0 L311.7 546.7 L313.3 549.1 L314.2 551.8 L314.5 554.4 Z" fill="#fff" stroke="#262626" stroke-width="1.40" stroke-linejoin="round" />
<path d="M315.3 540.4 L314.8 542.6 L313.6 543.9 L311.9 544.2 L309.9 543.5 L308.1 541.8 L306.5 539.4 L305.6 536.7 L305.3 534.1 L306.1 520.2 L306.7 518.1 L307.9 516.8 L309.5 516.5 L311.5 517.2 L313.4 518.9 L314.9 521.2 L315.8 523.9 L316.1 526.5 Z" fill="#fff" stroke="#262626" stroke-width="1.40" stroke-linejoin="round" />
<path d="M316.9 512.6 L316.4 514.7 L315.2 516.0 L313.5 516.4 L311.6 515.6 L309.7 514.0 L308.2 511.6 L307.2 508.9 L307.0 506.3 L307.8 492.4 L308.3 490.2 L309.5 488.9 L311.2 488.6 L313.1 489.3 L315.0 491.0 L316.5 493.4 L317.5 496.1 L317.7 498.7 Z" fill="#fff" stroke="#262626" stroke-width="1.40" stroke-linejoin="round" />
<path d="M318.5 484.8 L318.0 486.9 L316.8 488.2 L315.1 488.5 L313.2 487.8 L311.3 486.1 L309.8 483.7 L308.8 481.0 L308.6 478.4 L309.4 464.5 L309.9 462.4 L311.1 461.1 L312.8 460.8 L314.8 461.5 L316.6 463.2 L318.2 465.5 L319.1 468.2 L319.4 470.8 Z" fill="#fff" stroke="#262626" stroke-width="1.40" stroke-linejoin="round" />
<path d="M320.2 456.9 L319.7 459.0 L318.5 460.3 L316.9 460.7 L314.9 460.0 L313.1 458.3 L311.5 455.9 L310.5 453.2 L310.3 450.6 L310.9 436.7 L311.4 434.6 L312.6 433.2 L314.3 432.9 L316.2 433.6 L318.1 435.3 L319.6 437.6 L320.6 440.3 L320.9 442.9 Z" fill="#fff" stroke="#262626" stroke-width="1.40" stroke-linejoin="round" />
<path d="M321.7 429.4 L321.0 431.4 L319.6 432.5 L317.8 432.6 L315.9 431.7 L314.1 429.9 L312.6 427.5 L311.9 424.9 L311.8 422.4 L313.8 408.6 L314.5 406.6 L315.9 405.5 L317.7 405.3 L319.6 406.3 L321.4 408.0 L322.9 410.5 L323.7 413.1 L323.7 415.6 Z" fill="#fff" stroke="#262626" stroke-width="1.40" stroke-linejoin="round" />
<path d="M327.5 407.1 L325.0 406.2 L322.7 404.5 L320.9 402.3 L319.8 400.1 L319.6 398.0 L320.4 396.5 L322.0 395.7 L324.2 395.8 L337.3 398.8 L339.8 399.7 L342.1 401.4 L343.9 403.6 L345.0 405.8 L345.2 407.9 L344.4 409.4 L342.8 410.2 L340.6 410.1 Z" fill="#fff" stroke="#262626" stroke-width="1.40" stroke-linejoin="round" />
<path d="M341.6 415.0 L341.1 412.3 L341.5 410.1 L342.5 408.9 L344.2 408.8 L346.1 409.7 L348.1 411.6 L349.8 414.2 L351.0 417.1 L354.9 430.5 L355.4 433.2 L355.0 435.3 L354.0 436.5 L352.3 436.7 L350.4 435.7 L348.4 433.8 L346.7 431.2 L345.5 428.4 Z" fill="#fff" stroke="#262626" stroke-width="1.40" stroke-linejoin="round" />
<path d="M348.6 440.6 L348.7 438.2 L349.6 436.5 L351.1 435.8 L352.9 436.2 L354.9 437.6 L356.6 439.9 L357.9 442.5 L358.5 445.3 L359.8 459.2 L359.7 461.6 L358.8 463.3 L357.3 463.9 L355.5 463.6 L353.6 462.1 L351.8 459.9 L350.5 457.2 L349.9 454.5 Z" fill="#fff" stroke="#262626" stroke-width="1.40" stroke-linejoin="round" />
<path d="M350.8 468.4 L350.9 466.0 L351.8 464.3 L353.2 463.6 L355.1 464.0 L357.0 465.4 L358.8 467.6 L360.1 470.3 L360.7 473.0 L362.2 486.9 L362.1 489.3 L361.3 491.0 L359.8 491.7 L358.0 491.4 L356.0 490.0 L354.3 487.8 L353.0 485.1 L352.3 482.3 Z" fill="#fff" stroke="#262626" stroke-width="1.40" stroke-linejoin="round" />
<path d="M353.5 496.0 L353.8 493.6 L354.7 492.0 L356.2 491.4 L358.1 491.9 L360.0 493.3 L361.7 495.6 L362.9 498.3 L363.5 501.0 L364.4 515.0 L364.2 517.3 L363.2 518.9 L361.7 519.5 L359.9 519.1 L357.9 517.6 L356.2 515.3 L355.0 512.6 L354.5 509.9 Z" fill="#fff" stroke="#262626" stroke-width="1.40" stroke-linejoin="round" />
<path d="M355.3 523.8 L355.5 521.4 L356.5 519.9 L358.0 519.3 L359.9 519.7 L361.8 521.2 L363.5 523.5 L364.7 526.2 L365.2 528.9 L366.0 542.9 L365.8 545.2 L364.8 546.8 L363.3 547.4 L361.4 546.9 L359.5 545.4 L357.8 543.1 L356.6 540.4 L356.1 537.7 Z" fill="#fff" stroke="#262626" stroke-width="1.40" stroke-linejoin="round" />
<path d="M356.8 551.6 L357.1 549.3 L358.0 547.7 L359.6 547.1 L361.4 547.6 L363.4 549.1 L365.1 551.4 L366.2 554.1 L366.8 556.8 L367.5 570.7 L367.3 573.1 L366.3 574.6 L364.8 575.2 L362.9 574.7 L361.0 573.2 L359.3 571.0 L358.1 568.3 L357.6 565.5 Z" fill="#fff" stroke="#262626" stroke-width="1.40" stroke-linejoin="round" />
<path d="M358.3 579.5 L358.6 577.2 L359.5 575.6 L361.1 575.0 L362.9 575.5 L364.9 577.0 L366.6 579.2 L367.8 581.9 L368.3 584.7 L369.0 598.6 L368.8 600.9 L367.8 602.5 L366.3 603.1 L364.4 602.6 L362.5 601.1 L360.8 598.8 L359.6 596.1 L359.1 593.4 Z" fill="#fff" stroke="#262626" stroke-width="1.40" stroke-linejoin="round" />
<path d="M359.9 607.3 L360.1 605.0 L361.1 603.4 L362.6 602.8 L364.5 603.3 L366.4 604.8 L368.1 607.1 L369.3 609.8 L369.8 612.5 L370.6 626.4 L370.3 628.8 L369.4 630.4 L367.8 630.9 L365.9 630.5 L364.0 629.0 L362.3 626.7 L361.1 624.0 L360.6 621.3 Z" fill="#fff" stroke="#262626" stroke-width="1.40" stroke-linejoin="round" />
<path d="M361.4 635.2 L361.6 632.9 L362.6 631.3 L364.1 630.7 L366.0 631.2 L367.9 632.7 L369.6 635.0 L370.8 637.7 L371.3 640.4 L372.1 654.3 L371.8 656.6 L370.9 658.2 L369.3 658.8 L367.4 658.3 L365.5 656.8 L363.8 654.5 L362.6 651.8 L362.1 649.1 Z" fill="#fff" stroke="#262626" stroke-width="1.40" stroke-linejoin="round" />
<path d="M362.9 663.1 L363.1 660.7 L364.1 659.1 L365.6 658.6 L367.5 659.0 L369.4 660.5 L371.1 662.8 L372.3 665.5 L372.8 668.2 L373.6 682.2 L373.3 684.5 L372.4 686.1 L370.8 686.7 L369.0 686.2 L367.0 684.7 L365.3 682.4 L364.1 679.7 L363.6 677.0 Z" fill="#fff" stroke="#262626" stroke-width="1.40" stroke-linejoin="round" />
<path d="M364.4 690.9 L364.6 688.6 L365.6 687.0 L367.1 686.4 L369.0 686.9 L370.9 688.4 L372.6 690.7 L373.8 693.4 L374.3 696.1 L375.1 710.0 L374.9 712.3 L373.9 713.9 L372.4 714.5 L370.5 714.0 L368.6 712.5 L366.9 710.3 L365.7 707.6 L365.2 704.9 Z" fill="#fff" stroke="#262626" stroke-width="1.40" stroke-linejoin="round" />
<path d="M366.5 718.4 L366.9 716.2 L368.0 714.7 L369.6 714.3 L371.5 714.9 L373.4 716.5 L375.0 718.8 L376.1 721.5 L376.5 724.2 L376.4 737.9 L376.1 740.2 L375.0 741.6 L373.3 742.1 L371.4 741.4 L369.5 739.8 L367.9 737.5 L366.9 734.8 L366.5 732.2 Z" fill="#fff" stroke="#262626" stroke-width="1.40" stroke-linejoin="round" />
<path d="M360.4 741.2 L362.4 740.8 L364.6 741.4 L366.7 742.7 L368.4 744.6 L369.5 746.9 L369.7 749.2 L369.1 751.1 L367.7 752.3 L355.5 758.2 L353.5 758.5 L351.3 758.0 L349.2 756.7 L347.5 754.7 L346.4 752.5 L346.2 750.2 L346.9 748.3 L348.3 747.1 Z" fill="#fff" stroke="#262626" stroke-width="1.40" stroke-linejoin="round" />
<path d="M339.4 744.2 L341.7 746.4 L343.6 748.8 L344.7 751.3 L344.9 753.4 L344.1 754.7 L342.5 755.2 L340.3 754.7 L337.8 753.2 L326.6 745.0 L324.3 742.9 L322.4 740.4 L321.3 738.0 L321.1 735.9 L321.9 734.5 L323.5 734.1 L325.7 734.6 L328.2 736.0 Z" fill="#fff" stroke="#262626" stroke-width="1.40" stroke-linejoin="round" />
<path d="M321.2 728.6 L322.8 731.4 L323.6 734.1 L323.5 736.2 L322.6 737.4 L320.9 737.5 L318.8 736.5 L316.5 734.6 L314.5 732.1 L306.8 720.5 L305.2 717.7 L304.4 715.0 L304.5 712.9 L305.4 711.7 L307.1 711.6 L309.2 712.5 L311.4 714.4 L313.5 717.0 Z" fill="#fff" stroke="#262626" stroke-width="1.40" stroke-linejoin="round" />
<path d="M309.1 707.3 L309.5 710.0 L309.1 712.0 L307.9 713.2 L306.3 713.3 L304.3 712.3 L302.4 710.3 L300.7 707.7 L299.6 704.8 L296.0 691.4 L295.6 688.7 L296.0 686.6 L297.2 685.5 L298.8 685.4 L300.8 686.4 L302.7 688.4 L304.4 691.0 L305.5 693.8 Z" fill="#fff" stroke="#262626" stroke-width="1.40" stroke-linejoin="round" />
<path d="M301.5 695.4 L300.9 697.8 L299.6 699.3 L297.8 699.6 L295.7 698.8 L293.6 697.0 L291.9 694.4 L290.8 691.5 L290.5 688.6 L291.2 674.7 L291.8 672.3 L293.1 670.8 L294.9 670.5 L297.0 671.2 L299.1 673.1 L300.8 675.7 L301.9 678.6 L302.2 681.5 Z" fill="#fff" stroke="#262626" stroke-width="1.62" stroke-linejoin="round" />
<ellipse cx="296.0" cy="692.0" rx="2.60" ry="1.50" transform="rotate(60 296.0 692.0)" fill="none" stroke="#262626" stroke-width="1.68" />
<ellipse cx="296.7" cy="678.1" rx="2.60" ry="1.50" transform="rotate(60 296.7 678.1)" fill="none" stroke="#262626" stroke-width="1.68" />
<path d="M303.2 667.7 L302.6 670.0 L301.2 671.4 L299.3 671.7 L297.2 670.9 L295.1 669.0 L293.5 666.4 L292.5 663.5 L292.2 660.6 L293.3 646.7 L293.9 644.4 L295.2 643.0 L297.1 642.7 L299.2 643.5 L301.3 645.4 L302.9 648.0 L304.0 650.9 L304.2 653.8 Z" fill="#fff" stroke="#262626" stroke-width="1.62" stroke-linejoin="round" />
<ellipse cx="297.7" cy="664.2" rx="2.60" ry="1.50" transform="rotate(60 297.7 664.2)" fill="none" stroke="#262626" stroke-width="1.68" />
<ellipse cx="298.7" cy="650.3" rx="2.60" ry="1.50" transform="rotate(60 298.7 650.3)" fill="none" stroke="#262626" stroke-width="1.68" />
<path d="M305.2 639.9 L304.6 642.2 L303.3 643.6 L301.4 643.9 L299.3 643.1 L297.2 641.2 L295.5 638.6 L294.5 635.6 L294.3 632.8 L295.3 618.9 L295.9 616.6 L297.2 615.2 L299.1 614.8 L301.3 615.7 L303.3 617.6 L305.0 620.2 L306.0 623.1 L306.2 626.0 Z" fill="#fff" stroke="#262626" stroke-width="1.62" stroke-linejoin="round" />
<ellipse cx="299.8" cy="636.3" rx="2.60" ry="1.50" transform="rotate(60 299.8 636.3)" fill="none" stroke="#262626" stroke-width="1.68" />
<ellipse cx="300.8" cy="622.4" rx="2.60" ry="1.50" transform="rotate(60 300.8 622.4)" fill="none" stroke="#262626" stroke-width="1.68" />
<path d="M307.2 612.0 L306.6 614.3 L305.3 615.8 L303.4 616.1 L301.3 615.3 L299.2 613.4 L297.6 610.8 L296.5 607.8 L296.3 605.0 L297.2 591.1 L297.8 588.8 L299.2 587.3 L301.0 587.0 L303.2 587.8 L305.2 589.7 L306.9 592.3 L307.9 595.3 L308.2 598.1 Z" fill="#fff" stroke="#262626" stroke-width="1.62" stroke-linejoin="round" />
<ellipse cx="301.7" cy="608.5" rx="2.60" ry="1.50" transform="rotate(60 301.7 608.5)" fill="none" stroke="#262626" stroke-width="1.68" />
<ellipse cx="302.7" cy="594.6" rx="2.60" ry="1.50" transform="rotate(60 302.7 594.6)" fill="none" stroke="#262626" stroke-width="1.68" />
<path d="M309.1 584.2 L308.5 586.5 L307.2 587.9 L305.3 588.3 L303.2 587.5 L301.1 585.6 L299.4 583.0 L298.4 580.0 L298.1 577.2 L299.0 563.3 L299.6 560.9 L300.9 559.5 L302.7 559.1 L304.9 560.0 L306.9 561.8 L308.6 564.4 L309.7 567.4 L309.9 570.2 Z" fill="#fff" stroke="#262626" stroke-width="1.62" stroke-linejoin="round" />
<ellipse cx="303.6" cy="580.7" rx="2.60" ry="1.50" transform="rotate(60 303.6 580.7)" fill="none" stroke="#262626" stroke-width="1.68" />
<ellipse cx="304.5" cy="566.7" rx="2.60" ry="1.50" transform="rotate(60 304.5 566.7)" fill="none" stroke="#262626" stroke-width="1.68" />
<path d="M310.8 556.3 L310.2 558.6 L308.9 560.1 L307.0 560.4 L304.9 559.6 L302.8 557.8 L301.1 555.2 L300.1 552.2 L299.8 549.4 L300.6 535.4 L301.2 533.1 L302.5 531.6 L304.4 531.3 L306.5 532.1 L308.6 533.9 L310.3 536.5 L311.3 539.5 L311.6 542.4 Z" fill="#fff" stroke="#262626" stroke-width="1.62" stroke-linejoin="round" />
<ellipse cx="305.3" cy="552.8" rx="2.60" ry="1.50" transform="rotate(60 305.3 552.8)" fill="none" stroke="#262626" stroke-width="1.68" />
<ellipse cx="306.1" cy="538.9" rx="2.60" ry="1.50" transform="rotate(60 306.1 538.9)" fill="none" stroke="#262626" stroke-width="1.68" />
<path d="M312.4 528.4 L311.8 530.8 L310.5 532.2 L308.6 532.6 L306.5 531.8 L304.5 529.9 L302.8 527.3 L301.7 524.4 L301.4 521.5 L302.3 507.6 L302.8 505.2 L304.1 503.8 L306.0 503.4 L308.1 504.2 L310.2 506.1 L311.9 508.7 L312.9 511.6 L313.2 514.5 Z" fill="#fff" stroke="#262626" stroke-width="1.62" stroke-linejoin="round" />
<ellipse cx="306.9" cy="525.0" rx="2.60" ry="1.50" transform="rotate(60 306.9 525.0)" fill="none" stroke="#262626" stroke-width="1.68" />
<ellipse cx="307.7" cy="511.0" rx="2.60" ry="1.50" transform="rotate(60 307.7 511.0)" fill="none" stroke="#262626" stroke-width="1.68" />
<path d="M314.0 500.6 L313.4 502.9 L312.1 504.4 L310.3 504.7 L308.1 503.9 L306.1 502.1 L304.4 499.5 L303.3 496.5 L303.1 493.6 L303.9 479.7 L304.4 477.4 L305.8 475.9 L307.6 475.6 L309.7 476.4 L311.8 478.2 L313.5 480.8 L314.6 483.8 L314.8 486.7 Z" fill="#fff" stroke="#262626" stroke-width="1.62" stroke-linejoin="round" />
<ellipse cx="308.5" cy="497.1" rx="2.60" ry="1.50" transform="rotate(60 308.5 497.1)" fill="none" stroke="#262626" stroke-width="1.68" />
<ellipse cx="309.3" cy="483.2" rx="2.60" ry="1.50" transform="rotate(60 309.3 483.2)" fill="none" stroke="#262626" stroke-width="1.68" />
<path d="M315.7 472.7 L315.1 475.1 L313.8 476.5 L311.9 476.9 L309.8 476.1 L307.7 474.2 L306.0 471.6 L305.0 468.6 L304.7 465.8 L305.6 451.9 L306.1 449.5 L307.5 448.1 L309.3 447.7 L311.4 448.6 L313.5 450.4 L315.2 453.0 L316.2 456.0 L316.5 458.8 Z" fill="#fff" stroke="#262626" stroke-width="1.62" stroke-linejoin="round" />
<ellipse cx="310.2" cy="469.3" rx="2.60" ry="1.50" transform="rotate(60 310.2 469.3)" fill="none" stroke="#262626" stroke-width="1.68" />
<ellipse cx="311.0" cy="455.3" rx="2.60" ry="1.50" transform="rotate(60 311.0 455.3)" fill="none" stroke="#262626" stroke-width="1.68" />
<path d="M317.2 444.9 L316.6 447.2 L315.3 448.7 L313.4 449.0 L311.3 448.2 L309.3 446.4 L307.6 443.8 L306.5 440.8 L306.2 437.9 L307.1 424.0 L307.6 421.7 L309.0 420.2 L310.8 419.9 L312.9 420.7 L315.0 422.5 L316.7 425.1 L317.8 428.1 L318.0 431.0 Z" fill="#fff" stroke="#262626" stroke-width="1.62" stroke-linejoin="round" />
<ellipse cx="311.7" cy="441.4" rx="2.60" ry="1.50" transform="rotate(60 311.7 441.4)" fill="none" stroke="#262626" stroke-width="1.68" />
<ellipse cx="312.5" cy="427.5" rx="2.60" ry="1.50" transform="rotate(60 312.5 427.5)" fill="none" stroke="#262626" stroke-width="1.68" />
<path d="M319.5 418.9 L318.0 420.3 L315.9 420.6 L313.6 419.9 L311.5 418.3 L309.9 415.9 L308.9 413.2 L308.8 410.6 L309.6 408.5 L316.7 397.8 L318.2 396.5 L320.3 396.1 L322.5 396.8 L324.7 398.5 L326.3 400.8 L327.3 403.5 L327.3 406.1 L326.6 408.3 Z" fill="#fff" stroke="#262626" stroke-width="1.62" stroke-linejoin="round" />
<ellipse cx="314.6" cy="413.7" rx="2.60" ry="1.50" transform="rotate(60 314.6 413.7)" fill="none" stroke="#262626" stroke-width="1.68" />
<ellipse cx="321.6" cy="403.0" rx="2.60" ry="1.50" transform="rotate(60 321.6 403.0)" fill="none" stroke="#262626" stroke-width="1.68" />
<path d="M330.9 407.7 L329.3 404.6 L328.5 401.7 L328.7 399.4 L329.8 398.2 L331.7 398.2 L334.0 399.3 L336.5 401.5 L338.6 404.4 L346.0 416.0 L347.6 419.1 L348.3 422.0 L348.2 424.2 L347.1 425.5 L345.2 425.5 L342.9 424.3 L340.4 422.2 L338.2 419.3 Z" fill="#fff" stroke="#262626" stroke-width="1.62" stroke-linejoin="round" />
<ellipse cx="334.8" cy="406.1" rx="2.60" ry="1.50" transform="rotate(60 334.8 406.1)" fill="none" stroke="#262626" stroke-width="1.68" />
<ellipse cx="342.1" cy="417.6" rx="2.60" ry="1.50" transform="rotate(60 342.1 417.6)" fill="none" stroke="#262626" stroke-width="1.68" />
<path d="M340.7 429.5 L340.4 426.6 L340.9 424.4 L342.2 423.1 L344.0 423.1 L346.2 424.3 L348.3 426.5 L350.1 429.4 L351.3 432.5 L354.6 446.0 L355.0 448.9 L354.5 451.2 L353.2 452.4 L351.3 452.4 L349.2 451.3 L347.0 449.1 L345.3 446.2 L344.1 443.0 Z" fill="#fff" stroke="#262626" stroke-width="1.62" stroke-linejoin="round" />
<ellipse cx="346.0" cy="431.0" rx="2.60" ry="1.50" transform="rotate(60 346.0 431.0)" fill="none" stroke="#262626" stroke-width="1.68" />
<ellipse cx="349.4" cy="444.5" rx="2.60" ry="1.50" transform="rotate(60 349.4 444.5)" fill="none" stroke="#262626" stroke-width="1.68" />
<path d="M345.2 455.6 L345.4 453.1 L346.5 451.3 L348.1 450.6 L350.2 451.1 L352.3 452.7 L354.2 455.2 L355.5 458.2 L356.1 461.2 L357.1 475.1 L356.8 477.7 L355.8 479.5 L354.1 480.2 L352.1 479.6 L349.9 478.0 L348.1 475.5 L346.7 472.6 L346.1 469.6 Z" fill="#fff" stroke="#262626" stroke-width="1.62" stroke-linejoin="round" />
<ellipse cx="350.7" cy="458.4" rx="2.60" ry="1.50" transform="rotate(60 350.7 458.4)" fill="none" stroke="#262626" stroke-width="1.68" />
<ellipse cx="351.6" cy="472.3" rx="2.60" ry="1.50" transform="rotate(60 351.6 472.3)" fill="none" stroke="#262626" stroke-width="1.68" />
<path d="M347.6 483.6 L347.8 481.0 L348.7 479.1 L350.3 478.4 L352.4 478.8 L354.5 480.4 L356.4 482.8 L357.8 485.8 L358.5 488.8 L359.8 502.7 L359.6 505.4 L358.6 507.2 L357.0 507.9 L355.0 507.5 L352.8 505.9 L350.9 503.5 L349.5 500.5 L348.9 497.5 Z" fill="#fff" stroke="#262626" stroke-width="1.62" stroke-linejoin="round" />
<ellipse cx="353.1" cy="486.2" rx="2.60" ry="1.50" transform="rotate(60 353.1 486.2)" fill="none" stroke="#262626" stroke-width="1.68" />
<ellipse cx="354.3" cy="500.1" rx="2.60" ry="1.50" transform="rotate(60 354.3 500.1)" fill="none" stroke="#262626" stroke-width="1.68" />
<path d="M349.8 511.2 L350.0 508.6 L351.1 506.9 L352.7 506.2 L354.8 506.8 L356.9 508.4 L358.8 510.9 L360.1 513.8 L360.7 516.8 L361.5 530.8 L361.3 533.3 L360.2 535.1 L358.5 535.8 L356.5 535.2 L354.3 533.6 L352.5 531.1 L351.2 528.1 L350.6 525.1 Z" fill="#fff" stroke="#262626" stroke-width="1.62" stroke-linejoin="round" />
<ellipse cx="355.2" cy="514.0" rx="2.60" ry="1.50" transform="rotate(60 355.2 514.0)" fill="none" stroke="#262626" stroke-width="1.68" />
<ellipse cx="356.0" cy="528.0" rx="2.60" ry="1.50" transform="rotate(60 356.0 528.0)" fill="none" stroke="#262626" stroke-width="1.68" />
<path d="M351.4 539.0 L351.6 536.5 L352.7 534.7 L354.4 534.1 L356.4 534.6 L358.5 536.3 L360.4 538.8 L361.7 541.7 L362.3 544.7 L363.1 558.7 L362.8 561.2 L361.7 563.0 L360.1 563.6 L358.0 563.1 L355.9 561.4 L354.0 558.9 L352.7 556.0 L352.1 553.0 Z" fill="#fff" stroke="#262626" stroke-width="1.62" stroke-linejoin="round" />
<ellipse cx="356.8" cy="541.9" rx="2.60" ry="1.50" transform="rotate(60 356.8 541.9)" fill="none" stroke="#262626" stroke-width="1.68" />
<ellipse cx="357.6" cy="555.8" rx="2.60" ry="1.50" transform="rotate(60 357.6 555.8)" fill="none" stroke="#262626" stroke-width="1.68" />
<path d="M352.9 566.9 L353.1 564.3 L354.2 562.6 L355.9 561.9 L358.0 562.5 L360.1 564.1 L361.9 566.6 L363.3 569.6 L363.8 572.6 L364.6 586.5 L364.3 589.1 L363.3 590.8 L361.6 591.5 L359.5 590.9 L357.4 589.3 L355.5 586.8 L354.2 583.8 L353.6 580.8 Z" fill="#fff" stroke="#262626" stroke-width="1.62" stroke-linejoin="round" />
<ellipse cx="358.3" cy="569.7" rx="2.60" ry="1.50" transform="rotate(60 358.3 569.7)" fill="none" stroke="#262626" stroke-width="1.68" />
<ellipse cx="359.1" cy="583.7" rx="2.60" ry="1.50" transform="rotate(60 359.1 583.7)" fill="none" stroke="#262626" stroke-width="1.68" />
<path d="M354.4 594.8 L354.7 592.2 L355.7 590.5 L357.4 589.8 L359.5 590.3 L361.6 592.0 L363.5 594.5 L364.8 597.4 L365.3 600.4 L366.1 614.4 L365.8 616.9 L364.8 618.7 L363.1 619.3 L361.0 618.8 L358.9 617.1 L357.0 614.6 L355.7 611.7 L355.2 608.7 Z" fill="#fff" stroke="#262626" stroke-width="1.62" stroke-linejoin="round" />
<ellipse cx="359.9" cy="597.6" rx="2.60" ry="1.50" transform="rotate(60 359.9 597.6)" fill="none" stroke="#262626" stroke-width="1.68" />
<ellipse cx="360.6" cy="611.5" rx="2.60" ry="1.50" transform="rotate(60 360.6 611.5)" fill="none" stroke="#262626" stroke-width="1.68" />
<path d="M355.9 622.6 L356.2 620.0 L357.2 618.3 L358.9 617.7 L361.0 618.2 L363.1 619.8 L365.0 622.3 L366.3 625.3 L366.9 628.3 L367.6 642.2 L367.3 644.8 L366.3 646.5 L364.6 647.2 L362.5 646.6 L360.4 645.0 L358.5 642.5 L357.2 639.5 L356.7 636.5 Z" fill="#fff" stroke="#262626" stroke-width="1.62" stroke-linejoin="round" />
<ellipse cx="361.4" cy="625.5" rx="2.60" ry="1.50" transform="rotate(60 361.4 625.5)" fill="none" stroke="#262626" stroke-width="1.68" />
<ellipse cx="362.1" cy="639.4" rx="2.60" ry="1.50" transform="rotate(60 362.1 639.4)" fill="none" stroke="#262626" stroke-width="1.68" />
<path d="M357.4 650.5 L357.7 647.9 L358.7 646.2 L360.4 645.5 L362.5 646.1 L364.6 647.7 L366.5 650.2 L367.8 653.2 L368.4 656.2 L369.1 670.1 L368.8 672.7 L367.8 674.4 L366.1 675.0 L364.0 674.5 L361.9 672.9 L360.0 670.4 L358.7 667.4 L358.2 664.4 Z" fill="#fff" stroke="#262626" stroke-width="1.62" stroke-linejoin="round" />
<ellipse cx="362.9" cy="653.3" rx="2.60" ry="1.50" transform="rotate(60 362.9 653.3)" fill="none" stroke="#262626" stroke-width="1.68" />
<ellipse cx="363.6" cy="667.2" rx="2.60" ry="1.50" transform="rotate(60 363.6 667.2)" fill="none" stroke="#262626" stroke-width="1.68" />
<path d="M358.9 678.3 L359.2 675.8 L360.2 674.0 L361.9 673.4 L364.0 673.9 L366.1 675.6 L368.0 678.1 L369.3 681.0 L369.9 684.0 L370.6 697.9 L370.4 700.5 L369.3 702.2 L367.6 702.9 L365.6 702.4 L363.4 700.7 L361.6 698.2 L360.3 695.3 L359.7 692.3 Z" fill="#fff" stroke="#262626" stroke-width="1.62" stroke-linejoin="round" />
<ellipse cx="364.4" cy="681.2" rx="2.60" ry="1.50" transform="rotate(60 364.4 681.2)" fill="none" stroke="#262626" stroke-width="1.68" />
<ellipse cx="365.2" cy="695.1" rx="2.60" ry="1.50" transform="rotate(60 365.2 695.1)" fill="none" stroke="#262626" stroke-width="1.68" />
<path d="M360.5 706.5 L360.6 703.8 L361.6 702.0 L363.2 701.2 L365.2 701.6 L367.4 703.2 L369.3 705.6 L370.7 708.6 L371.4 711.6 L372.8 725.5 L372.6 728.1 L371.7 730.0 L370.1 730.7 L368.0 730.3 L365.9 728.8 L364.0 726.3 L362.5 723.4 L361.9 720.3 Z" fill="#fff" stroke="#262626" stroke-width="1.62" stroke-linejoin="round" />
<ellipse cx="366.0" cy="709.0" rx="2.60" ry="1.50" transform="rotate(60 366.0 709.0)" fill="none" stroke="#262626" stroke-width="1.68" />
<ellipse cx="367.3" cy="722.9" rx="2.60" ry="1.50" transform="rotate(60 367.3 722.9)" fill="none" stroke="#262626" stroke-width="1.68" />
<path d="M362.3 731.5 L363.8 730.1 L365.8 729.7 L368.1 730.3 L370.2 732.0 L371.9 734.3 L372.9 737.0 L373.0 739.6 L372.2 741.8 L364.8 753.5 L363.3 754.9 L361.3 755.3 L359.0 754.7 L356.9 753.0 L355.2 750.7 L354.2 748.0 L354.1 745.4 L354.9 743.2 Z" fill="#fff" stroke="#262626" stroke-width="1.62" stroke-linejoin="round" />
<ellipse cx="367.3" cy="736.6" rx="2.60" ry="1.50" transform="rotate(60 367.3 736.6)" fill="none" stroke="#262626" stroke-width="1.68" />
<ellipse cx="359.8" cy="748.4" rx="2.60" ry="1.50" transform="rotate(60 359.8 748.4)" fill="none" stroke="#262626" stroke-width="1.68" />
<path d="M346.2 748.1 L348.9 749.3 L351.4 751.3 L353.3 753.7 L354.4 756.2 L354.5 758.4 L353.5 760.0 L351.6 760.7 L349.2 760.4 L335.9 756.5 L333.2 755.3 L330.7 753.3 L328.7 750.9 L327.7 748.4 L327.6 746.2 L328.6 744.6 L330.4 743.9 L332.9 744.2 Z" fill="#fff" stroke="#262626" stroke-width="1.62" stroke-linejoin="round" />
<ellipse cx="347.7" cy="754.2" rx="2.60" ry="1.50" transform="rotate(60 347.7 754.2)" fill="none" stroke="#262626" stroke-width="1.68" />
<ellipse cx="334.4" cy="750.3" rx="2.60" ry="1.50" transform="rotate(60 334.4 750.3)" fill="none" stroke="#262626" stroke-width="1.68" />
<path d="M325.6 738.5 L327.8 741.4 L329.3 744.3 L329.9 747.0 L329.5 748.8 L328.1 749.7 L325.9 749.4 L323.4 748.0 L320.8 745.7 L311.3 735.5 L309.0 732.6 L307.5 729.7 L306.9 727.1 L307.4 725.2 L308.8 724.4 L310.9 724.7 L313.5 726.1 L316.1 728.4 Z" fill="#fff" stroke="#262626" stroke-width="1.62" stroke-linejoin="round" />
<ellipse cx="323.2" cy="742.1" rx="2.60" ry="1.50" transform="rotate(60 323.2 742.1)" fill="none" stroke="#262626" stroke-width="1.68" />
<ellipse cx="313.7" cy="731.9" rx="2.60" ry="1.50" transform="rotate(60 313.7 731.9)" fill="none" stroke="#262626" stroke-width="1.68" />
<path d="M310.6 720.1 L311.6 723.2 L311.8 725.9 L311.1 727.8 L309.6 728.5 L307.6 727.9 L305.3 726.2 L303.0 723.7 L301.3 720.6 L295.5 707.9 L294.4 704.8 L294.2 702.1 L294.9 700.3 L296.4 699.5 L298.5 700.1 L300.8 701.8 L303.0 704.4 L304.8 707.4 Z" fill="#fff" stroke="#262626" stroke-width="1.62" stroke-linejoin="round" />
<ellipse cx="305.9" cy="720.3" rx="2.60" ry="1.50" transform="rotate(60 305.9 720.3)" fill="none" stroke="#262626" stroke-width="1.68" />
<ellipse cx="300.1" cy="707.7" rx="2.60" ry="1.50" transform="rotate(60 300.1 707.7)" fill="none" stroke="#262626" stroke-width="1.68" />
<path d="M298.4 432.8 L333.0 412.8 A11.50 6.64 60 0 1 344.5 432.7 L309.9 452.7 Z" fill="#fff" stroke="#262626" stroke-width="1.12" stroke-linejoin="round" />
<ellipse cx="304.2" cy="442.8" rx="11.50" ry="6.64" transform="rotate(60 304.2 442.8)" fill="#fff" stroke="#262626" stroke-width="1.12" />
<path d="M300.1 432.3L334.8 412.3M301.5 432.3L336.1 412.3M303.0 432.8L337.6 412.8M304.5 433.6L339.1 413.6M306.0 434.7L340.6 414.7M307.4 436.0L342.1 416.0M308.7 437.6L343.4 417.6M309.9 439.4L344.5 419.4M310.9 441.3L345.5 421.3M311.6 443.3L346.2 423.3M312.1 445.2L346.7 425.2M312.3 447.1L346.9 427.1M312.2 448.8L346.8 428.8M311.8 450.2L346.5 430.2M311.2 451.5L345.9 431.5" fill="none" stroke="#262626" stroke-width="1.46" stroke-linejoin="round" />
<path d="M288.4 438.5 L298.4 432.8 A11.50 6.64 60 0 1 309.9 452.7 L299.9 458.5 Z" fill="#fff" stroke="#262626" stroke-width="1.12" stroke-linejoin="round" />
<ellipse cx="294.2" cy="448.5" rx="11.50" ry="6.64" transform="rotate(60 294.2 448.5)" fill="#fff" stroke="#262626" stroke-width="1.12" />
<path d="M340.7 429.5 L340.4 426.6 L340.9 424.4 L342.2 423.1 L344.0 423.1 L346.2 424.3 L348.3 426.5 L350.1 429.4 L351.3 432.5 L354.6 446.0 L355.0 448.9 L354.5 451.2 L353.2 452.4 L351.3 452.4 L349.2 451.3 L347.0 449.1 L345.3 446.2 L344.1 443.0 Z" fill="#fff" stroke="#262626" stroke-width="1.62" stroke-linejoin="round" />
<ellipse cx="346.0" cy="431.0" rx="2.60" ry="1.50" transform="rotate(60 346.0 431.0)" fill="none" stroke="#262626" stroke-width="1.68" />
<ellipse cx="349.4" cy="444.5" rx="2.60" ry="1.50" transform="rotate(60 349.4 444.5)" fill="none" stroke="#262626" stroke-width="1.68" />
<path d="M355.0 403.3 L368.0 395.8 A8.00 4.62 60 0 1 376.0 409.6 L363.0 417.1 Z" fill="#fff" stroke="#262626" stroke-width="1.12" stroke-linejoin="round" />
<ellipse cx="359.0" cy="410.2" rx="8.00" ry="4.62" transform="rotate(60 359.0 410.2)" fill="#fff" stroke="#262626" stroke-width="1.12" />
<path d="M284.8 698.4 L293.4 693.4 A30.50 17.60 60 0 1 323.9 746.3 L315.2 751.3 Z" fill="#fff" stroke="#262626" stroke-width="1.12" stroke-linejoin="round" />
<ellipse cx="300.0" cy="724.9" rx="30.50" ry="17.60" transform="rotate(60 300.0 724.9)" fill="#fff" stroke="#262626" stroke-width="1.12" />
<ellipse cx="300.0" cy="724.9" rx="26.50" ry="15.29" transform="rotate(60 300.0 724.9)" fill="none" stroke="#262626" stroke-width="1.01" />
<ellipse cx="300.0" cy="724.9" rx="22.00" ry="12.69" transform="rotate(60 300.0 724.9)" fill="none" stroke="#262626" stroke-width="1.57" />
<ellipse cx="300.0" cy="724.9" rx="19.00" ry="10.96" transform="rotate(60 300.0 724.9)" fill="none" stroke="#262626" stroke-width="1.01" />
<ellipse cx="300.0" cy="724.9" rx="15.00" ry="8.65" transform="rotate(60 300.0 724.9)" fill="none" stroke="#262626" stroke-width="1.79" />
<ellipse cx="300.0" cy="724.9" rx="12.50" ry="7.21" transform="rotate(60 300.0 724.9)" fill="none" stroke="#262626" stroke-width="1.01" />
<path d="M309.0 733.3 L308.2 733.9 L307.3 734.4 L306.2 734.6 L305.1 734.6 L304.0 734.3 L302.7 733.8 L301.5 733.1 L300.3 732.3 L299.1 731.2 L298.0 729.9 L296.9 728.6 L296.0 727.1 L295.2 725.6 L294.5 724.0 L294.0 722.4 L293.7 720.8 L293.5 719.3 L293.5 717.9 L293.7 716.6 L294.1 715.5 L294.7 714.5 L295.3 713.7 L296.2 713.2 L297.1 712.8" fill="none" stroke="#262626" stroke-width="0.90" stroke-linejoin="round" />
<line x1="226.0" y1="767.6" x2="300.0" y2="724.9" stroke="#444" stroke-width="0.90" stroke-dasharray="10 4"/>
<line x1="245.0" y1="768.1" x2="318.0" y2="726.0" stroke="#444" stroke-width="0.90" stroke-dasharray="10 4"/>
<path d="M256.0 762.4 L253.3 758.8 L250.8 755.1 L248.6 751.1 L246.7 746.9 L245.3 742.8 L244.2 738.6 L243.6 734.6 L243.5 730.8 L243.8 727.3 L244.5 724.1 L245.7 721.3 L247.2 719.0 L249.2 717.1 L251.5 715.8 L254.1 715.1 L256.9 715.0 L259.9 715.4 L263.1 716.4 L266.3 718.0 L269.5 720.0 L272.7 722.6 L275.7 725.6 L278.6 729.0 L281.2 732.7 L283.5 736.6 L285.5 740.7 L287.2 744.8 L288.4 749.0 L289.2 753.0 L289.5 757.0 L289.4 760.6 L288.9 764.0 L287.9 766.9 L286.5 769.5 L284.7 771.5 L282.5 773.1 L280.1 774.0 L277.3 774.4 L274.4 774.3 L271.3 773.5" fill="none" stroke="#262626" stroke-width="1.12" stroke-linejoin="round" />
<path d="M257.3 761.6 L254.6 758.1 L252.1 754.3 L249.9 750.3 L248.0 746.2 L246.6 742.0 L245.5 737.9 L244.9 733.9 L244.8 730.1 L245.1 726.5 L245.8 723.3 L247.0 720.5 L248.5 718.2 L250.5 716.4 L252.8 715.1 L255.4 714.4 L258.2 714.2 L261.2 714.6 L264.4 715.6 L267.6 717.2 L270.8 719.3 L274.0 721.9 L277.0 724.9 L279.9 728.2 L282.5 731.9 L284.8 735.8 L286.8 739.9 L288.5 744.1 L289.7 748.2 L290.5 752.3 L290.8 756.2 L290.7 759.9 L290.2 763.2 L289.2 766.2 L287.8 768.7 L286.0 770.8 L283.8 772.3 L281.4 773.3 L278.6 773.7 L275.7 773.5 L272.6 772.7" fill="none" stroke="#262626" stroke-width="1.12" stroke-linejoin="round" />
<path d="M256.9 761.0 L254.3 757.7 L252.0 754.2 L250.0 750.6 L248.3 746.8 L247.0 742.9 L246.0 739.1 L245.4 735.4 L245.3 731.9 L245.6 728.7 L246.2 725.7 L247.3 723.2 L248.8 721.0 L250.6 719.3 L252.7 718.1 L255.1 717.5 L257.7 717.3 L260.4 717.7 L263.3 718.7 L266.3 720.1 L269.3 722.0 L272.2 724.4 L275.0 727.1 L277.6 730.2 L280.0 733.6 L282.2 737.2 L284.0 741.0 L285.5 744.8 L286.6 748.6 L287.4 752.4 L287.7 756.0 L287.6 759.3 L287.1 762.4 L286.2 765.2 L284.9 767.5 L283.2 769.4 L281.3 770.8 L279.0 771.7 L276.5 772.1 L273.8 771.9 L270.9 771.2" fill="none" stroke="#262626" stroke-width="1.12" stroke-linejoin="round" />
<ellipse cx="257.0" cy="760.8" rx="2.40" ry="1.38" transform="rotate(60 257.0 760.8)" fill="#fff" stroke="#262626" stroke-width="1.12" />
<ellipse cx="257.0" cy="760.8" rx="0.90" ry="0.52" transform="rotate(60 257.0 760.8)" fill="none" stroke="#262626" stroke-width="1.12" />
<ellipse cx="270.9" cy="771.0" rx="2.40" ry="1.38" transform="rotate(60 270.9 771.0)" fill="#fff" stroke="#262626" stroke-width="1.12" />
<ellipse cx="270.9" cy="771.0" rx="0.90" ry="0.52" transform="rotate(60 270.9 771.0)" fill="none" stroke="#262626" stroke-width="1.12" />
<path d="M214.6 738.6 L219.8 735.6 A30.80 17.77 60 0 1 250.6 788.9 L245.4 791.9 Z" fill="#fff" stroke="#262626" stroke-width="1.12" stroke-linejoin="round" />
<ellipse cx="230.0" cy="765.3" rx="30.80" ry="17.77" transform="rotate(60 230.0 765.3)" fill="#fff" stroke="#262626" stroke-width="1.12" />
<ellipse cx="230.0" cy="765.3" rx="28.50" ry="16.44" transform="rotate(60 230.0 765.3)" fill="none" stroke="#262626" stroke-width="0.90" />
<ellipse cx="230.0" cy="765.3" rx="18.00" ry="10.39" transform="rotate(60 230.0 765.3)" fill="none" stroke="#262626" stroke-width="1.01" />
<ellipse cx="230.0" cy="765.3" rx="15.30" ry="8.83" transform="rotate(60 230.0 765.3)" fill="none" stroke="#262626" stroke-width="2.24" />
<path d="M243.9 772.5 L243.3 774.2 L242.4 775.6 L241.2 776.5 L239.7 777.1 L238.1 777.2 L236.3 777.0 L234.4 776.3 L232.6 775.2 L230.7 773.7 L228.9 771.9 L227.3 769.9 L225.9 767.7 L224.6 765.3 L223.7 762.9 L223.1 760.5 L222.7 758.1 L222.7 756.0 L223.1 754.0 L223.7 752.3 L224.6 751.0 L225.8 750.0 L227.3 749.5 L228.9 749.3 L230.7 749.6" fill="none" stroke="#262626" stroke-width="1.01" stroke-linejoin="round" />
<line x1="196.0" y1="784.9" x2="226.0" y2="767.6" stroke="#444" stroke-width="0.90" stroke-dasharray="10 4"/>
<line x1="215.0" y1="785.4" x2="250.0" y2="765.2" stroke="#444" stroke-width="0.90" stroke-dasharray="10 4"/>
<path d="M175.5 760.9 L179.8 758.4 A31.00 17.89 60 0 1 210.8 812.1 L206.5 814.6 Z" fill="#fff" stroke="#262626" stroke-width="1.12" stroke-linejoin="round" />
<ellipse cx="191.0" cy="787.8" rx="31.00" ry="17.89" transform="rotate(60 191.0 787.8)" fill="#fff" stroke="#262626" stroke-width="1.12" />
<ellipse cx="191.0" cy="787.8" rx="28.50" ry="16.44" transform="rotate(60 191.0 787.8)" fill="none" stroke="#262626" stroke-width="0.90" />
<ellipse cx="191.0" cy="787.8" rx="17.50" ry="10.10" transform="rotate(60 191.0 787.8)" fill="none" stroke="#262626" stroke-width="1.01" />
<ellipse cx="191.0" cy="787.8" rx="14.50" ry="8.37" transform="rotate(60 191.0 787.8)" fill="none" stroke="#262626" stroke-width="2.24" />
<path d="M204.4 794.6 L203.8 796.2 L202.9 797.4 L201.8 798.3 L200.4 798.9 L198.8 799.0 L197.2 798.8 L195.4 798.1 L193.6 797.1 L191.9 795.7 L190.2 794.0 L188.6 792.1 L187.3 790.0 L186.1 787.7 L185.2 785.4 L184.6 783.1 L184.3 780.9 L184.3 778.9 L184.6 777.0 L185.2 775.4 L186.1 774.1 L187.2 773.2 L188.6 772.7 L190.2 772.6 L191.8 772.8" fill="none" stroke="#262626" stroke-width="1.01" stroke-linejoin="round" />
<line x1="152.0" y1="810.3" x2="186.0" y2="790.7" stroke="#444" stroke-width="0.90" stroke-dasharray="10 4"/>
<line x1="176.0" y1="808.0" x2="200.0" y2="794.1" stroke="#444" stroke-width="0.90" stroke-dasharray="10 4"/>
<path d="M117.8 777.1 L118.2 776.1 L118.7 774.9 L119.3 773.7 L119.9 772.5 L120.7 771.5 L121.6 770.9 L122.6 770.4 L123.8 770.2 L125.1 770.1 L126.5 770.2 L127.8 770.4 L129.1 770.9 L130.3 771.6 L131.3 772.7 L132.4 773.9 L133.5 775.2 L134.9 776.3 L136.6 777.1 L138.7 777.5 L141.1 777.6 L143.8 777.6 L146.5 777.6 L149.2 777.8 L151.6 778.4 L153.9 779.3 L156.0 780.6 L158.2 782.0 L160.2 783.6 L162.2 785.3 L164.1 787.1 L165.9 789.1 L167.7 791.4 L169.4 793.7 L171.0 796.0 L172.6 798.1 L174.1 799.6 L175.5 800.5 L176.9 801.0 L178.2 801.2 L179.4 801.3 L180.5 801.5 L181.6 802.1 L182.7 803.0 L183.8 804.0 L184.9 805.2 L185.8 806.5 L186.4 808.0 L186.6 809.6 L186.3 811.5 L185.5 813.6 L184.5 815.9 L183.4 818.1 L182.3 820.2 L181.6 822.1 L181.3 823.6 L181.2 824.9 L181.2 826.0 L181.2 827.1 L180.9 828.3 L180.3 829.6 L179.3 831.2 L178.0 832.9 L176.5 834.8 L174.9 836.5 L173.2 838.2 L171.6 839.6 L169.9 840.7 L168.1 841.5 L166.2 842.3 L164.4 842.9 L162.8 843.7 L161.6 844.6 L160.8 845.8 L160.4 847.1 L160.2 848.5 L160.0 849.9 L159.7 851.1 L159.1 852.1 L158.1 852.9 L156.9 853.7 L155.6 854.3 L154.2 854.7 L152.8 854.8 L151.6 854.6 L150.5 854.0 L149.5 853.1 L148.5 851.9 L147.5 850.5 L146.4 848.9 L145.3 847.1 L144.2 845.1 L143.0 842.8 L141.8 840.4 L140.5 837.7 L139.2 835.0 L137.8 832.1 L136.4 829.1 L134.9 825.8 L133.3 822.4 L131.8 819.0 L130.4 815.5 L129.1 812.1 L128.1 808.7 L127.2 805.1 L126.4 801.5 L125.7 798.0 L125.0 794.9 L124.1 792.1 L123.1 789.8 L121.9 787.8 L120.7 786.2 L119.5 784.7 L118.5 783.4 L117.8 782.1 L117.4 781.0 L117.2 780.1 L117.2 779.4 L117.3 778.7 L117.6 777.9 Z" fill="#fff" stroke="#262626" stroke-width="1.12" stroke-linejoin="round" />
<path d="M116.2 778.0 L116.6 777.0 L117.1 775.8 L117.7 774.6 L118.3 773.4 L119.1 772.4 L120.0 771.8 L121.0 771.3 L122.2 771.1 L123.5 771.0 L124.9 771.1 L126.2 771.3 L127.5 771.8 L128.7 772.5 L129.7 773.6 L130.8 774.8 L131.9 776.1 L133.3 777.2 L135.0 778.0 L137.1 778.4 L139.5 778.5 L142.2 778.5 L144.9 778.5 L147.6 778.7 L150.0 779.2 L152.3 780.2 L154.4 781.5 L156.6 782.9 L158.6 784.5 L160.6 786.2 L162.5 788.0 L164.3 790.0 L166.1 792.3 L167.8 794.6 L169.4 796.9 L171.0 799.0 L172.5 800.5 L173.9 801.4 L175.3 801.9 L176.6 802.1 L177.8 802.2 L178.9 802.4 L180.0 803.0 L181.1 803.9 L182.2 804.9 L183.3 806.1 L184.2 807.4 L184.8 808.9 L185.0 810.5 L184.7 812.4 L183.9 814.5 L182.9 816.8 L181.8 819.0 L180.7 821.1 L180.0 823.0 L179.7 824.5 L179.6 825.8 L179.6 826.9 L179.6 828.0 L179.3 829.2 L178.8 830.5 L177.7 832.1 L176.4 833.8 L174.9 835.7 L173.3 837.4 L171.6 839.1 L170.0 840.5 L168.3 841.6 L166.5 842.4 L164.6 843.2 L162.8 843.8 L161.2 844.6 L160.0 845.5 L159.2 846.7 L158.8 848.0 L158.6 849.4 L158.4 850.8 L158.1 852.0 L157.5 853.0 L156.5 853.8 L155.3 854.6 L154.0 855.2 L152.6 855.6 L151.2 855.7 L150.0 855.5 L148.9 854.9 L147.9 854.0 L146.9 852.8 L145.9 851.4 L144.8 849.8 L143.8 848.0 L142.6 846.0 L141.4 843.7 L140.2 841.3 L138.9 838.6 L137.6 835.9 L136.2 833.0 L134.8 830.0 L133.3 826.7 L131.7 823.3 L130.2 819.9 L128.8 816.4 L127.5 813.0 L126.5 809.6 L125.6 806.0 L124.8 802.4 L124.1 798.9 L123.4 795.8 L122.5 793.0 L121.5 790.7 L120.3 788.7 L119.1 787.1 L117.9 785.6 L116.9 784.3 L116.2 783.0 L115.8 781.9 L115.6 781.0 L115.6 780.3 L115.7 779.6 L116.0 778.8 Z" fill="#fff" stroke="#262626" stroke-width="1.12" stroke-linejoin="round" />
<ellipse cx="149.5" cy="811.8" rx="15.00" ry="8.65" transform="rotate(60 149.5 811.8)" fill="none" stroke="#262626" stroke-width="1.23" />
<path d="M161.5 819.8 L160.9 821.4 L160.0 822.7 L158.8 823.7 L157.4 824.2 L155.8 824.4 L154.0 824.1 L152.2 823.4 L150.4 822.4 L148.6 820.9 L146.8 819.2 L145.2 817.2 L143.8 815.0 L142.6 812.7 L141.7 810.3 L141.1 808.0 L140.7 805.7 L140.7 803.5 L141.1 801.6 L141.7 800.0 L142.6 798.7 L143.8 797.7 L145.2 797.2 L146.8 797.0 L148.6 797.3" fill="none" stroke="#262626" stroke-width="1.01" stroke-linejoin="round" />
<ellipse cx="123.8" cy="780.5" rx="5.60" ry="3.23" transform="rotate(60 123.8 780.5)" fill="none" stroke="#262626" stroke-width="1.12" />
<ellipse cx="124.5" cy="780.0" rx="3.90" ry="2.25" transform="rotate(60 124.5 780.0)" fill="none" stroke="#262626" stroke-width="1.01" />
<ellipse cx="173.8" cy="809.2" rx="5.60" ry="3.23" transform="rotate(60 173.8 809.2)" fill="none" stroke="#262626" stroke-width="1.12" />
<ellipse cx="174.6" cy="808.8" rx="3.90" ry="2.25" transform="rotate(60 174.6 808.8)" fill="none" stroke="#262626" stroke-width="1.01" />
<ellipse cx="150.0" cy="844.2" rx="5.60" ry="3.23" transform="rotate(60 150.0 844.2)" fill="none" stroke="#262626" stroke-width="1.12" />
<ellipse cx="150.8" cy="843.8" rx="3.90" ry="2.25" transform="rotate(60 150.8 843.8)" fill="none" stroke="#262626" stroke-width="1.01" />
<line x1="84.0" y1="803.5" x2="118.0" y2="783.8" stroke="#444" stroke-width="0.90" stroke-dasharray="10 4"/>
<line x1="134.0" y1="832.2" x2="166.0" y2="813.7" stroke="#444" stroke-width="0.90" stroke-dasharray="10 4"/>
<line x1="110.0" y1="867.3" x2="144.0" y2="847.7" stroke="#444" stroke-width="0.90" stroke-dasharray="10 4"/>
<path d="M74.7 803.8 L82.9 799.1 A4.80 2.77 60 0 1 87.7 807.4 L79.5 812.2 Z" fill="#fff" stroke="#262626" stroke-width="1.12" stroke-linejoin="round" />
<ellipse cx="77.1" cy="808.0" rx="4.80" ry="2.77" transform="rotate(60 77.1 808.0)" fill="#fff" stroke="#262626" stroke-width="1.12" />
<path d="M65.1 805.2 L73.3 800.5 A8.40 4.85 60 0 1 81.7 815.0 L73.5 819.8 Z" fill="#fff" stroke="#262626" stroke-width="1.12" stroke-linejoin="round" />
<ellipse cx="69.3" cy="812.5" rx="8.40" ry="4.85" transform="rotate(60 69.3 812.5)" fill="#fff" stroke="#262626" stroke-width="1.12" />
<ellipse cx="69.3" cy="812.5" rx="7.00" ry="4.04" transform="rotate(60 69.3 812.5)" fill="none" stroke="#262626" stroke-width="0.78" />
<ellipse cx="69.3" cy="812.5" rx="4.40" ry="2.54" transform="rotate(60 69.3 812.5)" fill="none" stroke="#262626" stroke-width="1.01" />
<ellipse cx="69.3" cy="812.5" rx="2.40" ry="1.38" transform="rotate(60 69.3 812.5)" fill="none" stroke="#262626" stroke-width="1.01" />
<path d="M125.1 833.1 L133.3 828.4 A4.80 2.77 60 0 1 138.1 836.7 L129.9 841.5 Z" fill="#fff" stroke="#262626" stroke-width="1.12" stroke-linejoin="round" />
<ellipse cx="127.5" cy="837.3" rx="4.80" ry="2.77" transform="rotate(60 127.5 837.3)" fill="#fff" stroke="#262626" stroke-width="1.12" />
<path d="M115.5 834.5 L123.7 829.8 A8.40 4.85 60 0 1 132.1 844.3 L123.9 849.1 Z" fill="#fff" stroke="#262626" stroke-width="1.12" stroke-linejoin="round" />
<ellipse cx="119.7" cy="841.8" rx="8.40" ry="4.85" transform="rotate(60 119.7 841.8)" fill="#fff" stroke="#262626" stroke-width="1.12" />
<ellipse cx="119.7" cy="841.8" rx="7.00" ry="4.04" transform="rotate(60 119.7 841.8)" fill="none" stroke="#262626" stroke-width="0.78" />
<ellipse cx="119.7" cy="841.8" rx="4.40" ry="2.54" transform="rotate(60 119.7 841.8)" fill="none" stroke="#262626" stroke-width="1.01" />
<ellipse cx="119.7" cy="841.8" rx="2.40" ry="1.38" transform="rotate(60 119.7 841.8)" fill="none" stroke="#262626" stroke-width="1.01" />
<path d="M99.9 868.3 L108.1 863.6 A4.80 2.77 60 0 1 112.9 871.9 L104.7 876.7 Z" fill="#fff" stroke="#262626" stroke-width="1.12" stroke-linejoin="round" />
<ellipse cx="102.3" cy="872.5" rx="4.80" ry="2.77" transform="rotate(60 102.3 872.5)" fill="#fff" stroke="#262626" stroke-width="1.12" />
<path d="M90.3 869.7 L98.5 865.0 A8.40 4.85 60 0 1 106.9 879.5 L98.7 884.3 Z" fill="#fff" stroke="#262626" stroke-width="1.12" stroke-linejoin="round" />
<ellipse cx="94.5" cy="877.0" rx="8.40" ry="4.85" transform="rotate(60 94.5 877.0)" fill="#fff" stroke="#262626" stroke-width="1.12" />
<ellipse cx="94.5" cy="877.0" rx="7.00" ry="4.04" transform="rotate(60 94.5 877.0)" fill="none" stroke="#262626" stroke-width="0.78" />
<ellipse cx="94.5" cy="877.0" rx="4.40" ry="2.54" transform="rotate(60 94.5 877.0)" fill="none" stroke="#262626" stroke-width="1.01" />
<ellipse cx="94.5" cy="877.0" rx="2.40" ry="1.38" transform="rotate(60 94.5 877.0)" fill="none" stroke="#262626" stroke-width="1.01" />
<path d="M705.4 83.7 L708.4 82.0 A9.30 5.37 60 0 1 717.7 98.1 L714.6 99.9 Z" fill="#fff" stroke="#262626" stroke-width="1.12" stroke-linejoin="round" />
<ellipse cx="710.0" cy="91.8" rx="9.30" ry="5.37" transform="rotate(60 710.0 91.8)" fill="#fff" stroke="#262626" stroke-width="1.12" />
<ellipse cx="710.0" cy="91.8" rx="7.00" ry="4.04" transform="rotate(60 710.0 91.8)" fill="none" stroke="#262626" stroke-width="1.12" />
<path d="M716.9 95.4 L716.5 96.0 L716.0 96.4 L715.4 96.7 L714.8 96.8 L714.1 96.7 L713.3 96.5 L712.5 96.2 L711.7 95.6 L710.9 95.0 L710.2 94.2 L709.5 93.4 L708.9 92.4 L708.4 91.4 L708.0 90.4 L707.7 89.4 L707.5 88.4 L707.5 87.5 L707.6 86.6 L707.8 85.8 L708.1 85.2 L708.5 84.7 L709.0 84.3 L709.6 84.1 L710.3 84.0" fill="none" stroke="#262626" stroke-width="0.90" stroke-linejoin="round" />
<path d="M591.3 33.6 Q587.0 31.1 582.7 33.7 L518.8 71.5 Q514.5 74.1 518.8 76.6 L639.7 146.6 Q644.0 149.1 648.3 146.5 L712.7 108.2 Q717.0 105.6 712.7 103.1 Z" fill="#fff" stroke="#262626" stroke-width="1.01" stroke-linejoin="round" />
<path d="M591.3 32.0 Q587.0 29.5 582.7 32.1 L518.8 69.9 Q514.5 72.5 518.8 75.0 L639.7 145.0 Q644.0 147.5 648.3 144.9 L712.7 106.6 Q717.0 104.0 712.7 101.5 Z" fill="#fff" stroke="#262626" stroke-width="1.23" stroke-linejoin="round" />
<path d="M589.6 42.8 Q587.0 41.3 584.4 42.8 L539.6 68.5 Q537.0 70.0 539.6 71.5 L641.9 129.8 Q644.5 131.3 647.1 129.8 L691.9 104.0 Q694.5 102.5 691.9 101.0 Z" fill="#fff" stroke="#262626" stroke-width="1.12" stroke-linejoin="round" />
<path d="M589.6 45.0 Q587.0 43.5 584.4 45.0 L542.1 68.5 Q539.5 70.0 542.1 71.5 L641.9 128.0 Q644.5 129.5 647.1 128.0 L689.4 104.0 Q692.0 102.5 689.4 101.0 Z" fill="none" stroke="#262626" stroke-width="0.90" stroke-linejoin="round" />
<ellipse cx="587.0" cy="35.0" rx="3.50" ry="2.02" transform="rotate(0 587.0 35.0)" fill="none" stroke="#262626" stroke-width="1.12" />
<ellipse cx="524.5" cy="72.5" rx="3.50" ry="2.02" transform="rotate(0 524.5 72.5)" fill="none" stroke="#262626" stroke-width="1.12" />
<ellipse cx="642.0" cy="140.2" rx="3.50" ry="2.02" transform="rotate(0 642.0 140.2)" fill="none" stroke="#262626" stroke-width="1.12" />
<ellipse cx="705.0" cy="103.5" rx="3.50" ry="2.02" transform="rotate(0 705.0 103.5)" fill="none" stroke="#262626" stroke-width="1.12" />
<line x1="593.4" y1="59.0" x2="593.4" y2="75.0" stroke="#262626" stroke-width="0.90" />
<line x1="593.4" y1="94.0" x2="593.4" y2="150.0" stroke="#262626" stroke-width="0.90" />
<circle cx="593.3" cy="55.5" r="3.3" fill="#fff" stroke="#262626" stroke-width="1"/>
<ellipse cx="593.4" cy="76.0" rx="4.00" ry="1.40" transform="rotate(-8 593.4 76.0)" fill="none" stroke="#262626" stroke-width="1.34" />
<ellipse cx="593.4" cy="78.4" rx="4.00" ry="1.40" transform="rotate(-8 593.4 78.4)" fill="none" stroke="#262626" stroke-width="1.34" />
<ellipse cx="593.4" cy="80.8" rx="4.00" ry="1.40" transform="rotate(-8 593.4 80.8)" fill="none" stroke="#262626" stroke-width="1.34" />
<ellipse cx="593.4" cy="83.2" rx="4.00" ry="1.40" transform="rotate(-8 593.4 83.2)" fill="none" stroke="#262626" stroke-width="1.34" />
<ellipse cx="593.4" cy="85.6" rx="4.00" ry="1.40" transform="rotate(-8 593.4 85.6)" fill="none" stroke="#262626" stroke-width="1.34" />
<ellipse cx="593.4" cy="88.0" rx="4.00" ry="1.40" transform="rotate(-8 593.4 88.0)" fill="none" stroke="#262626" stroke-width="1.34" />
<ellipse cx="593.4" cy="90.4" rx="4.00" ry="1.40" transform="rotate(-8 593.4 90.4)" fill="none" stroke="#262626" stroke-width="1.34" />
<ellipse cx="593.4" cy="92.8" rx="4.00" ry="1.40" transform="rotate(-8 593.4 92.8)" fill="none" stroke="#262626" stroke-width="1.34" />
<line x1="678.0" y1="138.8" x2="749.0" y2="100.0" stroke="#444" stroke-width="0.90" stroke-dasharray="10 4"/>
<line x1="676.0" y1="157.5" x2="708.0" y2="140.0" stroke="#444" stroke-width="0.90" stroke-dasharray="10 4"/>
<line x1="768.0" y1="150.0" x2="721.0" y2="177.0" stroke="#444" stroke-width="0.90" stroke-dasharray="10 4"/>
<line x1="730.0" y1="197.5" x2="721.0" y2="202.7" stroke="#444" stroke-width="0.90" stroke-dasharray="10 4"/>
<line x1="758.0" y1="217.0" x2="722.0" y2="237.8" stroke="#444" stroke-width="0.90" stroke-dasharray="10 4"/>
<path d="M709.5 119.8 L715.6 116.3 A17.00 9.81 60 0 1 732.6 145.7 L726.5 149.2 Z" fill="#fff" stroke="#262626" stroke-width="1.12" stroke-linejoin="round" />
<ellipse cx="718.0" cy="134.5" rx="17.00" ry="9.81" transform="rotate(60 718.0 134.5)" fill="#fff" stroke="#262626" stroke-width="1.12" />
<ellipse cx="718.0" cy="134.5" rx="15.80" ry="9.12" transform="rotate(60 718.0 134.5)" fill="none" stroke="#262626" stroke-width="0.90" />
<ellipse cx="718.0" cy="134.5" rx="13.60" ry="7.85" transform="rotate(60 718.0 134.5)" fill="none" stroke="#262626" stroke-width="1.46" />
<path d="M731.9 140.7 L731.2 142.0 L730.3 143.0 L729.2 143.7 L727.9 144.1 L726.5 144.1 L724.9 143.7 L723.3 143.1 L721.7 142.1 L720.2 140.8 L718.7 139.3 L717.3 137.5 L716.1 135.6 L715.0 133.6 L714.2 131.5 L713.6 129.5 L713.3 127.5 L713.2 125.6 L713.5 123.9 L713.9 122.4 L714.7 121.1 L715.6 120.2 L716.8 119.6 L718.1 119.3 L719.6 119.4" fill="none" stroke="#262626" stroke-width="1.01" stroke-linejoin="round" />
<path d="M768.0 134.8 L774.1 131.3 A17.00 9.81 60 0 1 791.1 160.7 L785.0 164.2 Z" fill="#fff" stroke="#262626" stroke-width="1.12" stroke-linejoin="round" />
<ellipse cx="776.5" cy="149.5" rx="17.00" ry="9.81" transform="rotate(60 776.5 149.5)" fill="#fff" stroke="#262626" stroke-width="1.12" />
<ellipse cx="776.5" cy="149.5" rx="15.80" ry="9.12" transform="rotate(60 776.5 149.5)" fill="none" stroke="#262626" stroke-width="0.90" />
<ellipse cx="776.5" cy="149.5" rx="13.60" ry="7.85" transform="rotate(60 776.5 149.5)" fill="none" stroke="#262626" stroke-width="1.46" />
<path d="M790.4 155.7 L789.7 157.0 L788.8 158.0 L787.7 158.7 L786.4 159.1 L785.0 159.1 L783.4 158.7 L781.8 158.1 L780.2 157.1 L778.7 155.8 L777.2 154.3 L775.8 152.5 L774.6 150.6 L773.5 148.6 L772.7 146.5 L772.1 144.5 L771.8 142.5 L771.7 140.6 L772.0 138.9 L772.4 137.4 L773.2 136.1 L774.1 135.2 L775.3 134.6 L776.6 134.3 L778.1 134.4" fill="none" stroke="#262626" stroke-width="1.01" stroke-linejoin="round" />
<path d="M730.0 178.1 L736.1 174.6 A17.00 9.81 60 0 1 753.1 204.0 L747.0 207.5 Z" fill="#fff" stroke="#262626" stroke-width="1.12" stroke-linejoin="round" />
<ellipse cx="738.5" cy="192.8" rx="17.00" ry="9.81" transform="rotate(60 738.5 192.8)" fill="#fff" stroke="#262626" stroke-width="1.12" />
<ellipse cx="738.5" cy="192.8" rx="15.80" ry="9.12" transform="rotate(60 738.5 192.8)" fill="none" stroke="#262626" stroke-width="0.90" />
<ellipse cx="738.5" cy="192.8" rx="13.60" ry="7.85" transform="rotate(60 738.5 192.8)" fill="none" stroke="#262626" stroke-width="1.46" />
<path d="M752.4 199.0 L751.7 200.3 L750.8 201.3 L749.7 202.0 L748.4 202.4 L747.0 202.4 L745.4 202.0 L743.8 201.4 L742.2 200.4 L740.7 199.1 L739.2 197.6 L737.8 195.8 L736.6 193.9 L735.5 191.9 L734.7 189.8 L734.1 187.8 L733.8 185.8 L733.7 183.9 L734.0 182.2 L734.4 180.7 L735.2 179.4 L736.1 178.5 L737.3 177.9 L738.6 177.6 L740.1 177.7" fill="none" stroke="#262626" stroke-width="1.01" stroke-linejoin="round" />
<path d="M782 201 L797 195 L801 201.5 L788 209.5 Z" fill="#fff" stroke="#262626" stroke-width="1.12" stroke-linejoin="round" />
<line x1="788.0" y1="203.5" x2="796.0" y2="199.5" stroke="#262626" stroke-width="0.90" />
<path d="M770.5 195.6 L773.1 194.1 A12.00 6.92 60 0 1 785.1 214.9 L782.5 216.4 Z" fill="#fff" stroke="#262626" stroke-width="1.12" stroke-linejoin="round" />
<ellipse cx="776.5" cy="206.0" rx="12.00" ry="6.92" transform="rotate(60 776.5 206.0)" fill="#fff" stroke="#262626" stroke-width="1.12" />
<path d="M767.1 201.4 L772.3 198.4 A8.80 5.08 60 0 1 781.1 213.6 L775.9 216.6 Z" fill="#fff" stroke="#262626" stroke-width="1.12" stroke-linejoin="round" />
<ellipse cx="771.5" cy="209.0" rx="8.80" ry="5.08" transform="rotate(60 771.5 209.0)" fill="#fff" stroke="#262626" stroke-width="1.12" />
<path d="M761.0 205.0 L767.1 201.5 A9.00 5.19 60 0 1 776.1 217.1 L770.0 220.6 Z" fill="#fff" stroke="#262626" stroke-width="1.12" stroke-linejoin="round" />
<ellipse cx="765.5" cy="212.8" rx="9.00" ry="5.19" transform="rotate(60 765.5 212.8)" fill="#fff" stroke="#262626" stroke-width="1.12" />
<ellipse cx="765.5" cy="212.8" rx="6.60" ry="3.81" transform="rotate(60 765.5 212.8)" fill="none" stroke="#262626" stroke-width="1.46" />
<path d="M771.7 216.3 L771.4 216.9 L770.9 217.3 L770.3 217.5 L769.7 217.6 L769.0 217.6 L768.3 217.4 L767.6 217.0 L766.8 216.5 L766.1 215.9 L765.4 215.2 L764.8 214.4 L764.2 213.5 L763.7 212.6 L763.3 211.6 L763.1 210.6 L762.9 209.7 L762.8 208.8 L762.9 208.0 L763.1 207.3 L763.4 206.7 L763.8 206.2 L764.3 205.8 L764.9 205.6 L765.5 205.6" fill="none" stroke="#262626" stroke-width="0.90" stroke-linejoin="round" />
<line x1="520.0" y1="120.0" x2="550.0" y2="137.0" stroke="#444" stroke-width="0.90" stroke-dasharray="8 3"/>
<path d="M468.3 80.5 L462.2 77.0 A7.50 4.33 -60 0 0 454.8 90.0 L460.8 93.5 Z" fill="#fff" stroke="#262626" stroke-width="1.12" stroke-linejoin="round" />
<ellipse cx="464.6" cy="87.0" rx="7.50" ry="4.33" transform="rotate(-60 464.6 87.0)" fill="#fff" stroke="#262626" stroke-width="1.12" />
<path d="M482.6 91.7 L467.0 82.7 A5.00 2.88 -60 0 0 462.0 91.3 L477.6 100.3 Z" fill="#fff" stroke="#262626" stroke-width="1.12" stroke-linejoin="round" />
<ellipse cx="480.1" cy="96.0" rx="5.00" ry="2.88" transform="rotate(-60 480.1 96.0)" fill="#fff" stroke="#262626" stroke-width="1.12" />
<ellipse cx="480.1" cy="96.0" rx="3.40" ry="1.96" transform="rotate(-60 480.1 96.0)" fill="none" stroke="#262626" stroke-width="0.90" />
<path d="M455 79 L461 82.5 M454.5 88.5 L460 91.5" fill="none" stroke="#262626" stroke-width="0.90" stroke-linejoin="round" />
<path d="M496.7 95.9 L490.6 92.4 A8.20 4.73 -60 0 0 482.4 106.6 L488.5 110.1 Z" fill="#fff" stroke="#262626" stroke-width="1.12" stroke-linejoin="round" />
<ellipse cx="492.6" cy="103.0" rx="8.20" ry="4.73" transform="rotate(-60 492.6 103.0)" fill="#fff" stroke="#262626" stroke-width="1.12" />
<ellipse cx="492.6" cy="103.0" rx="4.60" ry="2.65" transform="rotate(-60 492.6 103.0)" fill="none" stroke="#262626" stroke-width="1.34" />
<path d="M485 92 L491 95.5 M483.5 105.5 L489.5 109" fill="none" stroke="#262626" stroke-width="0.90" stroke-linejoin="round" />
<ellipse cx="501.0" cy="107.6" rx="4.40" ry="1.76" transform="rotate(-60 501.0 107.6)" fill="none" stroke="#262626" stroke-width="1.46" />
<ellipse cx="503.2" cy="108.8" rx="4.40" ry="1.76" transform="rotate(-60 503.2 108.8)" fill="none" stroke="#262626" stroke-width="1.46" />
<ellipse cx="505.3" cy="110.1" rx="4.40" ry="1.76" transform="rotate(-60 505.3 110.1)" fill="none" stroke="#262626" stroke-width="1.46" />
<ellipse cx="507.5" cy="111.3" rx="4.40" ry="1.76" transform="rotate(-60 507.5 111.3)" fill="none" stroke="#262626" stroke-width="1.46" />
<ellipse cx="509.7" cy="112.6" rx="4.40" ry="1.76" transform="rotate(-60 509.7 112.6)" fill="none" stroke="#262626" stroke-width="1.46" />
<ellipse cx="511.8" cy="113.8" rx="4.40" ry="1.76" transform="rotate(-60 511.8 113.8)" fill="none" stroke="#262626" stroke-width="1.46" />
<ellipse cx="514.0" cy="115.1" rx="4.40" ry="1.76" transform="rotate(-60 514.0 115.1)" fill="none" stroke="#262626" stroke-width="1.46" />
<line x1="505.0" y1="110.0" x2="528.0" y2="123.5" stroke="#262626" stroke-width="0.78" />
<circle cx="534" cy="128" r="3.4" fill="#fff" stroke="#262626" stroke-width="1"/>
<line x1="684.0" y1="459.0" x2="812.0" y2="385.1" stroke="#444" stroke-width="0.90" stroke-dasharray="10 4"/>
<line x1="684.0" y1="515.4" x2="862.0" y2="412.6" stroke="#444" stroke-width="0.90" stroke-dasharray="10 4"/>
<line x1="684.0" y1="536.5" x2="836.0" y2="448.8" stroke="#444" stroke-width="0.90" stroke-dasharray="10 4"/>
<line x1="684.0" y1="501.5" x2="782.0" y2="445.0" stroke="#444" stroke-width="0.90" stroke-dasharray="10 4"/>
<path d="M736.6 442.6 L741.0 440.1 A25.30 14.60 60 0 1 766.3 483.9 L761.9 486.4 Z" fill="#fff" stroke="#262626" stroke-width="1.12" stroke-linejoin="round" />
<ellipse cx="749.3" cy="464.5" rx="25.30" ry="14.60" transform="rotate(60 749.3 464.5)" fill="#fff" stroke="#262626" stroke-width="1.12" />
<ellipse cx="749.3" cy="464.5" rx="23.00" ry="13.27" transform="rotate(60 749.3 464.5)" fill="none" stroke="#262626" stroke-width="0.90" />
<ellipse cx="749.3" cy="464.5" rx="19.00" ry="10.96" transform="rotate(60 749.3 464.5)" fill="none" stroke="#262626" stroke-width="1.57" />
<ellipse cx="749.3" cy="464.5" rx="16.50" ry="9.52" transform="rotate(60 749.3 464.5)" fill="none" stroke="#262626" stroke-width="1.01" />
<ellipse cx="749.3" cy="464.5" rx="13.00" ry="7.50" transform="rotate(60 749.3 464.5)" fill="none" stroke="#262626" stroke-width="1.68" />
<path d="M761.2 470.7 L760.6 472.1 L759.8 473.2 L758.8 474.1 L757.6 474.5 L756.2 474.7 L754.7 474.4 L753.1 473.8 L751.5 472.9 L749.9 471.7 L748.4 470.2 L747.0 468.4 L745.8 466.6 L744.8 464.5 L744.0 462.5 L743.4 460.4 L743.1 458.4 L743.1 456.6 L743.4 454.9 L744.0 453.5 L744.8 452.4 L745.8 451.5 L747.0 451.1 L748.4 450.9 L749.9 451.2" fill="none" stroke="#262626" stroke-width="1.01" stroke-linejoin="round" />
<path d="M700.4 466.4 L704.7 463.9 A25.30 14.60 60 0 1 730.0 507.7 L725.6 510.2 Z" fill="#fff" stroke="#262626" stroke-width="1.12" stroke-linejoin="round" />
<ellipse cx="713.0" cy="488.3" rx="25.30" ry="14.60" transform="rotate(60 713.0 488.3)" fill="#fff" stroke="#262626" stroke-width="1.12" />
<ellipse cx="713.0" cy="488.3" rx="23.00" ry="13.27" transform="rotate(60 713.0 488.3)" fill="none" stroke="#262626" stroke-width="0.90" />
<ellipse cx="713.0" cy="488.3" rx="19.00" ry="10.96" transform="rotate(60 713.0 488.3)" fill="none" stroke="#262626" stroke-width="1.57" />
<ellipse cx="713.0" cy="488.3" rx="16.50" ry="9.52" transform="rotate(60 713.0 488.3)" fill="none" stroke="#262626" stroke-width="1.01" />
<ellipse cx="713.0" cy="488.3" rx="13.00" ry="7.50" transform="rotate(60 713.0 488.3)" fill="none" stroke="#262626" stroke-width="1.68" />
<path d="M724.9 494.5 L724.3 495.9 L723.5 497.0 L722.5 497.9 L721.3 498.3 L719.9 498.5 L718.4 498.2 L716.8 497.6 L715.2 496.7 L713.6 495.5 L712.1 494.0 L710.7 492.2 L709.5 490.4 L708.5 488.3 L707.7 486.3 L707.1 484.2 L706.8 482.2 L706.8 480.4 L707.1 478.7 L707.7 477.3 L708.5 476.2 L709.5 475.3 L710.7 474.9 L712.1 474.7 L713.6 475.0" fill="none" stroke="#262626" stroke-width="1.01" stroke-linejoin="round" />
<path d="M758.0 409.0 L758.3 407.9 L758.7 406.8 L759.3 405.7 L759.9 404.6 L760.7 403.7 L761.5 403.0 L762.4 402.5 L763.5 402.2 L764.6 402.0 L765.8 402.0 L766.9 402.2 L768.0 402.5 L769.0 403.1 L769.8 404.0 L770.7 405.1 L771.6 406.2 L772.7 407.2 L774.0 408.0 L775.6 408.5 L777.5 408.7 L779.5 408.9 L781.6 409.1 L783.8 409.4 L786.0 410.0 L788.3 410.8 L790.7 411.9 L793.1 413.0 L795.6 414.3 L797.9 415.6 L800.0 417.0 L801.9 418.6 L803.7 420.4 L805.4 422.2 L807.0 424.1 L808.6 425.7 L810.0 427.0 L811.4 427.9 L812.6 428.4 L813.8 428.7 L814.9 429.0 L815.9 429.3 L817.0 430.0 L818.1 430.9 L819.3 432.0 L820.4 433.1 L821.4 434.4 L822.3 435.7 L823.0 437.0 L823.5 438.4 L823.9 439.9 L824.2 441.4 L824.3 443.0 L824.2 444.5 L824.0 446.0 L823.5 447.4 L822.7 448.8 L821.8 450.1 L820.7 451.4 L819.8 452.7 L819.0 454.0 L818.4 455.2 L817.9 456.4 L817.4 457.6 L816.9 458.8 L816.5 459.9 L816.0 461.0 L815.6 462.1 L815.3 463.1 L814.9 464.1 L814.5 465.0 L813.9 466.0 L813.0 467.0 L811.7 468.0 L809.9 468.9 L808.0 469.9 L806.1 470.9 L804.3 471.9 L803.0 473.0 L802.1 474.3 L801.5 475.6 L801.1 477.1 L800.8 478.5 L800.5 479.8 L800.0 481.0 L799.4 482.1 L798.9 483.0 L798.2 483.9 L797.6 484.7 L796.9 485.4 L796.0 486.0 L795.0 486.5 L793.8 486.9 L792.6 487.2 L791.3 487.3 L790.1 487.3 L789.0 487.0 L788.0 486.4 L787.1 485.6 L786.2 484.6 L785.4 483.5 L784.7 482.3 L784.0 481.0 L783.5 479.8 L783.1 478.8 L782.8 477.6 L782.4 476.2 L781.8 474.4 L781.0 472.0 L779.8 468.8 L778.4 465.0 L776.8 460.8 L775.1 456.4 L773.5 452.1 L772.0 448.0 L770.6 444.1 L769.1 440.1 L767.8 436.2 L766.4 432.4 L765.1 429.0 L764.0 426.0 L762.9 423.5 L762.0 421.3 L761.1 419.5 L760.3 417.9 L759.6 416.4 L759.0 415.0 L758.5 413.7 L758.2 412.6 L758.0 411.7 L757.9 410.8 L757.9 409.9 Z" fill="#fff" stroke="#262626" stroke-width="1.12" stroke-linejoin="round" />
<path d="M756.4 409.9 L756.7 408.8 L757.1 407.7 L757.7 406.6 L758.3 405.5 L759.1 404.6 L759.9 403.9 L760.8 403.4 L761.9 403.1 L763.0 402.9 L764.2 402.9 L765.3 403.1 L766.4 403.4 L767.4 404.0 L768.2 404.9 L769.1 406.0 L770.0 407.1 L771.1 408.1 L772.4 408.9 L774.0 409.4 L775.9 409.6 L777.9 409.8 L780.0 410.0 L782.2 410.3 L784.4 410.9 L786.7 411.7 L789.1 412.8 L791.5 413.9 L794.0 415.2 L796.3 416.5 L798.4 417.9 L800.3 419.5 L802.1 421.3 L803.8 423.1 L805.4 425.0 L807.0 426.6 L808.4 427.9 L809.8 428.8 L811.0 429.3 L812.1 429.6 L813.3 429.9 L814.3 430.2 L815.4 430.9 L816.5 431.8 L817.7 432.9 L818.8 434.0 L819.8 435.3 L820.7 436.6 L821.4 437.9 L821.9 439.3 L822.3 440.8 L822.6 442.3 L822.7 443.9 L822.6 445.4 L822.4 446.9 L821.9 448.3 L821.1 449.7 L820.1 451.0 L819.1 452.3 L818.2 453.6 L817.4 454.9 L816.8 456.1 L816.3 457.3 L815.8 458.5 L815.3 459.7 L814.9 460.8 L814.4 461.9 L814.0 463.0 L813.7 464.0 L813.3 465.0 L812.9 465.9 L812.3 466.9 L811.4 467.9 L810.1 468.9 L808.3 469.8 L806.4 470.8 L804.5 471.8 L802.7 472.8 L801.4 473.9 L800.5 475.2 L799.9 476.5 L799.5 478.0 L799.2 479.4 L798.9 480.7 L798.4 481.9 L797.8 483.0 L797.3 483.9 L796.6 484.8 L796.0 485.6 L795.3 486.3 L794.4 486.9 L793.4 487.4 L792.2 487.8 L791.0 488.1 L789.7 488.2 L788.5 488.2 L787.4 487.9 L786.4 487.3 L785.5 486.5 L784.6 485.5 L783.8 484.4 L783.1 483.2 L782.4 481.9 L781.9 480.7 L781.5 479.7 L781.1 478.5 L780.8 477.1 L780.2 475.3 L779.4 472.9 L778.2 469.7 L776.8 465.9 L775.2 461.7 L773.5 457.3 L771.9 453.0 L770.4 448.9 L769.0 445.0 L767.5 441.0 L766.1 437.1 L764.8 433.3 L763.5 429.9 L762.4 426.9 L761.3 424.4 L760.4 422.2 L759.5 420.4 L758.7 418.8 L758.0 417.3 L757.4 415.9 L756.9 414.6 L756.6 413.5 L756.4 412.6 L756.3 411.7 L756.3 410.8 Z" fill="#fff" stroke="#262626" stroke-width="1.12" stroke-linejoin="round" />
<ellipse cx="787.0" cy="442.5" rx="15.00" ry="8.65" transform="rotate(60 787.0 442.5)" fill="none" stroke="#262626" stroke-width="1.23" />
<path d="M799.0 450.6 L798.4 452.2 L797.5 453.5 L796.3 454.5 L794.9 455.0 L793.3 455.2 L791.5 454.9 L789.7 454.2 L787.9 453.2 L786.1 451.7 L784.3 450.0 L782.7 448.0 L781.3 445.8 L780.1 443.5 L779.2 441.1 L778.6 438.8 L778.2 436.5 L778.2 434.3 L778.6 432.4 L779.2 430.8 L780.1 429.5 L781.3 428.5 L782.7 428.0 L784.3 427.8 L786.1 428.1" fill="none" stroke="#262626" stroke-width="1.01" stroke-linejoin="round" />
<ellipse cx="763.4" cy="413.1" rx="5.40" ry="3.12" transform="rotate(60 763.4 413.1)" fill="none" stroke="#262626" stroke-width="1.12" />
<ellipse cx="764.2" cy="412.6" rx="3.80" ry="2.19" transform="rotate(60 764.2 412.6)" fill="none" stroke="#262626" stroke-width="1.01" />
<ellipse cx="813.4" cy="440.6" rx="5.40" ry="3.12" transform="rotate(60 813.4 440.6)" fill="none" stroke="#262626" stroke-width="1.12" />
<ellipse cx="814.2" cy="440.1" rx="3.80" ry="2.19" transform="rotate(60 814.2 440.1)" fill="none" stroke="#262626" stroke-width="1.01" />
<ellipse cx="787.6" cy="476.6" rx="5.40" ry="3.12" transform="rotate(60 787.6 476.6)" fill="none" stroke="#262626" stroke-width="1.12" />
<ellipse cx="788.5" cy="476.1" rx="3.80" ry="2.19" transform="rotate(60 788.5 476.1)" fill="none" stroke="#262626" stroke-width="1.01" />
<path d="M815.0 373.9 L821.9 369.9 A7.00 4.04 60 0 1 828.9 382.1 L822.0 386.1 Z" fill="#fff" stroke="#262626" stroke-width="1.12" stroke-linejoin="round" />
<ellipse cx="818.5" cy="380.0" rx="7.00" ry="4.04" transform="rotate(60 818.5 380.0)" fill="#fff" stroke="#262626" stroke-width="1.12" />
<ellipse cx="818.5" cy="380.0" rx="5.60" ry="3.23" transform="rotate(60 818.5 380.0)" fill="none" stroke="#262626" stroke-width="0.78" />
<path d="M809.6 380.5 L816.5 376.5 A4.00 2.31 60 0 1 820.5 383.5 L813.6 387.5 Z" fill="#fff" stroke="#262626" stroke-width="1.12" stroke-linejoin="round" />
<ellipse cx="811.6" cy="384.0" rx="4.00" ry="2.31" transform="rotate(60 811.6 384.0)" fill="#fff" stroke="#262626" stroke-width="1.12" />
<ellipse cx="811.6" cy="384.0" rx="2.60" ry="1.50" transform="rotate(60 811.6 384.0)" fill="none" stroke="#262626" stroke-width="0.90" />
<path d="M863.0 403.4 L869.9 399.4 A7.00 4.04 60 0 1 876.9 411.6 L870.0 415.6 Z" fill="#fff" stroke="#262626" stroke-width="1.12" stroke-linejoin="round" />
<ellipse cx="866.5" cy="409.5" rx="7.00" ry="4.04" transform="rotate(60 866.5 409.5)" fill="#fff" stroke="#262626" stroke-width="1.12" />
<ellipse cx="866.5" cy="409.5" rx="5.60" ry="3.23" transform="rotate(60 866.5 409.5)" fill="none" stroke="#262626" stroke-width="0.78" />
<path d="M857.6 410.0 L864.5 406.0 A4.00 2.31 60 0 1 868.5 413.0 L861.6 417.0 Z" fill="#fff" stroke="#262626" stroke-width="1.12" stroke-linejoin="round" />
<ellipse cx="859.6" cy="413.5" rx="4.00" ry="2.31" transform="rotate(60 859.6 413.5)" fill="#fff" stroke="#262626" stroke-width="1.12" />
<ellipse cx="859.6" cy="413.5" rx="2.60" ry="1.50" transform="rotate(60 859.6 413.5)" fill="none" stroke="#262626" stroke-width="0.90" />
<path d="M838.5 437.9 L845.4 433.9 A7.00 4.04 60 0 1 852.4 446.1 L845.5 450.1 Z" fill="#fff" stroke="#262626" stroke-width="1.12" stroke-linejoin="round" />
<ellipse cx="842.0" cy="444.0" rx="7.00" ry="4.04" transform="rotate(60 842.0 444.0)" fill="#fff" stroke="#262626" stroke-width="1.12" />
<ellipse cx="842.0" cy="444.0" rx="5.60" ry="3.23" transform="rotate(60 842.0 444.0)" fill="none" stroke="#262626" stroke-width="0.78" />
<path d="M833.1 444.5 L840.0 440.5 A4.00 2.31 60 0 1 844.0 447.5 L837.1 451.5 Z" fill="#fff" stroke="#262626" stroke-width="1.12" stroke-linejoin="round" />
<ellipse cx="835.1" cy="448.0" rx="4.00" ry="2.31" transform="rotate(60 835.1 448.0)" fill="#fff" stroke="#262626" stroke-width="1.12" />
<ellipse cx="835.1" cy="448.0" rx="2.60" ry="1.50" transform="rotate(60 835.1 448.0)" fill="none" stroke="#262626" stroke-width="0.90" />
<path d="M667 646.4 L682.5 637.6 L684 640 L668.4 649 Z" fill="#fff" stroke="#262626" stroke-width="1.01" stroke-linejoin="round" />
<path d="M683.8 659.2 L686.4 657.7 A8.40 4.85 60 0 1 694.8 672.3 L692.2 673.8 Z" fill="#fff" stroke="#262626" stroke-width="1.12" stroke-linejoin="round" />
<ellipse cx="688.0" cy="666.5" rx="8.40" ry="4.85" transform="rotate(60 688.0 666.5)" fill="#fff" stroke="#262626" stroke-width="1.12" />
<path d="M680.8 663.5 L684.7 661.2 A6.40 3.69 60 0 1 691.1 672.3 L687.2 674.5 Z" fill="#fff" stroke="#262626" stroke-width="1.12" stroke-linejoin="round" />
<ellipse cx="684.0" cy="669.0" rx="6.40" ry="3.69" transform="rotate(60 684.0 669.0)" fill="#fff" stroke="#262626" stroke-width="1.12" />
<path d="M677.5 652 L677.5 661 Q681 665.5 688 663 L690.5 661.5 L690.5 652.5 Z" fill="#fff" stroke="#262626" stroke-width="1.12" stroke-linejoin="round" />
<path d="M677.5 652 L684 648.5 L690.5 652.5 L684 656 Z" fill="#fff" stroke="#262626" stroke-width="1.01" stroke-linejoin="round" />
<line x1="684.0" y1="656.0" x2="684.0" y2="664.0" stroke="#262626" stroke-width="0.90" />
<path d="M731.9 738.1 L782.1 709.1 A4.80 2.77 60 0 1 786.9 717.5 L736.7 746.5 Z" fill="#fff" stroke="#262626" stroke-width="1.12" stroke-linejoin="round" />
<ellipse cx="734.3" cy="742.3" rx="4.80" ry="2.77" transform="rotate(60 734.3 742.3)" fill="#fff" stroke="#262626" stroke-width="1.12" />
<path d="M722.0 741.1 L734.2 734.1 A7.20 4.15 60 0 1 741.4 746.5 L729.2 753.5 Z" fill="#fff" stroke="#262626" stroke-width="1.12" stroke-linejoin="round" />
<ellipse cx="725.6" cy="747.3" rx="7.20" ry="4.15" transform="rotate(60 725.6 747.3)" fill="#fff" stroke="#262626" stroke-width="1.12" />
<path d="M688.1 762.3 L724.5 741.3 A5.80 3.35 60 0 1 730.3 751.3 L693.9 772.3 Z" fill="#fff" stroke="#262626" stroke-width="1.12" stroke-linejoin="round" />
<ellipse cx="691.0" cy="767.3" rx="5.80" ry="3.35" transform="rotate(60 691.0 767.3)" fill="#fff" stroke="#262626" stroke-width="1.12" />
<ellipse cx="691.0" cy="767.3" rx="3.80" ry="2.19" transform="rotate(60 691.0 767.3)" fill="none" stroke="#262626" stroke-width="1.46" />
<ellipse cx="691.0" cy="767.3" rx="1.90" ry="1.10" transform="rotate(60 691.0 767.3)" fill="none" stroke="#262626" stroke-width="0.90" />
<ellipse cx="797.3" cy="704.6" rx="9.60" ry="5.54" transform="rotate(60 797.3 704.6)" fill="#fff" stroke="#262626" stroke-width="1.12" />
<ellipse cx="796.3" cy="705.2" rx="9.60" ry="5.54" transform="rotate(60 796.3 705.2)" fill="#fff" stroke="#262626" stroke-width="1.12" />
<ellipse cx="796.3" cy="705.2" rx="5.20" ry="3.00" transform="rotate(60 796.3 705.2)" fill="none" stroke="#262626" stroke-width="1.23" />
<path d="M803.7 692.7 L806.7 691.0 A7.60 4.39 60 0 1 814.3 704.1 L811.3 705.9 Z" fill="#fff" stroke="#262626" stroke-width="1.12" stroke-linejoin="round" />
<ellipse cx="807.5" cy="699.3" rx="7.60" ry="4.39" transform="rotate(60 807.5 699.3)" fill="#fff" stroke="#262626" stroke-width="1.12" />
<ellipse cx="807.5" cy="699.3" rx="4.40" ry="2.54" transform="rotate(60 807.5 699.3)" fill="none" stroke="#262626" stroke-width="1.46" />
<path d="M803.5 693.5 L809 690.5 M805.5 706.5 L811.5 703" fill="none" stroke="#262626" stroke-width="0.90" stroke-linejoin="round" />
<path d="M816.6 682.4 L823.1 678.6 A8.80 5.08 60 0 1 831.9 693.9 L825.4 697.6 Z" fill="#fff" stroke="#262626" stroke-width="1.12" stroke-linejoin="round" />
<ellipse cx="821.0" cy="690.0" rx="8.80" ry="5.08" transform="rotate(60 821.0 690.0)" fill="#fff" stroke="#262626" stroke-width="1.12" />
<ellipse cx="821.0" cy="690.0" rx="5.40" ry="3.12" transform="rotate(60 821.0 690.0)" fill="none" stroke="#262626" stroke-width="1.57" />
<path d="M826.0 693.1 L825.7 693.5 L825.3 693.8 L824.8 694.0 L824.3 694.1 L823.8 694.1 L823.2 693.9 L822.6 693.6 L821.9 693.2 L821.4 692.7 L820.8 692.1 L820.3 691.5 L819.8 690.8 L819.4 690.0 L819.1 689.2 L818.9 688.4 L818.7 687.7 L818.7 686.9 L818.7 686.3 L818.9 685.7 L819.1 685.2 L819.5 684.8 L819.9 684.5 L820.4 684.3 L820.9 684.3" fill="none" stroke="#262626" stroke-width="0.90" stroke-linejoin="round" />
<path d="M817 682.5 L823.5 679 M824.5 697.8 L831 694" fill="none" stroke="#262626" stroke-width="0.90" stroke-linejoin="round" />
<line x1="830.0" y1="685.0" x2="838.0" y2="680.4" stroke="#444" stroke-width="0.90" stroke-dasharray="9 3"/>
<text x="174.0" y="129.0" textLength="13.0" lengthAdjust="spacingAndGlyphs" class="lb">33</text>
<line x1="172.5" y1="133.5" x2="188.0" y2="133.5" stroke="#3a3a3a" stroke-width="1.01" />
<line x1="188.0" y1="133.5" x2="320.0" y2="272.0" stroke="#333" stroke-width="0.95" />
<text x="240.0" y="129.0" textLength="13.0" lengthAdjust="spacingAndGlyphs" class="lb">34</text>
<line x1="238.0" y1="133.5" x2="255.0" y2="133.5" stroke="#3a3a3a" stroke-width="1.01" />
<line x1="255.0" y1="133.5" x2="305.0" y2="212.5" stroke="#333" stroke-width="0.95" />
<text x="299.5" y="129.0" textLength="13.0" lengthAdjust="spacingAndGlyphs" class="lb">35</text>
<line x1="298.0" y1="133.5" x2="315.0" y2="133.5" stroke="#3a3a3a" stroke-width="1.01" />
<line x1="315.0" y1="133.5" x2="369.0" y2="270.0" stroke="#333" stroke-width="0.95" />
<text x="346.5" y="129.0" textLength="13.0" lengthAdjust="spacingAndGlyphs" class="lb">36</text>
<line x1="345.0" y1="133.5" x2="362.0" y2="133.5" stroke="#3a3a3a" stroke-width="1.01" />
<line x1="362.0" y1="133.5" x2="425.0" y2="245.0" stroke="#333" stroke-width="0.95" />
<text x="398.5" y="129.0" textLength="13.0" lengthAdjust="spacingAndGlyphs" class="lb">37</text>
<line x1="397.0" y1="133.5" x2="414.0" y2="133.5" stroke="#3a3a3a" stroke-width="1.01" />
<line x1="414.0" y1="133.5" x2="442.5" y2="184.0" stroke="#333" stroke-width="0.95" />
<text x="444.5" y="129.0" textLength="13.0" lengthAdjust="spacingAndGlyphs" class="lb">38</text>
<line x1="443.0" y1="133.5" x2="458.0" y2="133.5" stroke="#3a3a3a" stroke-width="1.01" />
<line x1="458.0" y1="133.5" x2="474.0" y2="236.0" stroke="#333" stroke-width="0.95" />
<text x="405.5" y="41.0" textLength="13.0" lengthAdjust="spacingAndGlyphs" class="lb">39</text>
<line x1="404.0" y1="45.5" x2="421.0" y2="45.5" stroke="#3a3a3a" stroke-width="1.01" />
<line x1="421.0" y1="45.5" x2="463.0" y2="88.0" stroke="#333" stroke-width="0.95" />
<text x="443.5" y="41.0" textLength="13.0" lengthAdjust="spacingAndGlyphs" class="lb">40</text>
<line x1="442.0" y1="45.5" x2="459.0" y2="45.5" stroke="#3a3a3a" stroke-width="1.01" />
<line x1="459.0" y1="45.5" x2="493.0" y2="96.0" stroke="#333" stroke-width="0.95" />
<text x="478.5" y="41.0" textLength="13.0" lengthAdjust="spacingAndGlyphs" class="lb">41</text>
<line x1="476.5" y1="45.5" x2="492.0" y2="45.5" stroke="#3a3a3a" stroke-width="1.01" />
<line x1="492.0" y1="45.5" x2="511.0" y2="110.0" stroke="#333" stroke-width="0.95" />
<text x="514.5" y="41.0" textLength="13.0" lengthAdjust="spacingAndGlyphs" class="lb">42</text>
<line x1="513.0" y1="45.5" x2="529.0" y2="45.5" stroke="#3a3a3a" stroke-width="1.01" />
<line x1="529.0" y1="45.5" x2="534.0" y2="125.0" stroke="#333" stroke-width="0.95" />
<text x="655.0" y="21.5" textLength="13.0" lengthAdjust="spacingAndGlyphs" class="lb">43</text>
<line x1="652.0" y1="26.0" x2="669.5" y2="26.0" stroke="#3a3a3a" stroke-width="1.01" />
<line x1="652.0" y1="26.0" x2="627.0" y2="55.5" stroke="#333" stroke-width="0.95" />
<text x="739.0" y="21.5" textLength="13.0" lengthAdjust="spacingAndGlyphs" class="lb">44</text>
<line x1="737.5" y1="26.0" x2="753.5" y2="26.0" stroke="#3a3a3a" stroke-width="1.01" />
<line x1="737.5" y1="26.0" x2="709.0" y2="87.5" stroke="#333" stroke-width="0.95" />
<text x="827.5" y="105.5" textLength="13.0" lengthAdjust="spacingAndGlyphs" class="lb">45</text>
<line x1="825.5" y1="110.0" x2="842.0" y2="110.0" stroke="#3a3a3a" stroke-width="1.01" />
<line x1="825.5" y1="110.0" x2="788.0" y2="141.0" stroke="#333" stroke-width="0.95" />
<text x="827.5" y="165.5" textLength="13.0" lengthAdjust="spacingAndGlyphs" class="lb">46</text>
<line x1="825.5" y1="170.0" x2="842.0" y2="170.0" stroke="#3a3a3a" stroke-width="1.01" />
<line x1="825.5" y1="170.0" x2="787.0" y2="197.5" stroke="#333" stroke-width="0.95" />
<text x="176.0" y="169.5" textLength="13.0" lengthAdjust="spacingAndGlyphs" class="lb">32</text>
<line x1="174.0" y1="174.0" x2="189.0" y2="174.0" stroke="#3a3a3a" stroke-width="1.01" />
<line x1="189.0" y1="174.0" x2="233.0" y2="200.0" stroke="#333" stroke-width="0.95" />
<text x="176.0" y="200.0" textLength="13.0" lengthAdjust="spacingAndGlyphs" class="lb">31</text>
<line x1="174.0" y1="204.5" x2="189.0" y2="204.5" stroke="#3a3a3a" stroke-width="1.01" />
<line x1="189.0" y1="204.5" x2="235.0" y2="245.0" stroke="#333" stroke-width="0.95" />
<text x="138.0" y="230.0" textLength="13.0" lengthAdjust="spacingAndGlyphs" class="lb">29</text>
<line x1="137.0" y1="234.0" x2="153.0" y2="234.0" stroke="#3a3a3a" stroke-width="1.01" />
<line x1="153.0" y1="234.0" x2="173.0" y2="279.0" stroke="#333" stroke-width="0.95" />
<text x="176.0" y="230.0" textLength="13.0" lengthAdjust="spacingAndGlyphs" class="lb">30</text>
<line x1="175.0" y1="234.0" x2="190.5" y2="234.0" stroke="#3a3a3a" stroke-width="1.01" />
<line x1="190.5" y1="234.0" x2="240.0" y2="302.0" stroke="#333" stroke-width="0.95" />
<text x="138.0" y="264.0" textLength="13.0" lengthAdjust="spacingAndGlyphs" class="lb">28</text>
<line x1="137.0" y1="268.5" x2="152.5" y2="268.5" stroke="#3a3a3a" stroke-width="1.01" />
<line x1="152.5" y1="268.5" x2="165.0" y2="282.0" stroke="#333" stroke-width="0.95" />
<text x="137.0" y="304.0" textLength="13.0" lengthAdjust="spacingAndGlyphs" class="lb">27</text>
<line x1="136.0" y1="308.0" x2="152.0" y2="308.0" stroke="#3a3a3a" stroke-width="1.01" />
<line x1="152.0" y1="308.0" x2="179.0" y2="335.0" stroke="#333" stroke-width="0.95" />
<text x="112.5" y="322.5" textLength="13.0" lengthAdjust="spacingAndGlyphs" class="lb">26</text>
<line x1="111.0" y1="327.0" x2="128.0" y2="327.0" stroke="#3a3a3a" stroke-width="1.01" />
<line x1="128.0" y1="327.0" x2="179.0" y2="393.5" stroke="#333" stroke-width="0.95" />
<text x="55.5" y="361.0" textLength="13.0" lengthAdjust="spacingAndGlyphs" class="lb">25</text>
<line x1="54.0" y1="365.0" x2="71.0" y2="365.0" stroke="#3a3a3a" stroke-width="1.01" />
<line x1="71.0" y1="365.0" x2="120.0" y2="433.5" stroke="#333" stroke-width="0.95" />
<text x="27.0" y="382.0" textLength="13.0" lengthAdjust="spacingAndGlyphs" class="lb">24</text>
<line x1="25.5" y1="386.0" x2="42.0" y2="386.0" stroke="#3a3a3a" stroke-width="1.01" />
<line x1="42.0" y1="386.0" x2="54.0" y2="406.0" stroke="#333" stroke-width="0.95" />
<text x="329.5" y="374.0" textLength="13.0" lengthAdjust="spacingAndGlyphs" class="lb">21</text>
<line x1="327.0" y1="378.0" x2="343.5" y2="378.0" stroke="#3a3a3a" stroke-width="1.01" />
<line x1="327.0" y1="378.0" x2="293.5" y2="355.0" stroke="#333" stroke-width="0.95" />
<text x="268.5" y="408.5" textLength="13.0" lengthAdjust="spacingAndGlyphs" class="lb">22</text>
<line x1="267.0" y1="412.0" x2="283.5" y2="412.0" stroke="#3a3a3a" stroke-width="1.01" />
<line x1="283.5" y1="412.0" x2="305.0" y2="440.0" stroke="#333" stroke-width="0.95" />
<text x="240.0" y="425.5" textLength="13.0" lengthAdjust="spacingAndGlyphs" class="lb">23</text>
<line x1="238.0" y1="429.0" x2="255.0" y2="429.0" stroke="#3a3a3a" stroke-width="1.01" />
<line x1="255.0" y1="429.0" x2="273.5" y2="447.0" stroke="#333" stroke-width="0.95" />
<text x="523.0" y="377.0" textLength="13.0" lengthAdjust="spacingAndGlyphs" class="lb">20</text>
<line x1="520.0" y1="381.5" x2="537.0" y2="381.5" stroke="#3a3a3a" stroke-width="1.01" />
<line x1="520.0" y1="381.5" x2="492.0" y2="353.5" stroke="#333" stroke-width="0.95" />
<text x="497.0" y="408.5" textLength="13.0" lengthAdjust="spacingAndGlyphs" class="lb">19</text>
<line x1="493.0" y1="412.5" x2="511.0" y2="412.5" stroke="#3a3a3a" stroke-width="1.01" />
<line x1="493.0" y1="412.5" x2="461.5" y2="384.0" stroke="#333" stroke-width="0.95" />
<text x="442.5" y="452.0" textLength="13.0" lengthAdjust="spacingAndGlyphs" class="lb">18</text>
<line x1="438.5" y1="457.0" x2="456.5" y2="457.0" stroke="#3a3a3a" stroke-width="1.01" />
<line x1="438.5" y1="457.0" x2="399.8" y2="408.5" stroke="#333" stroke-width="0.95" />
<text x="810.0" y="515.0" textLength="13.0" lengthAdjust="spacingAndGlyphs" class="lb">47</text>
<line x1="807.0" y1="519.5" x2="824.0" y2="519.5" stroke="#3a3a3a" stroke-width="1.01" />
<line x1="807.0" y1="519.5" x2="764.0" y2="473.0" stroke="#333" stroke-width="0.95" />
<text x="735.0" y="563.5" textLength="4.0" lengthAdjust="spacingAndGlyphs" class="lb">1</text>
<line x1="729.0" y1="567.5" x2="745.5" y2="567.5" stroke="#3a3a3a" stroke-width="1.01" />
<line x1="729.0" y1="567.5" x2="674.5" y2="538.0" stroke="#333" stroke-width="0.95" />
<text x="735.0" y="610.0" textLength="5.5" lengthAdjust="spacingAndGlyphs" class="lb">2</text>
<line x1="729.0" y1="614.0" x2="745.5" y2="614.0" stroke="#3a3a3a" stroke-width="1.01" />
<line x1="729.0" y1="614.0" x2="683.0" y2="638.5" stroke="#333" stroke-width="0.95" />
<text x="735.0" y="647.0" textLength="5.5" lengthAdjust="spacingAndGlyphs" class="lb">3</text>
<line x1="729.0" y1="651.0" x2="745.5" y2="651.0" stroke="#3a3a3a" stroke-width="1.01" />
<line x1="729.0" y1="651.0" x2="694.0" y2="664.5" stroke="#333" stroke-width="0.95" />
<text x="841.0" y="671.5" textLength="13.0" lengthAdjust="spacingAndGlyphs" class="lb">48</text>
<line x1="835.5" y1="675.0" x2="855.5" y2="675.0" stroke="#3a3a3a" stroke-width="1.01" />
<line x1="835.5" y1="675.0" x2="825.5" y2="684.0" stroke="#333" stroke-width="0.95" />
<text x="841.0" y="713.5" textLength="13.0" lengthAdjust="spacingAndGlyphs" class="lb">49</text>
<line x1="838.0" y1="717.5" x2="855.5" y2="717.5" stroke="#3a3a3a" stroke-width="1.01" />
<line x1="838.0" y1="717.5" x2="813.0" y2="698.0" stroke="#333" stroke-width="0.95" />
<text x="841.0" y="744.0" textLength="13.0" lengthAdjust="spacingAndGlyphs" class="lb">50</text>
<line x1="838.0" y1="748.5" x2="855.5" y2="748.5" stroke="#3a3a3a" stroke-width="1.01" />
<line x1="838.0" y1="748.5" x2="800.5" y2="710.5" stroke="#333" stroke-width="0.95" />
<text x="841.0" y="771.0" textLength="13.0" lengthAdjust="spacingAndGlyphs" class="lb">51</text>
<line x1="838.0" y1="775.0" x2="855.5" y2="775.0" stroke="#3a3a3a" stroke-width="1.01" />
<line x1="838.0" y1="775.0" x2="753.0" y2="731.0" stroke="#333" stroke-width="0.95" />
<text x="653.0" y="689.5" textLength="5.5" lengthAdjust="spacingAndGlyphs" class="lb">4</text>
<line x1="647.0" y1="694.5" x2="663.0" y2="694.5" stroke="#3a3a3a" stroke-width="1.01" />
<line x1="647.0" y1="694.5" x2="554.5" y2="607.0" stroke="#333" stroke-width="0.95" />
<text x="531.5" y="744.0" textLength="5.5" lengthAdjust="spacingAndGlyphs" class="lb">5</text>
<line x1="526.0" y1="748.5" x2="542.5" y2="748.5" stroke="#3a3a3a" stroke-width="1.01" />
<line x1="526.0" y1="748.5" x2="468.0" y2="684.0" stroke="#333" stroke-width="0.95" />
<text x="467.5" y="744.0" textLength="5.5" lengthAdjust="spacingAndGlyphs" class="lb">6</text>
<line x1="462.0" y1="748.5" x2="478.0" y2="748.5" stroke="#3a3a3a" stroke-width="1.01" />
<line x1="462.0" y1="748.5" x2="413.0" y2="668.0" stroke="#333" stroke-width="0.95" />
<text x="421.0" y="743.5" textLength="5.5" lengthAdjust="spacingAndGlyphs" class="lb">7</text>
<line x1="415.0" y1="748.0" x2="432.0" y2="748.0" stroke="#3a3a3a" stroke-width="1.01" />
<line x1="415.0" y1="748.0" x2="378.5" y2="709.0" stroke="#333" stroke-width="0.95" />
<text x="132.5" y="718.5" textLength="13.0" lengthAdjust="spacingAndGlyphs" class="lb">10</text>
<line x1="129.5" y1="723.0" x2="146.0" y2="723.0" stroke="#3a3a3a" stroke-width="1.01" />
<line x1="146.0" y1="723.0" x2="184.0" y2="768.0" stroke="#333" stroke-width="0.95" />
<text x="91.0" y="746.5" textLength="10.0" lengthAdjust="spacingAndGlyphs" class="lb">11</text>
<line x1="88.0" y1="750.5" x2="104.5" y2="750.5" stroke="#3a3a3a" stroke-width="1.01" />
<line x1="104.5" y1="750.5" x2="135.0" y2="785.5" stroke="#333" stroke-width="0.95" />
<text x="44.5" y="778.5" textLength="13.0" lengthAdjust="spacingAndGlyphs" class="lb">12</text>
<line x1="41.0" y1="783.0" x2="58.0" y2="783.0" stroke="#3a3a3a" stroke-width="1.01" />
<line x1="58.0" y1="783.0" x2="72.5" y2="808.0" stroke="#333" stroke-width="0.95" />
<text x="199.0" y="683.5" textLength="5.5" lengthAdjust="spacingAndGlyphs" class="lb">9</text>
<line x1="192.5" y1="687.0" x2="210.0" y2="687.0" stroke="#3a3a3a" stroke-width="1.01" />
<line x1="210.0" y1="687.0" x2="255.0" y2="757.0" stroke="#333" stroke-width="0.95" />
<text x="245.5" y="660.5" textLength="5.5" lengthAdjust="spacingAndGlyphs" class="lb">8</text>
<line x1="241.0" y1="665.0" x2="257.0" y2="665.0" stroke="#3a3a3a" stroke-width="1.01" />
<line x1="257.0" y1="665.0" x2="301.0" y2="697.0" stroke="#333" stroke-width="0.95" />
<text x="136.0" y="618.5" textLength="13.0" lengthAdjust="spacingAndGlyphs" class="lb">13</text>
<line x1="133.0" y1="623.0" x2="150.0" y2="623.0" stroke="#3a3a3a" stroke-width="1.01" />
<line x1="133.0" y1="623.0" x2="95.5" y2="573.0" stroke="#333" stroke-width="0.95" />
<text x="172.5" y="598.5" textLength="13.0" lengthAdjust="spacingAndGlyphs" class="lb">14</text>
<line x1="170.0" y1="603.0" x2="186.0" y2="603.0" stroke="#3a3a3a" stroke-width="1.01" />
<line x1="170.0" y1="603.0" x2="145.0" y2="559.5" stroke="#333" stroke-width="0.95" />
<text x="205.0" y="582.5" textLength="13.0" lengthAdjust="spacingAndGlyphs" class="lb">15</text>
<line x1="202.5" y1="587.5" x2="219.0" y2="587.5" stroke="#3a3a3a" stroke-width="1.01" />
<line x1="202.5" y1="587.5" x2="172.5" y2="539.5" stroke="#333" stroke-width="0.95" />
<text x="231.0" y="568.0" textLength="13.0" lengthAdjust="spacingAndGlyphs" class="lb">16</text>
<line x1="227.5" y1="572.5" x2="244.0" y2="572.5" stroke="#3a3a3a" stroke-width="1.01" />
<line x1="227.5" y1="572.5" x2="187.5" y2="511.0" stroke="#333" stroke-width="0.95" />
<text x="272.0" y="542.5" textLength="13.0" lengthAdjust="spacingAndGlyphs" class="lb">17</text>
<line x1="268.5" y1="547.0" x2="285.5" y2="547.0" stroke="#3a3a3a" stroke-width="1.01" />
<line x1="268.5" y1="547.0" x2="240.0" y2="512.0" stroke="#333" stroke-width="0.95" />
<text x="85.0" y="347.2" textLength="12.0" lengthAdjust="spacingAndGlyphs" class="lb">14</text>
<line x1="99.0" y1="341.0" x2="116.5" y2="371.0" stroke="#333" stroke-width="0.95" />
<rect x="82.5" y="332.0" width="16.5" height="20.0" fill="none" stroke="#3a3a3a" stroke-width="1"/>
<text x="293.0" y="387.7" textLength="12.0" lengthAdjust="spacingAndGlyphs" class="lb">20</text>
<line x1="290.5" y1="383.0" x2="261.0" y2="373.5" stroke="#333" stroke-width="0.95" />
<rect x="290.5" y="373.5" width="17.0" height="19.5" fill="none" stroke="#3a3a3a" stroke-width="1"/>
<text x="849.5" y="339.7" textLength="11.0" lengthAdjust="spacingAndGlyphs" class="lb">12</text>
<line x1="846.0" y1="336.0" x2="825.5" y2="378.5" stroke="#333" stroke-width="0.95" />
<rect x="846.0" y="325.0" width="16.5" height="20.0" fill="none" stroke="#3a3a3a" stroke-width="1"/>
<text x="837.0" y="491.7" textLength="10.0" lengthAdjust="spacingAndGlyphs" class="lb">11</text>
<line x1="833.5" y1="487.0" x2="807.0" y2="464.5" stroke="#333" stroke-width="0.95" />
<rect x="833.5" y="477.0" width="16.5" height="20.0" fill="none" stroke="#3a3a3a" stroke-width="1"/>
<text x="779.0" y="533.7" textLength="12.5" lengthAdjust="spacingAndGlyphs" class="lb">47</text>
<line x1="777.0" y1="526.0" x2="727.0" y2="493.0" stroke="#333" stroke-width="0.95" />
<rect x="777.0" y="519.0" width="16.5" height="20.0" fill="none" stroke="#3a3a3a" stroke-width="1"/>
<text x="279.5" y="818.7" textLength="11.5" lengthAdjust="spacingAndGlyphs" class="lb">10</text>
<line x1="277.0" y1="809.0" x2="242.0" y2="784.0" stroke="#333" stroke-width="0.95" />
<rect x="277.0" y="804.0" width="16.0" height="20.0" fill="none" stroke="#3a3a3a" stroke-width="1"/>
</svg>
</body></html>
